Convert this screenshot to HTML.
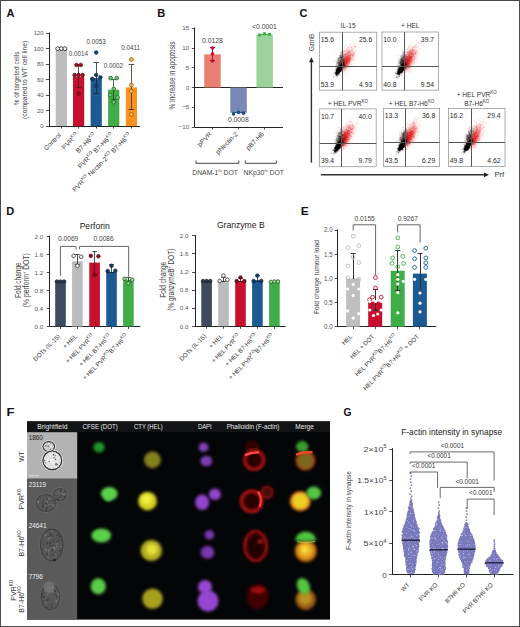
<!DOCTYPE html>
<html><head><meta charset="utf-8"><style>
html,body{margin:0;padding:0;background:#fff;}
body{width:520px;height:627px;overflow:hidden;}
svg{display:block;}
text{font-family:"Liberation Sans", sans-serif;}
</style></head><body>
<svg width="520" height="627" viewBox="0 0 520 627">
<text x="6.50" y="16.50" font-size="10" text-anchor="start" fill="#111" font-weight="bold" textLength="8.0" lengthAdjust="spacingAndGlyphs">A</text>
<line x1="49.50" y1="32.50" x2="49.50" y2="126.10" stroke="#222" stroke-width="1.0"/>
<line x1="49.00" y1="126.50" x2="140.00" y2="126.50" stroke="#222" stroke-width="1.0"/>
<line x1="46.00" y1="126.50" x2="49.00" y2="126.50" stroke="#222" stroke-width="0.8"/>
<text x="43.70" y="128.20" font-size="6.0" text-anchor="end" fill="#555">0</text>
<line x1="46.00" y1="110.50" x2="49.00" y2="110.50" stroke="#222" stroke-width="0.8"/>
<text x="43.70" y="112.72" font-size="6.0" text-anchor="end" fill="#555">20</text>
<line x1="46.00" y1="95.50" x2="49.00" y2="95.50" stroke="#222" stroke-width="0.8"/>
<text x="43.70" y="97.23" font-size="6.0" text-anchor="end" fill="#555">40</text>
<line x1="46.00" y1="79.50" x2="49.00" y2="79.50" stroke="#222" stroke-width="0.8"/>
<text x="43.70" y="81.75" font-size="6.0" text-anchor="end" fill="#555">60</text>
<line x1="46.00" y1="64.50" x2="49.00" y2="64.50" stroke="#222" stroke-width="0.8"/>
<text x="43.70" y="66.27" font-size="6.0" text-anchor="end" fill="#555">80</text>
<line x1="46.00" y1="48.50" x2="49.00" y2="48.50" stroke="#222" stroke-width="0.8"/>
<text x="43.70" y="50.78" font-size="6.0" text-anchor="end" fill="#555">100</text>
<line x1="46.00" y1="33.50" x2="49.00" y2="33.50" stroke="#222" stroke-width="0.8"/>
<text x="43.70" y="35.30" font-size="6.0" text-anchor="end" fill="#555">120</text>
<text transform="translate(18.60,78.40) rotate(-90)" font-size="7.6" text-anchor="middle" fill="#444" textLength="53.8" lengthAdjust="spacingAndGlyphs">% of targeted cells</text>
<text transform="translate(27.10,79.80) rotate(-90)" font-size="7.6" text-anchor="middle" fill="#444" textLength="78.2" lengthAdjust="spacingAndGlyphs">(compared to WT cell line)</text>
<rect x="55.70" y="48.68" width="11.20" height="77.42" fill="#bcbcbe"/>
<line x1="61.50" y1="126.10" x2="61.50" y2="128.60" stroke="#222" stroke-width="0.8"/>
<rect x="73.00" y="76.55" width="11.20" height="49.55" fill="#c8102e"/>
<line x1="78.50" y1="126.10" x2="78.50" y2="128.60" stroke="#222" stroke-width="0.8"/>
<rect x="90.60" y="78.10" width="11.20" height="48.00" fill="#1b5a93"/>
<line x1="96.50" y1="126.10" x2="96.50" y2="128.60" stroke="#222" stroke-width="0.8"/>
<rect x="108.10" y="89.71" width="11.20" height="36.39" fill="#3fae49"/>
<line x1="113.50" y1="126.10" x2="113.50" y2="128.60" stroke="#222" stroke-width="0.8"/>
<rect x="125.80" y="87.39" width="11.20" height="38.71" fill="#f7931e"/>
<line x1="131.50" y1="126.10" x2="131.50" y2="128.60" stroke="#222" stroke-width="0.8"/>
<circle cx="57.70" cy="48.68" r="1.90" fill="#fff" stroke="#333" stroke-width="0.9"/>
<circle cx="61.30" cy="48.68" r="1.90" fill="#fff" stroke="#333" stroke-width="0.9"/>
<circle cx="64.90" cy="48.68" r="1.90" fill="#fff" stroke="#333" stroke-width="0.9"/>
<line x1="78.50" y1="64.94" x2="78.50" y2="87.39" stroke="#3a1a1a" stroke-width="0.8"/>
<line x1="76.10" y1="64.50" x2="81.10" y2="64.50" stroke="#3a1a1a" stroke-width="0.8"/>
<line x1="76.10" y1="87.50" x2="81.10" y2="87.50" stroke="#3a1a1a" stroke-width="0.8"/>
<circle cx="76.40" cy="64.94" r="1.80" fill="#a0101e" stroke="#4a0a10" stroke-width="0.7"/>
<circle cx="80.80" cy="64.94" r="1.80" fill="#a0101e" stroke="#4a0a10" stroke-width="0.7"/>
<circle cx="74.60" cy="75.00" r="1.80" fill="#a0101e" stroke="#4a0a10" stroke-width="0.7"/>
<circle cx="78.60" cy="75.00" r="1.80" fill="#a0101e" stroke="#4a0a10" stroke-width="0.7"/>
<circle cx="82.60" cy="75.00" r="1.80" fill="#a0101e" stroke="#4a0a10" stroke-width="0.7"/>
<circle cx="78.60" cy="93.58" r="1.80" fill="#a0101e" stroke="#4a0a10" stroke-width="0.7"/>
<line x1="96.50" y1="62.62" x2="96.50" y2="93.58" stroke="#222" stroke-width="0.8"/>
<line x1="93.45" y1="62.50" x2="98.95" y2="62.50" stroke="#222" stroke-width="0.8"/>
<line x1="93.45" y1="93.50" x2="98.95" y2="93.50" stroke="#222" stroke-width="0.8"/>
<circle cx="96.20" cy="52.55" r="1.80" fill="#12406a" stroke="#0d2a45" stroke-width="0.7"/>
<circle cx="96.20" cy="75.00" r="1.80" fill="#12406a" stroke="#0d2a45" stroke-width="0.7"/>
<circle cx="92.30" cy="78.88" r="1.80" fill="#12406a" stroke="#0d2a45" stroke-width="0.7"/>
<circle cx="100.40" cy="77.33" r="1.80" fill="#12406a" stroke="#0d2a45" stroke-width="0.7"/>
<circle cx="96.20" cy="85.84" r="1.80" fill="#12406a" stroke="#0d2a45" stroke-width="0.7"/>
<line x1="113.50" y1="79.65" x2="113.50" y2="99.78" stroke="#1c4a20" stroke-width="0.8"/>
<line x1="111.20" y1="79.50" x2="116.20" y2="79.50" stroke="#1c4a20" stroke-width="0.8"/>
<line x1="111.20" y1="99.50" x2="116.20" y2="99.50" stroke="#1c4a20" stroke-width="0.8"/>
<circle cx="110.60" cy="78.10" r="1.90" fill="#6cc070" stroke="#2a6a2e" stroke-width="0.8"/>
<circle cx="116.80" cy="78.10" r="1.90" fill="#6cc070" stroke="#2a6a2e" stroke-width="0.8"/>
<circle cx="113.70" cy="88.94" r="1.90" fill="#6cc070" stroke="#2a6a2e" stroke-width="0.8"/>
<circle cx="110.20" cy="95.13" r="1.90" fill="#6cc070" stroke="#2a6a2e" stroke-width="0.8"/>
<circle cx="117.40" cy="97.46" r="1.90" fill="#6cc070" stroke="#2a6a2e" stroke-width="0.8"/>
<circle cx="113.70" cy="102.10" r="1.90" fill="#6cc070" stroke="#2a6a2e" stroke-width="0.8"/>
<line x1="131.50" y1="64.94" x2="131.50" y2="109.84" stroke="#3a2a10" stroke-width="0.8"/>
<line x1="128.65" y1="64.50" x2="134.15" y2="64.50" stroke="#3a2a10" stroke-width="0.8"/>
<line x1="128.65" y1="109.50" x2="134.15" y2="109.50" stroke="#3a2a10" stroke-width="0.8"/>
<circle cx="131.40" cy="59.52" r="1.90" fill="#fbb35a" stroke="#9a5a10" stroke-width="0.8"/>
<circle cx="131.40" cy="85.07" r="1.90" fill="#fbb35a" stroke="#9a5a10" stroke-width="0.8"/>
<circle cx="131.40" cy="91.26" r="1.90" fill="#fbb35a" stroke="#9a5a10" stroke-width="0.8"/>
<circle cx="131.40" cy="114.49" r="1.90" fill="#fbb35a" stroke="#9a5a10" stroke-width="0.8"/>
<text x="78.30" y="55.60" font-size="6.3" text-anchor="middle" fill="#444">0.0014</text>
<text x="96.20" y="43.60" font-size="6.3" text-anchor="middle" fill="#444">0.0053</text>
<text x="113.40" y="68.30" font-size="6.3" text-anchor="middle" fill="#444">0.0002</text>
<text x="121.20" y="49.90" font-size="6.3" text-anchor="start" fill="#444">0.0411</text>
<text transform="translate(61.50,135.70) rotate(-45)" font-size="6.6" text-anchor="end" fill="#383838">Control</text>
<text transform="translate(78.80,135.70) rotate(-45)" font-size="6.6" text-anchor="end" fill="#383838">PVR<tspan font-size="4.5" dy="-3">KO</tspan><tspan dy="3"></tspan></text>
<text transform="translate(96.40,135.70) rotate(-45)" font-size="6.6" text-anchor="end" fill="#383838">B7-H6<tspan font-size="4.5" dy="-3">KO</tspan><tspan dy="3"></tspan></text>
<text transform="translate(113.90,135.70) rotate(-45)" font-size="6.6" text-anchor="end" fill="#383838">PVR<tspan font-size="4.5" dy="-3">KO</tspan><tspan dy="3"> B7-H6</tspan><tspan font-size="4.5" dy="-3">KO</tspan><tspan dy="3"></tspan></text>
<text transform="translate(131.60,135.70) rotate(-45)" font-size="6.6" text-anchor="end" fill="#383838">PVR<tspan font-size="4.5" dy="-3">KO</tspan><tspan dy="3"> Nectin-2</tspan><tspan font-size="4.5" dy="-3">KO</tspan><tspan dy="3"> B7-H6</tspan><tspan font-size="4.5" dy="-3">KO</tspan><tspan dy="3"></tspan></text>
<text x="157.20" y="16.50" font-size="10" text-anchor="start" fill="#111" font-weight="bold" textLength="8.0" lengthAdjust="spacingAndGlyphs">B</text>
<line x1="194.50" y1="27.50" x2="194.50" y2="127.00" stroke="#222" stroke-width="1.0"/>
<line x1="194.80" y1="127.50" x2="283.00" y2="127.50" stroke="#222" stroke-width="1.0"/>
<line x1="194.80" y1="87.50" x2="283.00" y2="87.50" stroke="#222" stroke-width="1.0"/>
<line x1="191.80" y1="28.50" x2="194.80" y2="28.50" stroke="#222" stroke-width="0.8"/>
<text x="189.20" y="30.45" font-size="6.2" text-anchor="end" fill="#555">15</text>
<line x1="191.80" y1="48.50" x2="194.80" y2="48.50" stroke="#222" stroke-width="0.8"/>
<text x="189.20" y="50.20" font-size="6.2" text-anchor="end" fill="#555">10</text>
<line x1="191.80" y1="67.50" x2="194.80" y2="67.50" stroke="#222" stroke-width="0.8"/>
<text x="189.20" y="69.95" font-size="6.2" text-anchor="end" fill="#555">5</text>
<line x1="191.80" y1="87.50" x2="194.80" y2="87.50" stroke="#222" stroke-width="0.8"/>
<text x="189.20" y="89.70" font-size="6.2" text-anchor="end" fill="#555">0</text>
<line x1="191.80" y1="107.50" x2="194.80" y2="107.50" stroke="#222" stroke-width="0.8"/>
<text x="189.20" y="109.45" font-size="6.2" text-anchor="end" fill="#555">−5</text>
<line x1="191.80" y1="127.50" x2="194.80" y2="127.50" stroke="#222" stroke-width="0.8"/>
<text x="189.20" y="129.20" font-size="6.2" text-anchor="end" fill="#555">−10</text>
<text transform="translate(174.80,75.50) rotate(-90)" font-size="8.6" text-anchor="middle" fill="#444" textLength="68" lengthAdjust="spacingAndGlyphs">% Increase in apoptosis</text>
<rect x="204.20" y="54.32" width="16.50" height="33.18" fill="#e97e72"/>
<rect x="230.30" y="87.50" width="16.50" height="25.28" fill="#7886b8"/>
<rect x="256.40" y="34.96" width="16.50" height="52.54" fill="#9cd39a"/>
<line x1="212.50" y1="47.21" x2="212.50" y2="60.64" stroke="#c01030" stroke-width="1.0"/>
<line x1="210.00" y1="47.50" x2="215.00" y2="47.50" stroke="#c01030" stroke-width="1.0"/>
<line x1="210.00" y1="60.50" x2="215.00" y2="60.50" stroke="#c01030" stroke-width="1.0"/>
<circle cx="212.50" cy="48.00" r="1.80" fill="#c8102e" stroke="none" stroke-width="0.6"/>
<circle cx="212.50" cy="53.92" r="1.80" fill="#c8102e" stroke="none" stroke-width="0.6"/>
<circle cx="212.50" cy="61.03" r="1.80" fill="#c8102e" stroke="none" stroke-width="0.6"/>
<line x1="232.50" y1="112.50" x2="244.50" y2="112.50" stroke="#1b5a93" stroke-width="1.0"/>
<circle cx="233.50" cy="113.97" r="1.80" fill="#1b4f88" stroke="none" stroke-width="0.6"/>
<circle cx="238.50" cy="112.38" r="1.80" fill="#1b4f88" stroke="none" stroke-width="0.6"/>
<circle cx="243.50" cy="113.17" r="1.80" fill="#1b4f88" stroke="none" stroke-width="0.6"/>
<line x1="259.00" y1="34.50" x2="270.00" y2="34.50" stroke="#3fae49" stroke-width="1.0"/>
<circle cx="259.50" cy="34.96" r="1.80" fill="#3fae49" stroke="none" stroke-width="0.6"/>
<circle cx="264.50" cy="33.78" r="1.80" fill="#3fae49" stroke="none" stroke-width="0.6"/>
<circle cx="269.50" cy="34.57" r="1.80" fill="#3fae49" stroke="none" stroke-width="0.6"/>
<text x="212.50" y="43.00" font-size="6.8" text-anchor="middle" fill="#444">0.0128</text>
<text x="264.50" y="28.60" font-size="6.8" text-anchor="middle" fill="#444">&lt;0.0001</text>
<text x="238.30" y="122.30" font-size="6.8" text-anchor="middle" fill="#444">0.0008</text>
<line x1="212.50" y1="127.00" x2="212.50" y2="129.50" stroke="#222" stroke-width="0.8"/>
<line x1="238.50" y1="127.00" x2="238.50" y2="129.50" stroke="#222" stroke-width="0.8"/>
<line x1="264.50" y1="127.00" x2="264.50" y2="129.50" stroke="#222" stroke-width="0.8"/>
<text transform="translate(212.20,134.70) rotate(-45)" font-size="6.6" text-anchor="end" fill="#383838">pPVR</text>
<text transform="translate(238.30,134.70) rotate(-45)" font-size="6.6" text-anchor="end" fill="#383838">pNectin-2</text>
<text transform="translate(264.40,134.70) rotate(-45)" font-size="6.6" text-anchor="end" fill="#383838">pB7-H6</text>
<path d="M196,160.5 V163.3 H238.8 V160.5" fill="none" stroke="#333" stroke-width="0.9"/>
<path d="M245.3,160.5 V163.3 H276.4 V160.5" fill="none" stroke="#333" stroke-width="0.9"/>
<text x="192.30" y="175.20" font-size="6.8" text-anchor="start" fill="#444">DNAM-1<tspan font-size="4.2" dy="-3">hi</tspan><tspan dy="3"> DOT</tspan></text>
<text x="243.60" y="175.20" font-size="6.8" text-anchor="start" fill="#444">NKp30<tspan font-size="4.2" dy="-3">hi</tspan><tspan dy="3"> DOT</tspan></text>
<text x="299.50" y="16.50" font-size="10" text-anchor="start" fill="#111" font-weight="bold" textLength="8.0" lengthAdjust="spacingAndGlyphs">C</text>
<rect x="319.50" y="32.20" width="57.20" height="58.00" fill="#fff" stroke="#999" stroke-width="0.8"/>
<path d="M347.5 57.9h.1M350.5 57.2h.1M348.0 60.3h.1M346.6 64.3h.1M345.8 60.5h.1M346.4 65.0h.1M344.8 56.1h.1M353.8 50.9h.1M352.0 64.0h.1M347.6 62.7h.1M354.3 57.7h.1M348.8 55.9h.1M345.2 56.0h.1M343.1 62.8h.1M351.0 59.9h.1M351.7 54.8h.1M338.9 63.8h.1M345.4 60.4h.1M341.7 69.5h.1M340.9 64.4h.1M335.6 65.9h.1M343.5 57.7h.1M343.3 65.5h.1M347.5 55.9h.1M346.5 56.2h.1M348.6 59.9h.1M342.6 74.6h.1M345.8 61.2h.1M349.9 59.5h.1M348.1 57.4h.1M342.6 67.1h.1M340.1 57.8h.1M346.8 65.0h.1M345.4 63.1h.1M351.3 51.8h.1M344.0 62.3h.1M344.8 56.8h.1M351.6 53.3h.1M347.9 62.6h.1M351.5 60.8h.1M350.3 58.6h.1M346.4 56.9h.1M343.7 65.4h.1M350.5 58.9h.1M352.8 50.3h.1M342.7 67.3h.1M349.0 52.1h.1M349.5 58.1h.1M346.3 62.2h.1M358.5 48.3h.1M352.9 54.9h.1M339.7 63.1h.1M353.5 60.4h.1M350.3 55.0h.1M346.5 58.9h.1M350.7 54.4h.1M349.5 59.5h.1M349.8 54.0h.1M352.1 49.3h.1M345.7 62.2h.1M353.1 59.2h.1M346.6 61.0h.1M350.2 58.4h.1M345.4 65.9h.1M345.2 61.2h.1M345.3 58.3h.1M348.1 51.4h.1M352.4 51.7h.1M341.1 64.8h.1M342.1 61.3h.1M346.7 52.6h.1M337.9 68.2h.1M346.5 61.0h.1M347.7 58.8h.1M349.3 49.3h.1M353.3 55.6h.1M346.0 59.7h.1M347.8 60.9h.1M347.8 60.0h.1M356.8 51.1h.1M348.6 61.8h.1M346.7 59.9h.1M346.4 54.7h.1M344.7 57.4h.1M347.2 59.3h.1M344.6 65.0h.1M349.7 59.2h.1M345.2 60.2h.1M351.8 51.3h.1M348.1 53.2h.1M343.0 55.8h.1M349.7 54.0h.1M350.4 62.0h.1M353.1 52.8h.1M351.4 60.0h.1M352.5 56.0h.1M340.2 64.1h.1M348.1 55.6h.1M346.3 70.2h.1M339.6 69.5h.1M343.4 58.2h.1M345.8 63.9h.1M349.9 57.9h.1M355.4 44.8h.1M344.3 62.7h.1M344.0 60.9h.1M345.2 55.2h.1M346.0 53.4h.1M344.0 57.5h.1M343.4 57.5h.1M348.1 52.9h.1M353.2 56.9h.1M344.7 64.4h.1M346.5 58.1h.1M348.7 58.3h.1M342.0 63.2h.1M349.3 56.9h.1M347.3 64.4h.1M346.9 50.2h.1M346.5 56.0h.1M347.3 57.2h.1M343.4 60.4h.1M344.5 57.3h.1M340.6 69.7h.1M350.5 68.1h.1M350.5 56.7h.1M342.2 71.5h.1M352.8 54.2h.1M341.7 68.3h.1M346.9 51.8h.1M346.2 63.8h.1M352.9 54.8h.1M342.8 54.5h.1M344.0 67.9h.1M354.6 52.1h.1M351.4 49.0h.1M346.3 57.8h.1M348.6 60.6h.1M345.1 57.9h.1M345.8 64.5h.1M353.4 52.6h.1M345.5 61.1h.1M345.5 57.3h.1M346.8 63.6h.1M344.8 61.4h.1M343.9 65.9h.1M344.2 46.7h.1M349.0 59.9h.1M347.0 50.3h.1M347.8 58.0h.1M345.8 62.4h.1M344.7 59.0h.1M343.6 60.2h.1M344.4 56.3h.1M345.6 59.8h.1M348.2 60.6h.1M344.7 67.1h.1M343.8 62.2h.1M351.2 47.2h.1M341.9 60.2h.1M343.3 63.8h.1M345.9 54.6h.1M348.0 47.5h.1M342.7 66.6h.1M350.8 61.2h.1M348.7 63.4h.1M345.9 70.6h.1M345.8 51.5h.1M349.7 59.3h.1M344.6 55.9h.1M343.8 61.8h.1M344.6 53.0h.1M343.3 59.9h.1M347.4 59.0h.1M344.7 65.0h.1M343.6 65.3h.1M351.3 49.7h.1M347.4 61.8h.1M348.6 56.3h.1M343.3 56.1h.1M350.6 62.9h.1M345.4 60.7h.1M351.9 55.4h.1M346.2 59.6h.1M345.0 57.8h.1M347.8 57.9h.1M349.2 49.9h.1M353.8 56.0h.1M345.9 54.2h.1M347.4 62.2h.1M341.7 65.6h.1M350.1 52.0h.1M357.3 55.5h.1M349.1 59.8h.1M348.7 54.4h.1M346.0 51.2h.1M349.4 52.6h.1M349.8 52.1h.1M349.8 62.6h.1M348.6 46.9h.1M339.1 63.2h.1M350.2 52.7h.1M349.7 55.3h.1M354.5 54.8h.1M351.1 45.5h.1M345.2 45.4h.1M342.2 64.0h.1M339.1 66.6h.1M348.7 52.3h.1M347.0 65.4h.1M344.1 56.3h.1M353.4 54.5h.1M343.1 68.2h.1M340.4 70.4h.1M346.1 55.3h.1M346.7 57.2h.1M345.8 59.0h.1M349.7 58.8h.1M348.3 64.9h.1M342.8 67.1h.1M348.9 59.9h.1M348.0 65.6h.1M345.8 69.6h.1M350.4 55.6h.1M352.2 60.8h.1M352.3 57.3h.1M348.8 66.1h.1M345.1 61.7h.1M343.5 63.5h.1M339.7 60.7h.1M352.1 58.8h.1M346.9 63.6h.1M346.3 54.6h.1M349.2 56.2h.1M354.7 46.2h.1M338.9 64.2h.1M351.2 53.1h.1M350.3 60.1h.1M351.0 59.8h.1M342.3 66.3h.1M345.4 60.4h.1M353.4 55.3h.1M349.9 59.8h.1M346.5 56.8h.1M345.2 59.0h.1M352.8 51.9h.1M345.9 57.3h.1M339.3 70.6h.1M350.1 64.5h.1M342.3 70.3h.1M336.5 77.2h.1M347.4 62.0h.1M357.2 52.7h.1M348.5 58.1h.1M342.0 64.1h.1M340.6 61.6h.1M356.8 54.0h.1M341.3 53.6h.1M350.7 59.2h.1M345.0 57.1h.1M344.5 56.1h.1M347.5 51.8h.1M348.9 54.5h.1M351.3 58.2h.1M342.8 63.5h.1M351.0 55.8h.1M352.0 65.5h.1M343.7 47.6h.1M341.8 64.8h.1M342.5 56.4h.1M349.9 59.2h.1M339.7 64.1h.1M348.8 45.5h.1M348.1 47.1h.1M346.2 60.8h.1M353.1 54.9h.1M349.2 55.9h.1M345.2 76.7h.1M352.8 58.7h.1M347.2 58.3h.1M350.4 58.8h.1M344.7 64.7h.1M347.1 59.8h.1M342.1 56.5h.1M347.9 49.1h.1M348.7 56.0h.1M344.5 56.4h.1M354.3 49.8h.1M346.8 61.8h.1M344.0 59.2h.1M345.2 70.6h.1M353.2 48.9h.1M354.0 53.9h.1M350.1 52.3h.1M345.4 51.8h.1M349.9 58.3h.1M347.7 56.4h.1M349.1 60.7h.1M349.9 60.7h.1M351.0 59.3h.1M348.5 46.9h.1M343.2 51.5h.1M346.2 57.7h.1M347.7 62.5h.1M343.8 60.9h.1M353.4 48.7h.1M347.1 53.9h.1M347.1 57.2h.1M345.8 59.7h.1M342.6 63.9h.1M348.9 59.2h.1M351.3 53.2h.1M350.8 62.6h.1M348.0 60.0h.1M350.6 61.2h.1M348.3 57.5h.1M345.2 68.9h.1M346.6 59.3h.1M343.8 62.6h.1M354.0 54.5h.1M347.3 63.7h.1M351.8 55.7h.1M350.4 47.8h.1M342.2 57.7h.1M343.5 60.5h.1M349.1 57.3h.1M343.8 56.1h.1M348.4 66.0h.1M345.1 53.2h.1M355.5 46.7h.1M354.0 63.2h.1M340.1 55.7h.1M340.3 62.3h.1M351.3 57.4h.1M343.3 65.3h.1M344.7 65.0h.1M351.3 50.1h.1M348.6 65.4h.1M352.7 52.3h.1M351.1 48.1h.1M347.8 56.1h.1M346.2 53.1h.1M353.4 46.1h.1M340.9 56.1h.1M347.6 62.5h.1M342.8 65.9h.1M352.7 60.3h.1M355.4 50.7h.1M347.1 50.4h.1M347.1 64.9h.1M343.6 62.5h.1M346.2 61.1h.1M351.2 57.6h.1M347.9 59.7h.1M349.6 57.4h.1M349.8 56.8h.1M344.7 58.8h.1M345.8 57.4h.1M349.7 57.5h.1M349.7 59.7h.1M348.4 54.6h.1M353.6 46.8h.1M346.8 53.1h.1M340.9 54.2h.1M340.2 67.1h.1M348.9 55.7h.1M342.0 70.0h.1M345.5 67.7h.1M352.6 54.0h.1M352.4 55.0h.1M348.2 59.4h.1M343.4 68.9h.1M344.5 59.3h.1M346.5 62.6h.1M350.1 54.4h.1M357.7 45.9h.1M344.0 54.5h.1M343.9 62.1h.1M339.4 62.7h.1M345.4 57.3h.1M343.2 57.1h.1M344.7 65.3h.1M346.1 56.4h.1M337.1 61.4h.1M354.2 52.9h.1M347.8 50.0h.1M346.6 49.2h.1M345.0 60.3h.1M347.2 53.9h.1M343.9 57.1h.1M348.1 61.2h.1M345.5 59.5h.1M345.9 67.0h.1M344.9 67.7h.1M351.7 54.0h.1M347.4 59.4h.1M347.9 56.5h.1M349.5 51.3h.1M346.0 70.4h.1M339.9 60.1h.1M345.1 55.4h.1M346.9 54.6h.1M347.4 60.8h.1M351.0 51.9h.1M346.8 56.0h.1M342.8 64.8h.1M349.2 65.9h.1M348.1 52.1h.1M341.3 51.3h.1M346.6 72.0h.1M349.1 48.5h.1M348.5 53.9h.1M352.0 50.0h.1M342.8 58.5h.1M349.8 61.4h.1M343.7 64.6h.1M351.6 40.7h.1M347.6 59.3h.1M353.6 48.9h.1M345.3 61.8h.1M349.3 57.6h.1M338.3 66.0h.1M348.8 61.5h.1M348.3 50.9h.1M347.1 67.3h.1M349.1 50.6h.1M348.9 56.1h.1M351.2 67.8h.1M346.1 61.0h.1M349.0 62.2h.1M348.6 58.9h.1M341.9 59.2h.1M348.0 64.5h.1M349.5 61.3h.1M340.6 62.3h.1M343.3 65.7h.1M343.4 56.2h.1M349.5 52.2h.1M345.2 68.5h.1M347.8 58.1h.1M342.3 60.3h.1M342.1 62.6h.1M350.2 52.8h.1M345.9 61.1h.1M352.5 49.1h.1M346.7 63.5h.1M343.7 53.0h.1M346.9 59.4h.1M348.3 64.1h.1M350.7 55.1h.1M345.2 58.0h.1M347.8 53.5h.1M347.8 58.5h.1M346.0 65.5h.1M347.2 58.6h.1M352.2 60.0h.1M354.0 54.0h.1M342.7 62.4h.1M348.8 58.9h.1M341.3 67.9h.1M346.4 52.4h.1M342.5 63.7h.1M342.0 68.9h.1M341.8 55.5h.1M349.2 50.4h.1M343.8 67.7h.1M342.3 63.6h.1M344.2 62.0h.1M346.4 66.0h.1M348.6 55.6h.1M345.5 63.1h.1M350.6 65.0h.1M349.9 54.7h.1M346.0 63.0h.1M350.1 56.0h.1M349.0 66.1h.1M344.8 65.8h.1M342.0 69.2h.1M353.1 46.6h.1M349.6 61.5h.1M346.7 55.7h.1M350.7 59.8h.1M348.7 57.3h.1M344.3 55.9h.1M355.3 47.4h.1M345.7 65.0h.1M339.9 66.0h.1M345.5 64.7h.1M344.3 66.5h.1M349.3 53.2h.1M347.3 51.6h.1M350.5 66.8h.1M345.5 67.5h.1M349.2 61.5h.1M354.8 51.0h.1M341.2 76.2h.1M351.5 55.9h.1M343.5 64.1h.1M353.2 52.9h.1M343.9 64.4h.1M345.7 59.2h.1M344.9 68.1h.1M344.2 63.7h.1M347.5 47.4h.1M349.3 52.6h.1M348.0 61.3h.1M345.1 63.4h.1M344.2 70.7h.1M345.7 60.0h.1M345.2 57.0h.1M349.5 59.6h.1M347.9 58.8h.1M341.2 63.3h.1M348.7 59.1h.1M347.0 58.0h.1M354.3 51.6h.1M355.5 47.8h.1M348.5 59.5h.1M339.6 59.8h.1M348.5 58.9h.1M347.1 62.4h.1M346.8 63.2h.1M347.8 58.6h.1M342.7 63.5h.1M349.0 54.1h.1M342.0 55.9h.1M347.8 56.2h.1M343.3 57.2h.1M344.6 62.0h.1M343.1 62.9h.1M350.6 61.3h.1M346.2 61.5h.1M348.5 56.7h.1M348.2 58.3h.1M349.0 69.1h.1M345.5 56.4h.1M344.5 66.6h.1M346.8 62.3h.1M347.4 60.1h.1M341.8 70.9h.1M346.8 56.9h.1M351.4 58.8h.1M349.5 60.2h.1M345.5 60.2h.1M346.1 60.1h.1M345.6 64.4h.1M348.3 60.4h.1M348.1 62.4h.1M348.0 57.5h.1M340.8 63.7h.1M351.1 58.0h.1M344.1 55.1h.1M345.0 57.7h.1M347.4 61.3h.1M347.3 53.6h.1M346.2 70.0h.1M353.5 57.5h.1M351.7 58.2h.1M349.5 56.8h.1M349.6 56.1h.1M346.9 62.6h.1M346.5 59.4h.1M355.1 57.0h.1M347.6 54.7h.1M351.9 58.6h.1M344.6 68.0h.1M350.3 55.3h.1M354.2 52.4h.1M354.3 53.7h.1M350.9 57.9h.1M342.8 67.5h.1M349.0 51.5h.1M345.7 58.1h.1M342.4 74.7h.1M350.8 56.8h.1M345.4 68.3h.1M342.4 65.3h.1M350.9 64.5h.1M348.3 48.7h.1M347.7 60.9h.1M350.5 57.4h.1M352.1 47.0h.1M349.9 47.0h.1M346.4 58.2h.1M344.1 58.1h.1M343.4 65.5h.1M342.3 60.6h.1M345.7 53.8h.1M349.1 55.7h.1M344.2 55.4h.1M350.2 51.8h.1M345.0 62.6h.1M349.8 59.6h.1M350.6 53.9h.1M347.4 53.4h.1M354.3 53.2h.1M347.1 54.7h.1M345.7 59.4h.1M348.0 55.4h.1M350.2 67.0h.1M342.8 68.1h.1M347.7 53.6h.1M349.4 59.3h.1M348.3 56.0h.1M348.5 71.4h.1M344.7 59.3h.1M347.5 62.5h.1M342.7 62.1h.1M345.4 74.1h.1M344.8 59.1h.1M351.0 52.9h.1M346.7 54.6h.1M348.1 62.9h.1M349.2 58.9h.1M344.1 50.5h.1M341.2 75.8h.1M349.0 59.7h.1M350.0 55.1h.1M352.3 55.2h.1M349.8 46.1h.1M346.6 48.9h.1M350.4 57.0h.1M353.0 58.4h.1M347.0 51.7h.1M343.1 59.8h.1M345.4 57.2h.1M347.4 51.0h.1M355.9 47.3h.1M347.5 59.2h.1M351.0 60.1h.1M351.9 58.7h.1M349.2 48.6h.1M349.2 59.1h.1M346.2 46.1h.1M344.4 63.8h.1M348.7 60.0h.1M344.9 58.2h.1M345.4 50.9h.1M349.6 51.0h.1M346.1 68.7h.1M343.8 63.1h.1M345.1 54.1h.1M346.8 62.6h.1M344.9 68.2h.1M348.2 50.4h.1M348.8 54.8h.1M352.0 56.5h.1M347.1 61.4h.1M352.7 52.8h.1M346.1 59.1h.1M350.7 51.2h.1M341.8 62.0h.1M343.1 62.2h.1M352.3 58.8h.1M344.4 61.7h.1M347.4 52.7h.1M347.2 55.8h.1M342.1 62.2h.1M349.2 58.3h.1M349.0 61.4h.1M348.0 51.2h.1M348.4 63.2h.1M351.8 63.5h.1M348.7 49.3h.1M356.4 45.4h.1M354.6 46.3h.1M351.4 59.5h.1M351.7 58.4h.1M355.3 50.2h.1M348.1 59.2h.1M343.6 63.4h.1M353.9 60.3h.1M347.1 54.3h.1M348.1 64.6h.1M345.3 69.4h.1M341.4 65.8h.1M349.8 54.1h.1M349.2 64.6h.1M342.4 56.4h.1M350.5 57.8h.1M348.9 53.9h.1M346.0 59.8h.1M345.5 53.1h.1M346.0 64.0h.1M343.9 58.9h.1M346.4 65.2h.1M348.2 49.7h.1M349.5 59.2h.1M346.3 63.0h.1M341.6 57.6h.1M346.1 58.9h.1M349.5 53.6h.1M336.9 64.7h.1M343.5 63.8h.1M348.5 61.4h.1M353.5 41.7h.1M353.6 53.8h.1M344.3 57.2h.1M346.7 52.1h.1M355.4 46.3h.1M348.5 60.2h.1M346.0 60.0h.1M351.3 50.6h.1M351.7 56.3h.1M348.2 53.2h.1M351.3 63.8h.1M354.7 46.9h.1M353.9 48.2h.1M350.1 54.9h.1M348.9 53.4h.1M344.5 71.9h.1M348.0 53.4h.1M347.5 59.4h.1M350.6 56.2h.1M353.2 55.7h.1M349.6 61.6h.1M341.5 67.8h.1M351.2 57.0h.1M345.1 62.4h.1M343.8 58.6h.1M343.1 60.3h.1M342.5 58.0h.1M341.2 72.4h.1M354.2 52.1h.1M345.7 55.1h.1M350.2 50.9h.1M350.8 44.5h.1M347.6 57.8h.1M338.9 67.3h.1M342.7 62.3h.1M342.0 64.4h.1M344.7 60.4h.1M346.8 57.0h.1M340.8 69.8h.1M348.1 55.6h.1M340.4 65.8h.1M349.8 56.9h.1M342.8 56.4h.1M346.9 60.0h.1M344.8 57.1h.1M346.2 61.4h.1M346.3 62.0h.1M337.2 65.5h.1M348.3 58.6h.1M356.6 48.5h.1M355.6 46.9h.1M352.5 50.4h.1M344.2 50.9h.1M345.0 61.8h.1M349.6 48.0h.1M350.0 59.7h.1M346.5 58.0h.1M345.0 58.9h.1M343.2 55.1h.1M348.1 61.6h.1M345.8 57.7h.1M343.5 64.2h.1M349.1 61.6h.1M354.7 44.2h.1M348.1 58.8h.1M352.9 62.5h.1M347.7 54.0h.1M348.4 53.0h.1M345.3 65.3h.1M350.4 61.0h.1M346.6 50.5h.1M347.7 56.0h.1M345.3 55.9h.1M348.8 46.7h.1M346.9 62.8h.1M345.8 56.4h.1M346.6 61.5h.1M352.4 49.1h.1M341.8 69.9h.1M345.5 62.1h.1M343.1 59.7h.1M349.3 53.8h.1M349.9 54.5h.1M352.6 49.9h.1M341.9 67.1h.1M352.2 54.6h.1M348.0 60.4h.1M345.7 62.1h.1M350.7 55.5h.1M345.1 63.7h.1M342.8 71.4h.1M341.3 57.6h.1M339.5 65.3h.1M344.4 61.3h.1M348.9 55.8h.1M342.9 53.2h.1M351.7 48.0h.1M347.2 59.3h.1M342.1 66.9h.1M344.5 62.2h.1M341.1 61.7h.1M343.9 65.4h.1M343.5 52.6h.1M347.9 63.1h.1M339.7 69.1h.1M352.3 55.1h.1M342.6 56.3h.1M349.6 56.3h.1M348.1 57.4h.1M347.2 53.0h.1M344.5 56.1h.1M354.3 52.0h.1M349.8 55.9h.1M352.4 57.5h.1M348.5 55.3h.1M343.4 67.0h.1M348.0 59.5h.1M348.6 60.5h.1M349.2 57.3h.1M345.3 67.2h.1M351.3 47.4h.1M344.0 55.4h.1M348.8 67.9h.1M342.6 68.5h.1M347.8 60.3h.1M346.1 57.9h.1M347.8 63.6h.1M348.3 57.6h.1M348.3 63.3h.1M347.5 53.7h.1M345.1 62.3h.1M347.9 58.4h.1M349.7 51.6h.1M356.2 42.7h.1M348.5 66.2h.1M344.6 60.0h.1M344.3 62.7h.1M350.4 53.5h.1M341.5 63.7h.1M343.0 59.3h.1M350.3 59.6h.1M346.6 65.0h.1M340.6 61.8h.1M342.5 59.0h.1M343.0 71.7h.1M346.2 68.3h.1M348.0 61.3h.1M349.3 57.8h.1M351.1 61.2h.1M342.0 68.7h.1M349.5 62.5h.1M353.2 54.8h.1M346.9 53.4h.1M349.1 59.4h.1M345.0 63.5h.1M347.9 53.3h.1M343.7 60.4h.1M344.9 65.5h.1M345.0 62.8h.1M354.2 50.3h.1M343.8 54.4h.1M349.5 50.1h.1M349.0 62.4h.1M350.5 52.3h.1M343.9 60.7h.1M345.9 58.3h.1M350.5 40.5h.1M346.4 51.5h.1M347.4 61.7h.1M347.6 58.6h.1M351.9 57.7h.1M350.7 50.3h.1M345.7 60.8h.1M335.2 65.0h.1M346.5 59.6h.1M353.1 60.7h.1M349.7 58.2h.1M351.4 49.9h.1M351.8 57.7h.1M352.4 54.2h.1M345.1 65.2h.1M349.4 52.3h.1M354.5 45.5h.1M352.3 54.5h.1M346.3 55.4h.1M349.5 57.8h.1M354.4 47.8h.1M348.3 65.4h.1M349.3 59.7h.1M347.3 54.4h.1M354.1 55.6h.1M346.4 60.7h.1M346.7 55.2h.1M347.7 60.2h.1M347.4 57.0h.1M350.1 60.3h.1M340.7 63.2h.1M344.7 56.7h.1M349.7 52.4h.1M349.1 66.2h.1M349.6 60.8h.1M347.1 52.7h.1M339.9 62.2h.1M347.4 56.5h.1M341.1 62.8h.1M352.7 51.9h.1M355.2 44.2h.1M353.8 45.7h.1M345.8 58.8h.1M353.8 55.5h.1M345.5 56.0h.1M344.5 55.6h.1M355.3 50.1h.1M347.0 67.8h.1M350.0 51.1h.1M349.1 59.2h.1M358.1 52.6h.1M346.1 55.8h.1M345.1 61.9h.1M349.7 56.9h.1M344.4 50.8h.1M347.4 57.6h.1M351.1 56.0h.1M345.7 61.0h.1M343.7 72.3h.1M352.3 53.5h.1M348.8 53.3h.1M349.5 57.8h.1M349.0 58.2h.1M346.5 49.5h.1M344.0 59.6h.1M343.3 61.2h.1M345.7 58.4h.1M350.0 50.2h.1M339.6 64.5h.1M351.3 50.8h.1M340.8 59.4h.1M346.7 65.9h.1M352.1 50.7h.1M350.9 60.4h.1M344.5 66.3h.1M345.2 59.5h.1M346.7 50.4h.1M353.0 51.7h.1M346.3 60.6h.1M349.8 56.0h.1M351.7 54.6h.1M348.7 63.5h.1M348.5 55.8h.1M352.0 60.5h.1M345.7 61.1h.1M346.0 61.0h.1M349.5 58.5h.1M350.3 59.2h.1M349.4 63.2h.1M341.4 58.1h.1M354.5 53.0h.1M344.2 54.7h.1M348.8 51.8h.1M352.3 51.2h.1M352.4 56.0h.1M351.9 42.9h.1M340.6 60.7h.1M352.5 54.3h.1M347.4 60.3h.1M350.6 45.4h.1M352.0 47.3h.1M336.4 67.2h.1M346.1 64.6h.1M348.2 53.3h.1M353.3 54.9h.1M344.5 50.8h.1M349.3 59.4h.1M354.7 58.1h.1M349.9 54.2h.1M347.7 58.7h.1M345.8 49.3h.1M341.5 72.1h.1M349.6 54.2h.1M342.9 63.5h.1M346.5 50.1h.1M347.1 59.5h.1M342.2 62.0h.1M347.4 55.1h.1M345.6 63.9h.1M344.6 63.4h.1M342.7 67.5h.1M349.9 59.4h.1M346.0 53.4h.1M354.3 53.6h.1M344.1 57.3h.1M348.4 50.4h.1M347.9 58.0h.1M349.3 59.6h.1M350.0 54.8h.1M349.6 51.0h.1M344.6 59.1h.1M346.1 59.1h.1M344.5 57.7h.1M349.3 58.2h.1M344.2 63.1h.1M354.8 53.8h.1M344.4 59.4h.1M348.6 55.0h.1M346.1 63.5h.1M345.7 54.3h.1M347.0 54.7h.1M353.6 64.3h.1M353.7 45.7h.1M352.5 57.7h.1M350.3 45.8h.1M344.1 48.9h.1M346.9 62.7h.1M346.2 60.2h.1M349.6 55.7h.1M346.9 57.2h.1M346.1 56.9h.1M343.4 58.0h.1M344.6 70.3h.1M342.8 57.3h.1M343.2 72.7h.1M348.0 55.4h.1M342.4 60.9h.1M343.5 61.4h.1M349.3 60.6h.1M350.3 57.3h.1M344.4 67.3h.1M342.3 68.7h.1M341.3 62.9h.1M344.6 72.1h.1M343.4 63.2h.1M350.9 47.6h.1M342.9 63.7h.1M348.4 53.4h.1M339.4 64.3h.1M347.3 55.5h.1M344.4 58.8h.1M346.0 57.6h.1M344.7 52.2h.1M357.9 49.9h.1M344.9 55.1h.1M348.7 57.6h.1M345.3 64.3h.1M351.9 55.7h.1M351.7 62.0h.1M351.2 53.5h.1M349.2 59.2h.1M351.7 46.8h.1M345.3 72.0h.1M343.0 57.9h.1M349.6 52.3h.1M347.2 60.5h.1M347.0 63.7h.1M348.8 60.6h.1M346.3 67.8h.1M349.4 58.0h.1M355.1 43.2h.1M351.6 51.3h.1M347.8 66.6h.1M345.6 63.6h.1M348.7 61.6h.1M350.3 51.7h.1M340.2 60.5h.1M343.9 61.4h.1M351.1 53.1h.1M354.5 54.9h.1M350.1 62.1h.1M348.5 67.0h.1M340.9 66.4h.1M347.4 63.2h.1M340.6 71.4h.1M351.5 54.3h.1M345.4 61.7h.1M345.5 53.2h.1M355.1 47.6h.1M352.1 51.3h.1M346.1 66.0h.1M348.0 51.6h.1M353.8 52.3h.1M348.2 64.0h.1M348.2 65.6h.1M350.9 60.5h.1M341.4 67.1h.1M345.5 45.7h.1M342.7 73.9h.1M341.7 63.5h.1M346.1 59.3h.1M349.7 60.8h.1M348.8 57.4h.1M349.0 56.7h.1M348.7 60.2h.1M346.1 48.6h.1M345.9 73.5h.1M346.6 57.5h.1M344.5 61.9h.1M349.5 58.0h.1M347.9 56.5h.1M342.5 62.4h.1M345.2 61.7h.1M349.0 52.6h.1M346.9 55.0h.1M350.8 64.8h.1M350.1 43.7h.1M348.8 41.0h.1M340.6 65.6h.1M345.9 54.8h.1M359.0 44.7h.1M350.3 53.4h.1M350.4 57.7h.1M348.5 60.0h.1M343.4 60.0h.1M349.0 60.3h.1M346.2 61.5h.1M354.8 56.0h.1M346.8 60.6h.1M346.0 60.6h.1M345.7 66.2h.1M349.3 59.2h.1M340.0 60.9h.1M350.2 60.7h.1M353.5 53.1h.1M350.8 56.8h.1M346.1 53.4h.1M343.3 53.1h.1M346.9 57.2h.1M349.1 59.7h.1M347.8 60.4h.1M347.2 52.0h.1M346.6 65.8h.1M348.0 48.0h.1M346.2 61.3h.1M344.3 64.5h.1M344.1 62.4h.1M347.6 64.5h.1M349.3 63.0h.1M342.6 67.2h.1M345.8 61.8h.1M340.9 63.7h.1M342.5 66.1h.1M346.1 65.7h.1M343.1 64.7h.1M344.3 68.1h.1M344.2 70.2h.1M339.2 64.5h.1M346.5 61.3h.1M346.7 59.8h.1M344.8 62.9h.1M343.8 60.4h.1M343.4 65.9h.1M342.7 63.9h.1M346.6 65.4h.1M344.9 68.9h.1M340.9 65.8h.1M342.6 63.3h.1M343.3 65.2h.1M342.6 67.2h.1M345.0 63.9h.1M345.2 66.3h.1M344.0 61.1h.1M343.6 64.3h.1M343.4 65.2h.1M344.3 64.3h.1M342.8 64.3h.1M342.8 66.0h.1M342.9 65.2h.1M347.5 64.5h.1M344.9 63.0h.1M343.4 59.8h.1M342.6 69.4h.1M344.2 66.0h.1M342.6 65.0h.1M343.5 63.6h.1M343.0 65.4h.1M346.2 67.8h.1M345.1 62.7h.1M346.6 65.8h.1M343.9 68.5h.1M345.9 61.4h.1M346.6 63.0h.1M342.5 65.5h.1M341.3 59.8h.1M342.3 65.9h.1M345.3 61.7h.1M345.6 66.4h.1M344.3 67.5h.1M345.6 67.0h.1M344.2 67.3h.1M346.5 65.7h.1M345.9 65.3h.1M345.0 65.1h.1M345.2 67.3h.1M340.8 74.9h.1M346.8 66.2h.1M340.9 68.9h.1M344.9 64.4h.1M344.9 61.3h.1M343.5 63.3h.1M344.5 66.2h.1M343.3 64.7h.1M346.5 66.8h.1M340.4 63.9h.1M341.9 65.1h.1M343.4 67.3h.1M348.2 63.5h.1M344.0 64.6h.1M348.9 64.7h.1M345.3 66.4h.1M343.6 64.1h.1M344.2 65.3h.1M346.1 64.4h.1M344.5 62.1h.1M346.5 65.5h.1M343.1 66.3h.1M344.1 67.3h.1M348.5 62.1h.1M343.5 65.2h.1M345.6 66.7h.1M344.1 59.7h.1M347.2 63.1h.1M342.5 61.7h.1M345.6 67.0h.1M347.5 59.0h.1M347.0 65.3h.1M347.5 65.1h.1M344.1 65.2h.1M341.3 67.5h.1M344.3 69.4h.1M343.5 62.8h.1M346.4 64.9h.1M344.0 65.4h.1M342.2 67.3h.1M341.4 67.7h.1M346.7 67.6h.1M339.9 66.7h.1M345.2 62.4h.1M347.1 62.8h.1M350.7 59.6h.1M348.5 64.7h.1M345.7 67.8h.1M342.4 66.4h.1M339.6 73.3h.1M345.3 67.5h.1M345.1 65.9h.1M343.8 61.2h.1M346.1 63.9h.1M346.4 64.3h.1M343.0 63.1h.1M345.0 63.0h.1M346.9 61.6h.1M343.8 68.1h.1M346.2 67.7h.1M344.1 69.4h.1M347.9 61.8h.1M347.0 62.3h.1M345.3 62.9h.1M341.9 67.2h.1M344.5 64.4h.1M343.9 65.3h.1M346.2 65.9h.1M347.5 67.7h.1M346.2 64.3h.1M345.4 66.9h.1M346.9 63.7h.1M345.4 64.7h.1M346.0 67.0h.1M346.1 66.4h.1M344.0 66.1h.1M345.7 63.0h.1M345.1 66.3h.1M344.3 63.8h.1M344.3 66.1h.1M343.7 69.5h.1M346.0 62.9h.1M340.1 65.5h.1M346.7 64.1h.1M343.6 62.8h.1M339.9 67.4h.1M340.9 65.6h.1M345.0 67.0h.1M340.3 64.8h.1M342.5 67.6h.1M346.2 63.6h.1M344.6 65.8h.1M344.3 63.5h.1M343.8 65.9h.1M345.4 64.5h.1M341.5 65.4h.1M345.6 65.8h.1M347.1 64.7h.1M343.5 64.1h.1M342.8 65.3h.1M341.2 66.4h.1M346.5 65.7h.1M343.6 63.1h.1M343.5 65.1h.1M340.8 64.9h.1M347.3 65.0h.1M348.3 59.1h.1M344.5 66.0h.1M347.5 65.9h.1M346.3 64.9h.1M338.8 69.7h.1M345.5 65.2h.1M344.5 67.4h.1M345.5 60.9h.1M342.7 64.6h.1M341.9 65.8h.1M345.4 66.3h.1M345.0 64.7h.1M342.2 65.2h.1M345.5 65.8h.1M343.5 68.9h.1M343.0 64.7h.1M343.5 61.6h.1M349.5 61.7h.1M349.6 66.1h.1M347.2 65.9h.1M348.0 63.3h.1M346.4 62.8h.1M346.4 60.5h.1M346.6 62.7h.1M345.4 66.0h.1M344.8 64.2h.1M346.3 65.6h.1M345.2 64.4h.1M345.9 65.2h.1M339.4 64.0h.1M340.0 69.0h.1M344.8 67.4h.1M342.8 70.7h.1M345.4 65.3h.1M347.0 66.7h.1M343.0 69.6h.1M346.8 64.2h.1M344.7 62.1h.1M345.4 65.2h.1M348.4 62.0h.1M349.6 62.1h.1M344.4 69.0h.1M346.4 62.7h.1M345.6 64.2h.1M343.6 62.9h.1M347.0 63.5h.1M341.9 65.6h.1M343.3 66.1h.1M343.3 66.9h.1M346.3 68.8h.1M346.3 66.6h.1M341.2 67.6h.1M340.9 66.0h.1M345.2 63.5h.1M343.4 64.4h.1M345.8 64.5h.1M342.1 69.7h.1M344.3 67.5h.1M342.3 65.3h.1M344.1 64.6h.1M344.0 66.6h.1M346.6 63.2h.1M343.7 64.6h.1M344.2 64.6h.1M345.8 65.8h.1M343.2 61.6h.1M343.5 65.8h.1M346.4 62.4h.1M343.2 62.4h.1M343.3 63.6h.1M344.8 65.0h.1M344.6 63.3h.1M347.8 63.8h.1M347.1 63.5h.1M348.5 66.5h.1M344.2 61.7h.1M347.6 66.7h.1M345.6 61.4h.1M345.8 65.9h.1M342.7 70.8h.1M347.0 62.1h.1M344.4 64.5h.1M341.8 67.1h.1M341.7 63.6h.1M342.7 66.7h.1M346.7 59.3h.1M346.3 64.5h.1M341.0 67.9h.1M345.3 63.6h.1M344.6 66.4h.1M347.8 60.7h.1M343.0 67.5h.1M340.7 70.0h.1M344.1 64.4h.1M344.8 66.3h.1M345.0 66.7h.1M340.1 69.1h.1M347.8 65.8h.1M348.2 61.8h.1M339.2 67.8h.1M350.5 65.1h.1M344.7 67.0h.1M347.4 58.9h.1M347.7 65.7h.1M340.5 62.7h.1M350.2 65.1h.1M343.3 62.3h.1M341.4 64.8h.1M344.4 62.4h.1M344.1 66.4h.1M341.2 68.7h.1M349.2 61.3h.1M342.8 65.0h.1M345.3 67.6h.1M345.5 64.5h.1M340.6 67.5h.1M344.1 69.3h.1M344.3 66.5h.1M343.5 66.0h.1M346.7 66.2h.1M344.7 61.2h.1M343.3 65.7h.1M347.6 65.4h.1M345.6 63.7h.1M344.0 68.3h.1M345.9 65.2h.1M343.0 67.1h.1M347.4 63.3h.1M343.9 63.0h.1M345.7 65.7h.1M341.0 67.1h.1M344.9 64.8h.1M342.1 65.9h.1M346.5 63.9h.1M345.2 65.8h.1M345.0 68.1h.1M345.2 62.3h.1M344.4 62.4h.1M340.5 64.2h.1M344.6 61.0h.1M343.8 65.4h.1M344.4 65.9h.1M344.2 64.3h.1M343.4 66.8h.1M341.7 64.5h.1M343.0 64.4h.1M348.3 62.4h.1M348.0 62.3h.1M342.2 64.2h.1M346.7 61.0h.1M344.9 65.3h.1M343.5 62.9h.1M346.6 63.4h.1M345.5 64.6h.1M349.2 59.9h.1M347.9 66.5h.1M341.4 66.9h.1M348.5 63.3h.1M344.8 66.5h.1M345.2 66.5h.1M338.7 71.1h.1M346.3 62.8h.1M345.9 63.1h.1M348.4 64.9h.1M346.3 62.8h.1M349.5 62.6h.1M344.1 64.8h.1M345.6 62.5h.1M343.4 66.7h.1M341.0 63.7h.1M345.5 62.0h.1M344.3 63.5h.1M342.2 67.9h.1M345.5 64.4h.1M342.9 64.4h.1M341.7 65.7h.1M347.2 65.3h.1M342.4 64.8h.1M341.3 68.1h.1M341.4 66.6h.1M346.8 60.5h.1M344.0 69.8h.1M346.7 65.7h.1M342.9 61.7h.1M345.3 63.3h.1M344.7 69.3h.1M343.6 65.4h.1M345.4 65.1h.1M348.6 65.1h.1M346.9 68.8h.1M345.1 69.3h.1M345.8 62.4h.1M346.4 62.5h.1M345.6 64.4h.1M343.2 66.1h.1M344.4 63.4h.1M347.9 66.9h.1M346.4 63.4h.1M343.8 68.7h.1M346.6 66.0h.1M345.2 65.9h.1M343.0 67.7h.1M345.3 64.8h.1M346.8 66.4h.1M344.7 66.4h.1M342.3 62.0h.1M343.9 69.3h.1M347.0 66.9h.1" stroke="#f04848" stroke-width="0.7" stroke-linecap="round" opacity="0.17" fill="none"/>
<path d="M345.6 59.5h.1M348.8 59.5h.1M346.1 58.8h.1M341.4 64.4h.1M345.8 56.0h.1M347.1 65.6h.1M345.3 66.4h.1M347.5 64.9h.1M343.7 60.5h.1M346.1 57.6h.1M345.8 57.9h.1M347.3 61.9h.1M349.7 58.2h.1M345.8 60.6h.1M347.4 57.3h.1M344.6 67.4h.1M342.4 67.2h.1M346.2 57.3h.1M342.6 66.4h.1M347.1 63.1h.1M349.4 63.2h.1M345.3 63.2h.1M344.6 62.7h.1M349.0 55.6h.1M341.6 71.6h.1M348.8 58.0h.1M349.0 51.1h.1M345.9 61.0h.1M345.5 61.0h.1M349.0 58.9h.1M350.5 54.1h.1M343.2 65.7h.1M347.8 61.5h.1M347.7 62.9h.1M347.5 59.0h.1M344.0 59.3h.1M346.8 58.2h.1M342.3 61.4h.1M346.1 60.9h.1M345.0 64.0h.1M347.0 64.9h.1M346.6 62.1h.1M342.9 60.3h.1M342.9 65.5h.1M347.6 54.0h.1M344.3 60.9h.1M343.1 66.6h.1M348.3 56.7h.1M344.1 63.9h.1M345.6 58.4h.1M344.9 60.7h.1M345.4 59.6h.1M345.9 60.2h.1M346.0 64.0h.1M346.4 61.1h.1M351.5 53.6h.1M339.6 69.2h.1M349.7 62.6h.1M347.0 59.4h.1M339.4 63.2h.1M343.7 66.8h.1M352.1 53.3h.1M345.1 62.5h.1M347.6 51.5h.1M347.1 59.0h.1M344.8 60.2h.1M346.6 59.0h.1M347.7 58.8h.1M342.5 53.5h.1M346.5 59.2h.1M347.1 60.9h.1M347.0 60.7h.1M347.8 55.2h.1M346.7 57.3h.1M342.4 64.4h.1M344.3 63.4h.1M349.0 60.9h.1M343.6 63.1h.1M345.6 62.8h.1M344.4 65.1h.1M347.9 63.4h.1M347.7 59.8h.1M349.1 57.6h.1M345.9 61.0h.1M352.5 53.9h.1M345.6 61.3h.1M351.9 48.0h.1M349.8 57.9h.1M347.9 59.5h.1M346.4 63.8h.1M338.6 71.6h.1M350.0 63.8h.1M346.8 60.6h.1M352.6 54.7h.1M343.9 67.0h.1M348.0 52.5h.1M346.4 62.6h.1M347.0 58.0h.1M342.3 72.0h.1M342.6 58.7h.1M343.5 61.6h.1M345.1 57.3h.1M348.4 61.8h.1M345.5 66.6h.1M345.7 56.2h.1M347.5 58.4h.1M347.4 58.8h.1M347.2 56.6h.1M350.2 57.6h.1M344.4 60.4h.1M343.1 66.5h.1M342.2 66.2h.1M349.7 56.1h.1M346.3 57.7h.1M347.3 61.2h.1M343.2 61.9h.1M343.8 59.9h.1M344.2 60.1h.1M344.2 61.9h.1M343.3 63.3h.1M354.9 54.6h.1M344.8 59.3h.1M345.1 63.7h.1M343.1 66.2h.1M344.9 64.2h.1M349.7 59.3h.1M348.3 58.4h.1M344.2 61.3h.1M343.4 59.5h.1M346.3 62.8h.1M345.2 66.3h.1M345.8 54.5h.1M348.1 60.3h.1M347.0 49.2h.1M344.2 64.0h.1M347.1 62.3h.1M345.8 56.6h.1M342.3 60.5h.1M345.6 67.9h.1M341.1 63.5h.1M346.5 60.8h.1M343.8 58.3h.1M346.3 61.7h.1M350.6 58.3h.1M346.9 56.5h.1M344.8 58.9h.1M342.1 59.1h.1M342.2 60.5h.1M345.6 58.2h.1M348.0 57.5h.1M346.9 61.2h.1M347.2 59.4h.1M346.7 63.0h.1M343.5 66.9h.1M348.4 67.3h.1M347.0 57.7h.1M346.7 59.2h.1M344.3 52.3h.1M344.5 60.1h.1M348.4 57.9h.1M347.4 55.2h.1M350.0 58.1h.1M345.7 64.0h.1M348.8 63.4h.1M343.5 59.2h.1M342.8 64.5h.1M348.8 60.1h.1M347.9 56.9h.1M343.1 62.1h.1M348.8 52.6h.1M344.5 61.8h.1M346.9 62.6h.1M346.5 62.5h.1M344.2 63.8h.1M345.0 58.5h.1M347.3 61.6h.1M351.1 55.3h.1M344.9 57.5h.1M348.5 59.6h.1M343.4 61.0h.1M342.6 66.5h.1M344.0 60.6h.1M341.0 62.9h.1M346.4 56.5h.1M344.3 60.4h.1M350.7 55.1h.1M348.5 58.6h.1M346.3 57.1h.1M343.5 58.7h.1M343.7 58.9h.1M342.9 56.3h.1M347.1 57.0h.1M344.0 63.7h.1M345.0 58.1h.1M350.9 50.4h.1M345.7 61.4h.1M347.2 63.0h.1M342.7 62.9h.1M344.9 67.8h.1M347.2 55.7h.1M348.5 62.0h.1M344.4 58.8h.1M351.3 54.4h.1M349.2 50.1h.1M346.9 66.0h.1M348.7 57.1h.1M344.9 57.4h.1M348.0 60.1h.1M346.6 59.0h.1M346.6 61.5h.1M353.1 56.6h.1M346.5 58.2h.1M345.7 59.2h.1M350.3 56.9h.1M346.5 56.9h.1M348.1 59.8h.1M348.3 60.5h.1M349.3 53.9h.1M348.0 59.5h.1M341.5 59.3h.1M346.9 65.8h.1M343.8 61.7h.1M342.0 64.4h.1M349.6 62.3h.1M349.4 61.5h.1M340.7 68.8h.1M346.7 61.3h.1M346.4 58.0h.1M344.1 59.3h.1M344.6 65.2h.1M350.2 56.8h.1M349.3 66.2h.1M343.0 65.8h.1M345.3 66.2h.1M345.2 60.8h.1M347.3 56.8h.1M350.6 57.5h.1M343.1 58.6h.1M341.5 64.9h.1M343.0 62.9h.1M346.2 65.7h.1M346.2 62.1h.1M343.3 68.6h.1M346.8 60.9h.1M349.1 59.4h.1M344.7 61.2h.1M346.3 58.9h.1M343.3 64.5h.1M343.8 67.3h.1M342.2 62.4h.1M347.7 56.2h.1M352.8 59.2h.1M346.1 63.4h.1M348.3 56.2h.1M343.4 61.5h.1M349.3 55.1h.1M347.2 59.3h.1M346.1 63.4h.1M346.2 57.2h.1M345.1 64.5h.1M345.0 65.3h.1M344.3 67.5h.1M345.3 59.5h.1M346.7 61.7h.1M348.7 62.8h.1M343.9 62.1h.1M349.9 55.8h.1M344.3 62.4h.1M343.7 63.6h.1M346.1 54.9h.1M346.7 54.3h.1M347.5 60.1h.1M342.7 68.2h.1M346.9 64.6h.1M344.0 57.1h.1M345.0 60.5h.1M346.4 53.5h.1M343.7 66.8h.1M350.8 60.1h.1M341.8 62.2h.1M348.2 55.6h.1M345.4 61.2h.1M347.7 56.8h.1M343.4 63.1h.1M342.1 66.2h.1M346.5 66.9h.1M342.6 62.5h.1M344.7 65.6h.1M349.0 56.6h.1M345.3 54.1h.1M344.7 59.1h.1M344.4 65.5h.1M348.9 63.1h.1M344.2 63.6h.1M347.7 54.6h.1M346.6 59.8h.1M349.0 60.1h.1M346.4 63.3h.1M344.1 70.2h.1M343.9 63.9h.1M342.1 64.8h.1M344.7 58.6h.1M347.3 61.3h.1M343.8 64.0h.1M344.0 62.1h.1M349.8 55.1h.1M344.2 65.0h.1M340.2 62.9h.1M345.0 61.7h.1M342.8 63.1h.1M345.7 63.1h.1M346.8 58.8h.1M352.3 55.5h.1M342.3 68.2h.1M343.6 60.0h.1M342.1 59.0h.1M343.5 60.3h.1M344.2 61.2h.1M345.0 62.3h.1M348.9 57.5h.1M345.2 63.0h.1M344.4 61.0h.1M347.2 61.7h.1M344.3 59.7h.1M347.2 62.6h.1M351.0 58.5h.1M347.6 61.9h.1M349.1 61.8h.1M348.2 62.4h.1M341.8 64.1h.1M344.5 64.5h.1M343.3 65.1h.1M344.1 59.2h.1M342.1 62.8h.1M344.6 65.7h.1M343.9 58.9h.1M346.1 58.5h.1M342.3 68.1h.1M348.3 53.8h.1M348.4 62.1h.1M347.0 62.1h.1M348.1 56.8h.1M344.8 60.2h.1M345.3 63.8h.1M350.4 52.2h.1M341.9 64.5h.1M343.1 60.2h.1M346.1 56.9h.1M341.4 64.2h.1M346.3 61.8h.1M347.1 59.7h.1M350.0 51.0h.1M344.6 64.9h.1M346.6 61.6h.1M344.1 56.9h.1M346.3 60.8h.1M345.2 66.7h.1M345.7 58.9h.1M342.7 59.0h.1M346.5 59.1h.1M345.8 55.3h.1M348.6 57.3h.1M347.5 59.8h.1M347.7 60.3h.1M343.9 65.6h.1M342.2 59.9h.1M348.3 61.1h.1M342.1 61.2h.1M347.8 61.5h.1M344.6 64.5h.1M347.3 54.1h.1M348.9 51.7h.1M344.5 62.3h.1M349.6 60.8h.1M344.7 61.6h.1M350.1 56.8h.1M342.0 57.0h.1M346.3 60.9h.1M345.0 61.7h.1M348.1 61.5h.1M344.7 65.5h.1M349.5 59.4h.1M342.6 63.0h.1M347.3 59.1h.1M345.0 60.0h.1M349.2 57.2h.1M346.7 61.5h.1M345.5 55.7h.1M345.7 65.6h.1M350.2 60.1h.1M344.6 61.6h.1M348.2 61.2h.1M346.7 61.1h.1M346.0 56.4h.1M343.3 69.9h.1M344.9 58.9h.1M344.1 67.6h.1M345.5 54.8h.1M339.5 67.8h.1M344.7 65.5h.1M342.9 68.0h.1M350.5 55.1h.1M342.9 66.0h.1M344.0 59.5h.1M347.3 64.4h.1M340.6 67.5h.1M347.5 63.5h.1M348.7 59.1h.1M348.7 63.3h.1M343.9 55.3h.1M345.0 62.4h.1M345.4 60.8h.1M346.3 63.1h.1M344.6 58.7h.1M353.3 55.2h.1M346.5 59.5h.1M342.2 58.3h.1M345.3 63.8h.1M344.3 64.0h.1M347.5 54.5h.1M345.1 66.2h.1M344.0 64.7h.1M343.9 60.6h.1M344.6 62.6h.1M349.0 52.8h.1M341.8 70.9h.1M345.9 59.3h.1M347.1 58.1h.1M341.0 64.3h.1M343.2 63.0h.1M347.1 59.5h.1M353.4 56.6h.1M342.7 64.1h.1M341.3 66.7h.1M349.4 57.9h.1M352.4 56.6h.1M347.2 63.4h.1M339.8 69.1h.1M350.6 56.1h.1M346.2 62.2h.1M347.6 56.3h.1M343.5 60.1h.1M345.1 62.5h.1M345.1 62.9h.1M349.7 55.5h.1M345.7 53.8h.1M339.7 68.7h.1M344.1 64.9h.1M351.8 55.0h.1M346.5 63.2h.1M342.1 66.0h.1M347.1 61.6h.1M344.0 60.7h.1M345.0 61.1h.1M344.3 62.7h.1M344.0 61.7h.1M344.0 62.4h.1M348.0 60.4h.1M344.8 64.6h.1M341.0 60.1h.1M347.7 62.6h.1M349.2 56.1h.1M344.6 58.6h.1M345.9 61.6h.1M348.3 59.5h.1M349.0 60.5h.1M347.0 56.1h.1M345.0 58.1h.1M346.8 52.5h.1M348.4 55.5h.1M343.8 60.2h.1M346.8 63.6h.1M347.2 57.3h.1M348.0 59.5h.1M345.3 61.2h.1M341.5 66.3h.1M340.3 67.5h.1M348.3 60.5h.1M345.0 56.8h.1M348.2 58.2h.1M345.1 67.1h.1M348.2 57.0h.1M347.4 64.4h.1M346.6 59.4h.1M346.1 59.1h.1M344.6 64.4h.1M343.7 62.9h.1M342.3 69.7h.1M344.0 64.7h.1M344.8 69.6h.1M346.6 59.2h.1M347.5 61.5h.1M348.4 57.7h.1M346.7 59.6h.1M344.2 63.4h.1M349.4 61.0h.1M347.8 63.9h.1M347.5 58.8h.1M345.6 59.3h.1M343.2 64.7h.1M344.2 60.2h.1M343.6 59.6h.1M344.3 61.8h.1M347.6 57.4h.1M351.0 55.0h.1M346.8 63.3h.1M345.9 62.8h.1M340.9 69.9h.1M345.1 61.3h.1M344.9 62.8h.1M341.8 69.9h.1M345.2 59.3h.1M346.6 58.4h.1M343.8 63.7h.1M344.5 62.2h.1M344.9 65.4h.1M349.2 58.8h.1M341.9 66.7h.1M344.4 61.9h.1M350.0 53.3h.1M346.6 61.2h.1M342.6 57.1h.1M346.9 62.3h.1M343.9 65.9h.1M345.3 60.9h.1" stroke="#e82828" stroke-width="0.7" stroke-linecap="round" opacity="0.22" fill="none"/>
<path d="M337.7 66.0h.1M339.6 60.2h.1M343.3 52.9h.1M341.2 56.6h.1M343.1 58.6h.1M341.4 58.3h.1M338.8 60.0h.1M335.0 54.7h.1M339.1 61.4h.1M339.8 62.9h.1M342.3 61.0h.1M339.9 56.3h.1M343.6 60.3h.1M342.7 58.3h.1M337.2 70.2h.1M344.0 56.1h.1M341.0 49.5h.1M340.5 54.3h.1M341.0 62.8h.1M340.3 65.2h.1M343.0 60.4h.1M341.5 66.2h.1M340.7 57.5h.1M338.8 63.2h.1M341.2 56.4h.1M341.8 54.6h.1M338.7 70.7h.1M340.3 59.5h.1M342.0 64.9h.1M338.6 67.5h.1M337.2 63.2h.1M338.0 61.4h.1M342.6 56.5h.1M339.0 68.2h.1M339.6 55.5h.1M340.2 50.9h.1M343.7 59.0h.1M341.9 58.7h.1M340.1 61.0h.1M336.9 65.9h.1M342.6 58.9h.1M339.9 58.9h.1M341.9 57.8h.1M340.0 48.1h.1M340.7 57.5h.1M341.3 59.1h.1M343.1 54.0h.1M337.0 66.7h.1M337.8 66.0h.1M341.8 63.3h.1M339.3 63.9h.1M343.6 58.4h.1M341.3 62.8h.1M344.9 53.6h.1M344.7 54.6h.1M342.6 57.8h.1M341.6 63.3h.1M340.4 57.9h.1M340.2 56.9h.1M339.5 66.1h.1M342.8 59.9h.1M340.1 57.4h.1M344.1 61.0h.1M345.7 54.7h.1M340.9 55.1h.1M338.3 64.5h.1M339.0 60.0h.1M339.7 65.0h.1M343.3 58.9h.1M340.2 65.3h.1M340.8 56.5h.1M342.2 59.6h.1M342.9 56.9h.1M342.6 62.3h.1M340.5 68.3h.1M341.4 52.5h.1M339.5 61.6h.1M344.2 55.2h.1M342.8 59.5h.1M342.3 58.2h.1M342.0 52.3h.1M342.8 60.0h.1M342.6 54.6h.1M342.0 68.9h.1M343.7 57.6h.1M339.5 61.9h.1M338.8 61.2h.1M342.4 61.5h.1M342.2 59.8h.1M341.4 53.0h.1M338.7 69.8h.1M341.4 61.1h.1M338.7 64.1h.1M341.7 55.5h.1M338.1 62.4h.1M339.8 58.5h.1M340.9 63.1h.1M341.6 58.0h.1M341.9 56.4h.1M342.2 63.5h.1M342.1 61.3h.1M337.0 67.1h.1M343.5 60.4h.1M340.0 56.6h.1M339.3 63.4h.1M342.2 55.9h.1M336.8 70.3h.1M337.2 69.3h.1M336.7 66.9h.1M340.5 63.4h.1M340.9 61.0h.1M340.8 61.5h.1M337.3 60.4h.1M339.9 57.2h.1M341.4 63.6h.1M339.3 67.0h.1M340.0 67.1h.1M343.2 51.3h.1M337.0 71.8h.1M336.5 60.8h.1M345.4 55.2h.1M339.4 58.3h.1M338.7 64.6h.1M341.6 61.3h.1M341.9 57.1h.1M342.9 55.7h.1M339.2 65.1h.1M339.8 57.0h.1M343.3 60.6h.1M339.8 55.3h.1M342.9 54.8h.1M337.5 61.9h.1M337.9 67.5h.1M339.0 58.6h.1M341.9 52.6h.1M339.6 57.3h.1M340.7 59.9h.1M345.0 50.3h.1M338.0 65.5h.1M340.5 56.5h.1M336.3 62.7h.1M343.8 61.7h.1M340.9 60.7h.1M340.7 53.5h.1M341.3 65.9h.1M340.1 63.6h.1M334.9 67.4h.1M338.8 58.1h.1M341.3 63.5h.1M338.7 58.4h.1M337.1 65.4h.1M338.7 62.3h.1M341.2 56.0h.1M339.8 61.7h.1M342.7 58.5h.1M342.0 58.8h.1M338.8 62.3h.1M338.2 68.1h.1M338.7 55.6h.1M341.2 60.4h.1M345.7 57.6h.1M338.3 70.5h.1M337.8 68.5h.1M337.0 70.7h.1M339.2 65.0h.1M343.2 56.6h.1M338.7 57.7h.1M341.5 61.5h.1M339.5 60.1h.1M341.9 57.6h.1M342.0 63.0h.1M338.7 58.5h.1M344.7 61.5h.1M338.9 71.5h.1M339.2 62.6h.1M342.8 54.9h.1M338.7 62.5h.1M340.4 61.7h.1M340.4 64.0h.1M336.3 62.2h.1M342.3 55.9h.1M340.3 62.3h.1M340.9 66.2h.1M337.5 75.7h.1M338.6 63.3h.1M336.9 69.8h.1M338.0 69.4h.1M342.6 57.7h.1M340.3 57.4h.1M340.7 70.7h.1M342.1 57.2h.1M341.5 59.0h.1M340.8 65.0h.1M341.2 57.5h.1M339.4 68.8h.1M340.1 66.9h.1M335.6 66.8h.1M337.7 65.8h.1M339.6 56.4h.1M338.6 67.1h.1M337.3 65.9h.1M337.9 65.0h.1M338.7 59.5h.1M336.1 61.5h.1M341.9 57.1h.1M339.1 64.2h.1M338.8 67.0h.1M345.5 65.0h.1M342.7 61.5h.1M339.1 65.3h.1M339.7 59.4h.1M343.8 52.9h.1M337.8 63.2h.1M338.4 60.2h.1M342.9 55.0h.1M337.2 63.4h.1M336.4 64.1h.1M338.2 65.9h.1M342.5 59.7h.1M338.7 58.0h.1M340.5 61.8h.1M341.1 61.1h.1M341.9 55.1h.1M342.4 57.3h.1M336.8 67.1h.1M339.1 60.8h.1M338.5 60.0h.1M340.4 57.5h.1M341.4 62.5h.1M339.8 64.2h.1M338.3 62.8h.1M338.7 69.5h.1M335.6 59.9h.1M340.0 64.0h.1M341.9 59.3h.1M337.1 65.3h.1M338.6 62.8h.1M339.1 65.7h.1M339.3 66.2h.1M340.6 57.7h.1M338.4 62.9h.1M339.7 58.8h.1M339.4 66.5h.1M339.8 60.5h.1M336.7 68.6h.1M338.5 63.0h.1M344.7 64.9h.1M342.6 58.9h.1M341.9 60.7h.1M340.5 62.1h.1M341.2 57.2h.1M339.1 59.9h.1M340.0 58.4h.1M341.6 57.7h.1M340.2 61.5h.1M337.1 61.7h.1M341.8 60.0h.1M339.3 63.0h.1M338.3 58.7h.1M341.2 55.9h.1M344.8 58.2h.1M339.2 62.8h.1M339.3 67.3h.1M340.5 61.5h.1M338.5 61.3h.1M341.0 55.9h.1M340.3 63.1h.1M338.6 61.8h.1M340.6 57.6h.1M339.5 63.4h.1M339.6 61.8h.1M342.2 53.2h.1M342.9 54.5h.1M341.9 58.5h.1M340.7 60.0h.1M340.6 66.1h.1M343.1 59.2h.1M338.3 60.3h.1M341.0 60.3h.1M339.7 63.6h.1M340.5 61.3h.1M340.1 62.1h.1M340.7 59.8h.1M342.1 54.6h.1M342.1 59.9h.1M336.6 68.4h.1M340.2 66.0h.1M336.6 68.0h.1M342.4 65.8h.1M342.8 59.1h.1M339.2 58.9h.1M339.8 64.0h.1M341.8 60.3h.1M338.7 64.5h.1M340.2 68.3h.1M338.4 67.7h.1M342.8 66.2h.1M343.0 54.9h.1M339.6 67.7h.1M341.1 55.2h.1M340.7 54.7h.1M341.5 62.5h.1M337.6 60.7h.1M340.5 64.3h.1M343.7 62.3h.1M345.1 59.3h.1M337.8 60.5h.1M341.8 56.7h.1M343.0 56.1h.1M342.0 60.0h.1M342.5 60.2h.1M338.0 60.9h.1M340.9 59.7h.1M335.9 65.5h.1M341.2 59.5h.1M344.4 61.4h.1M337.8 64.8h.1M343.8 51.5h.1M339.4 65.8h.1M336.6 64.5h.1M341.1 60.1h.1M335.9 69.6h.1M339.3 64.9h.1M339.5 68.6h.1M338.2 65.5h.1M341.1 62.1h.1M338.7 59.2h.1M340.2 55.7h.1M341.3 57.5h.1M340.9 55.5h.1M340.2 58.3h.1M340.2 63.5h.1M340.3 55.7h.1M340.1 63.6h.1M338.5 63.8h.1M343.9 54.7h.1M341.2 57.6h.1M339.9 60.0h.1M342.6 58.2h.1M342.2 57.4h.1M339.4 67.8h.1M339.0 61.3h.1M339.9 67.0h.1M339.8 60.5h.1M336.9 63.6h.1M341.5 54.8h.1M343.6 59.6h.1M339.0 64.9h.1M338.6 60.8h.1M339.2 67.0h.1M338.6 60.5h.1M340.0 58.4h.1M340.0 59.8h.1M338.2 70.3h.1M340.7 63.0h.1M341.4 59.0h.1M340.6 59.8h.1M341.0 55.7h.1M337.9 67.0h.1M341.5 59.0h.1M339.3 64.2h.1M339.9 60.2h.1M343.5 60.1h.1M342.5 58.4h.1M340.8 64.3h.1M340.9 60.5h.1M339.2 66.8h.1M338.9 67.9h.1M342.5 59.1h.1M339.1 61.2h.1M337.7 68.6h.1M341.9 65.9h.1M340.3 61.2h.1M344.2 54.6h.1M338.9 55.6h.1M342.1 57.8h.1M338.6 69.7h.1M340.0 61.7h.1M341.3 59.2h.1M340.9 59.5h.1M338.3 58.6h.1M339.6 62.2h.1M341.3 52.8h.1M340.4 53.9h.1M341.8 62.2h.1M336.2 65.0h.1M341.9 51.5h.1M338.0 63.4h.1M343.3 56.1h.1M341.5 52.1h.1M338.4 65.4h.1M341.6 60.2h.1M336.1 61.8h.1M340.0 58.6h.1M341.1 59.9h.1M342.5 52.2h.1M339.6 58.1h.1M338.4 60.8h.1M340.8 55.8h.1M337.9 61.9h.1M337.4 62.3h.1M345.3 51.5h.1M340.0 65.3h.1M341.2 64.0h.1M340.2 61.0h.1M336.5 65.5h.1M336.4 70.7h.1M343.4 56.9h.1M339.7 65.0h.1M337.9 63.3h.1M340.7 63.2h.1M339.1 65.8h.1M338.4 66.1h.1M343.5 61.4h.1M342.2 49.8h.1M340.7 57.7h.1M340.3 57.5h.1M339.9 68.7h.1M341.5 61.7h.1M339.7 67.0h.1M340.9 57.6h.1M339.9 62.3h.1M340.1 61.0h.1M337.2 60.8h.1M337.4 63.3h.1M339.5 68.6h.1M342.1 58.9h.1M335.7 66.8h.1M339.2 66.9h.1M337.6 62.0h.1M336.7 63.8h.1M341.5 60.3h.1M342.1 56.7h.1M340.5 60.1h.1M342.0 60.8h.1M341.9 61.6h.1M342.1 57.5h.1M336.5 69.4h.1M341.5 59.8h.1M339.4 65.7h.1M339.4 67.2h.1M342.5 61.9h.1M337.4 62.4h.1M344.9 59.7h.1M342.8 56.5h.1M336.3 71.7h.1M342.5 62.3h.1M341.9 51.9h.1M339.4 56.7h.1M343.6 55.0h.1M340.1 60.7h.1M340.2 68.4h.1M338.0 66.2h.1M341.1 57.9h.1M341.2 56.7h.1M337.1 64.0h.1M339.2 62.3h.1M338.4 59.4h.1M336.9 69.0h.1M341.8 63.4h.1M342.0 53.7h.1M342.4 50.9h.1M342.5 62.4h.1M340.5 52.2h.1M339.5 63.7h.1M338.6 64.8h.1M338.8 72.0h.1M341.4 56.8h.1M339.3 62.8h.1M343.9 50.6h.1M340.6 59.7h.1M344.0 61.4h.1M335.7 69.0h.1M344.1 54.9h.1M343.4 64.0h.1M341.6 62.5h.1M338.7 71.8h.1M340.6 56.7h.1M343.1 57.1h.1M339.0 63.9h.1M342.0 61.3h.1M337.2 58.4h.1M340.7 56.6h.1M337.2 59.9h.1M344.2 53.8h.1M338.9 62.1h.1M341.1 64.5h.1M338.7 63.1h.1M335.8 72.6h.1M341.8 65.7h.1M343.5 57.1h.1M342.6 60.6h.1M341.7 65.7h.1M342.0 60.0h.1M339.2 71.0h.1M342.3 63.2h.1M340.8 58.8h.1M340.3 57.8h.1M341.4 65.4h.1M342.4 57.3h.1M342.8 52.6h.1M340.1 63.3h.1M342.4 58.2h.1M336.9 68.1h.1M336.3 69.9h.1M340.0 58.1h.1M340.7 61.1h.1M337.3 59.4h.1M336.7 63.1h.1M340.6 62.8h.1M341.6 57.6h.1M340.6 52.8h.1M341.3 62.6h.1M337.5 68.7h.1M341.9 55.3h.1M342.3 58.8h.1M341.6 58.2h.1M343.1 61.1h.1M344.3 50.8h.1M343.7 61.8h.1M337.3 57.8h.1M335.4 69.1h.1M337.5 63.3h.1M338.9 64.3h.1M338.6 60.9h.1M338.7 59.0h.1M337.7 64.2h.1M341.1 52.8h.1M340.4 66.6h.1M339.0 63.1h.1M341.5 60.4h.1M340.6 67.6h.1M342.9 59.1h.1M340.5 58.1h.1M338.2 62.1h.1M345.1 53.1h.1M337.6 60.0h.1M338.3 59.2h.1M339.7 65.8h.1M338.9 69.2h.1M339.6 64.2h.1M338.3 62.3h.1M340.3 63.5h.1M343.2 58.2h.1M336.6 72.1h.1M342.2 67.4h.1M337.7 69.6h.1M340.2 54.5h.1M339.1 63.7h.1M338.4 63.2h.1M338.1 66.1h.1M340.3 56.7h.1M339.5 63.1h.1M342.0 60.6h.1M338.0 70.7h.1M342.0 55.9h.1M338.8 58.8h.1M338.4 57.9h.1M341.3 55.3h.1M341.3 62.5h.1M341.3 62.3h.1M341.6 58.0h.1M338.6 58.6h.1M339.5 62.2h.1M340.5 61.1h.1M340.9 63.9h.1M339.8 57.5h.1M341.1 56.8h.1M340.4 61.2h.1M342.7 52.5h.1M335.5 67.5h.1M340.3 62.4h.1M339.8 52.5h.1M337.7 62.6h.1M338.1 68.6h.1M340.7 54.4h.1M341.3 58.8h.1M340.1 67.1h.1M341.8 57.8h.1M340.5 66.4h.1M337.7 67.2h.1M340.1 61.9h.1M338.8 63.2h.1M337.5 65.9h.1M345.0 64.4h.1M338.5 65.7h.1M343.4 61.8h.1M340.0 61.2h.1M342.8 58.2h.1M339.6 63.3h.1M336.3 66.7h.1M341.4 68.1h.1M339.7 62.3h.1M342.5 54.2h.1M344.6 58.2h.1M338.4 63.9h.1M341.5 56.8h.1M339.6 66.8h.1M342.9 56.9h.1M334.6 61.5h.1" stroke="#000" stroke-width="0.6" stroke-linecap="round" opacity="0.18" fill="none"/>
<path d="M339.1 70.0h.1M335.3 72.9h.1M336.8 70.5h.1M340.0 70.4h.1M336.4 68.2h.1M340.3 69.5h.1M338.0 71.8h.1M341.5 67.9h.1M338.7 70.0h.1M338.5 73.2h.1M338.2 71.0h.1M337.9 69.2h.1M340.8 66.3h.1M340.6 67.6h.1M337.5 68.8h.1M340.4 69.2h.1M339.0 67.6h.1M343.3 63.4h.1M338.3 70.3h.1M340.3 67.5h.1M340.7 66.7h.1M338.0 71.4h.1M340.6 68.7h.1M340.4 68.7h.1M338.3 69.8h.1M340.6 67.3h.1M342.4 66.7h.1M342.1 66.1h.1M339.9 69.7h.1M339.9 68.3h.1M343.4 62.3h.1M337.6 71.7h.1M340.5 68.6h.1M341.1 66.3h.1M341.1 69.2h.1M343.4 68.7h.1M339.9 68.3h.1M342.4 67.7h.1M342.6 65.8h.1M340.3 70.1h.1M339.3 67.9h.1M340.6 69.6h.1M338.6 69.7h.1M340.0 69.1h.1M338.8 72.6h.1M342.3 67.7h.1M342.0 63.9h.1M342.1 63.9h.1M341.0 64.9h.1M336.2 70.3h.1M341.9 64.5h.1M338.1 70.6h.1M339.6 69.0h.1M342.6 63.7h.1M338.1 71.9h.1M341.8 67.0h.1M338.2 66.9h.1M341.1 70.3h.1M337.9 71.0h.1M339.9 67.4h.1M338.7 70.0h.1M342.3 66.5h.1M341.8 65.6h.1M337.7 72.8h.1M339.7 70.8h.1M339.1 69.7h.1M338.0 72.2h.1M338.2 72.2h.1M339.1 68.2h.1M340.2 70.0h.1M336.4 73.0h.1M339.3 70.6h.1M340.1 67.1h.1M337.5 72.0h.1M337.8 71.2h.1M343.2 65.1h.1M342.6 65.7h.1M337.6 73.7h.1M337.1 72.4h.1M339.5 67.3h.1M336.6 71.4h.1M339.6 69.8h.1M338.8 70.0h.1M342.1 68.2h.1M337.4 77.0h.1M336.7 75.3h.1M338.1 72.5h.1M342.8 67.0h.1M341.0 70.3h.1M336.2 73.1h.1M341.2 67.9h.1M342.4 67.9h.1M337.0 68.1h.1M338.9 69.6h.1M340.7 67.8h.1M341.0 65.1h.1M340.6 68.8h.1M339.0 66.4h.1M341.0 69.8h.1M340.2 70.6h.1M338.2 71.4h.1M340.8 68.6h.1M337.8 68.8h.1M340.7 70.4h.1M341.9 66.7h.1M340.2 67.4h.1M340.6 66.1h.1M336.0 72.5h.1M340.3 67.1h.1M336.6 69.1h.1M338.7 71.3h.1M338.0 71.0h.1M340.9 65.0h.1M341.3 66.8h.1M338.7 70.9h.1M338.1 72.2h.1M340.3 69.2h.1M339.9 70.7h.1M343.0 64.6h.1M338.6 73.7h.1M336.2 73.6h.1M340.7 70.4h.1M337.7 67.6h.1M338.3 67.5h.1M339.9 66.1h.1M343.4 63.3h.1M339.6 70.1h.1M337.6 69.6h.1M336.5 73.5h.1M339.5 67.8h.1M341.8 66.9h.1M338.2 68.9h.1M342.4 66.1h.1M339.6 68.7h.1M343.8 65.7h.1M340.8 68.3h.1M337.4 71.4h.1M339.0 70.8h.1M337.5 73.2h.1M336.0 73.1h.1M340.2 68.1h.1M340.0 65.7h.1M345.2 64.9h.1M339.0 68.6h.1M338.8 69.2h.1M339.2 72.7h.1M342.5 66.9h.1M339.5 67.3h.1M339.6 71.1h.1M341.4 67.3h.1M340.0 67.0h.1M336.8 74.1h.1M340.5 66.5h.1M340.7 69.0h.1M338.7 69.7h.1M337.9 69.3h.1M342.3 63.9h.1M344.3 65.9h.1M342.1 63.5h.1M337.6 71.9h.1M339.4 71.1h.1M339.9 65.6h.1M339.2 73.1h.1M336.7 69.7h.1M337.2 74.1h.1M341.3 62.9h.1M341.5 66.0h.1M341.7 68.4h.1M339.9 68.2h.1M338.6 69.8h.1M338.5 69.6h.1M339.7 66.5h.1M339.3 71.3h.1M341.3 65.2h.1M338.1 69.7h.1M338.4 71.4h.1M342.7 65.9h.1M340.3 69.8h.1M339.9 66.9h.1M338.2 69.5h.1M336.6 75.4h.1M341.8 68.1h.1M336.2 71.8h.1M342.9 66.8h.1M336.9 72.9h.1M337.2 74.4h.1M341.8 69.0h.1M340.3 67.6h.1M340.0 68.7h.1M336.3 71.3h.1M339.0 65.1h.1M337.3 72.9h.1M337.9 69.5h.1M337.3 70.4h.1M339.5 70.2h.1M341.9 67.0h.1M337.1 69.6h.1M340.9 67.5h.1M340.9 67.0h.1M337.0 73.6h.1M337.8 72.1h.1M339.6 70.2h.1M338.0 70.0h.1M339.0 67.3h.1M336.7 74.3h.1M342.2 67.7h.1M340.9 66.8h.1M340.7 70.2h.1M337.9 73.0h.1M338.5 68.1h.1M336.6 68.9h.1M340.3 67.1h.1M340.5 69.7h.1M340.2 66.4h.1M341.0 71.3h.1M342.7 65.3h.1M334.3 74.2h.1M337.2 71.2h.1M341.8 68.3h.1M338.6 73.9h.1M340.1 66.3h.1M337.6 72.2h.1M340.4 68.9h.1M337.7 71.1h.1M339.4 70.4h.1M341.7 69.5h.1M338.7 68.6h.1M339.6 70.2h.1M344.2 63.6h.1M340.9 69.6h.1M337.8 71.3h.1M342.0 66.8h.1M340.5 66.2h.1M342.0 65.7h.1M341.7 63.4h.1M338.4 71.6h.1M342.1 66.3h.1M343.4 66.9h.1M340.7 69.5h.1M339.4 67.7h.1M331.7 75.2h.1M339.8 71.1h.1M343.6 64.6h.1M336.3 73.5h.1M338.3 70.0h.1M340.8 68.4h.1M340.6 67.2h.1M343.9 65.3h.1M336.9 73.8h.1M338.9 68.2h.1M339.6 65.6h.1M337.6 72.5h.1M339.8 69.1h.1M342.4 63.5h.1M340.9 64.6h.1M340.1 67.1h.1M335.9 76.4h.1M339.1 69.0h.1M339.4 67.2h.1M339.8 70.1h.1M340.8 69.8h.1M344.4 60.2h.1M338.9 69.2h.1M337.1 70.9h.1M340.0 68.1h.1M339.7 70.1h.1M339.5 69.9h.1M340.5 69.7h.1M341.8 67.3h.1M340.6 68.5h.1M338.1 72.4h.1M338.4 68.5h.1M341.6 68.3h.1M338.9 70.1h.1M342.1 66.1h.1M339.6 65.9h.1M337.7 71.4h.1M340.5 68.2h.1M342.3 63.0h.1M342.2 64.6h.1M340.0 69.3h.1M339.7 65.5h.1M337.8 70.2h.1M335.6 71.8h.1M339.5 66.7h.1M339.3 67.7h.1M340.4 67.4h.1M340.6 69.5h.1M339.5 67.5h.1M338.7 70.2h.1M339.8 67.2h.1M341.1 66.6h.1M340.2 69.4h.1M342.0 67.2h.1M336.0 73.2h.1M337.1 70.2h.1M342.4 65.1h.1M342.2 63.8h.1M338.8 67.3h.1M340.2 69.6h.1M337.8 72.5h.1M341.3 68.5h.1M339.9 66.0h.1M336.9 72.7h.1M341.0 67.6h.1M342.0 68.5h.1M340.6 67.7h.1M336.8 71.3h.1M340.8 67.5h.1M337.5 73.1h.1M341.6 64.4h.1M341.0 69.2h.1M337.6 72.0h.1M341.4 64.8h.1M342.3 66.1h.1M339.3 71.1h.1M343.1 62.7h.1M338.0 71.6h.1M340.4 68.1h.1M341.4 65.5h.1M335.6 74.9h.1M342.2 66.6h.1M340.1 69.4h.1M339.2 68.6h.1M336.8 71.1h.1M338.9 67.1h.1M338.5 72.3h.1M337.0 70.8h.1M338.2 69.6h.1M337.6 72.2h.1M341.8 64.3h.1M336.6 71.9h.1M336.7 69.8h.1M340.1 70.3h.1M339.1 68.5h.1M341.1 66.8h.1M341.2 66.7h.1M338.1 69.0h.1M338.2 69.4h.1M340.6 69.3h.1M341.3 66.8h.1M340.6 66.8h.1M340.1 71.0h.1M335.3 73.9h.1M343.3 63.0h.1M341.1 66.1h.1M339.8 67.9h.1M338.5 66.9h.1M338.7 70.2h.1M338.3 71.7h.1M337.5 68.7h.1M339.7 69.7h.1M339.1 70.8h.1M338.4 73.6h.1M338.1 69.0h.1M340.4 67.1h.1M338.4 69.9h.1M339.5 68.7h.1M336.2 74.5h.1M340.0 69.8h.1M340.1 69.6h.1M337.1 71.9h.1M336.6 73.4h.1M338.8 66.8h.1M339.0 71.5h.1M340.9 67.8h.1M339.9 70.5h.1M339.4 66.3h.1M340.2 70.4h.1M336.4 72.5h.1M338.2 68.2h.1M339.2 69.8h.1M340.1 66.6h.1M340.8 71.3h.1M339.3 70.1h.1M342.6 67.4h.1M341.4 65.6h.1M340.9 66.7h.1M342.1 66.4h.1M339.5 67.0h.1M340.6 66.5h.1M341.6 66.7h.1M340.8 68.0h.1M341.1 69.5h.1M340.0 68.5h.1M341.7 61.1h.1M340.3 69.2h.1M338.8 69.2h.1M339.5 70.1h.1M338.8 68.4h.1M339.6 67.9h.1M337.9 72.0h.1M337.9 75.2h.1M340.6 68.3h.1M335.8 72.5h.1M340.3 68.3h.1M339.3 68.1h.1M342.0 66.0h.1M344.2 65.4h.1M339.9 67.6h.1M338.4 70.1h.1M338.2 72.3h.1M338.6 71.2h.1M339.4 68.5h.1M336.7 74.8h.1M339.4 68.4h.1M339.8 69.0h.1M342.9 68.4h.1M339.2 69.8h.1M340.3 68.9h.1M339.1 71.3h.1M338.5 69.8h.1M337.1 73.9h.1M339.3 68.2h.1M341.2 64.0h.1M339.8 68.3h.1M341.7 68.7h.1M338.6 71.9h.1M341.2 64.4h.1M338.6 71.0h.1M341.7 67.1h.1M339.9 68.6h.1M337.5 71.1h.1M341.1 65.9h.1M339.1 68.4h.1M340.7 68.8h.1M340.6 67.7h.1M339.8 69.0h.1M339.0 69.9h.1M342.3 68.8h.1M339.2 70.0h.1M341.0 69.4h.1M337.2 69.8h.1M335.7 72.0h.1M336.9 69.7h.1M338.0 69.7h.1M340.1 69.1h.1M340.7 65.0h.1M336.9 73.5h.1M339.3 68.1h.1M336.7 75.3h.1M338.4 72.0h.1M338.3 69.9h.1M334.2 73.9h.1M336.5 73.9h.1M337.8 67.1h.1M337.2 67.0h.1M340.6 69.9h.1M338.3 71.0h.1M344.1 63.5h.1M339.5 69.3h.1M338.6 71.5h.1M342.5 64.3h.1M339.8 66.6h.1M338.1 69.3h.1M341.4 65.4h.1M339.9 68.4h.1M340.6 67.0h.1M339.9 68.1h.1M337.3 71.3h.1M341.3 66.2h.1M339.4 68.1h.1M339.1 72.3h.1M337.6 70.4h.1M339.6 65.2h.1M338.8 69.7h.1M341.0 69.5h.1M339.5 66.3h.1M340.1 68.7h.1M339.8 74.7h.1M340.9 67.2h.1M340.6 65.9h.1M340.7 66.2h.1M341.2 63.7h.1M339.7 67.5h.1M340.8 66.6h.1M344.1 65.6h.1M340.1 70.2h.1M342.4 64.0h.1M341.9 63.7h.1M341.9 67.3h.1M343.3 64.2h.1M340.6 66.2h.1M339.9 72.3h.1M343.3 66.8h.1M340.4 68.1h.1M340.1 67.5h.1M340.3 68.7h.1M344.0 66.4h.1M340.5 67.3h.1M339.7 71.5h.1M339.8 67.1h.1M340.9 66.9h.1M338.1 70.6h.1M338.3 69.6h.1M339.4 70.2h.1M337.8 70.0h.1M339.1 67.1h.1M341.0 65.8h.1M341.6 62.9h.1M342.2 65.9h.1M340.5 65.5h.1M341.3 65.5h.1M342.8 65.8h.1M339.0 69.9h.1M341.3 67.2h.1M340.7 68.3h.1M339.3 69.1h.1M337.9 69.4h.1M339.0 70.4h.1M339.0 69.5h.1M338.9 73.0h.1M340.4 67.3h.1M338.5 68.2h.1M339.0 68.1h.1M339.7 67.6h.1M341.3 67.1h.1M339.5 71.0h.1M339.5 69.1h.1M338.1 73.9h.1M337.0 75.5h.1M335.4 73.5h.1M343.1 65.2h.1M334.9 72.7h.1M341.7 68.3h.1M341.7 64.5h.1M339.9 70.7h.1M342.2 64.3h.1M343.7 64.4h.1M341.2 66.2h.1M343.8 62.5h.1M341.1 67.4h.1M337.9 70.5h.1M339.1 66.5h.1M339.4 70.3h.1M336.6 71.8h.1M337.4 72.2h.1M343.6 62.5h.1M336.7 69.0h.1M341.6 70.1h.1M339.1 71.0h.1M341.5 69.5h.1M339.5 69.6h.1M339.1 70.0h.1M334.1 69.9h.1M336.9 72.4h.1M336.7 69.8h.1M338.9 67.2h.1M343.6 63.4h.1M341.0 65.6h.1M341.2 62.9h.1M340.3 67.4h.1M339.3 68.9h.1M336.9 72.1h.1M341.0 69.6h.1M336.8 75.1h.1M338.8 69.4h.1M341.9 64.0h.1M341.0 68.4h.1M341.9 65.9h.1M339.1 69.9h.1M337.5 72.6h.1M338.2 69.7h.1M338.9 69.8h.1M341.5 65.4h.1M344.3 64.2h.1M339.4 71.4h.1M338.7 69.5h.1M340.9 70.1h.1M338.8 69.5h.1M338.2 72.5h.1M340.6 69.0h.1M339.7 67.4h.1M340.9 68.1h.1M338.4 72.5h.1M340.1 69.4h.1M336.7 73.4h.1M338.7 64.7h.1M339.9 72.7h.1M339.2 69.5h.1M339.1 70.1h.1M337.8 69.8h.1M338.2 71.8h.1M339.0 75.0h.1M341.4 63.3h.1M341.1 68.7h.1M340.2 68.0h.1M344.5 63.8h.1M340.5 69.6h.1M341.1 67.5h.1M338.9 68.2h.1M340.9 65.0h.1M341.1 67.7h.1M339.7 67.6h.1M339.6 69.6h.1M340.0 67.9h.1M341.5 65.5h.1M335.6 74.0h.1M340.0 69.4h.1M339.1 69.9h.1M339.0 69.4h.1M336.2 74.0h.1M341.7 67.2h.1M336.6 70.0h.1M339.7 69.6h.1M338.1 69.7h.1M336.7 73.1h.1M337.8 69.2h.1M338.6 75.0h.1M336.2 70.1h.1M339.3 69.7h.1M340.8 69.5h.1M339.7 68.5h.1M337.4 67.8h.1M342.8 62.6h.1M341.6 68.3h.1M338.0 72.3h.1M337.4 69.6h.1M339.9 71.3h.1M339.5 69.3h.1M338.9 70.5h.1M336.2 69.8h.1M342.8 64.4h.1M338.5 67.8h.1M339.7 70.0h.1M340.0 69.9h.1M338.4 68.7h.1M341.5 64.6h.1M342.1 68.4h.1M341.0 65.3h.1M333.8 76.8h.1M340.8 68.2h.1M341.3 65.7h.1M342.8 63.2h.1M340.2 68.9h.1M337.3 73.7h.1M341.3 67.5h.1M338.9 70.5h.1M337.9 74.4h.1M338.7 70.4h.1M342.9 66.7h.1M341.7 65.4h.1M341.0 66.8h.1M338.9 72.2h.1M343.2 61.4h.1M335.9 70.8h.1M338.3 68.2h.1M338.5 73.4h.1M340.7 64.4h.1M340.2 67.4h.1M341.2 66.3h.1M340.4 68.8h.1M339.6 68.9h.1M338.7 67.4h.1M336.0 73.5h.1M341.8 66.3h.1M341.9 66.6h.1M339.4 70.0h.1M339.1 68.4h.1M338.5 66.8h.1M343.3 65.1h.1M340.4 67.5h.1M340.1 68.8h.1M339.5 70.5h.1M336.8 72.6h.1M338.2 70.0h.1M341.1 69.3h.1M340.2 70.0h.1M338.7 67.8h.1M340.7 66.5h.1M340.0 67.2h.1M340.6 68.2h.1M341.2 67.1h.1M339.6 67.9h.1M340.1 69.1h.1M341.5 68.1h.1M336.8 73.4h.1M341.0 64.8h.1M338.5 72.8h.1M340.2 65.8h.1M339.1 68.3h.1M342.4 66.2h.1M339.8 68.6h.1M338.2 71.3h.1M340.9 65.4h.1M339.4 67.8h.1M341.1 69.1h.1M341.1 69.2h.1M340.5 65.4h.1M341.0 66.4h.1M339.7 67.8h.1M336.8 72.7h.1M337.6 68.9h.1M341.0 69.1h.1M341.8 63.2h.1M341.1 68.1h.1M338.9 68.5h.1M340.5 64.7h.1M340.8 69.8h.1M339.3 68.5h.1M340.2 68.4h.1M337.5 72.9h.1M341.3 66.1h.1M341.4 68.1h.1M340.1 70.0h.1M337.2 71.4h.1M339.3 67.6h.1M342.6 65.2h.1M340.0 71.3h.1M335.8 70.2h.1M339.4 66.9h.1M336.7 72.8h.1M336.9 75.3h.1M339.5 70.2h.1M338.3 70.4h.1M340.1 70.0h.1M337.3 69.2h.1M340.2 67.7h.1M339.0 69.0h.1M339.7 70.9h.1M339.8 70.4h.1M341.5 67.4h.1M341.1 65.9h.1M341.5 66.4h.1M341.2 66.9h.1M333.8 77.4h.1M337.8 71.3h.1M337.8 68.7h.1M340.3 68.2h.1M337.9 73.6h.1M342.2 64.8h.1M338.9 67.0h.1M339.2 70.7h.1M340.0 68.2h.1M339.5 69.8h.1M338.1 70.5h.1M340.4 67.1h.1M339.7 70.4h.1M337.5 72.6h.1M337.8 69.8h.1M338.5 68.3h.1M337.1 71.1h.1M341.1 64.7h.1M338.2 71.8h.1M343.0 64.1h.1M340.4 65.7h.1M339.2 71.9h.1M340.0 68.3h.1M343.4 66.5h.1M339.8 69.4h.1M338.4 72.3h.1M341.0 69.0h.1M342.6 62.9h.1M337.9 73.1h.1M341.0 67.4h.1M340.0 68.8h.1M340.2 69.4h.1M337.8 68.9h.1M339.7 69.8h.1M341.3 65.7h.1M342.0 67.8h.1M338.5 71.6h.1M342.7 64.6h.1M337.8 72.3h.1M341.4 67.2h.1M339.9 68.1h.1M340.4 64.5h.1M340.5 67.7h.1M341.7 65.8h.1M340.1 68.9h.1M339.1 64.5h.1M338.9 66.8h.1M342.9 62.5h.1M337.9 70.1h.1M342.4 65.8h.1M340.7 67.5h.1M339.9 68.0h.1M338.7 70.1h.1M341.3 67.9h.1M338.0 73.1h.1M337.0 72.0h.1M340.7 66.5h.1M339.0 74.0h.1M342.1 64.7h.1M338.1 68.6h.1M340.8 68.3h.1M339.7 68.3h.1M341.8 68.3h.1M338.5 68.9h.1M340.2 70.3h.1M340.7 69.7h.1M341.8 65.9h.1M339.5 64.2h.1M342.5 65.5h.1M341.5 68.3h.1M339.0 68.9h.1M336.7 73.0h.1M339.3 65.9h.1M342.3 67.1h.1M340.5 70.6h.1M341.4 66.6h.1M341.6 64.9h.1M339.6 68.2h.1M340.6 65.1h.1M341.6 68.6h.1M337.6 73.8h.1M339.1 70.0h.1M338.3 69.2h.1M340.2 66.9h.1M338.7 71.2h.1M339.9 70.4h.1M337.3 70.7h.1M338.8 68.2h.1M337.4 66.9h.1M341.6 66.1h.1M339.6 65.5h.1M341.1 68.9h.1M340.7 68.3h.1M340.6 68.7h.1M340.4 68.6h.1M343.2 64.9h.1M336.0 75.7h.1M339.5 69.1h.1M340.7 68.0h.1M341.1 65.2h.1M338.0 71.6h.1M340.3 67.7h.1M339.9 65.4h.1M338.7 69.6h.1M336.4 73.7h.1M339.2 69.6h.1M337.7 71.8h.1M340.3 66.5h.1M339.0 71.4h.1M341.7 63.1h.1M338.6 67.3h.1M337.3 70.1h.1M339.4 70.3h.1M339.4 72.5h.1M340.8 67.8h.1M342.1 64.5h.1M338.6 68.7h.1M341.5 66.2h.1M338.4 71.3h.1M338.9 66.9h.1M344.3 62.7h.1M336.4 71.8h.1M341.0 64.7h.1M343.0 66.2h.1M336.3 73.6h.1M337.8 72.8h.1M339.0 71.8h.1M343.1 67.0h.1M340.5 70.7h.1M339.1 68.8h.1M341.3 66.9h.1M339.7 68.1h.1M341.1 68.6h.1M339.5 69.7h.1M341.9 65.7h.1M339.8 71.6h.1M344.1 65.0h.1M338.8 69.3h.1M338.3 70.7h.1M341.7 67.4h.1M340.6 67.4h.1M335.8 73.6h.1M338.5 67.0h.1M338.3 72.8h.1M337.8 70.5h.1M339.2 65.3h.1M338.2 70.9h.1M339.0 66.8h.1M341.5 71.1h.1M341.7 62.5h.1M339.6 68.9h.1M339.5 72.9h.1M337.2 71.2h.1M337.3 70.5h.1M338.9 67.6h.1M338.6 67.9h.1M341.4 66.0h.1M340.7 68.6h.1M340.4 68.5h.1M340.3 67.8h.1M339.2 68.8h.1M340.7 68.1h.1M341.0 66.5h.1M340.3 66.0h.1M338.5 69.9h.1M334.6 72.1h.1M336.4 69.6h.1M341.3 68.5h.1M336.0 75.7h.1M340.1 70.7h.1M341.6 68.1h.1M338.3 69.9h.1M338.7 72.2h.1M343.7 64.5h.1M342.3 65.0h.1" stroke="#000" stroke-width="0.8" stroke-linecap="round" opacity="0.3" fill="none"/>
<path d="M340.3 69.0h.1M339.0 70.9h.1M338.7 70.7h.1M341.0 69.2h.1M340.9 70.2h.1M338.6 68.8h.1M340.1 68.6h.1M337.2 71.2h.1M339.2 69.7h.1M338.2 71.1h.1M339.7 68.1h.1M339.5 68.5h.1M338.7 72.3h.1M339.7 67.4h.1M338.4 72.4h.1M340.2 68.1h.1M337.6 68.6h.1M338.0 71.5h.1M336.7 71.2h.1M338.9 70.7h.1M338.6 69.9h.1M338.2 71.2h.1M339.4 69.0h.1M338.0 72.7h.1M339.6 70.5h.1M338.8 69.9h.1M338.0 73.8h.1M339.9 70.0h.1M337.2 71.9h.1M336.7 74.4h.1M338.9 71.5h.1M339.5 71.0h.1M339.9 68.6h.1M338.7 71.0h.1M340.6 67.6h.1M340.7 67.8h.1M339.0 67.5h.1M340.8 68.1h.1M340.7 70.4h.1M338.3 71.0h.1M339.7 69.0h.1M340.0 68.4h.1M340.3 70.4h.1M338.0 70.0h.1M337.3 72.7h.1M339.8 69.0h.1M340.4 70.2h.1M337.3 72.0h.1M339.2 70.0h.1M339.0 68.3h.1M339.2 70.5h.1M340.7 69.4h.1M339.8 68.8h.1M338.0 72.9h.1M338.4 70.4h.1M340.3 69.8h.1M340.1 68.7h.1M340.7 67.9h.1M336.9 73.2h.1M339.3 70.4h.1M340.3 69.3h.1M340.4 68.1h.1M341.3 67.6h.1M337.9 71.6h.1M338.8 70.8h.1M339.3 72.8h.1M340.0 68.8h.1M336.7 71.7h.1M340.1 68.0h.1M339.7 68.3h.1M339.3 69.1h.1M336.9 73.9h.1M339.1 71.8h.1M339.3 68.5h.1M336.8 72.0h.1M338.4 70.2h.1M338.6 70.1h.1M339.8 68.5h.1M339.4 69.6h.1M339.2 69.5h.1M338.5 70.8h.1M338.8 69.9h.1M339.5 70.7h.1M340.2 69.2h.1M338.5 70.1h.1M340.4 68.5h.1M338.7 73.9h.1M340.3 68.1h.1M340.3 71.4h.1M339.1 67.4h.1M338.7 69.6h.1M339.5 68.4h.1M341.1 67.9h.1M339.1 71.5h.1M339.3 70.1h.1M338.8 70.4h.1M339.8 70.1h.1M337.1 72.7h.1M338.4 70.1h.1M338.4 70.2h.1M338.8 71.8h.1M340.2 71.3h.1M337.3 72.6h.1M341.0 68.1h.1M339.2 69.2h.1M340.1 66.3h.1M337.0 70.8h.1M337.6 71.9h.1M338.6 69.2h.1M336.1 72.1h.1M339.2 69.7h.1M338.1 71.1h.1M338.1 70.3h.1M339.3 69.7h.1M339.4 70.2h.1M341.6 67.4h.1M339.7 69.1h.1M338.0 72.5h.1M339.6 68.1h.1M337.8 72.4h.1M338.2 69.3h.1M336.9 71.6h.1M338.9 72.0h.1M339.8 67.5h.1M338.7 71.2h.1M337.4 70.6h.1M338.1 70.8h.1M338.7 70.6h.1M340.2 67.4h.1M338.1 72.3h.1M337.4 72.0h.1M339.4 69.0h.1M337.3 72.8h.1M338.4 70.5h.1M340.9 68.7h.1M338.7 69.9h.1M339.2 71.4h.1M337.8 71.0h.1M337.7 71.4h.1M337.9 70.8h.1M339.5 70.1h.1M338.5 66.8h.1M340.2 68.6h.1M338.3 71.0h.1M338.7 71.6h.1M338.9 68.4h.1M337.3 73.3h.1M337.9 70.4h.1M339.2 71.0h.1M337.6 71.8h.1M338.1 71.9h.1M338.8 69.1h.1M337.3 72.9h.1M338.5 72.0h.1M338.0 71.0h.1M339.8 70.5h.1M338.1 72.8h.1M339.7 68.0h.1M339.8 71.4h.1M338.2 70.2h.1M338.8 70.9h.1M338.8 71.6h.1M337.7 71.6h.1M339.8 68.0h.1M339.6 70.0h.1M339.0 70.4h.1M339.6 68.2h.1M337.7 71.0h.1M339.7 69.1h.1M339.5 70.4h.1M338.6 72.0h.1M340.2 69.1h.1M336.9 72.3h.1M339.3 68.8h.1M337.8 71.4h.1M338.5 68.9h.1M340.7 68.0h.1M339.8 69.4h.1M338.5 71.3h.1M337.7 69.4h.1M339.8 71.6h.1M337.5 71.9h.1M337.4 71.8h.1M339.0 70.0h.1M338.1 68.3h.1M336.3 72.5h.1M338.4 69.9h.1M340.1 69.7h.1M338.7 69.8h.1M338.1 71.9h.1M340.0 68.4h.1M337.5 72.0h.1M339.9 69.3h.1M340.3 67.3h.1M335.7 72.8h.1M338.6 69.3h.1M339.1 69.5h.1M340.4 70.6h.1M337.4 70.9h.1M337.9 70.2h.1M337.5 72.5h.1M339.4 70.1h.1M339.1 69.0h.1M338.7 71.6h.1M337.4 71.3h.1M339.1 71.4h.1M339.5 70.6h.1M339.0 70.1h.1M339.7 70.9h.1M339.0 70.0h.1M337.1 72.1h.1M336.7 75.2h.1M339.0 68.8h.1M340.8 68.1h.1M337.0 72.2h.1M338.0 71.2h.1M339.5 69.9h.1M340.3 68.8h.1M340.7 69.8h.1M340.7 68.4h.1M339.3 70.6h.1M338.3 68.8h.1M338.7 69.1h.1M339.3 71.4h.1M339.7 67.9h.1M339.4 69.1h.1M340.2 68.7h.1M338.2 70.6h.1M339.5 68.2h.1M338.1 72.1h.1M339.5 69.6h.1M335.9 74.3h.1M338.4 72.2h.1M339.6 68.9h.1M338.5 70.9h.1M339.5 70.2h.1M337.6 73.2h.1M340.4 67.5h.1M339.0 68.8h.1M338.7 70.1h.1M339.9 69.8h.1M338.8 69.3h.1M340.3 67.8h.1M338.8 69.6h.1M336.6 72.1h.1M339.2 71.0h.1M340.4 68.1h.1M339.9 69.5h.1M339.0 71.2h.1M338.3 68.3h.1M338.4 69.6h.1M340.7 69.9h.1M336.9 72.6h.1M338.3 71.9h.1M338.9 68.6h.1M338.6 70.5h.1M339.4 69.7h.1M340.9 66.9h.1M338.3 70.5h.1M339.1 69.8h.1" stroke="#000" stroke-width="1.0" stroke-linecap="round" opacity="0.55" fill="none"/>
<line x1="342.50" y1="32.20" x2="342.50" y2="90.20" stroke="#555" stroke-width="1.0"/>
<line x1="319.50" y1="66.50" x2="376.70" y2="66.50" stroke="#555" stroke-width="1.0"/>
<text x="320.80" y="41.80" font-size="6.8" text-anchor="start" fill="#2a2a2a">15.6</text>
<text x="372.30" y="41.80" font-size="6.8" text-anchor="end" fill="#2a2a2a">25.6</text>
<text x="320.80" y="86.80" font-size="6.8" text-anchor="start" fill="#2a2a2a">53.9</text>
<text x="372.30" y="86.80" font-size="6.8" text-anchor="end" fill="#2a2a2a">4.93</text>
<text x="348.10" y="27.80" font-size="6.6" text-anchor="middle" fill="#333">IL-15</text>
<rect x="382.00" y="32.00" width="56.50" height="58.20" fill="#fff" stroke="#999" stroke-width="0.8"/>
<path d="M408.2 59.2h.1M406.8 57.9h.1M414.1 57.0h.1M404.5 63.7h.1M410.8 58.9h.1M411.7 60.2h.1M409.0 61.5h.1M412.8 54.7h.1M409.3 67.4h.1M402.7 57.4h.1M408.2 63.7h.1M413.0 56.1h.1M405.9 59.8h.1M409.8 58.1h.1M407.2 54.3h.1M405.6 67.6h.1M409.9 55.2h.1M407.1 62.4h.1M408.3 59.5h.1M409.7 59.2h.1M412.1 53.8h.1M407.3 51.9h.1M416.3 49.1h.1M411.4 58.0h.1M409.0 61.4h.1M406.6 60.3h.1M410.3 54.0h.1M411.7 47.9h.1M413.9 58.1h.1M407.1 61.2h.1M410.7 56.9h.1M410.9 57.2h.1M409.1 57.8h.1M412.4 65.0h.1M401.5 72.2h.1M407.6 61.1h.1M416.2 54.1h.1M410.3 57.2h.1M399.1 68.7h.1M410.5 58.7h.1M402.6 67.9h.1M415.8 47.3h.1M412.1 58.2h.1M408.4 66.2h.1M412.8 54.2h.1M403.9 61.0h.1M409.0 54.0h.1M411.3 59.0h.1M403.5 63.6h.1M411.7 54.6h.1M407.4 66.7h.1M412.2 50.1h.1M412.0 59.1h.1M410.5 66.1h.1M400.9 66.8h.1M418.8 51.5h.1M412.3 49.3h.1M409.8 67.3h.1M414.3 49.0h.1M410.5 57.5h.1M410.0 60.1h.1M414.8 61.6h.1M409.0 59.9h.1M413.7 50.2h.1M412.2 58.6h.1M404.3 68.7h.1M413.0 45.1h.1M413.8 54.2h.1M405.7 64.1h.1M411.4 61.7h.1M405.9 62.9h.1M408.0 57.1h.1M404.3 52.8h.1M407.8 55.7h.1M406.6 61.1h.1M403.6 60.9h.1M414.4 54.7h.1M406.4 57.4h.1M417.3 46.2h.1M408.7 63.6h.1M408.9 52.3h.1M409.0 57.7h.1M403.9 60.8h.1M417.1 52.4h.1M409.1 57.2h.1M408.2 64.0h.1M409.2 60.4h.1M417.3 54.9h.1M403.5 63.9h.1M412.9 50.2h.1M413.9 55.6h.1M412.1 61.6h.1M415.6 51.7h.1M410.9 46.5h.1M411.4 55.0h.1M410.8 57.7h.1M413.5 47.1h.1M413.7 49.7h.1M406.2 63.2h.1M407.0 58.4h.1M408.0 59.0h.1M406.0 59.4h.1M408.1 68.3h.1M411.9 53.0h.1M410.6 58.2h.1M409.5 57.5h.1M413.6 50.3h.1M409.4 62.2h.1M410.2 59.0h.1M407.8 55.4h.1M409.6 61.4h.1M412.3 60.5h.1M410.1 53.1h.1M406.9 57.0h.1M414.0 51.0h.1M406.9 62.3h.1M412.1 58.1h.1M405.8 66.6h.1M406.3 57.5h.1M405.4 61.2h.1M413.0 50.3h.1M412.3 54.3h.1M415.0 57.4h.1M414.0 47.3h.1M412.4 49.4h.1M408.8 52.8h.1M402.3 59.5h.1M404.3 66.0h.1M406.9 57.1h.1M411.2 61.7h.1M404.5 60.3h.1M406.4 58.7h.1M401.1 65.9h.1M412.0 48.8h.1M404.9 64.1h.1M403.7 60.1h.1M412.7 55.8h.1M403.0 66.7h.1M409.3 51.5h.1M414.1 53.9h.1M411.4 61.5h.1M405.2 63.8h.1M407.7 60.7h.1M402.5 68.0h.1M411.8 49.4h.1M411.5 58.9h.1M406.4 62.0h.1M403.9 61.9h.1M411.9 55.4h.1M414.5 50.0h.1M408.5 66.9h.1M405.6 60.4h.1M399.3 65.7h.1M414.8 56.1h.1M407.9 56.3h.1M413.7 44.1h.1M410.4 59.6h.1M409.0 61.2h.1M409.9 63.6h.1M413.8 54.3h.1M404.2 67.3h.1M409.9 53.0h.1M409.8 56.6h.1M405.7 60.0h.1M406.2 63.1h.1M415.4 53.6h.1M411.1 45.6h.1M405.1 59.2h.1M412.7 56.1h.1M410.0 45.9h.1M406.4 61.1h.1M408.3 59.5h.1M401.0 62.7h.1M415.2 62.2h.1M413.2 60.7h.1M406.3 59.7h.1M407.8 62.7h.1M407.1 68.5h.1M401.6 64.0h.1M405.3 63.2h.1M414.4 56.1h.1M409.5 61.9h.1M404.7 62.0h.1M406.8 52.1h.1M416.0 57.5h.1M406.5 62.2h.1M408.5 62.3h.1M415.7 56.6h.1M410.8 56.3h.1M410.9 65.0h.1M411.4 57.5h.1M405.2 56.3h.1M411.3 51.1h.1M404.8 62.2h.1M410.4 52.3h.1M409.7 55.2h.1M403.9 62.7h.1M415.4 53.6h.1M412.9 53.4h.1M403.3 64.7h.1M417.0 47.7h.1M407.0 65.3h.1M403.6 61.9h.1M404.5 58.1h.1M413.1 54.5h.1M413.1 55.8h.1M407.6 58.0h.1M412.7 49.9h.1M412.2 56.7h.1M411.9 49.3h.1M416.2 41.1h.1M409.7 56.9h.1M394.3 69.3h.1M404.5 59.0h.1M404.1 63.3h.1M407.0 56.3h.1M402.1 53.8h.1M402.9 63.9h.1M407.7 65.8h.1M407.7 59.3h.1M408.5 59.2h.1M403.0 74.0h.1M411.5 52.1h.1M408.8 57.6h.1M409.4 58.3h.1M411.4 57.0h.1M404.2 63.1h.1M413.2 60.5h.1M410.3 51.0h.1M412.5 51.8h.1M410.0 55.1h.1M414.5 62.8h.1M402.6 60.8h.1M417.6 52.6h.1M413.0 56.2h.1M406.4 59.8h.1M404.3 71.7h.1M407.7 63.8h.1M409.2 72.4h.1M414.1 51.4h.1M409.3 56.8h.1M405.3 61.7h.1M409.2 60.1h.1M416.5 42.6h.1M411.8 50.4h.1M407.0 66.9h.1M410.8 59.9h.1M400.6 62.9h.1M406.2 69.4h.1M406.7 55.5h.1M416.4 43.8h.1M410.3 47.0h.1M411.0 58.7h.1M406.8 59.7h.1M409.1 56.5h.1M413.0 52.3h.1M404.1 66.4h.1M405.6 70.2h.1M415.2 47.1h.1M411.1 57.0h.1M412.2 47.6h.1M410.2 56.8h.1M417.3 51.1h.1M408.4 62.3h.1M411.0 55.3h.1M416.3 50.1h.1M409.0 50.3h.1M406.9 60.4h.1M409.9 51.7h.1M409.2 63.1h.1M406.0 67.2h.1M408.3 53.7h.1M417.2 51.6h.1M410.9 52.6h.1M405.2 65.6h.1M413.2 53.6h.1M411.1 54.0h.1M410.6 62.3h.1M401.1 72.7h.1M415.5 53.6h.1M415.2 54.5h.1M407.3 53.4h.1M405.8 69.4h.1M410.1 69.8h.1M409.9 50.8h.1M413.7 54.3h.1M419.7 59.7h.1M408.7 59.7h.1M408.1 54.6h.1M406.7 60.9h.1M404.0 57.8h.1M406.9 63.5h.1M408.6 55.8h.1M410.6 62.0h.1M411.8 52.2h.1M407.6 51.8h.1M405.5 62.4h.1M414.5 46.9h.1M410.9 67.5h.1M411.6 55.9h.1M415.9 53.3h.1M411.2 49.4h.1M404.4 72.4h.1M411.4 51.6h.1M415.6 52.1h.1M408.9 47.0h.1M405.4 73.1h.1M406.8 62.0h.1M402.3 55.3h.1M407.4 60.6h.1M415.6 51.2h.1M405.6 61.4h.1M410.5 49.4h.1M408.8 53.6h.1M409.8 69.5h.1M405.7 63.9h.1M413.2 63.7h.1M404.7 55.1h.1M412.2 52.0h.1M409.9 59.8h.1M410.4 51.8h.1M403.2 67.0h.1M402.9 78.1h.1M404.1 58.1h.1M411.3 55.7h.1M412.6 62.6h.1M402.6 62.4h.1M406.7 53.6h.1M412.0 44.8h.1M407.6 58.1h.1M409.3 63.7h.1M404.3 62.0h.1M410.6 43.8h.1M407.1 57.3h.1M407.1 52.3h.1M415.0 51.8h.1M410.0 50.3h.1M404.0 62.5h.1M416.0 54.3h.1M416.0 55.1h.1M412.6 56.1h.1M412.2 51.9h.1M406.4 60.9h.1M409.6 58.9h.1M407.8 61.4h.1M411.9 53.7h.1M407.0 62.0h.1M409.0 55.0h.1M404.6 64.1h.1M409.0 58.9h.1M407.5 60.0h.1M410.1 59.4h.1M407.6 56.3h.1M410.0 59.9h.1M404.4 57.3h.1M402.9 70.7h.1M412.0 51.1h.1M409.3 62.9h.1M409.4 60.1h.1M406.3 62.9h.1M412.3 52.1h.1M408.1 64.4h.1M413.8 56.6h.1M412.8 50.9h.1M413.9 48.0h.1M411.5 50.2h.1M408.0 52.7h.1M406.4 65.8h.1M418.4 52.9h.1M413.3 51.1h.1M416.6 55.5h.1M415.0 54.9h.1M406.9 56.3h.1M406.2 60.5h.1M414.3 52.4h.1M414.8 51.2h.1M406.3 64.5h.1M416.6 54.9h.1M408.8 56.0h.1M412.9 53.2h.1M405.4 54.0h.1M415.4 52.7h.1M409.9 50.6h.1M413.8 53.6h.1M402.4 65.1h.1M414.3 54.4h.1M407.6 56.8h.1M407.0 65.4h.1M413.6 54.9h.1M405.5 66.5h.1M410.8 52.0h.1M413.5 47.3h.1M403.7 59.0h.1M410.0 51.4h.1M417.5 58.8h.1M412.3 54.6h.1M410.3 68.8h.1M412.2 54.8h.1M408.1 56.4h.1M415.0 55.3h.1M412.4 59.5h.1M412.3 51.2h.1M410.9 56.7h.1M407.3 51.8h.1M412.7 49.3h.1M408.5 56.2h.1M407.9 49.7h.1M411.3 57.3h.1M410.9 54.8h.1M410.3 62.4h.1M411.0 53.0h.1M410.4 49.2h.1M405.6 56.7h.1M411.9 53.2h.1M412.5 56.3h.1M407.9 65.6h.1M414.0 57.7h.1M413.1 49.9h.1M404.4 59.1h.1M410.0 71.7h.1M415.6 59.6h.1M403.8 59.9h.1M419.3 48.7h.1M408.4 57.7h.1M412.6 59.6h.1M405.4 60.6h.1M408.1 55.4h.1M407.2 61.1h.1M404.5 62.2h.1M409.0 58.2h.1M405.4 62.0h.1M408.6 47.7h.1M403.0 63.4h.1M410.8 59.2h.1M409.3 63.1h.1M405.8 66.4h.1M415.0 48.3h.1M402.8 70.3h.1M415.3 50.0h.1M403.4 65.4h.1M409.5 57.3h.1M415.3 44.0h.1M402.9 70.5h.1M403.6 65.3h.1M416.4 51.7h.1M405.8 54.8h.1M406.8 60.7h.1M408.1 57.5h.1M404.8 62.8h.1M406.9 55.7h.1M412.0 48.0h.1M407.6 59.9h.1M410.2 57.3h.1M417.2 52.9h.1M414.8 45.8h.1M408.4 61.8h.1M411.0 56.5h.1M401.4 58.1h.1M412.2 64.2h.1M408.0 60.2h.1M404.3 60.0h.1M401.6 66.9h.1M400.1 68.1h.1M410.4 63.9h.1M412.2 58.4h.1M411.4 49.9h.1M408.5 61.4h.1M404.4 56.6h.1M410.7 53.7h.1M411.0 53.2h.1M407.8 58.0h.1M409.8 58.6h.1M414.7 46.6h.1M410.0 60.8h.1M407.9 60.8h.1M405.6 68.2h.1M409.9 55.0h.1M412.2 61.3h.1M418.9 48.5h.1M407.1 59.3h.1M411.2 52.8h.1M414.6 53.6h.1M414.9 48.4h.1M408.0 67.0h.1M408.8 45.9h.1M413.4 59.9h.1M404.5 56.2h.1M410.5 60.8h.1M407.0 59.7h.1M408.9 60.3h.1M403.2 72.2h.1M408.4 53.6h.1M407.4 56.4h.1M407.2 63.9h.1M411.4 59.4h.1M410.9 41.5h.1M406.8 53.8h.1M407.7 60.0h.1M415.2 48.1h.1M406.1 62.2h.1M408.6 58.7h.1M404.5 59.6h.1M411.1 60.5h.1M411.4 53.5h.1M413.1 55.5h.1M403.7 60.5h.1M404.2 56.3h.1M409.8 57.5h.1M406.6 59.6h.1M405.5 56.2h.1M407.9 62.5h.1M409.5 63.5h.1M406.7 56.2h.1M404.9 63.3h.1M411.1 55.7h.1M404.9 57.1h.1M405.9 63.0h.1M412.0 63.8h.1M406.9 60.3h.1M408.9 58.9h.1M404.7 54.7h.1M408.7 59.1h.1M407.2 63.3h.1M412.4 48.9h.1M411.3 52.2h.1M413.2 59.1h.1M411.8 52.1h.1M411.1 56.4h.1M404.9 57.6h.1M403.3 54.2h.1M420.1 43.7h.1M414.7 53.3h.1M414.6 52.9h.1M409.8 61.1h.1M412.8 55.3h.1M415.9 44.5h.1M407.7 54.0h.1M415.8 53.3h.1M417.0 52.5h.1M415.9 56.5h.1M411.1 47.2h.1M406.5 54.8h.1M414.7 57.0h.1M411.6 63.7h.1M416.8 42.2h.1M407.3 54.7h.1M407.0 55.9h.1M412.9 49.5h.1M406.0 59.9h.1M408.4 57.5h.1M408.3 63.2h.1M404.4 55.3h.1M408.1 60.2h.1M413.7 56.2h.1M410.1 59.3h.1M411.4 63.4h.1M408.3 59.6h.1M406.1 57.2h.1M411.0 62.6h.1M409.1 50.9h.1M405.8 51.2h.1M408.7 56.6h.1M408.7 66.4h.1M413.0 56.0h.1M406.3 65.8h.1M413.1 58.5h.1M412.6 59.3h.1M408.2 61.7h.1M407.2 63.0h.1M405.6 61.2h.1M418.5 47.5h.1M403.6 57.0h.1M405.9 57.7h.1M409.8 51.1h.1M412.2 56.3h.1M407.9 49.4h.1M406.5 65.5h.1M401.3 61.9h.1M416.4 37.0h.1M411.4 59.3h.1M409.5 60.2h.1M404.9 54.5h.1M409.6 50.8h.1M406.1 65.1h.1M409.6 56.0h.1M408.6 57.8h.1M413.2 55.0h.1M410.3 57.2h.1M409.4 61.9h.1M407.8 63.5h.1M400.8 71.5h.1M414.6 53.5h.1M403.0 65.5h.1M407.8 60.1h.1M412.2 47.2h.1M405.7 59.2h.1M407.8 52.7h.1M407.0 58.3h.1M409.5 52.9h.1M409.8 58.0h.1M406.2 60.1h.1M415.6 51.2h.1M409.1 59.8h.1M403.3 64.7h.1M408.4 59.9h.1M409.7 54.2h.1M408.7 65.8h.1M408.0 51.5h.1M413.0 54.2h.1M414.5 45.0h.1M407.4 61.7h.1M408.8 52.8h.1M405.3 68.2h.1M410.6 61.7h.1M414.5 59.8h.1M411.2 55.9h.1M412.2 59.8h.1M407.6 57.7h.1M403.7 59.6h.1M413.7 63.4h.1M413.5 57.8h.1M410.1 54.3h.1M407.9 52.6h.1M411.4 51.7h.1M411.9 50.6h.1M402.6 67.7h.1M406.2 60.2h.1M404.5 56.7h.1M405.7 60.9h.1M415.6 53.5h.1M412.7 54.2h.1M408.4 58.3h.1M411.7 58.3h.1M413.7 50.9h.1M409.6 60.6h.1M410.1 60.7h.1M410.1 51.7h.1M411.6 55.7h.1M416.3 51.1h.1M412.2 56.7h.1M411.4 53.5h.1M402.1 58.3h.1M405.8 63.0h.1M405.4 56.0h.1M400.1 72.7h.1M416.0 58.4h.1M411.1 51.8h.1M411.7 58.6h.1M412.1 61.0h.1M415.3 53.0h.1M404.5 55.8h.1M416.2 54.3h.1M417.3 46.0h.1M408.4 52.2h.1M410.3 51.6h.1M415.1 57.3h.1M410.3 56.6h.1M411.4 57.0h.1M409.9 57.8h.1M410.5 50.6h.1M406.0 68.0h.1M409.3 59.9h.1M407.4 52.2h.1M411.5 65.3h.1M409.9 59.0h.1M406.0 61.3h.1M413.8 57.0h.1M413.4 53.7h.1M417.0 51.2h.1M410.3 54.8h.1M408.7 62.9h.1M407.9 55.4h.1M408.3 53.3h.1M413.3 49.7h.1M403.9 70.8h.1M409.7 55.4h.1M403.7 68.4h.1M414.5 55.4h.1M407.8 53.9h.1M410.1 54.7h.1M409.8 51.7h.1M413.9 57.5h.1M405.1 60.5h.1M404.8 53.1h.1M411.2 50.2h.1M412.7 60.5h.1M409.2 57.7h.1M405.8 65.0h.1M412.1 50.9h.1M408.4 61.2h.1M405.8 61.6h.1M409.1 61.1h.1M406.1 62.6h.1M410.3 60.3h.1M412.8 50.4h.1M409.0 52.0h.1M414.7 50.3h.1M411.9 48.4h.1M408.9 64.3h.1M411.6 55.6h.1M414.3 49.6h.1M412.8 43.0h.1M407.1 67.1h.1M401.9 64.5h.1M414.5 57.2h.1M408.7 60.1h.1M403.9 62.5h.1M408.6 54.8h.1M409.6 63.8h.1M405.8 72.7h.1M406.9 56.9h.1M412.9 58.9h.1M409.6 53.5h.1M413.4 53.2h.1M409.8 56.9h.1M402.5 56.2h.1M403.2 59.7h.1M402.2 66.4h.1M411.6 62.3h.1M411.4 51.8h.1M411.0 54.1h.1M415.6 46.2h.1M405.3 57.1h.1M408.5 70.6h.1M410.9 52.7h.1M412.0 51.8h.1M407.8 65.7h.1M400.0 65.0h.1M413.0 58.8h.1M411.3 53.8h.1M405.7 64.3h.1M414.0 62.8h.1M410.7 64.4h.1M408.3 66.1h.1M403.3 64.5h.1M407.2 55.9h.1M406.6 59.3h.1M406.6 61.5h.1M407.3 76.0h.1M413.8 47.6h.1M407.8 64.1h.1M405.8 57.2h.1M402.4 62.8h.1M404.5 52.8h.1M402.9 65.8h.1M407.4 56.4h.1M411.4 60.5h.1M411.7 52.6h.1M409.2 66.0h.1M405.0 60.6h.1M411.7 61.0h.1M416.0 46.2h.1M407.0 67.6h.1M411.3 57.0h.1M406.1 61.2h.1M411.6 57.0h.1M410.6 53.9h.1M412.3 58.5h.1M406.4 54.6h.1M411.7 57.3h.1M404.9 60.1h.1M403.0 56.4h.1M410.7 70.9h.1M410.8 61.4h.1M407.5 62.8h.1M405.4 57.9h.1M412.7 54.4h.1M409.4 55.3h.1M412.5 56.3h.1M411.0 50.9h.1M405.4 73.5h.1M408.3 54.4h.1M417.0 62.2h.1M413.9 61.1h.1M400.6 63.2h.1M410.4 54.6h.1M415.0 52.6h.1M406.5 49.2h.1M406.2 57.2h.1M408.1 52.9h.1M413.1 53.3h.1M413.0 46.7h.1M411.5 50.3h.1M414.0 59.5h.1M407.9 56.7h.1M410.2 57.4h.1M406.5 55.0h.1M404.3 59.2h.1M413.2 54.5h.1M408.8 62.9h.1M406.4 62.5h.1M408.6 55.1h.1M408.6 61.9h.1M408.8 59.6h.1M401.5 69.3h.1M410.5 52.9h.1M406.1 56.6h.1M408.2 58.5h.1M412.9 56.6h.1M414.5 59.2h.1M405.0 61.0h.1M416.0 46.9h.1M408.8 61.2h.1M412.9 52.8h.1M418.8 49.6h.1M408.4 62.2h.1M416.4 61.0h.1M407.9 63.4h.1M414.7 53.2h.1M403.4 57.6h.1M404.8 63.9h.1M413.7 50.8h.1M411.5 52.6h.1M404.7 62.2h.1M414.7 52.3h.1M410.4 57.3h.1M418.2 42.9h.1M407.7 44.8h.1M407.4 61.2h.1M413.6 62.3h.1M404.5 62.1h.1M402.8 53.8h.1M411.9 59.1h.1M402.2 49.2h.1M409.7 57.7h.1M402.2 65.3h.1M408.3 63.6h.1M414.1 50.3h.1M415.9 53.1h.1M411.6 60.5h.1M414.5 61.8h.1M405.7 57.5h.1M412.4 59.5h.1M403.3 67.3h.1M411.0 52.5h.1M409.0 62.8h.1M409.5 57.2h.1M402.0 72.9h.1M411.2 57.4h.1M413.0 50.3h.1M402.5 71.0h.1M416.4 50.7h.1M414.1 57.1h.1M409.3 63.5h.1M404.2 67.1h.1M409.0 49.5h.1M406.1 54.6h.1M410.2 54.3h.1M405.9 58.4h.1M406.6 62.6h.1M408.9 51.6h.1M406.1 63.5h.1M410.9 52.4h.1M405.1 68.2h.1M406.5 63.5h.1M399.9 63.9h.1M416.3 52.2h.1M404.1 68.3h.1M407.5 65.5h.1M408.6 53.0h.1M405.1 54.3h.1M416.5 45.9h.1M422.1 51.2h.1M409.4 53.7h.1M409.6 53.3h.1M408.4 71.0h.1M407.3 63.6h.1M408.5 60.1h.1M414.9 62.3h.1M403.4 65.2h.1M405.3 62.9h.1M406.1 62.7h.1M415.2 53.4h.1M412.4 56.6h.1M410.0 60.9h.1M407.2 59.1h.1M412.7 57.8h.1M403.3 60.2h.1M407.5 59.1h.1M410.0 71.1h.1M406.7 52.0h.1M411.7 52.3h.1M411.8 56.8h.1M410.4 55.2h.1M415.2 58.5h.1M414.8 46.0h.1M416.5 60.3h.1M408.1 67.2h.1M402.5 62.4h.1M408.0 52.3h.1M413.3 52.4h.1M414.1 55.0h.1M409.2 52.0h.1M410.0 57.1h.1M404.3 66.5h.1M405.5 61.4h.1M406.8 70.1h.1M406.0 59.3h.1M410.9 69.0h.1M405.6 55.6h.1M413.0 61.3h.1M405.2 70.3h.1M413.2 54.8h.1M409.6 52.7h.1M403.2 65.2h.1M408.7 56.8h.1M409.9 53.3h.1M407.2 59.2h.1M412.0 53.3h.1M415.0 59.7h.1M418.7 55.1h.1M416.0 60.3h.1M408.9 59.2h.1M411.4 55.5h.1M412.0 53.8h.1M409.4 56.4h.1M408.6 61.1h.1M409.6 64.2h.1M412.2 62.4h.1M412.7 64.1h.1M406.6 55.3h.1M407.3 56.0h.1M412.7 60.6h.1M410.0 58.6h.1M408.6 56.6h.1M409.6 46.9h.1M414.5 52.0h.1M407.1 61.3h.1M407.4 54.2h.1M413.0 62.5h.1M411.0 59.8h.1M408.6 59.7h.1M409.4 62.9h.1M399.5 63.3h.1M399.6 71.4h.1M409.3 56.8h.1M415.4 52.7h.1M404.2 62.3h.1M409.1 54.4h.1M409.5 61.2h.1M411.3 57.2h.1M410.8 65.0h.1M408.8 59.7h.1M406.6 57.7h.1M399.5 70.8h.1M408.3 56.2h.1M406.6 57.9h.1M403.5 73.6h.1M412.5 55.1h.1M405.9 56.8h.1M408.7 56.5h.1M412.5 57.3h.1M406.7 60.0h.1M403.8 63.4h.1M406.0 59.9h.1M407.7 60.6h.1M417.3 46.0h.1M413.7 47.0h.1M403.2 58.8h.1M407.6 60.5h.1M412.0 57.3h.1M410.0 54.5h.1M410.5 64.1h.1M405.7 63.9h.1M415.8 47.4h.1M409.8 50.8h.1M404.3 67.3h.1M401.2 67.2h.1M400.6 60.0h.1M410.5 57.3h.1M413.1 56.3h.1M407.0 59.7h.1M404.7 67.9h.1M409.5 56.8h.1M412.7 55.6h.1M407.8 57.6h.1M407.6 61.2h.1M416.8 57.9h.1M409.7 59.0h.1M405.0 64.5h.1M406.4 56.2h.1M406.9 66.7h.1M414.3 53.8h.1M407.6 54.0h.1M407.9 65.0h.1M409.6 57.0h.1M411.7 50.3h.1M400.8 70.0h.1M408.8 59.2h.1M417.2 50.2h.1M401.9 66.1h.1M409.9 59.9h.1M406.4 67.5h.1M403.7 56.0h.1M399.7 71.3h.1M407.2 69.4h.1M408.9 62.2h.1M410.3 57.9h.1M412.4 57.1h.1M415.7 58.5h.1M410.6 50.5h.1M409.3 53.2h.1M410.8 53.7h.1M407.4 64.7h.1M408.2 59.0h.1M417.1 38.6h.1M418.9 46.4h.1M412.6 53.9h.1M413.0 54.7h.1M410.4 51.5h.1M407.3 60.4h.1M418.7 48.5h.1M409.8 61.4h.1M404.3 56.4h.1M418.4 46.8h.1M402.6 70.5h.1M412.0 57.1h.1M400.7 66.9h.1M407.5 62.3h.1M410.2 59.5h.1M411.3 62.1h.1M410.4 57.7h.1M404.7 61.8h.1M407.1 58.1h.1M409.2 67.2h.1M403.9 58.5h.1M405.7 67.0h.1M414.1 55.9h.1M405.0 65.9h.1M413.0 55.1h.1M409.6 61.6h.1M410.0 61.0h.1M413.1 51.4h.1M410.9 58.4h.1M408.1 72.0h.1M409.4 54.7h.1M401.8 76.4h.1M406.9 55.1h.1M406.6 60.0h.1M403.4 65.9h.1M409.0 57.6h.1M404.9 58.4h.1M416.3 46.8h.1M410.6 62.3h.1M414.3 46.3h.1M420.8 53.8h.1M408.4 62.5h.1M406.2 63.0h.1M414.4 51.0h.1M405.5 57.5h.1M407.9 56.5h.1M408.2 59.7h.1M406.7 66.2h.1M405.2 59.1h.1M408.2 65.1h.1M405.7 68.1h.1M406.4 59.1h.1M413.2 46.8h.1M408.8 45.9h.1M409.7 59.0h.1M414.7 60.1h.1M409.1 54.4h.1M410.1 48.5h.1M410.7 56.7h.1M403.7 59.1h.1M403.3 58.3h.1M414.5 52.5h.1M418.6 43.4h.1M410.7 63.8h.1M401.5 70.0h.1M409.9 52.5h.1M407.4 58.0h.1M413.0 59.2h.1M415.1 52.0h.1M413.3 59.9h.1M409.5 68.6h.1M406.9 72.0h.1M413.4 60.8h.1M406.2 65.6h.1M409.1 56.0h.1M403.7 65.2h.1M408.3 60.5h.1M406.6 68.2h.1M408.2 60.6h.1M406.4 60.3h.1M411.9 55.2h.1M413.3 50.2h.1M409.6 59.9h.1M408.0 64.3h.1M415.2 46.5h.1M413.4 57.7h.1M408.4 53.2h.1M415.3 56.8h.1M412.6 49.0h.1M416.0 54.1h.1M407.4 52.2h.1M409.4 52.6h.1M408.8 64.7h.1M408.6 62.6h.1M412.0 60.5h.1M409.8 57.9h.1M408.3 57.7h.1M403.5 53.0h.1M413.0 60.1h.1M404.7 59.3h.1M405.9 69.0h.1M411.2 52.9h.1M408.8 53.6h.1M405.2 62.9h.1M409.7 54.8h.1M411.1 56.2h.1M409.6 57.9h.1M403.3 69.3h.1M402.4 64.0h.1M411.4 64.0h.1M415.6 49.3h.1M410.0 65.2h.1M410.8 61.8h.1M408.0 66.2h.1M404.9 59.8h.1M404.7 53.4h.1M399.3 69.1h.1M403.7 77.1h.1M411.2 54.3h.1M412.4 59.7h.1M406.3 61.4h.1M408.9 50.8h.1M410.8 51.7h.1M400.5 69.9h.1M409.2 59.6h.1M418.0 54.3h.1M412.5 65.1h.1M408.6 60.4h.1M410.7 51.8h.1M405.1 58.3h.1M406.6 66.1h.1M407.0 62.4h.1M404.6 66.0h.1M408.2 53.6h.1M404.2 68.9h.1M415.3 53.8h.1M401.4 66.9h.1M408.4 57.5h.1M403.8 66.7h.1M411.7 62.0h.1M412.5 52.2h.1M417.3 53.9h.1M418.7 53.2h.1M409.7 59.2h.1M410.8 58.3h.1M408.5 56.2h.1M407.4 52.7h.1M408.2 60.8h.1M408.0 49.3h.1M411.9 57.2h.1M410.8 50.4h.1M414.2 57.2h.1M411.1 54.1h.1M407.9 63.2h.1M408.6 61.2h.1M403.8 65.4h.1M413.4 62.7h.1M408.5 59.3h.1M414.1 54.4h.1M405.1 65.8h.1M418.3 38.2h.1M409.9 59.6h.1M414.2 51.2h.1M415.6 53.6h.1M400.1 72.9h.1M410.3 60.9h.1M412.7 48.8h.1M405.6 75.0h.1M408.1 51.9h.1M409.2 65.3h.1M404.8 59.6h.1M411.2 57.6h.1M402.1 68.9h.1M410.3 57.4h.1M405.5 61.4h.1M407.0 62.9h.1M408.1 52.4h.1M418.4 36.2h.1M408.6 55.4h.1M406.6 52.8h.1M411.0 59.6h.1M403.6 61.0h.1M409.9 56.7h.1M417.9 51.2h.1M408.6 56.6h.1M412.6 53.3h.1M404.1 57.5h.1M418.4 43.8h.1M404.1 68.3h.1M410.5 54.5h.1M416.0 57.7h.1M408.8 56.1h.1M408.5 66.5h.1M402.1 63.4h.1M404.2 57.6h.1M409.6 57.8h.1M409.8 67.9h.1M405.5 64.6h.1M410.6 54.8h.1M410.6 51.2h.1M408.4 62.2h.1M410.3 64.2h.1M407.4 63.0h.1M419.4 44.6h.1M406.1 53.0h.1M411.0 59.8h.1M414.1 53.2h.1M416.5 44.6h.1M416.2 53.0h.1M406.1 67.7h.1M409.4 59.1h.1M409.3 61.5h.1M408.9 60.8h.1M402.2 64.1h.1M406.9 60.2h.1M409.5 66.8h.1M411.5 56.9h.1M407.4 57.1h.1M406.6 67.9h.1M403.8 68.7h.1M407.9 61.4h.1M409.9 53.8h.1M411.3 55.7h.1M409.4 59.0h.1M401.3 79.7h.1M406.8 61.0h.1M409.4 64.2h.1M403.7 58.1h.1M405.6 65.9h.1M408.5 61.4h.1M405.1 61.4h.1M417.9 42.1h.1M411.2 54.0h.1M408.8 59.7h.1M411.0 59.7h.1M411.3 60.4h.1M411.7 58.2h.1M405.0 59.4h.1M410.9 59.4h.1M413.5 52.8h.1M413.0 54.0h.1M408.4 55.6h.1M408.2 47.7h.1M412.4 58.3h.1M404.8 63.7h.1M403.5 68.9h.1M407.9 63.1h.1M407.7 58.1h.1M413.9 57.7h.1M410.4 50.8h.1M406.9 61.6h.1M409.4 64.7h.1M407.4 51.6h.1M410.7 50.1h.1M404.7 59.8h.1M414.2 58.4h.1M414.3 50.5h.1M411.7 57.2h.1M407.4 57.9h.1M399.3 69.2h.1M418.4 53.0h.1M411.2 54.5h.1M410.0 57.8h.1M405.2 59.9h.1M405.5 66.1h.1M412.3 60.8h.1M409.5 59.4h.1M415.4 53.2h.1M407.6 66.9h.1M413.6 49.6h.1M410.7 58.9h.1M412.2 50.9h.1M410.3 66.4h.1M404.2 53.2h.1M409.7 49.3h.1M407.7 56.8h.1M408.1 69.1h.1M414.0 63.4h.1M413.2 56.4h.1M405.6 67.3h.1M398.9 64.2h.1M406.6 55.3h.1M407.7 64.9h.1M408.2 52.7h.1M402.4 63.9h.1M403.6 69.6h.1M403.7 61.5h.1M413.0 48.9h.1M408.3 64.6h.1M412.4 60.1h.1M410.4 57.1h.1M403.7 62.9h.1M416.2 53.6h.1M414.1 59.5h.1M409.2 55.0h.1M411.3 72.3h.1M399.1 66.6h.1M401.9 75.8h.1M406.8 58.6h.1M403.7 57.3h.1M415.4 56.0h.1M416.7 50.8h.1M402.6 57.0h.1M409.2 60.4h.1M411.0 55.9h.1M413.4 48.8h.1M403.9 62.0h.1M407.7 52.8h.1M408.2 59.8h.1M409.1 60.9h.1M411.9 53.5h.1M406.0 62.8h.1M402.5 63.1h.1M411.0 54.2h.1M404.4 56.1h.1M410.7 61.2h.1M407.5 58.5h.1M406.2 53.0h.1M404.7 58.9h.1M410.8 53.3h.1M412.9 57.1h.1M415.7 50.4h.1M413.6 51.0h.1M411.1 52.8h.1M409.3 60.0h.1M413.5 59.7h.1M409.4 63.0h.1M416.7 40.4h.1M406.4 58.6h.1M414.7 56.9h.1M414.5 50.7h.1M409.5 68.9h.1M408.2 64.2h.1M398.7 56.0h.1M406.1 64.4h.1M406.3 66.6h.1M409.3 62.3h.1M416.5 52.2h.1M416.4 56.5h.1M409.5 58.2h.1M410.1 58.6h.1M400.3 66.5h.1M415.8 56.4h.1M409.5 55.2h.1M402.4 63.2h.1M415.1 59.8h.1M407.0 58.7h.1M412.0 63.7h.1M404.9 63.7h.1M403.3 60.5h.1M406.4 64.1h.1M410.0 55.2h.1M412.3 57.1h.1M409.5 56.0h.1M405.7 58.0h.1M408.5 61.1h.1M416.0 46.2h.1M402.5 69.1h.1M410.8 50.0h.1M414.7 58.4h.1M409.4 57.9h.1M409.5 62.4h.1M407.3 59.0h.1M402.9 64.2h.1M404.2 66.4h.1M405.5 57.3h.1M406.8 69.8h.1M413.0 53.8h.1M415.4 53.0h.1M398.5 79.1h.1M404.3 67.7h.1M410.7 57.0h.1M413.2 58.7h.1M409.9 57.8h.1M411.8 56.4h.1M410.0 53.0h.1M412.7 53.5h.1M411.8 46.0h.1M408.8 57.9h.1M416.9 55.6h.1M404.8 68.4h.1M412.7 61.1h.1M403.0 64.4h.1M409.8 48.0h.1M416.6 44.2h.1M409.8 54.5h.1M409.1 68.2h.1M414.9 62.1h.1M410.9 58.9h.1M410.6 57.5h.1M416.7 53.8h.1M412.0 52.4h.1M400.3 74.0h.1M411.8 49.2h.1M403.7 59.3h.1M405.5 60.6h.1M414.7 50.3h.1M408.2 59.8h.1M403.5 65.8h.1M408.0 67.8h.1M406.0 56.2h.1M409.7 51.6h.1M414.6 49.6h.1M410.5 60.2h.1M397.8 56.1h.1M412.1 47.4h.1M405.4 59.8h.1M409.1 47.1h.1M407.4 55.6h.1M409.5 56.6h.1M406.7 58.8h.1M412.7 57.8h.1M406.0 60.2h.1M411.3 64.5h.1M407.8 58.6h.1M405.8 61.5h.1M414.4 58.6h.1M404.5 55.2h.1M411.5 61.5h.1M405.9 58.1h.1M410.0 60.4h.1M413.9 47.4h.1M411.0 59.3h.1M400.9 58.6h.1M405.7 58.7h.1M406.6 51.9h.1M406.6 58.5h.1M407.0 58.3h.1M408.1 59.7h.1M410.4 57.6h.1M408.9 55.1h.1M410.2 55.4h.1M404.6 68.4h.1M409.6 66.6h.1M402.0 74.7h.1M410.2 52.6h.1M413.9 52.2h.1M412.4 50.0h.1M410.1 57.6h.1M415.5 52.8h.1M411.6 59.8h.1M410.9 60.0h.1M405.3 68.0h.1M407.5 63.4h.1M404.5 60.4h.1M415.0 54.2h.1M419.8 51.0h.1M406.0 60.2h.1M411.6 56.7h.1M410.4 56.8h.1M400.1 59.6h.1M400.1 66.8h.1M405.4 62.1h.1M402.3 65.7h.1M408.0 60.1h.1M406.3 57.9h.1M410.3 60.2h.1M410.6 60.3h.1M412.0 56.0h.1M402.2 61.8h.1M407.9 50.8h.1M405.7 69.3h.1M406.4 56.4h.1M410.9 56.2h.1M404.0 61.7h.1M405.2 68.4h.1M408.7 53.2h.1M407.5 62.5h.1M412.4 54.0h.1M411.7 53.7h.1M408.8 58.1h.1M410.8 59.1h.1M415.9 54.2h.1M405.9 53.8h.1M407.4 64.5h.1M414.6 59.8h.1M417.0 58.0h.1M417.3 60.9h.1M411.4 58.0h.1M405.2 57.4h.1M413.2 61.2h.1M407.2 64.4h.1M409.7 69.4h.1M409.8 50.0h.1M406.3 61.7h.1M409.0 56.5h.1M401.0 65.6h.1M405.3 55.1h.1M403.9 61.9h.1M419.9 41.2h.1M409.6 66.3h.1M409.0 65.6h.1M416.8 55.0h.1M407.9 49.0h.1M403.2 71.3h.1M409.5 66.8h.1M406.6 64.5h.1M410.4 60.8h.1M405.8 66.6h.1M405.9 60.6h.1M406.1 63.8h.1M407.2 66.2h.1M402.4 69.0h.1M410.2 64.5h.1M403.7 65.8h.1M405.3 65.9h.1M407.1 64.8h.1M405.8 64.3h.1M406.2 61.0h.1M406.0 67.2h.1M408.2 65.7h.1M403.8 62.3h.1M406.5 65.0h.1M405.4 62.0h.1M407.0 66.4h.1M407.9 61.9h.1M406.2 67.4h.1M403.2 67.8h.1M406.8 65.5h.1M409.4 63.0h.1M403.3 64.7h.1M404.9 66.2h.1M408.9 68.0h.1M407.1 64.9h.1M407.5 66.4h.1M408.8 65.6h.1M404.5 69.8h.1M409.6 62.0h.1M407.4 63.7h.1M406.2 67.9h.1M411.5 63.8h.1M408.0 64.6h.1M407.6 60.7h.1M406.5 69.3h.1M408.3 60.5h.1M405.9 64.5h.1M403.7 70.4h.1M407.3 63.0h.1M407.1 66.6h.1M405.4 67.9h.1M407.6 66.7h.1M402.6 69.2h.1M405.4 62.3h.1M407.1 66.3h.1M404.3 64.5h.1M411.9 63.9h.1M407.8 65.9h.1M406.9 67.7h.1M402.4 65.6h.1M407.2 65.9h.1M407.1 61.8h.1M408.5 68.6h.1M404.6 67.4h.1M407.2 62.3h.1M406.6 65.0h.1M410.4 68.0h.1M409.7 60.0h.1M403.3 67.1h.1M404.9 63.3h.1M402.9 68.9h.1M408.4 67.5h.1M407.7 63.9h.1M407.0 61.5h.1M405.6 68.9h.1M407.0 62.5h.1M408.5 63.7h.1M406.1 65.3h.1M409.4 58.5h.1M407.5 65.8h.1M400.8 64.2h.1M406.9 63.9h.1M402.9 69.1h.1M410.1 62.2h.1M408.0 62.7h.1M406.2 66.3h.1M409.6 65.2h.1M409.6 65.4h.1M409.2 60.2h.1M405.6 66.6h.1M408.2 70.9h.1M406.3 72.1h.1M406.4 66.1h.1M404.0 68.9h.1M405.3 64.9h.1M409.0 65.4h.1M404.9 65.5h.1M405.4 67.7h.1M409.2 62.8h.1M406.3 65.7h.1M405.4 63.5h.1M407.2 62.3h.1M403.0 67.3h.1M406.0 68.0h.1M411.0 59.5h.1M407.9 66.7h.1M405.6 68.1h.1M406.6 66.1h.1M406.2 66.9h.1M403.4 67.3h.1M405.2 65.6h.1M405.3 64.4h.1M406.3 65.0h.1M405.8 62.7h.1M403.4 69.1h.1M402.6 67.6h.1M407.0 62.7h.1M404.6 65.4h.1M408.6 62.3h.1M408.8 65.7h.1M406.3 69.9h.1M404.5 61.8h.1M404.2 67.1h.1M406.2 64.0h.1M408.7 62.4h.1M410.6 60.6h.1M402.1 62.3h.1M409.3 64.6h.1M407.1 64.5h.1M407.8 63.3h.1M403.9 72.3h.1M407.7 67.3h.1M408.0 65.1h.1M407.7 64.4h.1M405.9 67.4h.1M406.6 62.3h.1M410.0 63.7h.1M406.0 64.5h.1M403.9 64.1h.1M404.6 65.0h.1M408.4 66.0h.1M412.8 65.4h.1M407.7 60.7h.1M405.0 65.7h.1M405.8 67.9h.1M403.3 65.7h.1M408.7 63.2h.1M406.7 64.5h.1M408.5 65.5h.1M406.8 63.6h.1M407.7 64.7h.1M407.0 65.9h.1M403.2 66.4h.1M405.1 66.3h.1M408.9 66.4h.1M406.1 63.5h.1M404.6 65.1h.1M407.0 66.9h.1M409.3 62.3h.1M405.6 66.1h.1M407.2 64.8h.1M405.8 65.7h.1M404.1 66.5h.1M404.7 69.2h.1M402.5 64.2h.1M406.2 67.8h.1M408.7 63.7h.1M401.7 65.8h.1M402.3 63.6h.1M407.5 63.5h.1M406.6 65.6h.1M408.9 65.0h.1M406.2 62.0h.1M403.5 68.8h.1M407.0 66.9h.1M404.3 66.9h.1M406.7 60.5h.1M405.3 64.7h.1M404.0 61.7h.1M407.5 59.9h.1M405.2 65.5h.1M406.6 65.0h.1M406.3 63.6h.1M404.2 64.5h.1M407.3 61.3h.1M406.3 62.1h.1M407.8 62.5h.1M405.4 64.2h.1M404.1 64.7h.1M406.1 66.1h.1M407.8 67.3h.1M401.2 67.2h.1M406.2 63.7h.1M408.4 63.7h.1M406.1 64.9h.1M406.0 66.5h.1M409.0 66.8h.1M407.1 64.8h.1M409.1 65.8h.1M409.1 60.7h.1M405.2 67.2h.1M405.4 63.1h.1M407.8 63.6h.1M406.0 64.5h.1M406.5 66.0h.1M405.4 67.9h.1M407.6 67.9h.1M406.2 62.4h.1M408.6 61.5h.1M406.3 67.2h.1M406.9 63.8h.1M407.9 64.3h.1M409.2 63.5h.1M406.5 64.3h.1M405.4 62.8h.1M408.3 63.3h.1M406.7 69.3h.1M407.4 65.6h.1M400.9 67.4h.1M404.4 70.5h.1M403.4 65.8h.1M404.3 68.9h.1M406.2 63.2h.1M408.2 62.9h.1M408.3 67.5h.1M406.8 65.9h.1M403.0 63.5h.1M406.2 65.9h.1M405.8 64.2h.1M407.5 64.6h.1M405.9 66.3h.1M404.7 66.6h.1M404.9 65.8h.1M404.5 61.0h.1M405.8 66.1h.1M409.1 61.9h.1M407.0 66.4h.1M410.6 63.3h.1M406.9 69.5h.1M404.4 66.0h.1M410.0 65.9h.1M405.2 62.5h.1M404.9 64.6h.1M410.2 60.7h.1M408.3 66.1h.1M406.9 64.4h.1M405.5 66.4h.1M407.5 60.1h.1M408.9 63.9h.1M407.7 64.6h.1M403.9 69.0h.1M407.4 64.6h.1M406.6 66.8h.1M409.6 66.0h.1M410.3 64.7h.1M406.2 67.5h.1M407.1 64.8h.1M406.4 62.1h.1M403.3 62.4h.1M403.4 64.1h.1M404.2 67.2h.1M402.6 64.7h.1M404.6 68.2h.1M408.8 63.4h.1M403.2 62.5h.1M406.1 69.0h.1M407.1 65.6h.1M404.8 68.4h.1M399.0 71.2h.1M409.3 63.0h.1M407.2 61.6h.1M404.7 68.9h.1M407.1 68.0h.1M406.4 64.4h.1M405.6 65.8h.1M406.8 68.3h.1M406.9 67.2h.1M407.2 66.5h.1M404.1 65.4h.1M406.1 64.2h.1M405.7 65.4h.1M404.5 66.4h.1M407.2 65.6h.1M403.1 68.5h.1M409.7 62.4h.1M405.6 70.5h.1M407.3 66.0h.1M406.7 64.1h.1M407.0 64.1h.1M405.3 63.4h.1M411.0 64.0h.1M405.0 67.9h.1M405.7 64.9h.1M408.1 65.8h.1M405.3 66.0h.1M406.1 66.9h.1M410.2 63.3h.1M403.6 65.6h.1M407.7 67.7h.1M404.5 64.7h.1M406.7 66.0h.1M408.1 65.7h.1M407.4 66.5h.1M408.1 65.0h.1M407.9 65.7h.1M406.8 63.8h.1M411.4 63.9h.1M403.2 65.8h.1M407.9 60.5h.1M403.7 64.7h.1M408.9 64.6h.1M410.1 67.2h.1M406.9 66.5h.1M403.5 69.8h.1M408.6 61.1h.1M406.0 67.4h.1M405.3 67.0h.1M407.9 62.5h.1M408.8 66.6h.1M406.8 58.9h.1M410.8 62.4h.1M407.2 63.2h.1M405.2 63.4h.1M408.8 64.2h.1M404.3 68.1h.1M404.3 63.1h.1M407.1 65.1h.1M404.1 65.1h.1M406.4 64.3h.1M403.7 68.2h.1M406.8 62.3h.1M408.8 62.4h.1M404.7 68.3h.1M405.2 63.8h.1M408.5 61.3h.1M406.4 63.7h.1M406.5 68.7h.1M404.8 67.4h.1M406.0 61.9h.1M408.0 60.0h.1M404.2 67.3h.1M407.2 65.6h.1M406.1 67.5h.1M405.3 65.3h.1M404.8 63.0h.1M406.3 65.2h.1M403.4 65.4h.1M410.2 60.6h.1M404.4 64.3h.1M407.6 66.6h.1M407.9 62.4h.1M408.0 66.2h.1M405.1 64.9h.1M407.1 62.4h.1M406.2 68.5h.1M408.7 64.2h.1M408.7 63.2h.1M409.7 65.2h.1M407.5 66.5h.1M407.7 66.0h.1M402.5 68.2h.1M404.2 64.0h.1M407.5 64.9h.1M408.2 63.5h.1M406.3 64.6h.1M406.6 66.6h.1M405.5 67.3h.1M405.1 64.4h.1M406.3 64.6h.1M408.5 62.5h.1M407.3 65.7h.1M403.4 64.8h.1M407.1 66.0h.1M405.5 66.1h.1M407.6 66.7h.1M403.8 70.8h.1M403.7 68.7h.1M405.1 68.3h.1M406.4 63.5h.1M406.2 65.2h.1M408.7 66.2h.1M411.7 64.9h.1M403.3 66.5h.1M409.1 63.2h.1M404.8 62.7h.1M405.3 66.7h.1M409.9 62.6h.1M403.3 67.8h.1M405.0 68.0h.1M406.1 65.6h.1M408.4 65.2h.1M405.2 64.9h.1M401.4 68.9h.1M406.7 66.4h.1M403.6 63.5h.1M411.3 60.0h.1M408.2 61.8h.1M409.0 66.6h.1M407.5 69.6h.1M403.9 62.2h.1M402.5 66.3h.1M405.0 63.5h.1M409.5 66.1h.1M405.4 65.8h.1M406.2 64.1h.1M405.8 65.8h.1M405.1 66.1h.1M410.2 62.6h.1M407.6 64.0h.1M407.6 67.0h.1M405.7 67.2h.1M406.1 64.4h.1M408.5 64.7h.1M408.2 63.5h.1M409.4 62.3h.1M407.1 64.1h.1M403.3 66.7h.1M409.3 60.3h.1M407.7 62.1h.1M409.8 64.8h.1M409.1 62.5h.1M402.8 67.7h.1M407.1 66.9h.1M406.2 66.8h.1M409.7 63.5h.1M402.6 66.5h.1M406.6 66.4h.1M409.9 62.5h.1M406.5 63.1h.1M404.2 64.9h.1M408.7 60.4h.1M402.9 67.2h.1M406.8 63.9h.1M406.2 65.8h.1M407.9 64.5h.1M406.7 66.3h.1M406.0 67.7h.1M406.2 64.3h.1M404.5 68.3h.1M407.1 63.9h.1M405.0 65.3h.1M407.9 63.1h.1M407.7 67.6h.1M406.5 67.5h.1M408.7 65.4h.1M411.2 64.3h.1M403.0 69.7h.1M408.4 66.1h.1M409.3 65.1h.1M405.7 69.5h.1M403.7 66.3h.1M407.9 64.0h.1M403.6 66.0h.1M405.5 66.7h.1M409.8 61.7h.1M404.1 66.7h.1M404.2 66.5h.1M402.6 70.3h.1M406.2 68.7h.1M405.1 68.4h.1M410.9 62.5h.1M408.7 62.7h.1M404.3 67.9h.1M407.3 59.2h.1M405.5 62.0h.1M405.1 64.9h.1M406.3 62.4h.1M406.7 64.1h.1M401.1 64.0h.1M401.4 67.6h.1M401.1 64.5h.1M405.8 64.8h.1M405.2 65.6h.1M403.7 65.8h.1M407.7 62.8h.1M404.3 67.3h.1M409.3 64.2h.1M404.3 65.3h.1M406.4 64.8h.1M403.4 66.9h.1M406.7 65.4h.1M407.8 68.8h.1M402.9 68.6h.1M404.7 64.0h.1M408.2 66.6h.1M409.2 64.3h.1M407.3 64.8h.1M405.2 67.7h.1M407.9 68.3h.1M399.9 69.0h.1M403.1 66.7h.1M409.4 62.9h.1M411.5 63.6h.1M407.1 63.1h.1M404.0 62.5h.1M406.1 63.0h.1M405.5 62.9h.1M405.1 70.1h.1M404.7 66.9h.1M410.5 64.1h.1M405.4 60.5h.1M406.0 64.1h.1M409.0 68.1h.1M408.5 68.0h.1M404.8 65.9h.1M404.7 67.1h.1" stroke="#f04848" stroke-width="0.7" stroke-linecap="round" opacity="0.17" fill="none"/>
<path d="M406.3 62.1h.1M404.8 56.8h.1M412.9 53.7h.1M405.9 58.5h.1M401.4 67.2h.1M406.7 61.5h.1M408.4 68.2h.1M403.4 63.2h.1M408.1 59.8h.1M408.3 62.4h.1M403.2 64.4h.1M408.9 62.0h.1M404.0 63.6h.1M409.6 59.6h.1M406.1 61.7h.1M410.3 60.6h.1M407.8 62.7h.1M410.7 59.0h.1M408.6 62.4h.1M407.2 61.1h.1M406.8 63.7h.1M407.5 60.5h.1M401.7 67.3h.1M413.1 50.6h.1M409.7 65.7h.1M408.3 61.1h.1M406.5 63.1h.1M404.7 62.3h.1M406.5 58.7h.1M404.8 62.5h.1M407.2 63.2h.1M403.7 66.2h.1M408.4 66.3h.1M402.9 64.8h.1M410.3 53.6h.1M404.0 66.2h.1M406.2 65.9h.1M407.9 60.4h.1M411.6 56.1h.1M403.2 67.6h.1M407.0 68.7h.1M406.0 59.9h.1M407.2 59.4h.1M401.1 65.2h.1M404.1 68.6h.1M405.8 65.2h.1M408.7 58.1h.1M407.4 61.4h.1M409.2 58.3h.1M409.4 62.7h.1M409.5 62.4h.1M409.8 59.3h.1M407.9 62.0h.1M410.2 61.4h.1M407.9 66.0h.1M406.9 64.0h.1M407.1 58.7h.1M407.4 62.4h.1M404.8 63.7h.1M407.1 57.7h.1M407.2 58.4h.1M408.3 61.7h.1M406.8 64.7h.1M412.8 59.3h.1M413.7 51.8h.1M405.1 64.2h.1M406.5 68.5h.1M403.5 63.2h.1M403.1 63.8h.1M405.7 66.7h.1M403.5 65.2h.1M411.8 59.1h.1M411.2 58.8h.1M411.2 55.6h.1M409.0 58.3h.1M407.0 63.4h.1M411.3 57.7h.1M402.7 62.0h.1M406.3 62.4h.1M404.7 65.8h.1M408.7 55.7h.1M409.2 57.1h.1M407.1 63.4h.1M408.0 63.1h.1M410.6 62.6h.1M405.2 59.2h.1M410.9 58.7h.1M410.7 62.5h.1M409.8 60.4h.1M407.5 68.8h.1M403.3 60.7h.1M403.3 68.2h.1M408.5 52.8h.1M407.6 54.4h.1M407.9 57.9h.1M408.7 56.3h.1M412.8 53.9h.1M409.6 57.6h.1M405.5 68.3h.1M407.1 62.1h.1M404.2 71.5h.1M403.6 63.5h.1M403.7 65.7h.1M407.7 61.5h.1M411.4 61.2h.1M404.5 64.5h.1M405.4 61.7h.1M408.2 60.3h.1M409.5 63.1h.1M406.4 61.7h.1M400.9 70.1h.1M410.2 64.8h.1M408.1 57.6h.1M411.4 61.9h.1M404.5 67.3h.1M403.8 60.9h.1M407.9 60.2h.1M404.7 64.8h.1M409.5 58.9h.1M406.0 64.6h.1M402.6 60.6h.1M404.9 60.6h.1M412.5 52.6h.1M407.6 63.0h.1M406.4 63.6h.1M404.9 56.5h.1M406.2 63.1h.1M405.9 59.6h.1M403.8 70.8h.1M410.4 61.3h.1M405.1 60.2h.1M405.1 66.6h.1M411.6 56.6h.1M408.3 62.9h.1M408.4 62.7h.1M406.0 67.2h.1M407.1 69.3h.1M404.2 62.6h.1M403.8 67.2h.1M406.7 58.5h.1M409.9 58.1h.1M405.6 63.6h.1M404.0 67.7h.1M404.6 61.9h.1M403.9 64.9h.1M407.2 60.4h.1M409.1 61.2h.1M408.9 64.2h.1M409.1 61.8h.1M410.7 57.7h.1M411.9 54.9h.1M408.8 64.6h.1M405.9 57.0h.1M406.6 62.1h.1M409.1 67.4h.1M412.0 57.2h.1M410.7 61.0h.1M407.4 60.6h.1M406.3 59.0h.1M409.0 62.9h.1M404.3 65.1h.1M411.5 54.4h.1M407.2 56.7h.1M405.5 59.1h.1M408.9 57.2h.1M408.7 55.5h.1M407.1 62.2h.1M409.4 59.3h.1M409.0 63.7h.1M408.2 58.5h.1M407.1 62.5h.1M413.0 51.9h.1M407.0 62.9h.1M408.9 59.4h.1M410.3 60.4h.1M407.8 63.2h.1M407.3 56.6h.1M407.8 61.9h.1M404.2 61.8h.1M409.6 62.4h.1M408.5 65.6h.1M409.6 56.4h.1M407.3 58.2h.1M410.7 58.0h.1M403.7 66.3h.1M406.4 59.4h.1M404.0 63.5h.1M407.9 61.1h.1M410.1 56.3h.1M411.0 61.8h.1M407.1 62.1h.1M409.2 56.6h.1M406.9 56.0h.1M413.5 55.0h.1M405.4 69.6h.1M410.0 60.9h.1M405.1 62.3h.1M410.4 67.2h.1M409.7 61.9h.1M401.5 64.2h.1M401.9 69.8h.1M408.2 66.2h.1M407.1 62.5h.1M409.7 53.1h.1M405.1 63.8h.1M405.6 66.3h.1M405.1 70.1h.1M405.3 62.1h.1M407.1 62.3h.1M406.3 60.0h.1M403.9 66.9h.1M406.9 64.9h.1M400.4 69.3h.1M408.8 61.1h.1M403.6 67.3h.1M403.2 73.0h.1M410.2 56.9h.1M409.0 59.5h.1M409.4 60.5h.1M407.8 59.7h.1M403.1 64.4h.1M406.3 55.4h.1M402.8 64.3h.1M411.6 53.8h.1M405.3 59.2h.1M403.1 68.5h.1M406.0 56.3h.1M413.7 54.5h.1M404.3 61.1h.1M410.7 57.6h.1M405.0 61.2h.1M407.1 64.3h.1M400.8 71.0h.1M410.5 56.6h.1M410.1 64.8h.1M410.0 60.7h.1M405.7 66.2h.1M405.7 65.0h.1M413.8 58.8h.1M408.9 64.0h.1M408.1 63.6h.1M405.4 66.6h.1M407.5 60.3h.1M410.5 58.9h.1M409.4 64.6h.1M406.6 61.8h.1M405.7 66.6h.1M408.7 54.9h.1M407.3 64.3h.1M406.0 61.4h.1M412.5 55.3h.1M406.6 62.0h.1M404.3 67.6h.1M404.9 64.7h.1M408.5 63.6h.1M411.3 54.2h.1M409.5 61.2h.1M407.4 62.4h.1M408.0 57.4h.1M404.7 53.4h.1M406.0 64.4h.1M409.1 54.9h.1M409.0 57.8h.1M406.4 58.5h.1M402.0 70.5h.1M406.0 59.6h.1M409.7 55.4h.1M402.7 60.3h.1M409.6 50.7h.1M410.8 62.5h.1M405.0 65.2h.1M408.6 58.8h.1M412.1 62.1h.1M410.7 58.7h.1M407.9 62.6h.1M411.5 56.7h.1M406.2 63.5h.1M411.0 62.4h.1M403.7 65.7h.1M404.6 63.9h.1M407.3 60.2h.1M406.8 64.3h.1M406.6 63.1h.1M408.0 62.6h.1M406.0 59.3h.1M408.2 57.7h.1M405.5 56.4h.1M410.2 57.4h.1M405.3 59.2h.1M407.5 64.0h.1M404.7 67.9h.1M408.7 63.6h.1M405.0 64.1h.1M404.0 68.8h.1M409.7 54.0h.1M401.2 67.5h.1M408.4 59.9h.1M408.0 58.7h.1M405.5 61.5h.1M412.8 50.8h.1M408.6 61.7h.1M405.4 64.1h.1M410.1 53.6h.1M404.5 63.9h.1M403.2 66.4h.1M406.7 66.0h.1M405.5 63.5h.1M405.4 60.0h.1M409.1 60.3h.1M403.9 67.2h.1M409.4 60.4h.1M411.7 52.0h.1M403.0 62.7h.1M407.0 61.7h.1M410.7 59.3h.1M409.3 56.0h.1M405.8 63.8h.1M403.6 64.2h.1M408.0 66.6h.1M411.4 57.6h.1M409.5 57.7h.1M406.0 71.5h.1M401.2 69.1h.1M408.7 68.1h.1M406.0 68.2h.1M411.0 60.9h.1M409.2 61.0h.1M410.0 52.5h.1M408.0 57.5h.1M406.1 60.0h.1M408.8 55.9h.1M409.4 66.7h.1M404.2 66.8h.1M410.9 62.8h.1M410.3 57.9h.1M405.0 68.3h.1M410.3 58.1h.1M408.4 57.3h.1M408.0 64.1h.1M404.8 59.1h.1M405.9 61.9h.1M405.6 59.9h.1M407.8 57.3h.1M404.3 63.8h.1M409.7 57.0h.1M405.7 56.0h.1M411.3 58.5h.1M402.8 69.0h.1M403.8 68.9h.1M409.3 58.6h.1M405.8 63.4h.1M407.5 64.8h.1M404.4 63.7h.1M403.4 66.1h.1M406.8 62.4h.1M404.8 63.6h.1M408.1 64.9h.1M411.8 60.9h.1M406.2 66.7h.1M410.2 56.9h.1M398.6 68.2h.1M413.0 51.2h.1M403.0 66.0h.1M407.2 58.1h.1M405.6 55.7h.1M407.3 61.2h.1M407.9 57.6h.1M407.7 61.9h.1M405.6 69.3h.1M410.0 60.7h.1M411.2 57.3h.1M403.9 62.3h.1M403.6 68.0h.1M406.6 63.9h.1M408.2 59.9h.1M409.2 60.5h.1M409.8 56.8h.1M408.7 59.0h.1M407.4 58.6h.1M401.9 68.7h.1M415.0 53.5h.1M407.2 60.9h.1M406.8 56.5h.1M408.7 63.6h.1M407.7 62.1h.1M407.4 60.9h.1M408.7 53.8h.1M409.5 54.5h.1M409.2 58.9h.1M410.6 52.7h.1M404.9 62.0h.1M407.9 58.8h.1M403.3 61.5h.1M409.4 55.6h.1M409.5 62.0h.1M410.9 57.9h.1M411.3 54.3h.1M403.7 70.0h.1M410.8 51.8h.1M407.6 59.6h.1M403.8 61.1h.1M402.2 68.5h.1M404.3 61.2h.1M404.3 71.4h.1M408.5 61.3h.1M406.0 61.4h.1M411.1 53.6h.1M405.8 62.0h.1M409.3 56.6h.1M411.0 57.0h.1M408.6 51.2h.1M405.0 61.3h.1M411.9 59.5h.1M405.6 68.1h.1M405.3 65.8h.1M405.8 61.8h.1M407.6 61.4h.1M407.5 67.5h.1M405.2 62.2h.1M409.3 58.5h.1M404.5 62.1h.1M406.7 61.6h.1M404.0 64.0h.1M408.8 54.8h.1M409.6 53.1h.1M408.9 60.8h.1M405.5 60.8h.1M410.5 54.1h.1M410.8 60.3h.1M406.9 64.3h.1M405.4 67.1h.1M405.5 63.2h.1M410.8 51.5h.1M408.4 64.6h.1M412.1 48.6h.1M407.7 61.3h.1M409.0 63.0h.1M408.7 55.0h.1M408.4 62.9h.1M410.5 60.7h.1M404.1 64.9h.1M403.4 65.6h.1M407.2 64.8h.1M406.1 59.4h.1M404.4 63.1h.1M404.5 69.8h.1M404.9 57.5h.1M407.3 61.9h.1M406.6 62.2h.1M410.6 65.8h.1M401.8 70.0h.1M411.9 55.1h.1M405.8 62.8h.1M411.7 60.5h.1M408.3 54.4h.1M407.2 55.2h.1M404.6 58.7h.1M412.9 63.7h.1M407.1 59.4h.1M408.8 57.1h.1M414.1 61.4h.1M408.0 63.7h.1M408.6 59.4h.1M405.8 58.4h.1M410.4 59.0h.1M407.6 60.1h.1M410.4 55.5h.1M407.3 60.0h.1M410.0 57.8h.1M406.0 60.2h.1M404.6 62.7h.1M408.1 66.3h.1M405.2 60.9h.1M410.0 59.6h.1M410.6 56.2h.1M405.3 60.6h.1M406.3 63.2h.1M405.5 62.8h.1M408.7 55.1h.1M406.7 60.2h.1M407.5 63.7h.1M410.7 58.9h.1M403.6 66.1h.1M406.4 60.0h.1M406.8 61.0h.1M407.6 61.9h.1M403.6 65.2h.1M409.6 57.1h.1M413.4 55.4h.1M404.3 66.4h.1M406.9 60.2h.1M407.4 57.8h.1M413.7 52.6h.1M408.0 63.5h.1M405.0 64.8h.1M408.3 61.6h.1M411.7 52.9h.1M406.0 60.0h.1M407.3 59.7h.1M407.8 52.2h.1M402.7 69.8h.1M400.0 68.6h.1M407.4 56.5h.1M404.5 55.7h.1M404.7 66.9h.1M408.7 59.1h.1M405.2 59.8h.1M408.8 60.7h.1M406.7 64.9h.1M406.1 62.8h.1M405.0 64.4h.1M410.1 62.2h.1M406.5 61.9h.1M411.4 54.4h.1M408.8 58.6h.1M404.0 67.5h.1M408.6 59.6h.1M408.4 54.3h.1M407.2 59.5h.1M410.0 56.8h.1M407.2 61.2h.1M407.0 57.3h.1M404.1 64.3h.1M406.8 56.8h.1M404.9 67.0h.1M409.8 55.6h.1M400.8 65.6h.1M403.2 69.9h.1M405.5 57.5h.1M405.6 61.1h.1M408.4 61.0h.1M410.8 60.6h.1M406.2 60.7h.1M406.9 65.4h.1M409.1 60.9h.1M411.2 61.2h.1M406.3 58.0h.1M411.3 52.8h.1M405.9 64.1h.1M406.8 60.5h.1M408.1 58.6h.1M406.3 62.9h.1M404.1 65.6h.1M406.8 63.7h.1M414.2 58.9h.1M405.6 61.6h.1M407.9 58.2h.1M405.9 64.1h.1M405.5 57.9h.1M408.5 65.1h.1M410.9 67.1h.1M405.0 59.3h.1M406.8 60.5h.1M413.3 56.4h.1M404.9 68.2h.1M407.3 58.5h.1M412.8 55.5h.1M409.2 55.0h.1M402.9 60.9h.1M403.6 62.7h.1M406.5 63.2h.1M407.4 59.6h.1M409.5 61.1h.1M407.9 59.5h.1M409.2 58.9h.1M407.0 66.4h.1M407.5 67.0h.1M401.5 64.5h.1M404.5 66.6h.1M409.0 62.4h.1M408.8 60.2h.1M409.9 49.3h.1M405.6 57.5h.1M408.5 61.6h.1M409.9 55.1h.1M404.3 63.4h.1M408.7 60.0h.1M411.5 58.1h.1M410.7 58.7h.1M408.2 59.4h.1M408.1 63.2h.1M407.2 67.4h.1M407.5 62.0h.1M404.5 62.8h.1M407.6 57.7h.1M407.5 61.9h.1M405.1 57.1h.1M405.6 68.5h.1M409.5 57.1h.1M408.1 65.8h.1M402.9 66.9h.1M404.9 66.9h.1M409.1 65.2h.1M411.2 57.2h.1M405.7 56.6h.1M403.8 65.3h.1M407.4 60.7h.1M405.7 60.8h.1M407.1 69.0h.1M406.9 65.9h.1M405.7 70.7h.1M407.1 65.4h.1M402.7 72.4h.1M404.9 64.0h.1M403.7 64.1h.1M404.1 63.6h.1M401.0 62.2h.1M410.6 56.8h.1M406.8 62.6h.1M407.0 59.7h.1M410.4 58.7h.1M409.8 57.6h.1M408.1 57.9h.1M407.9 64.2h.1M404.4 65.3h.1M403.7 63.3h.1M408.5 64.0h.1M411.5 63.1h.1M407.1 61.4h.1M411.5 57.5h.1M406.9 61.4h.1M411.9 54.1h.1M409.0 56.6h.1M404.4 62.1h.1M407.7 56.8h.1M402.3 73.3h.1M412.3 56.4h.1M412.7 61.6h.1M412.1 61.4h.1M405.5 68.8h.1M412.4 50.6h.1M408.1 62.8h.1M408.2 62.2h.1M412.6 57.9h.1M410.0 63.4h.1M408.8 66.2h.1M407.7 57.9h.1M409.0 67.1h.1M407.8 57.5h.1M409.4 61.4h.1M408.8 56.0h.1M404.6 66.0h.1M408.7 55.3h.1M406.0 58.9h.1M412.9 53.7h.1M407.9 64.7h.1M412.1 53.9h.1M410.3 58.9h.1M408.0 57.3h.1M406.3 64.3h.1M408.7 58.9h.1M408.2 58.0h.1M406.7 65.0h.1M403.3 65.0h.1M409.3 66.0h.1M410.1 54.9h.1M407.0 60.1h.1M410.8 58.0h.1M409.4 60.6h.1M406.2 59.9h.1M408.6 60.6h.1M410.2 64.6h.1M412.5 57.3h.1M406.1 59.6h.1M409.6 61.0h.1M402.5 65.8h.1M405.8 58.7h.1M406.6 64.2h.1M405.6 62.8h.1M411.2 57.6h.1M406.1 66.1h.1M408.4 62.6h.1M407.8 58.1h.1M412.2 57.6h.1M406.8 63.5h.1M408.2 59.8h.1M407.3 59.6h.1M409.1 67.7h.1M406.5 71.6h.1M405.3 69.9h.1M409.2 58.9h.1M407.6 60.7h.1M404.6 66.6h.1M402.7 62.1h.1M405.6 62.3h.1M405.8 62.2h.1M408.4 61.8h.1M410.7 51.4h.1M404.8 63.8h.1M406.7 60.0h.1M406.3 64.5h.1M405.2 63.3h.1M403.1 63.5h.1M408.6 62.9h.1M410.4 65.4h.1M406.9 59.1h.1M406.7 59.7h.1M406.2 65.1h.1M412.3 53.7h.1M400.3 63.6h.1" stroke="#e82828" stroke-width="0.7" stroke-linecap="round" opacity="0.22" fill="none"/>
<path d="M402.3 63.6h.1M402.1 67.3h.1M402.3 63.7h.1M405.6 59.7h.1M400.9 63.9h.1M400.4 62.7h.1M401.4 59.5h.1M401.7 63.2h.1M400.4 60.1h.1M401.4 61.3h.1M399.3 65.7h.1M401.7 60.8h.1M400.6 66.6h.1M404.6 57.3h.1M405.0 66.7h.1M400.9 62.1h.1M400.0 69.7h.1M398.5 62.4h.1M403.6 67.9h.1M402.8 54.1h.1M403.5 62.3h.1M402.9 58.9h.1M401.2 69.7h.1M400.0 66.8h.1M402.0 62.1h.1M399.0 67.1h.1M403.4 56.0h.1M400.9 62.9h.1M400.4 60.0h.1M401.8 59.7h.1M402.2 62.0h.1M401.2 57.2h.1M401.5 64.4h.1M402.0 59.4h.1M404.2 56.0h.1M403.5 60.6h.1M407.0 62.1h.1M400.6 62.5h.1M404.0 61.6h.1M401.9 57.9h.1M399.0 61.6h.1M402.0 69.6h.1M401.0 60.2h.1M402.1 62.0h.1M402.1 59.0h.1M404.1 61.7h.1M404.2 54.1h.1M400.3 66.7h.1M398.7 65.1h.1M399.7 57.4h.1M400.3 65.9h.1M403.1 60.0h.1M398.7 60.4h.1M399.8 70.3h.1M403.1 58.3h.1M403.8 55.0h.1M401.7 60.2h.1M399.2 67.4h.1M404.1 58.0h.1M401.0 66.1h.1M399.1 61.0h.1M400.2 58.7h.1M400.4 64.7h.1M399.5 68.9h.1M402.3 62.1h.1M400.5 61.1h.1M401.8 65.4h.1M400.9 64.8h.1M403.8 58.2h.1M403.0 62.0h.1M401.5 63.4h.1M401.4 64.0h.1M403.3 60.8h.1M402.4 60.9h.1M401.8 62.1h.1M401.1 67.8h.1M402.7 63.3h.1M401.5 64.2h.1M401.1 60.7h.1M401.9 55.6h.1M403.1 57.0h.1M403.4 58.6h.1M402.3 60.9h.1M398.7 62.0h.1M401.1 59.4h.1M403.0 63.9h.1M401.8 62.9h.1M401.9 65.4h.1M402.6 61.8h.1M404.6 62.4h.1M404.5 53.0h.1M405.0 59.5h.1M402.6 63.3h.1M400.8 57.2h.1M400.0 63.0h.1M404.8 57.2h.1M404.7 58.3h.1M407.3 48.8h.1M403.7 67.1h.1M403.6 62.1h.1M402.4 62.0h.1M404.1 60.5h.1M401.9 57.8h.1M401.0 65.7h.1M402.0 64.8h.1M399.8 59.2h.1M402.3 56.7h.1M400.6 66.3h.1M397.3 67.5h.1M401.5 55.6h.1M404.3 57.9h.1M403.0 56.3h.1M401.6 65.9h.1M404.1 62.9h.1M399.5 59.5h.1M400.4 58.7h.1M403.9 62.5h.1M401.3 61.4h.1M406.0 57.6h.1M399.9 62.8h.1M401.5 63.8h.1M402.0 63.4h.1M399.5 63.1h.1M402.3 60.8h.1M402.3 62.4h.1M400.1 62.9h.1M404.4 55.2h.1M401.1 59.6h.1M401.7 62.8h.1M402.4 55.4h.1M400.4 63.5h.1M400.9 61.0h.1M403.6 62.2h.1M398.5 63.1h.1M401.9 63.1h.1M399.5 60.2h.1M401.2 68.0h.1M402.1 63.2h.1M402.9 60.4h.1M400.7 59.6h.1M403.2 60.2h.1M404.4 50.8h.1M405.4 59.1h.1M402.7 62.2h.1M401.6 61.8h.1M402.3 61.4h.1M405.6 60.3h.1M401.0 62.4h.1M405.5 55.1h.1M397.7 65.4h.1M403.2 58.7h.1M399.2 58.1h.1M399.6 66.1h.1M402.2 58.4h.1M403.6 59.1h.1M401.5 64.2h.1M404.3 51.0h.1M406.1 59.1h.1M400.1 62.4h.1M403.4 64.0h.1M401.6 64.7h.1M406.7 61.5h.1M401.5 60.9h.1M399.2 67.2h.1M400.4 65.8h.1M400.7 64.4h.1M402.2 63.3h.1M401.4 62.9h.1M399.4 63.7h.1M403.6 58.7h.1M402.5 57.0h.1M401.1 60.7h.1M399.7 71.1h.1M401.5 61.9h.1M402.5 58.8h.1M402.8 61.9h.1M398.6 59.1h.1M402.9 61.1h.1M397.5 67.1h.1M397.2 72.0h.1M406.1 59.6h.1M401.1 63.5h.1M401.0 59.1h.1M400.4 62.3h.1M403.3 62.5h.1M403.4 55.2h.1M402.5 67.2h.1M403.7 61.9h.1M401.1 66.3h.1M401.9 61.0h.1M400.2 58.6h.1M402.4 58.4h.1M400.6 60.2h.1M402.3 68.0h.1M404.3 60.8h.1M404.0 57.7h.1M400.6 56.2h.1M406.9 52.6h.1M405.3 59.6h.1M401.0 65.9h.1M399.6 63.1h.1M404.8 61.7h.1M403.8 56.9h.1M402.8 67.0h.1M401.0 56.7h.1M401.8 58.2h.1M400.6 65.1h.1M403.0 58.7h.1M401.5 64.8h.1M401.9 61.3h.1M402.8 63.0h.1M403.8 60.7h.1M402.4 67.0h.1M402.8 59.1h.1M400.7 71.2h.1M400.2 62.8h.1M404.8 64.8h.1M403.2 54.2h.1M402.0 58.8h.1M399.6 63.0h.1M401.4 65.4h.1M404.6 61.9h.1M402.8 64.5h.1M403.1 51.1h.1M399.1 73.7h.1M402.9 61.3h.1M400.0 72.4h.1M403.5 56.9h.1M401.5 65.0h.1M406.6 55.1h.1M402.4 64.0h.1M401.9 56.2h.1M400.1 59.8h.1M403.8 56.2h.1M403.0 61.5h.1M396.2 73.8h.1M401.5 64.6h.1M402.0 68.7h.1M403.5 57.3h.1M401.7 58.7h.1M399.7 60.6h.1M403.5 59.6h.1M401.5 60.3h.1M401.9 64.0h.1M402.8 52.3h.1M402.0 60.2h.1M401.5 62.1h.1M401.9 68.2h.1M401.9 64.2h.1M402.7 61.5h.1M407.6 63.8h.1M400.2 63.1h.1M402.1 61.6h.1M401.1 66.4h.1M402.7 61.5h.1M400.2 68.1h.1M400.7 65.0h.1M403.3 65.2h.1M403.0 57.5h.1M402.6 59.2h.1M402.2 61.0h.1M403.1 67.1h.1M401.9 63.2h.1M405.2 58.4h.1M403.2 55.7h.1M398.2 67.2h.1M400.2 62.9h.1M402.8 61.0h.1M403.4 60.1h.1M403.0 61.6h.1M402.4 58.3h.1M401.4 68.0h.1M404.9 54.8h.1M404.7 67.5h.1M403.6 61.5h.1M404.0 59.4h.1M404.5 56.5h.1M401.4 56.8h.1M405.4 58.1h.1M405.9 56.3h.1M401.0 61.7h.1M404.7 58.5h.1M404.3 54.7h.1M400.9 64.6h.1M400.4 67.5h.1M402.1 66.1h.1M402.5 54.7h.1M401.3 55.2h.1M403.3 63.4h.1M402.9 60.4h.1M401.3 58.8h.1M403.8 56.8h.1M401.4 70.0h.1M402.1 64.0h.1M400.5 62.1h.1M404.1 60.4h.1M401.8 60.9h.1M401.2 62.5h.1M403.6 60.3h.1M398.0 72.4h.1M405.0 47.5h.1M401.6 57.2h.1M401.8 57.0h.1M403.7 64.9h.1M401.3 59.1h.1M403.8 52.0h.1M402.9 52.8h.1M403.6 61.3h.1M399.2 66.3h.1M401.8 60.4h.1M403.6 63.1h.1M401.2 57.0h.1M401.8 67.3h.1M403.5 62.6h.1M401.9 59.9h.1M402.5 63.6h.1M402.9 56.5h.1M401.1 66.4h.1M400.2 66.6h.1M400.4 62.5h.1M403.3 57.6h.1M400.4 62.2h.1M400.1 63.5h.1M404.5 58.1h.1M401.1 59.9h.1M400.5 63.3h.1M402.1 60.7h.1M400.1 61.8h.1M400.3 57.8h.1M401.1 60.3h.1M403.5 65.5h.1M400.9 63.2h.1M401.8 63.2h.1M403.1 59.8h.1M402.1 59.5h.1M401.6 65.1h.1M399.3 61.4h.1M402.1 59.8h.1M403.5 56.4h.1M401.2 59.8h.1M403.4 52.3h.1M400.3 60.6h.1M402.1 57.7h.1M401.8 62.7h.1M400.7 65.6h.1M405.7 61.8h.1M405.1 59.8h.1M400.9 59.4h.1M402.9 60.8h.1M398.9 61.9h.1M398.3 64.1h.1M403.8 63.2h.1M402.3 59.1h.1M398.8 55.7h.1M399.2 76.2h.1M402.3 58.4h.1M403.9 56.6h.1M404.1 55.8h.1M403.1 59.7h.1M403.0 58.3h.1M400.4 62.9h.1M403.3 62.0h.1M402.0 58.7h.1M401.9 66.4h.1M400.3 64.5h.1M401.9 60.3h.1M401.7 67.5h.1M402.0 61.0h.1M401.4 68.2h.1M403.7 60.8h.1M400.3 60.6h.1M404.3 64.6h.1M400.1 65.2h.1M400.4 63.2h.1M400.2 71.5h.1M399.9 62.5h.1M400.9 60.3h.1M405.7 56.5h.1M400.7 63.3h.1M401.2 61.8h.1M405.1 55.5h.1M403.4 53.3h.1M400.3 63.1h.1M404.6 57.0h.1M406.8 57.0h.1M402.2 58.8h.1M402.1 66.0h.1M403.7 66.2h.1M403.5 58.9h.1M408.9 52.0h.1M402.5 62.2h.1M401.8 53.7h.1M409.1 54.2h.1M399.8 66.6h.1M402.9 64.3h.1M404.7 54.8h.1M404.8 57.4h.1M401.8 58.6h.1M402.1 61.3h.1M404.2 58.8h.1M403.4 64.7h.1M406.0 50.4h.1M398.9 65.9h.1M401.8 69.8h.1M401.7 60.4h.1M403.4 54.7h.1M404.7 64.4h.1M400.3 61.0h.1M400.9 65.8h.1M398.5 60.6h.1M398.1 65.0h.1M401.3 65.8h.1M400.5 67.9h.1M403.1 64.2h.1M406.7 53.7h.1M400.8 61.2h.1M402.8 60.5h.1M405.6 51.6h.1M401.6 64.2h.1M399.8 65.4h.1M401.3 58.5h.1M400.6 66.7h.1M402.9 59.9h.1M403.5 56.1h.1M397.5 65.1h.1M404.8 64.5h.1M406.2 54.3h.1M400.0 65.8h.1M401.0 64.2h.1M400.5 59.7h.1M399.6 62.1h.1M397.9 64.2h.1M405.5 54.6h.1M400.4 63.6h.1M402.9 59.9h.1M400.1 62.7h.1M401.6 62.2h.1M399.0 67.0h.1M404.5 57.5h.1M401.3 63.1h.1M404.6 55.9h.1M401.1 66.6h.1M402.2 63.6h.1M404.4 59.6h.1M400.5 60.3h.1M400.8 64.1h.1M400.2 61.4h.1M402.1 67.5h.1M405.3 61.9h.1M399.8 73.3h.1M402.6 60.6h.1M402.6 54.9h.1M401.6 56.8h.1M401.3 56.9h.1M399.1 62.4h.1M401.6 58.8h.1M401.4 63.0h.1M403.2 62.0h.1M400.9 61.4h.1M398.6 76.5h.1M404.6 57.5h.1M401.8 59.0h.1M402.9 57.4h.1M399.6 65.1h.1M404.2 58.5h.1M400.9 58.6h.1M398.7 71.0h.1M400.2 69.2h.1M403.4 61.4h.1M403.0 64.7h.1M404.3 62.0h.1M399.1 63.5h.1M406.3 55.3h.1M398.7 69.4h.1M400.8 67.4h.1M401.8 65.9h.1M401.2 67.6h.1M401.6 63.9h.1M400.6 61.0h.1M399.5 67.0h.1M402.6 59.7h.1M406.0 56.1h.1M406.4 57.2h.1M401.7 51.5h.1M405.2 56.7h.1M404.6 62.1h.1M402.6 52.8h.1M405.4 58.8h.1M403.3 52.6h.1M400.4 61.7h.1M399.1 70.5h.1M399.1 66.0h.1M404.6 61.1h.1M404.8 59.4h.1M402.2 62.3h.1M403.4 56.8h.1M400.8 66.4h.1M400.5 64.2h.1M404.6 57.2h.1M405.6 62.0h.1M401.6 60.6h.1M404.3 55.1h.1M402.2 56.0h.1M397.8 63.8h.1M402.3 60.3h.1M399.1 68.5h.1M403.6 61.7h.1M401.2 59.1h.1M399.4 68.8h.1M403.7 54.2h.1M403.2 51.9h.1M404.6 59.5h.1M402.4 56.8h.1M403.3 54.3h.1M399.4 61.2h.1M406.4 57.4h.1M402.8 59.5h.1M396.7 67.0h.1M401.7 65.4h.1M402.1 63.9h.1M400.7 55.6h.1M398.3 59.6h.1M403.2 56.8h.1M402.7 63.6h.1M401.5 67.1h.1M405.4 52.2h.1M407.0 49.5h.1M404.0 59.9h.1M401.6 62.0h.1M403.6 55.9h.1M400.0 65.9h.1M401.9 62.1h.1M402.3 68.1h.1M401.6 58.7h.1M402.1 60.0h.1M402.6 63.2h.1M401.8 64.2h.1M399.7 67.8h.1M401.0 64.8h.1M403.9 55.8h.1M400.5 62.4h.1M402.1 55.1h.1M401.6 65.2h.1M402.1 61.6h.1M403.4 63.7h.1M402.1 62.4h.1M402.4 57.5h.1M398.2 69.9h.1M402.8 57.8h.1M403.2 58.1h.1M403.3 61.5h.1M401.9 60.7h.1M403.6 62.7h.1M402.8 58.0h.1M402.2 60.9h.1M402.5 65.4h.1M401.8 60.4h.1M403.7 57.0h.1M401.7 59.3h.1M403.0 61.3h.1M401.7 60.0h.1M399.0 62.7h.1M401.3 63.1h.1M398.5 69.2h.1M403.0 62.3h.1M404.0 57.0h.1M404.7 63.8h.1M401.3 65.3h.1M405.1 57.7h.1M402.2 60.4h.1M405.7 61.5h.1M404.2 59.5h.1M402.9 58.0h.1M401.5 61.2h.1M403.8 65.6h.1M405.0 53.7h.1M398.1 59.8h.1M399.9 64.2h.1M402.2 60.3h.1M408.1 57.2h.1M401.9 67.9h.1M403.0 55.1h.1M401.6 61.7h.1M404.0 52.2h.1M401.5 57.8h.1M401.9 61.6h.1M402.4 55.2h.1M406.7 56.4h.1M397.7 61.6h.1M403.0 60.3h.1M402.6 63.8h.1M400.9 56.4h.1M399.4 67.1h.1M400.4 61.5h.1M400.5 70.9h.1M402.5 58.4h.1M398.2 70.7h.1M402.7 66.4h.1M402.9 60.1h.1M402.1 62.8h.1" stroke="#000" stroke-width="0.6" stroke-linecap="round" opacity="0.18" fill="none"/>
<path d="M401.4 70.0h.1M399.8 70.5h.1M399.5 72.4h.1M402.1 67.8h.1M402.0 68.4h.1M403.9 66.3h.1M401.2 69.1h.1M399.4 70.2h.1M399.6 73.2h.1M401.9 69.0h.1M400.6 69.6h.1M405.4 64.1h.1M404.4 62.4h.1M403.4 64.4h.1M402.0 72.7h.1M399.7 73.1h.1M402.0 70.2h.1M399.2 70.9h.1M402.9 64.7h.1M402.7 69.3h.1M401.4 70.4h.1M401.5 69.1h.1M403.8 65.8h.1M399.2 71.1h.1M401.3 67.1h.1M398.7 72.1h.1M400.1 68.9h.1M399.4 70.2h.1M402.0 68.2h.1M402.1 68.8h.1M404.1 66.2h.1M401.8 66.7h.1M399.6 70.1h.1M398.3 71.9h.1M400.4 71.3h.1M401.1 70.3h.1M400.8 69.4h.1M399.0 70.3h.1M402.9 65.9h.1M402.7 66.4h.1M401.7 70.2h.1M400.2 70.0h.1M400.5 69.3h.1M402.2 69.6h.1M399.7 68.0h.1M399.6 73.8h.1M399.8 69.6h.1M398.5 74.1h.1M401.3 68.8h.1M403.2 67.6h.1M400.2 72.1h.1M401.0 68.1h.1M400.6 70.7h.1M400.6 71.0h.1M403.8 63.3h.1M402.2 66.2h.1M402.0 67.6h.1M400.5 70.0h.1M400.5 66.9h.1M401.2 69.6h.1M401.8 67.5h.1M399.5 71.1h.1M402.6 70.0h.1M402.5 71.1h.1M398.9 72.7h.1M403.4 64.0h.1M402.6 66.7h.1M400.6 71.4h.1M399.6 73.3h.1M399.4 70.4h.1M400.3 71.4h.1M401.9 71.5h.1M398.3 72.6h.1M399.8 71.0h.1M401.1 68.6h.1M401.1 67.3h.1M396.9 73.5h.1M400.9 68.7h.1M399.9 71.7h.1M401.6 73.0h.1M400.6 69.7h.1M400.4 70.9h.1M401.3 66.4h.1M401.4 66.4h.1M400.4 69.5h.1M399.1 69.9h.1M404.4 64.3h.1M404.5 64.0h.1M402.8 68.4h.1M401.4 69.6h.1M402.9 66.2h.1M402.8 64.5h.1M401.2 70.8h.1M403.7 63.7h.1M399.0 68.1h.1M404.4 66.8h.1M400.8 70.5h.1M401.5 68.8h.1M399.7 69.6h.1M399.6 67.8h.1M402.0 65.6h.1M399.9 71.4h.1M401.7 70.3h.1M402.4 67.6h.1M400.6 70.3h.1M404.6 63.4h.1M399.8 73.4h.1M404.2 61.3h.1M401.0 71.2h.1M402.4 66.0h.1M403.9 64.5h.1M403.3 68.2h.1M399.0 72.7h.1M400.8 69.9h.1M401.7 68.9h.1M401.6 67.0h.1M403.5 66.6h.1M400.9 64.5h.1M402.8 64.4h.1M400.6 72.1h.1M405.3 67.8h.1M397.3 72.9h.1M401.4 68.4h.1M399.5 71.8h.1M399.3 74.3h.1M404.3 67.3h.1M403.1 70.1h.1M400.7 64.9h.1M397.3 72.3h.1M399.9 72.6h.1M399.5 68.2h.1M402.0 71.8h.1M400.9 68.4h.1M399.7 70.3h.1M401.6 70.4h.1M399.9 72.3h.1M404.5 66.1h.1M400.8 69.8h.1M398.2 71.4h.1M401.6 66.6h.1M401.8 67.4h.1M400.7 67.8h.1M403.4 69.4h.1M398.9 68.9h.1M401.2 69.4h.1M398.9 75.7h.1M399.1 73.4h.1M399.9 72.7h.1M401.8 68.2h.1M403.2 65.5h.1M403.3 70.8h.1M399.8 69.0h.1M401.7 65.0h.1M401.7 70.6h.1M401.1 66.4h.1M401.0 67.1h.1M398.2 72.0h.1M400.4 67.2h.1M403.0 69.2h.1M398.8 71.7h.1M400.6 72.4h.1M397.1 71.1h.1M404.6 65.9h.1M406.1 64.0h.1M401.5 66.4h.1M403.5 64.4h.1M399.1 72.6h.1M403.6 65.1h.1M404.2 63.3h.1M402.5 63.6h.1M400.5 71.9h.1M403.8 66.4h.1M401.7 69.6h.1M403.3 66.1h.1M400.3 70.7h.1M402.6 69.7h.1M400.2 70.4h.1M403.4 68.4h.1M401.5 69.4h.1M403.5 66.1h.1M403.0 66.9h.1M400.7 67.0h.1M399.8 68.1h.1M399.9 69.2h.1M399.9 68.1h.1M402.9 67.1h.1M400.3 67.8h.1M401.9 68.2h.1M401.1 69.0h.1M401.0 69.0h.1M401.5 71.6h.1M398.8 74.4h.1M402.5 67.5h.1M402.0 67.3h.1M399.9 71.7h.1M405.4 64.3h.1M400.5 72.8h.1M403.1 66.3h.1M402.9 69.0h.1M403.0 68.8h.1M403.4 66.0h.1M402.8 66.4h.1M402.2 69.4h.1M401.3 72.9h.1M399.1 72.1h.1M401.0 68.0h.1M404.5 65.0h.1M403.2 66.8h.1M403.5 70.4h.1M401.1 67.6h.1M403.6 67.8h.1M403.6 63.9h.1M400.7 71.4h.1M402.8 67.1h.1M402.1 68.3h.1M401.8 72.1h.1M397.1 70.1h.1M405.0 66.5h.1M401.9 68.0h.1M401.8 70.0h.1M401.8 68.9h.1M401.8 65.5h.1M403.3 69.8h.1M404.3 64.7h.1M400.5 69.4h.1M400.0 71.0h.1M400.8 69.1h.1M400.5 72.0h.1M402.3 70.9h.1M404.7 66.4h.1M404.7 64.6h.1M401.8 66.8h.1M401.7 68.4h.1M398.4 70.5h.1M399.6 71.6h.1M401.9 67.9h.1M401.5 68.4h.1M402.0 71.6h.1M400.1 69.9h.1M405.1 65.4h.1M403.4 66.5h.1M399.3 67.5h.1M402.9 69.1h.1M403.5 65.5h.1M401.7 67.8h.1M401.7 68.3h.1M398.7 73.2h.1M399.1 73.9h.1M396.3 73.0h.1M399.5 76.3h.1M402.3 69.6h.1M400.6 67.2h.1M399.4 71.0h.1M402.9 68.2h.1M403.0 68.3h.1M401.5 69.3h.1M396.5 71.4h.1M403.4 64.8h.1M404.7 65.9h.1M400.2 70.4h.1M405.3 64.1h.1M400.1 68.0h.1M399.8 70.9h.1M399.5 69.4h.1M398.1 73.9h.1M398.9 68.7h.1M398.3 73.1h.1M403.1 65.8h.1M402.9 68.7h.1M399.4 73.0h.1M402.0 67.2h.1M399.0 73.9h.1M399.4 67.1h.1M402.2 67.7h.1M402.2 69.2h.1M398.6 71.5h.1M401.7 69.6h.1M400.7 69.2h.1M401.6 68.9h.1M404.6 65.4h.1M403.0 63.6h.1M404.0 64.6h.1M399.3 70.1h.1M400.5 71.2h.1M402.8 69.8h.1M403.3 68.5h.1M398.4 74.9h.1M400.5 70.8h.1M404.4 64.1h.1M398.8 72.1h.1M401.3 71.7h.1M400.0 70.8h.1M403.4 68.4h.1M401.9 69.6h.1M398.5 68.4h.1M397.6 72.4h.1M402.8 67.5h.1M399.7 67.9h.1M399.0 70.0h.1M400.6 68.4h.1M401.4 66.0h.1M399.1 73.1h.1M398.9 73.3h.1M400.5 72.3h.1M399.4 71.0h.1M397.4 78.0h.1M400.8 70.9h.1M402.9 65.7h.1M401.3 70.2h.1M402.8 66.0h.1M394.8 75.7h.1M402.1 69.9h.1M402.4 64.4h.1M404.7 65.1h.1M401.4 70.9h.1M399.8 71.1h.1M401.1 67.4h.1M400.0 72.7h.1M401.5 70.4h.1M399.0 73.8h.1M402.2 69.2h.1M401.2 68.9h.1M404.8 65.0h.1M402.2 68.2h.1M399.9 70.6h.1M401.6 69.5h.1M398.1 71.8h.1M402.1 69.3h.1M401.8 70.0h.1M400.2 66.7h.1M401.6 65.6h.1M397.9 74.4h.1M401.2 67.6h.1M402.3 66.8h.1M399.8 72.6h.1M404.0 63.4h.1M399.9 70.8h.1M404.4 61.6h.1M404.5 67.9h.1M402.3 65.9h.1M401.7 68.2h.1M403.8 66.7h.1M400.0 72.1h.1M400.4 71.4h.1M399.3 75.1h.1M402.9 67.9h.1M399.5 70.5h.1M404.1 67.8h.1M402.8 67.6h.1M401.3 74.0h.1M403.1 67.4h.1M401.5 68.1h.1M401.8 68.5h.1M402.1 67.7h.1M402.4 69.7h.1M400.9 68.6h.1M404.0 66.7h.1M398.9 71.2h.1M399.2 72.1h.1M400.5 71.3h.1M401.8 65.3h.1M401.2 70.1h.1M403.7 63.2h.1M396.1 77.3h.1M400.2 70.9h.1M399.7 69.6h.1M401.5 68.0h.1M403.7 65.4h.1M401.2 69.6h.1M399.5 71.6h.1M402.7 66.7h.1M404.3 65.0h.1M398.0 76.6h.1M404.8 68.9h.1M402.0 68.3h.1M400.2 71.4h.1M399.5 69.6h.1M401.5 68.0h.1M400.4 68.3h.1M399.4 68.7h.1M399.5 72.2h.1M402.7 68.7h.1M399.5 70.3h.1M402.1 69.1h.1M400.6 70.7h.1M400.4 67.6h.1M402.2 66.6h.1M400.8 67.7h.1M403.8 68.0h.1M399.0 72.8h.1M401.1 67.1h.1M403.1 69.0h.1M400.1 70.6h.1M400.7 69.2h.1M398.8 78.0h.1M400.0 67.9h.1M401.4 70.5h.1M397.7 75.3h.1M400.7 66.6h.1M402.0 71.8h.1M401.4 68.0h.1M401.4 69.9h.1M402.2 67.7h.1M402.3 69.3h.1M399.6 69.0h.1M403.3 68.3h.1M402.5 66.5h.1M397.0 74.9h.1M401.5 69.0h.1M400.6 70.8h.1M399.8 72.2h.1M402.7 64.9h.1M402.6 66.1h.1M399.7 71.9h.1M400.5 72.7h.1M402.6 66.7h.1M399.8 70.4h.1M400.9 69.9h.1M396.7 73.5h.1M402.9 70.5h.1M401.0 64.5h.1M400.8 70.4h.1M402.3 70.0h.1M406.0 65.3h.1M402.1 66.1h.1M403.3 64.8h.1M402.7 67.4h.1M403.5 65.8h.1M398.4 73.4h.1M400.4 71.5h.1M397.5 72.8h.1M404.6 62.6h.1M401.8 68.6h.1M402.7 70.3h.1M398.8 70.3h.1M400.1 72.1h.1M397.6 77.2h.1M404.0 62.2h.1M400.8 69.0h.1M403.4 70.0h.1M400.5 73.8h.1M401.7 69.4h.1M403.2 68.7h.1M401.4 69.3h.1M400.0 65.8h.1M397.2 69.6h.1M402.0 68.2h.1M402.1 66.1h.1M401.5 67.0h.1M402.1 68.0h.1M402.6 70.2h.1M398.7 71.1h.1M402.5 67.6h.1M400.3 69.8h.1M399.1 71.2h.1M403.4 67.4h.1M397.1 72.4h.1M400.4 70.5h.1M402.5 66.8h.1M403.4 66.7h.1M400.1 69.6h.1M400.5 68.3h.1M402.8 67.9h.1M400.7 68.9h.1M400.5 71.4h.1M403.3 68.6h.1M402.0 68.8h.1M401.0 68.4h.1M402.8 65.7h.1M400.9 67.6h.1M401.2 70.7h.1M401.9 68.8h.1M404.6 63.7h.1M399.6 70.6h.1M401.0 69.8h.1M400.9 71.7h.1M403.4 69.0h.1M398.1 71.8h.1M401.1 67.2h.1M403.3 67.3h.1M398.7 70.3h.1M400.0 71.4h.1M398.4 72.8h.1M400.3 68.2h.1M399.9 72.3h.1M401.0 71.2h.1M402.3 71.2h.1M399.9 70.7h.1M402.4 66.5h.1M403.3 64.2h.1M397.2 74.4h.1M399.9 71.2h.1M400.7 67.7h.1M400.5 72.5h.1M400.1 70.2h.1M401.2 68.1h.1M403.8 65.3h.1M401.7 64.8h.1M400.5 69.5h.1M400.3 67.9h.1M399.9 69.5h.1M401.2 69.6h.1M397.6 71.1h.1M397.3 73.2h.1M400.7 70.0h.1M403.1 66.4h.1M403.6 67.5h.1M398.4 74.2h.1M401.3 69.7h.1M400.1 70.6h.1M402.3 68.5h.1M399.0 71.7h.1M403.0 66.6h.1M402.5 70.5h.1M402.8 67.7h.1M403.7 67.2h.1M399.3 75.0h.1M401.2 69.7h.1M403.1 64.4h.1M402.5 69.6h.1M405.0 67.3h.1M402.2 68.0h.1M397.7 68.6h.1M402.4 68.6h.1M402.9 66.0h.1M403.9 65.7h.1M403.0 64.6h.1M398.1 71.2h.1M402.9 66.8h.1M397.9 72.0h.1M402.2 70.0h.1M400.8 69.4h.1M403.6 68.0h.1M401.7 68.0h.1M404.1 66.0h.1M400.1 70.5h.1M403.9 67.4h.1M401.8 67.8h.1M401.3 68.9h.1M399.9 72.6h.1M403.1 67.9h.1M403.0 68.8h.1M403.1 67.1h.1M400.9 68.9h.1M401.1 69.8h.1M401.9 67.9h.1M401.0 67.0h.1M402.8 67.3h.1M404.3 63.7h.1M399.6 70.2h.1M404.3 63.3h.1M396.0 76.8h.1M402.9 66.3h.1M398.2 70.1h.1M404.8 63.6h.1M400.2 71.6h.1M402.6 65.8h.1M398.2 70.7h.1M398.1 71.2h.1M402.7 66.8h.1M402.1 66.2h.1M399.7 70.6h.1M405.4 62.4h.1M400.2 69.5h.1M403.4 64.4h.1M399.5 71.7h.1M398.1 70.6h.1M401.9 69.0h.1M398.4 70.9h.1M400.2 66.5h.1M395.8 73.6h.1M401.4 68.4h.1M400.6 70.6h.1M401.2 72.5h.1M401.8 68.5h.1M398.7 68.2h.1M402.1 71.1h.1M404.2 67.7h.1M401.1 67.7h.1M401.4 67.6h.1M405.3 66.5h.1M401.3 69.2h.1M402.5 66.5h.1M402.1 71.0h.1M401.5 66.8h.1M403.5 68.3h.1M399.4 69.8h.1M398.6 73.0h.1M399.9 72.9h.1M401.3 72.5h.1M402.6 67.7h.1M401.2 69.4h.1M401.0 69.9h.1M402.7 68.1h.1M402.8 67.1h.1M402.9 64.7h.1M401.2 71.1h.1M402.5 67.6h.1M402.1 66.8h.1M399.8 71.6h.1M400.8 68.2h.1M398.4 70.6h.1M401.3 69.8h.1M401.9 67.7h.1M401.3 75.3h.1M400.2 71.6h.1M399.4 70.8h.1M402.6 69.4h.1M398.9 70.2h.1M403.8 69.1h.1M398.7 70.5h.1M401.0 70.7h.1M403.4 68.0h.1M402.4 68.4h.1M401.9 68.7h.1M402.3 69.7h.1M404.4 67.1h.1M404.2 65.6h.1M399.9 69.4h.1M399.8 70.7h.1M398.4 71.0h.1M404.9 64.7h.1M400.2 71.6h.1M399.5 72.8h.1M401.7 68.2h.1M402.7 65.9h.1M397.7 71.3h.1M400.5 68.9h.1M398.8 72.8h.1M398.9 70.1h.1M404.9 65.1h.1M402.9 69.3h.1M400.3 69.3h.1M401.3 68.7h.1M401.7 68.2h.1M400.3 68.7h.1M399.7 72.4h.1M399.5 72.2h.1M404.4 63.4h.1M399.5 70.7h.1M402.5 65.2h.1M400.1 70.9h.1M403.3 65.3h.1M404.8 68.5h.1M399.9 68.8h.1M406.2 64.5h.1M399.9 71.5h.1M398.6 68.1h.1M400.2 71.5h.1M401.6 72.0h.1M399.3 69.0h.1M400.3 71.9h.1M401.0 70.0h.1M404.2 64.8h.1M397.8 73.3h.1M398.5 71.9h.1M399.9 71.6h.1M399.6 69.6h.1M403.9 66.8h.1M402.0 66.7h.1M402.8 68.1h.1M401.1 68.0h.1M406.0 62.9h.1M399.9 72.3h.1M398.1 71.2h.1M402.4 69.7h.1M402.8 69.1h.1M400.5 69.3h.1M400.2 71.4h.1M399.6 72.8h.1M401.1 69.8h.1M398.2 69.7h.1M401.5 70.9h.1M399.8 72.1h.1M403.5 65.3h.1M403.0 68.3h.1M404.5 64.0h.1M400.1 70.1h.1M402.3 69.4h.1M399.9 69.0h.1M402.5 69.6h.1M401.1 69.8h.1M400.8 69.2h.1M395.1 72.5h.1M402.6 70.8h.1M402.3 67.0h.1M395.8 72.8h.1M401.4 70.3h.1M401.3 66.8h.1M403.3 65.5h.1M402.6 70.1h.1M401.8 67.5h.1M405.2 64.8h.1M403.5 65.5h.1M402.0 71.1h.1M399.7 70.2h.1M405.4 67.7h.1M401.9 68.5h.1M399.3 69.7h.1M400.5 69.3h.1M402.3 68.4h.1M401.3 69.7h.1M401.4 69.9h.1M398.5 68.1h.1M398.9 73.1h.1M404.3 64.3h.1M404.1 66.1h.1M404.4 65.2h.1M400.6 69.0h.1M402.2 69.0h.1M403.1 67.9h.1M403.3 67.1h.1M398.6 74.1h.1M401.8 67.9h.1M400.2 72.0h.1M401.5 69.3h.1M401.0 71.2h.1M403.1 63.7h.1M402.2 67.5h.1M401.6 69.3h.1M403.5 65.1h.1M401.3 69.2h.1M401.6 71.9h.1M401.3 69.6h.1M399.2 69.0h.1M401.0 68.6h.1M401.7 66.1h.1M401.8 69.7h.1M402.7 70.0h.1M403.8 66.7h.1M400.6 67.4h.1M403.9 67.0h.1M402.4 69.1h.1M398.2 71.9h.1M399.7 72.2h.1M398.8 73.6h.1M403.0 65.7h.1M402.0 67.8h.1M400.9 70.5h.1M399.5 71.5h.1M402.7 68.4h.1M401.2 69.4h.1M401.3 67.8h.1M401.0 71.9h.1M399.7 72.1h.1M405.1 65.4h.1M399.1 71.1h.1M400.8 68.7h.1M402.8 64.9h.1M397.4 73.3h.1M401.6 66.5h.1M400.8 68.4h.1M401.9 69.8h.1M401.0 67.7h.1M400.3 72.7h.1M395.5 73.6h.1M404.3 63.8h.1M400.4 69.4h.1M404.0 67.3h.1M402.3 65.4h.1M400.8 67.5h.1M403.6 68.7h.1M403.1 67.4h.1M404.5 65.0h.1M402.8 68.1h.1M402.2 64.8h.1M398.9 68.5h.1M401.7 70.8h.1M400.6 68.2h.1M402.3 68.1h.1M401.0 66.8h.1M407.0 65.2h.1M403.2 67.0h.1M400.4 68.1h.1M405.4 64.1h.1M400.8 67.4h.1M402.5 68.3h.1M401.2 67.0h.1M400.3 69.5h.1M400.0 72.2h.1M402.3 69.1h.1M401.0 69.9h.1M398.9 70.6h.1M401.6 68.7h.1M401.7 69.9h.1M397.3 68.6h.1M399.9 74.7h.1M401.3 69.6h.1M403.9 64.0h.1M403.9 67.2h.1M403.2 66.1h.1M401.8 69.3h.1M404.6 67.0h.1M399.9 70.5h.1M401.7 70.9h.1M403.0 68.0h.1M397.9 72.1h.1M402.5 69.5h.1M401.3 67.8h.1M403.1 63.8h.1M399.3 70.3h.1M401.7 67.6h.1M400.5 70.9h.1M401.8 71.3h.1M396.7 76.2h.1M399.4 71.3h.1M403.8 66.2h.1M403.2 68.2h.1M400.9 68.1h.1M406.5 63.0h.1M401.9 67.3h.1M399.8 72.6h.1M402.6 70.5h.1M399.8 68.2h.1M403.5 64.3h.1M399.4 71.1h.1M403.4 68.7h.1M403.2 66.4h.1M399.8 71.0h.1M402.3 69.2h.1M396.5 73.4h.1M403.5 69.9h.1M397.1 74.5h.1M402.5 71.1h.1M405.8 65.3h.1M403.3 68.6h.1M401.0 68.5h.1M402.4 69.0h.1M405.7 63.6h.1M403.2 68.0h.1M404.6 67.1h.1M401.5 70.7h.1M401.6 70.7h.1M400.0 72.0h.1M401.5 69.7h.1M402.5 72.3h.1M403.7 66.7h.1M401.4 66.6h.1M401.7 69.6h.1M400.6 70.5h.1M397.3 77.2h.1M401.1 71.0h.1M402.0 68.2h.1M403.8 68.0h.1M396.5 77.4h.1M399.0 76.4h.1M401.4 68.4h.1M401.2 72.7h.1M400.5 69.2h.1M399.7 69.7h.1M404.0 68.4h.1M397.7 73.6h.1M400.9 70.8h.1M402.0 65.8h.1M402.3 68.8h.1M400.4 71.4h.1M402.5 68.0h.1M400.8 67.5h.1M401.8 72.6h.1M401.9 66.7h.1M402.5 67.2h.1M401.7 69.7h.1M403.3 66.7h.1M398.7 71.6h.1M402.0 66.5h.1M399.6 68.6h.1M400.5 71.9h.1M402.3 71.7h.1M404.0 66.2h.1M400.8 70.6h.1M401.3 70.2h.1M399.3 70.1h.1M398.0 69.8h.1M402.8 66.2h.1M406.9 64.1h.1M402.8 64.8h.1M403.0 68.1h.1M402.7 67.0h.1M400.1 69.5h.1M400.3 70.2h.1M399.6 72.2h.1M403.7 65.0h.1M400.2 69.5h.1M399.7 70.6h.1M398.5 69.5h.1M404.6 70.3h.1M401.3 71.0h.1M402.1 69.3h.1M401.0 68.1h.1M403.5 65.3h.1M398.6 71.9h.1M403.3 69.1h.1M400.6 71.0h.1M400.2 69.8h.1M404.3 64.7h.1M402.9 67.6h.1M400.6 69.9h.1M400.8 66.8h.1M403.4 70.3h.1M401.9 65.1h.1" stroke="#000" stroke-width="0.8" stroke-linecap="round" opacity="0.3" fill="none"/>
<path d="M401.3 70.1h.1M400.2 72.1h.1M402.4 69.9h.1M400.1 69.9h.1M402.1 68.4h.1M400.1 71.9h.1M402.0 69.0h.1M399.5 71.8h.1M401.0 69.8h.1M400.7 68.7h.1M402.0 71.5h.1M400.8 68.9h.1M400.4 71.6h.1M401.9 68.7h.1M400.3 71.4h.1M400.0 71.6h.1M400.1 70.2h.1M400.5 70.4h.1M400.7 72.4h.1M401.6 69.1h.1M400.6 70.6h.1M401.1 69.2h.1M399.0 72.8h.1M399.3 72.6h.1M399.7 70.4h.1M400.3 72.5h.1M399.1 69.6h.1M401.7 69.7h.1M402.6 69.0h.1M401.8 67.6h.1M400.9 68.6h.1M399.1 71.0h.1M400.3 68.8h.1M399.8 71.0h.1M401.2 69.5h.1M399.3 72.0h.1M402.2 68.1h.1M401.5 69.9h.1M399.3 70.1h.1M398.0 71.8h.1M401.0 69.9h.1M400.2 71.4h.1M401.3 70.2h.1M401.0 72.3h.1M400.5 71.6h.1M401.7 69.6h.1M402.4 67.9h.1M399.9 72.9h.1M401.7 71.5h.1M400.7 69.4h.1M399.4 69.9h.1M401.6 72.1h.1M403.2 66.8h.1M399.2 71.4h.1M401.9 70.3h.1M401.1 71.8h.1M400.6 70.5h.1M398.3 74.3h.1M402.1 69.2h.1M399.4 70.0h.1M398.6 71.3h.1M402.1 67.3h.1M400.4 70.9h.1M400.2 71.5h.1M399.1 71.4h.1M402.0 68.7h.1M399.7 69.6h.1M399.5 70.3h.1M399.6 72.8h.1M399.2 71.5h.1M400.0 69.1h.1M400.2 70.1h.1M399.0 74.1h.1M399.9 71.9h.1M401.2 70.1h.1M403.6 65.9h.1M399.8 71.6h.1M398.4 74.2h.1M401.0 68.7h.1M399.2 70.5h.1M399.6 72.8h.1M402.3 70.1h.1M400.2 70.6h.1M399.6 71.9h.1M398.9 72.3h.1M401.0 70.9h.1M400.6 70.1h.1M399.3 73.7h.1M401.0 68.2h.1M398.1 71.7h.1M402.8 68.4h.1M402.7 71.0h.1M400.8 70.9h.1M401.4 70.0h.1M399.9 71.2h.1M400.6 70.4h.1M402.2 67.4h.1M398.2 70.1h.1M401.9 69.2h.1M399.9 72.0h.1M400.3 70.2h.1M402.9 69.6h.1M398.8 72.0h.1M401.4 70.1h.1M399.2 74.5h.1M399.9 72.6h.1M399.8 70.8h.1M401.1 68.5h.1M400.6 68.6h.1M399.3 71.7h.1M401.0 70.9h.1M400.5 69.8h.1M398.9 73.0h.1M399.6 68.6h.1M403.5 69.0h.1M401.0 67.5h.1M399.5 71.0h.1M399.9 70.8h.1M399.6 71.9h.1M400.4 71.4h.1M401.0 71.2h.1M402.4 69.9h.1M399.4 69.3h.1M399.0 71.4h.1M401.1 68.7h.1M401.4 68.7h.1M401.2 72.2h.1M400.5 70.9h.1M400.4 70.4h.1M398.0 72.5h.1M401.4 70.5h.1M401.2 69.1h.1M403.0 67.2h.1M400.8 70.0h.1M400.8 71.1h.1M400.2 70.4h.1M401.3 69.3h.1M402.8 69.8h.1M398.9 71.2h.1M399.4 69.0h.1M401.9 69.6h.1M397.6 73.1h.1M402.8 68.5h.1M400.7 70.9h.1M400.4 68.1h.1M400.4 70.3h.1M399.3 70.0h.1M400.3 70.3h.1M400.3 69.4h.1M401.7 68.9h.1M399.4 70.1h.1M398.2 71.4h.1M399.4 71.2h.1M399.9 72.2h.1M401.7 69.2h.1M400.2 72.3h.1M401.9 67.5h.1M400.4 69.9h.1M401.0 70.8h.1M401.5 67.7h.1M400.6 71.2h.1M399.1 70.0h.1M400.9 68.6h.1M400.4 68.4h.1M400.0 72.3h.1M404.0 66.7h.1M402.5 70.2h.1M398.8 72.1h.1M401.2 71.1h.1M400.8 68.2h.1M400.8 69.9h.1M401.1 68.5h.1M404.1 66.9h.1M402.0 69.0h.1M402.7 66.9h.1M400.9 68.8h.1M400.7 72.0h.1M402.1 67.6h.1M400.4 71.8h.1M401.2 68.3h.1M401.5 69.3h.1M399.9 71.8h.1M399.5 71.2h.1M399.7 70.0h.1M401.2 69.7h.1M401.3 67.5h.1M401.4 70.6h.1M402.6 67.0h.1M402.4 69.3h.1M399.8 71.2h.1M400.6 71.7h.1M400.7 70.1h.1M399.7 70.8h.1M401.2 70.8h.1M402.7 69.7h.1M401.1 69.9h.1M401.4 68.4h.1M399.7 71.3h.1M400.3 72.1h.1M398.5 72.2h.1M398.9 73.3h.1M399.7 70.6h.1M401.3 70.5h.1M400.1 70.3h.1M399.9 69.7h.1M403.4 67.1h.1M399.6 72.1h.1M400.0 70.4h.1M399.8 70.8h.1M399.4 71.5h.1M402.3 68.0h.1M401.7 70.9h.1M402.1 68.1h.1M400.3 72.6h.1M402.7 67.0h.1M404.8 67.5h.1M398.8 71.0h.1M399.4 69.4h.1M400.2 70.2h.1M401.9 69.6h.1M399.4 72.5h.1M400.6 69.0h.1M401.1 68.7h.1M400.5 71.5h.1M397.4 73.4h.1M399.5 71.0h.1M399.9 70.6h.1M401.8 69.1h.1M400.0 71.2h.1M399.9 72.4h.1M401.3 69.1h.1M401.5 69.9h.1M400.7 68.4h.1M400.7 70.1h.1M401.7 68.3h.1M401.1 69.2h.1M398.5 73.0h.1M401.9 70.5h.1M400.7 68.3h.1M400.7 70.1h.1M402.7 68.0h.1M400.8 71.4h.1M401.9 69.3h.1M399.7 72.5h.1M400.7 70.2h.1M400.7 71.5h.1M399.5 71.8h.1M399.1 72.3h.1M401.4 70.1h.1M399.7 68.5h.1M400.1 71.3h.1M399.1 72.1h.1M399.7 71.6h.1M401.7 69.0h.1M398.9 71.9h.1M401.1 67.7h.1M398.9 73.0h.1M401.6 70.1h.1M401.1 68.8h.1M403.5 69.1h.1" stroke="#000" stroke-width="1.0" stroke-linecap="round" opacity="0.55" fill="none"/>
<line x1="404.50" y1="32.00" x2="404.50" y2="90.20" stroke="#555" stroke-width="1.0"/>
<line x1="382.00" y1="66.50" x2="438.50" y2="66.50" stroke="#555" stroke-width="1.0"/>
<text x="383.30" y="41.60" font-size="6.8" text-anchor="start" fill="#2a2a2a">10.0</text>
<text x="434.10" y="41.60" font-size="6.8" text-anchor="end" fill="#2a2a2a">39.7</text>
<text x="383.30" y="86.80" font-size="6.8" text-anchor="start" fill="#2a2a2a">40.8</text>
<text x="434.10" y="86.80" font-size="6.8" text-anchor="end" fill="#2a2a2a">9.54</text>
<text x="410.25" y="27.80" font-size="6.6" text-anchor="middle" fill="#333">+ HEL</text>
<rect x="319.60" y="108.90" width="56.60" height="57.80" fill="#fff" stroke="#999" stroke-width="0.8"/>
<path d="M345.6 132.7h.1M343.8 134.4h.1M349.9 133.6h.1M345.3 145.1h.1M341.3 135.0h.1M345.4 141.6h.1M349.1 139.8h.1M353.4 133.5h.1M346.2 135.8h.1M346.6 139.0h.1M355.1 129.9h.1M349.2 135.7h.1M343.3 148.1h.1M340.9 139.5h.1M347.3 131.8h.1M348.1 132.0h.1M350.6 135.0h.1M347.9 133.3h.1M342.2 139.2h.1M346.0 135.0h.1M340.3 140.4h.1M343.9 139.6h.1M342.1 139.3h.1M342.9 139.2h.1M347.1 137.5h.1M342.5 134.4h.1M343.2 139.1h.1M347.8 127.3h.1M348.0 138.9h.1M354.1 127.1h.1M350.1 129.1h.1M345.0 143.2h.1M347.7 128.7h.1M341.3 142.7h.1M347.8 124.6h.1M346.0 132.2h.1M346.4 142.3h.1M337.4 146.8h.1M347.0 138.2h.1M344.3 144.0h.1M349.7 128.4h.1M342.7 142.4h.1M343.1 135.0h.1M340.7 128.4h.1M345.4 134.4h.1M343.5 131.6h.1M346.3 136.8h.1M347.8 130.3h.1M345.0 141.3h.1M349.3 132.2h.1M339.3 140.5h.1M345.8 133.4h.1M341.8 141.3h.1M347.9 137.4h.1M343.8 129.4h.1M350.7 128.0h.1M342.6 146.7h.1M344.2 139.7h.1M341.7 140.1h.1M348.2 126.9h.1M340.0 138.4h.1M351.3 132.3h.1M346.0 138.8h.1M338.0 141.7h.1M340.9 131.5h.1M344.6 142.8h.1M348.9 130.9h.1M352.9 132.2h.1M352.6 128.3h.1M345.6 142.4h.1M351.5 125.9h.1M352.4 131.0h.1M338.6 144.7h.1M353.3 122.0h.1M352.2 125.4h.1M340.9 140.2h.1M348.1 133.6h.1M345.5 144.8h.1M345.9 135.9h.1M341.4 131.2h.1M348.0 131.4h.1M342.5 139.4h.1M346.8 135.6h.1M344.1 141.0h.1M346.3 132.2h.1M355.2 134.7h.1M349.8 136.4h.1M351.4 129.1h.1M349.4 131.0h.1M343.8 131.1h.1M343.6 125.0h.1M341.0 141.8h.1M345.3 134.9h.1M339.2 144.9h.1M342.5 133.3h.1M347.5 139.3h.1M350.2 130.9h.1M344.6 137.6h.1M343.7 138.6h.1M351.0 138.3h.1M344.9 135.4h.1M352.1 134.2h.1M341.8 139.4h.1M339.6 143.1h.1M347.4 147.7h.1M348.6 127.6h.1M342.0 142.5h.1M346.6 138.8h.1M340.6 140.6h.1M343.9 127.3h.1M343.4 137.9h.1M353.0 129.3h.1M348.0 141.3h.1M350.3 134.9h.1M351.3 132.0h.1M346.5 127.9h.1M342.0 142.0h.1M345.4 137.4h.1M343.9 134.5h.1M340.8 146.1h.1M348.5 130.9h.1M349.8 133.9h.1M349.6 132.9h.1M342.1 143.5h.1M350.0 135.6h.1M343.5 130.4h.1M349.2 128.8h.1M346.2 139.0h.1M346.0 129.8h.1M355.1 124.8h.1M342.4 136.4h.1M344.9 137.5h.1M340.6 134.6h.1M343.3 144.8h.1M346.3 137.9h.1M353.6 126.5h.1M346.8 142.4h.1M345.2 136.0h.1M352.8 129.4h.1M347.3 131.3h.1M348.8 134.6h.1M342.7 135.8h.1M352.7 139.2h.1M345.4 134.5h.1M348.4 131.0h.1M346.7 134.7h.1M350.9 130.3h.1M336.2 144.0h.1M350.0 130.8h.1M343.7 137.7h.1M347.2 135.4h.1M346.1 138.1h.1M348.2 131.2h.1M344.3 135.0h.1M351.2 132.9h.1M345.2 140.6h.1M350.7 135.8h.1M349.2 127.3h.1M352.0 129.6h.1M347.3 138.2h.1M345.2 133.4h.1M345.4 137.4h.1M345.0 135.3h.1M346.9 135.2h.1M349.1 127.3h.1M348.0 131.5h.1M353.8 127.9h.1M350.6 125.6h.1M343.5 143.1h.1M348.0 133.6h.1M344.4 137.4h.1M343.0 145.5h.1M345.9 143.0h.1M341.9 136.6h.1M346.8 122.7h.1M347.6 135.0h.1M342.9 134.7h.1M345.4 134.8h.1M345.8 140.4h.1M349.1 135.2h.1M346.9 136.0h.1M342.6 145.4h.1M345.7 138.7h.1M357.0 115.2h.1M351.3 132.8h.1M343.9 134.5h.1M351.4 132.6h.1M346.3 142.3h.1M344.4 133.3h.1M347.2 128.9h.1M337.8 142.8h.1M343.9 139.3h.1M346.9 138.3h.1M342.7 135.3h.1M345.2 138.3h.1M347.6 133.6h.1M351.7 130.1h.1M346.5 132.5h.1M355.7 132.1h.1M348.3 128.2h.1M349.8 141.3h.1M345.0 132.3h.1M349.4 139.4h.1M346.7 130.3h.1M339.0 133.9h.1M346.6 136.6h.1M354.6 126.5h.1M340.9 133.6h.1M342.9 144.9h.1M349.7 135.8h.1M344.1 131.7h.1M352.3 141.8h.1M350.5 136.6h.1M353.0 130.7h.1M346.7 139.1h.1M351.1 138.8h.1M342.2 138.2h.1M344.8 131.8h.1M346.2 135.9h.1M344.8 141.1h.1M350.1 138.0h.1M350.8 123.6h.1M343.1 146.1h.1M340.7 142.5h.1M344.9 131.7h.1M342.2 143.2h.1M357.8 126.3h.1M344.4 145.1h.1M339.0 141.0h.1M344.2 137.7h.1M346.1 126.8h.1M354.7 133.2h.1M348.5 131.8h.1M347.8 133.5h.1M354.6 129.5h.1M342.7 146.7h.1M344.8 132.1h.1M349.4 125.9h.1M344.7 142.1h.1M346.6 132.7h.1M347.1 126.2h.1M353.1 129.1h.1M345.3 135.5h.1M349.4 122.7h.1M349.8 133.0h.1M346.4 127.0h.1M343.5 141.5h.1M341.3 138.0h.1M341.8 138.3h.1M351.1 124.2h.1M340.2 149.2h.1M342.7 146.8h.1M348.5 130.1h.1M346.4 133.9h.1M333.9 150.7h.1M345.5 137.5h.1M344.7 136.4h.1M345.8 125.7h.1M339.9 145.9h.1M343.7 137.6h.1M345.5 126.6h.1M348.5 130.4h.1M342.7 139.9h.1M343.7 135.7h.1M342.3 143.9h.1M353.5 128.4h.1M349.0 139.5h.1M350.8 127.8h.1M346.0 128.8h.1M341.3 138.9h.1M341.8 133.7h.1M346.1 130.0h.1M349.5 133.3h.1M354.8 127.9h.1M351.2 129.1h.1M348.2 133.4h.1M350.5 131.9h.1M342.0 138.0h.1M346.8 139.5h.1M346.8 130.7h.1M345.5 132.0h.1M347.7 143.8h.1M347.4 136.0h.1M340.9 138.0h.1M342.7 137.1h.1M350.1 127.2h.1M346.5 142.0h.1M346.4 139.7h.1M348.0 131.5h.1M343.5 132.9h.1M345.8 133.3h.1M342.4 143.6h.1M345.8 134.8h.1M343.4 136.1h.1M348.6 142.0h.1M347.4 139.6h.1M345.6 136.6h.1M345.9 128.4h.1M349.4 122.5h.1M348.9 135.3h.1M350.9 126.2h.1M348.8 135.2h.1M343.1 144.2h.1M346.3 134.4h.1M351.3 127.9h.1M352.2 127.4h.1M346.9 141.6h.1M357.3 123.9h.1M344.8 139.5h.1M343.9 139.0h.1M343.4 137.2h.1M353.0 127.5h.1M349.6 133.5h.1M346.0 127.9h.1M338.8 147.4h.1M344.1 134.0h.1M347.7 136.3h.1M350.5 131.7h.1M348.1 139.2h.1M347.6 126.6h.1M347.4 140.4h.1M346.9 145.3h.1M343.6 145.5h.1M347.1 125.8h.1M348.8 130.4h.1M343.6 139.2h.1M349.6 128.3h.1M346.2 135.9h.1M346.7 135.8h.1M345.8 145.3h.1M340.7 135.9h.1M347.3 134.4h.1M344.1 132.1h.1M348.9 140.2h.1M348.2 128.3h.1M353.9 128.0h.1M347.5 141.3h.1M347.1 132.2h.1M339.4 142.4h.1M344.3 130.6h.1M340.3 138.8h.1M346.8 136.1h.1M345.1 132.8h.1M347.4 137.1h.1M351.1 129.4h.1M343.7 139.1h.1M345.5 137.7h.1M345.4 131.8h.1M351.2 137.4h.1M344.4 131.9h.1M347.5 136.8h.1M340.4 137.6h.1M345.6 129.4h.1M349.8 135.9h.1M349.4 129.6h.1M348.8 126.1h.1M347.6 137.9h.1M346.3 140.1h.1M346.0 137.9h.1M342.7 137.6h.1M338.3 145.2h.1M352.6 125.8h.1M345.7 131.3h.1M349.8 119.2h.1M342.6 136.9h.1M350.3 132.3h.1M349.6 134.3h.1M345.7 134.8h.1M347.4 128.0h.1M345.5 134.2h.1M347.4 135.7h.1M349.5 135.1h.1M336.7 146.2h.1M344.9 139.2h.1M339.6 136.6h.1M354.5 126.7h.1M349.2 131.8h.1M350.6 131.0h.1M343.7 128.7h.1M342.9 134.3h.1M352.8 125.8h.1M350.9 138.5h.1M339.4 141.5h.1M348.1 130.9h.1M353.0 129.4h.1M350.8 136.1h.1M346.7 132.1h.1M350.0 129.4h.1M350.8 125.6h.1M347.3 130.8h.1M352.6 125.4h.1M348.2 133.4h.1M351.1 121.7h.1M342.8 142.9h.1M350.1 129.6h.1M345.8 132.2h.1M352.0 136.6h.1M339.6 140.6h.1M348.7 127.9h.1M348.0 136.9h.1M344.1 140.8h.1M341.6 136.8h.1M344.5 135.4h.1M351.5 136.5h.1M346.5 141.4h.1M343.4 139.9h.1M343.3 130.0h.1M344.4 134.2h.1M352.9 123.5h.1M343.9 136.4h.1M348.8 130.4h.1M352.5 125.0h.1M345.0 135.4h.1M355.0 131.8h.1M344.9 131.6h.1M345.4 133.7h.1M352.5 125.9h.1M345.8 141.6h.1M347.9 139.8h.1M340.6 144.7h.1M345.9 135.2h.1M349.1 128.8h.1M341.4 134.0h.1M354.7 132.8h.1M346.2 140.1h.1M352.0 129.1h.1M343.8 134.1h.1M345.8 137.8h.1M353.9 126.4h.1M346.0 134.5h.1M347.2 130.9h.1M342.8 131.9h.1M348.0 130.3h.1M348.1 134.6h.1M344.3 142.4h.1M349.5 134.1h.1M346.8 131.3h.1M345.6 131.4h.1M346.5 136.4h.1M352.3 124.4h.1M340.9 137.2h.1M346.7 133.9h.1M345.9 132.9h.1M346.2 142.5h.1M344.6 142.5h.1M354.0 133.7h.1M352.1 132.6h.1M346.1 133.4h.1M338.6 142.4h.1M346.4 136.8h.1M350.4 134.9h.1M348.2 131.0h.1M347.2 126.3h.1M348.3 132.3h.1M347.1 127.9h.1M351.7 125.2h.1M342.8 149.9h.1M351.8 130.2h.1M345.9 137.6h.1M342.2 129.0h.1M345.7 132.8h.1M344.2 141.0h.1M343.2 139.6h.1M347.3 131.9h.1M347.2 136.4h.1M349.0 130.6h.1M346.1 137.3h.1M351.0 121.3h.1M341.8 134.2h.1M349.3 121.0h.1M345.1 139.6h.1M346.8 130.8h.1M351.8 129.2h.1M345.5 143.8h.1M343.5 140.3h.1M346.2 131.6h.1M350.1 128.2h.1M348.5 125.7h.1M346.1 130.5h.1M347.7 127.7h.1M343.5 141.7h.1M348.8 139.0h.1M346.2 124.0h.1M346.1 138.6h.1M344.0 135.2h.1M340.2 144.2h.1M346.9 136.3h.1M337.2 141.6h.1M345.9 131.8h.1M350.9 126.3h.1M348.6 133.5h.1M349.5 135.1h.1M348.6 138.8h.1M346.7 130.8h.1M344.4 141.8h.1M346.3 138.1h.1M351.6 121.6h.1M343.6 142.8h.1M343.2 137.2h.1M344.1 143.7h.1M351.5 128.3h.1M343.5 135.0h.1M344.5 143.1h.1M341.3 141.3h.1M348.5 127.7h.1M348.5 130.9h.1M353.1 132.3h.1M349.7 136.9h.1M352.0 131.0h.1M353.7 128.9h.1M346.3 129.8h.1M344.0 145.3h.1M343.9 147.9h.1M343.5 144.0h.1M347.6 133.4h.1M346.3 145.7h.1M341.8 140.4h.1M344.8 133.7h.1M345.4 140.8h.1M340.6 141.3h.1M353.3 131.4h.1M349.4 132.8h.1M349.2 130.6h.1M349.0 129.5h.1M347.8 125.1h.1M347.2 135.6h.1M348.5 137.4h.1M340.7 144.9h.1M345.3 136.2h.1M343.5 137.9h.1M350.4 129.3h.1M348.0 130.9h.1M352.3 127.2h.1M348.2 127.9h.1M351.6 129.0h.1M349.6 132.7h.1M343.9 132.7h.1M347.2 138.2h.1M346.4 135.1h.1M342.2 139.8h.1M348.4 133.2h.1M343.9 134.4h.1M341.9 147.6h.1M335.8 149.5h.1M348.2 141.3h.1M348.5 139.5h.1M345.4 136.7h.1M346.6 125.7h.1M340.4 136.7h.1M344.8 143.6h.1M347.6 132.9h.1M350.6 129.9h.1M356.7 128.3h.1M341.6 140.1h.1M346.6 137.1h.1M341.7 135.8h.1M350.2 126.0h.1M349.8 131.7h.1M348.2 135.9h.1M349.0 131.2h.1M344.2 136.6h.1M347.0 136.9h.1M339.2 131.7h.1M344.4 137.8h.1M348.5 138.1h.1M347.2 133.0h.1M344.2 132.3h.1M349.7 126.0h.1M349.8 130.6h.1M347.8 136.4h.1M341.9 148.9h.1M345.0 145.3h.1M346.2 138.7h.1M344.6 137.1h.1M343.9 143.5h.1M341.1 135.3h.1M345.7 134.0h.1M345.6 139.4h.1M346.0 136.1h.1M342.3 133.8h.1M348.6 141.5h.1M343.2 139.9h.1M339.2 132.5h.1M344.6 132.4h.1M345.6 142.4h.1M340.0 146.9h.1M344.1 141.1h.1M340.8 128.7h.1M343.3 145.5h.1M349.8 130.2h.1M345.4 139.1h.1M350.3 136.4h.1M352.4 144.0h.1M348.6 132.2h.1M345.2 134.3h.1M348.5 133.7h.1M339.3 145.9h.1M346.5 130.1h.1M339.6 144.1h.1M349.6 139.4h.1M344.0 130.3h.1M343.6 135.3h.1M345.7 131.4h.1M346.8 134.3h.1M346.6 134.8h.1M345.3 140.7h.1M348.2 129.0h.1M347.3 127.6h.1M346.2 139.1h.1M341.6 139.4h.1M348.1 134.7h.1M342.6 138.9h.1M347.1 134.7h.1M346.5 129.5h.1M343.3 129.0h.1M350.1 126.5h.1M348.9 133.3h.1M344.3 141.9h.1M342.2 139.4h.1M349.1 132.9h.1M349.4 123.1h.1M344.5 137.0h.1M341.3 139.4h.1M351.8 128.0h.1M348.4 137.3h.1M350.2 132.3h.1M348.4 128.6h.1M345.4 142.0h.1M343.5 136.5h.1M349.9 141.2h.1M349.5 133.1h.1M348.6 131.8h.1M349.5 140.5h.1M349.5 132.9h.1M344.9 147.5h.1M347.5 133.4h.1M347.9 133.7h.1M344.4 134.3h.1M344.2 144.7h.1M350.1 138.0h.1M344.5 142.2h.1M350.2 126.9h.1M345.2 136.9h.1M345.2 136.3h.1M342.8 134.4h.1M348.8 132.7h.1M347.0 135.2h.1M350.0 133.4h.1M345.1 141.4h.1M346.8 127.7h.1M343.9 137.7h.1M355.1 134.4h.1M343.9 132.4h.1M354.5 131.8h.1M347.1 136.3h.1M339.5 142.5h.1M342.6 141.7h.1M344.2 135.9h.1M348.1 126.3h.1M344.3 137.3h.1M349.6 136.6h.1M349.0 127.7h.1M346.4 139.4h.1M353.3 136.7h.1M347.8 134.1h.1M343.1 138.0h.1M346.6 133.9h.1M349.3 129.3h.1M344.9 127.1h.1M344.6 136.9h.1M352.4 117.6h.1M346.4 132.9h.1M341.3 134.8h.1M345.1 139.9h.1M340.4 139.4h.1M344.0 128.3h.1M338.8 152.2h.1M343.1 134.8h.1M345.7 144.9h.1M345.0 135.9h.1M344.3 134.6h.1M344.6 143.8h.1M348.0 143.3h.1M349.8 128.0h.1M345.5 138.9h.1M345.8 135.1h.1M344.6 136.7h.1M346.5 129.5h.1M345.8 126.3h.1M347.8 129.5h.1M351.7 134.2h.1M346.2 131.2h.1M341.8 141.6h.1M349.7 127.7h.1M340.6 136.4h.1M343.0 140.0h.1M346.1 137.9h.1M342.7 139.2h.1M351.5 135.0h.1M345.9 130.0h.1M349.8 127.9h.1M341.6 133.6h.1M342.8 137.8h.1M344.5 136.4h.1M342.3 141.7h.1M347.1 141.0h.1M352.2 124.0h.1M343.2 139.3h.1M342.4 136.6h.1M346.9 131.2h.1M345.2 132.9h.1M346.7 130.0h.1M345.0 140.9h.1M342.3 141.0h.1M350.6 128.1h.1M347.4 140.8h.1M349.8 137.8h.1M344.7 133.0h.1M337.2 143.9h.1M342.0 134.5h.1M346.5 140.1h.1M343.9 130.4h.1M341.3 135.0h.1M341.6 149.1h.1M347.2 130.2h.1M334.4 147.6h.1M344.8 137.5h.1M341.2 137.7h.1M346.0 139.6h.1M347.0 135.8h.1M346.7 128.7h.1M344.1 140.5h.1M344.1 138.6h.1M348.1 130.9h.1M350.3 133.7h.1M344.5 129.3h.1M347.5 133.6h.1M346.3 137.1h.1M345.9 138.6h.1M344.6 137.9h.1M351.2 131.3h.1M348.3 125.7h.1M352.8 124.4h.1M341.2 140.2h.1M347.7 137.8h.1M348.8 136.6h.1M348.0 137.4h.1M342.3 141.4h.1M355.9 124.6h.1M348.4 125.6h.1M346.6 136.6h.1M342.6 136.7h.1M347.1 135.8h.1M340.6 141.1h.1M347.8 138.5h.1M351.2 132.3h.1M349.5 125.1h.1M350.2 130.9h.1M347.3 126.5h.1M344.9 142.2h.1M335.5 153.1h.1M352.3 128.5h.1M351.2 136.5h.1M342.3 133.9h.1M351.6 126.0h.1M340.9 139.5h.1M343.0 140.5h.1M348.4 141.8h.1M349.9 125.5h.1M346.2 128.5h.1M337.7 143.8h.1M346.9 123.7h.1M345.3 134.7h.1M347.7 133.0h.1M343.8 139.6h.1M354.7 126.0h.1M345.6 131.8h.1M348.2 126.8h.1M342.4 140.6h.1M350.2 132.3h.1M344.8 133.9h.1M347.0 137.3h.1M340.7 138.3h.1M345.7 140.1h.1M344.1 142.7h.1M345.1 139.5h.1M348.8 136.8h.1M350.2 133.1h.1M342.4 144.6h.1M349.5 144.4h.1M339.3 136.2h.1M340.5 144.2h.1M344.6 136.6h.1M347.7 138.0h.1M345.2 136.1h.1M347.5 132.9h.1M348.7 129.8h.1M352.4 132.6h.1M347.4 133.8h.1M352.8 134.4h.1M344.4 140.1h.1M345.7 141.9h.1M349.7 132.4h.1M348.7 132.5h.1M350.5 121.6h.1M342.5 135.0h.1M343.3 141.0h.1M349.9 135.0h.1M341.1 136.0h.1M347.2 142.3h.1M351.7 128.2h.1M352.5 124.5h.1M349.2 134.1h.1M340.9 137.3h.1M346.0 133.3h.1M343.3 134.2h.1M342.9 143.7h.1M346.5 129.4h.1M347.7 133.5h.1M350.3 128.3h.1M343.9 138.1h.1M345.2 134.9h.1M344.5 135.2h.1M341.8 145.5h.1M357.5 122.8h.1M340.9 147.8h.1M349.8 145.4h.1M346.0 137.7h.1M343.8 145.4h.1M345.4 131.8h.1M351.9 141.5h.1M341.4 132.2h.1M347.9 134.4h.1M350.6 136.9h.1M345.5 134.2h.1M344.6 135.5h.1M346.5 132.2h.1M343.1 127.7h.1M347.7 137.8h.1M344.2 137.5h.1M344.8 137.4h.1M349.0 134.4h.1M344.5 137.0h.1M342.0 135.8h.1M344.1 145.1h.1M350.9 123.5h.1M340.1 141.1h.1M349.6 124.6h.1M352.8 132.7h.1M348.6 128.9h.1M348.1 134.2h.1M344.7 130.7h.1M347.5 133.7h.1M343.1 129.2h.1M352.0 131.9h.1M349.6 125.7h.1M345.7 142.1h.1M343.3 130.0h.1M347.1 123.7h.1M352.9 128.3h.1M341.4 140.1h.1M347.4 133.4h.1M351.4 135.6h.1M349.8 135.1h.1M339.4 148.1h.1M347.6 129.4h.1M342.6 145.0h.1M352.1 122.0h.1M347.5 130.9h.1M345.4 135.3h.1M351.3 132.9h.1M346.5 134.1h.1M343.5 137.5h.1M350.0 137.6h.1M343.5 131.0h.1M340.3 137.9h.1M348.1 130.7h.1M344.4 125.8h.1M351.7 129.8h.1M352.4 129.4h.1M351.9 128.3h.1M350.4 131.8h.1M345.6 125.0h.1M346.5 134.6h.1M347.8 132.7h.1M349.7 126.2h.1M348.1 121.6h.1M345.0 136.8h.1M343.1 144.0h.1M352.1 122.1h.1M346.7 126.6h.1M352.4 124.6h.1M345.5 127.9h.1M346.4 133.2h.1M345.0 138.9h.1M342.3 140.0h.1M345.7 123.9h.1M350.0 129.5h.1M343.9 131.3h.1M341.7 140.8h.1M344.5 137.8h.1M344.5 138.6h.1M343.4 135.7h.1M336.2 151.1h.1M346.2 133.2h.1M349.4 124.9h.1M347.0 139.3h.1M348.2 135.7h.1M349.8 134.7h.1M344.3 141.3h.1M348.3 132.7h.1M345.0 140.2h.1M343.8 136.9h.1M349.6 134.7h.1M346.9 135.6h.1M344.5 133.3h.1M339.4 138.2h.1M348.5 130.6h.1M340.1 139.8h.1M345.5 128.2h.1M347.6 139.1h.1M342.3 141.6h.1M348.9 136.8h.1M344.3 141.7h.1M343.8 137.6h.1M349.2 137.5h.1M347.4 129.7h.1M349.2 130.4h.1M348.5 132.5h.1M344.2 135.9h.1M344.0 145.0h.1M350.1 138.5h.1M345.4 136.8h.1M347.9 136.7h.1M345.4 138.3h.1M347.7 139.5h.1M351.3 131.4h.1M345.1 144.2h.1M349.7 136.6h.1M352.3 128.6h.1M346.1 140.5h.1M343.4 140.8h.1M337.7 132.2h.1M347.0 137.8h.1M351.3 135.5h.1M349.1 126.2h.1M349.2 137.3h.1M350.4 132.8h.1M345.6 138.9h.1M344.9 137.8h.1M347.2 133.2h.1M343.8 138.6h.1M350.4 128.0h.1M342.5 136.0h.1M343.9 134.9h.1M344.7 141.9h.1M345.7 137.8h.1M346.9 142.7h.1M343.3 137.0h.1M341.7 145.8h.1M341.6 132.6h.1M353.5 125.5h.1M337.0 144.2h.1M354.1 125.9h.1M350.4 137.9h.1M351.3 130.9h.1M342.6 140.5h.1M350.0 121.7h.1M345.4 142.5h.1M343.8 134.2h.1M352.5 126.4h.1M343.9 143.3h.1M340.2 149.3h.1M342.1 133.3h.1M343.7 139.4h.1M342.8 140.4h.1M347.5 142.4h.1M341.6 143.5h.1M350.0 126.3h.1M346.1 125.7h.1M344.5 144.3h.1M348.0 136.6h.1M347.4 139.0h.1M351.5 129.3h.1M342.2 139.2h.1M353.4 126.4h.1M343.3 133.4h.1M344.0 139.7h.1M348.5 136.8h.1M346.4 139.4h.1M356.8 123.3h.1M350.6 136.0h.1M342.1 136.4h.1M344.6 133.3h.1M353.5 127.5h.1M344.7 141.4h.1M337.3 143.1h.1M352.3 128.1h.1M347.8 131.1h.1M343.8 137.1h.1M346.8 135.8h.1M350.4 128.7h.1M339.0 151.8h.1M350.1 127.3h.1M349.9 138.1h.1M348.5 131.0h.1M345.9 135.2h.1M359.3 118.2h.1M343.5 138.2h.1M352.2 129.7h.1M345.2 154.1h.1M351.5 137.4h.1M348.7 130.2h.1M340.3 143.7h.1M341.4 147.9h.1M350.5 136.4h.1M350.0 129.2h.1M347.8 126.8h.1M344.5 139.3h.1M351.3 134.9h.1M341.0 143.0h.1M352.4 124.8h.1M345.2 138.8h.1M350.3 127.3h.1M344.3 136.0h.1M345.8 137.2h.1M353.9 126.6h.1M344.1 140.5h.1M350.2 127.1h.1M342.4 135.8h.1M346.9 142.0h.1M344.3 140.4h.1M352.2 129.4h.1M345.6 135.3h.1M346.8 138.0h.1M349.7 148.2h.1M347.7 126.8h.1M351.4 129.6h.1M350.3 134.6h.1M352.7 132.4h.1M339.2 156.2h.1M348.2 140.0h.1M347.4 134.4h.1M346.5 134.3h.1M345.0 138.7h.1M346.3 133.3h.1M346.4 140.6h.1M343.0 138.3h.1M342.9 142.8h.1M345.8 133.7h.1M342.7 138.7h.1M345.9 138.7h.1M347.6 125.2h.1M344.4 134.4h.1M347.4 135.9h.1M337.3 142.2h.1M340.7 136.2h.1M353.4 131.2h.1M353.9 134.7h.1M348.2 135.6h.1M344.8 135.6h.1M344.3 133.5h.1M346.1 131.9h.1M345.5 137.1h.1M336.4 149.0h.1M350.8 122.3h.1M351.1 128.8h.1M345.5 135.8h.1M348.2 125.2h.1M344.1 143.9h.1M352.1 128.1h.1M349.2 135.1h.1M345.5 127.9h.1M343.7 136.4h.1M344.8 133.1h.1M349.2 132.1h.1M349.8 128.8h.1M345.0 130.5h.1M348.5 132.8h.1M341.7 137.2h.1M351.8 124.8h.1M347.2 133.9h.1M344.4 135.8h.1M343.3 136.0h.1M338.3 140.2h.1M345.1 140.1h.1M337.5 142.2h.1M349.0 134.9h.1M348.4 136.7h.1M352.8 136.7h.1M340.5 141.6h.1M341.4 135.8h.1M347.5 140.6h.1M350.3 129.5h.1M342.5 144.5h.1M345.7 146.3h.1M350.2 127.3h.1M346.8 132.6h.1M342.9 145.3h.1M353.2 128.3h.1M350.7 125.9h.1M348.5 127.5h.1M343.6 149.4h.1M347.1 134.5h.1M342.4 139.7h.1M352.7 140.3h.1M340.8 144.3h.1M347.5 122.4h.1M347.5 141.0h.1M344.0 131.8h.1M349.7 130.6h.1M346.8 130.6h.1M348.1 132.8h.1M348.1 139.0h.1M351.4 136.0h.1M339.7 133.4h.1M342.8 150.6h.1M350.2 129.4h.1M340.9 137.1h.1M344.1 137.9h.1M344.7 137.4h.1M347.2 146.1h.1M344.3 143.3h.1M344.2 147.8h.1M352.4 134.6h.1M349.2 127.5h.1M344.6 133.6h.1M344.8 143.1h.1M352.1 128.1h.1M344.4 136.5h.1M339.3 143.7h.1M343.3 147.9h.1M344.0 132.5h.1M348.5 125.2h.1M345.2 137.5h.1M347.3 140.4h.1M344.1 136.1h.1M342.1 139.4h.1M340.3 136.2h.1M348.7 134.4h.1M340.2 137.5h.1M350.2 130.0h.1M342.1 140.4h.1M348.9 131.0h.1M347.3 132.9h.1M341.5 135.6h.1M347.2 137.8h.1M343.3 136.1h.1M352.3 125.3h.1M344.0 140.1h.1M351.9 128.9h.1M349.0 128.8h.1M350.4 139.8h.1M352.1 125.7h.1M336.5 148.3h.1M345.0 132.6h.1M350.9 136.5h.1M349.3 136.5h.1M350.0 130.6h.1M340.4 135.2h.1M346.9 136.8h.1M350.0 128.2h.1M346.7 136.2h.1M342.4 141.0h.1M350.5 132.9h.1M345.5 135.3h.1M343.5 138.0h.1M345.5 130.5h.1M346.3 141.0h.1M341.1 139.9h.1M340.7 134.3h.1M343.8 135.3h.1M344.8 133.9h.1M348.9 145.6h.1M348.3 123.0h.1M343.6 128.6h.1M343.7 132.7h.1M345.8 133.1h.1M336.6 149.2h.1M341.6 125.7h.1M345.0 142.3h.1M349.0 132.6h.1M339.9 141.0h.1M348.8 128.8h.1M350.2 141.2h.1M345.2 136.1h.1M350.2 125.4h.1M351.8 130.4h.1M341.2 143.0h.1M343.6 139.1h.1M351.6 136.3h.1M344.4 135.9h.1M343.4 127.5h.1M339.8 137.0h.1M343.5 148.0h.1M347.0 142.4h.1M345.7 136.2h.1M347.4 131.5h.1M352.1 132.4h.1M352.1 128.6h.1M343.6 132.0h.1M345.1 136.1h.1M346.0 129.4h.1M346.2 135.8h.1M342.3 136.7h.1M346.3 138.7h.1M350.6 130.2h.1M353.4 127.4h.1M355.4 129.7h.1M342.5 145.4h.1M353.2 130.3h.1M344.1 142.6h.1M345.0 137.0h.1M347.8 131.4h.1M341.3 142.7h.1M343.6 143.1h.1M344.2 139.8h.1M348.7 123.4h.1M350.1 128.8h.1M343.6 140.6h.1M353.1 137.5h.1M349.7 135.8h.1M344.6 131.8h.1M346.4 140.6h.1M353.6 127.8h.1M342.8 136.2h.1M352.1 131.8h.1M338.7 144.1h.1M347.9 132.9h.1M348.5 135.1h.1M355.9 129.6h.1M335.0 149.2h.1M352.8 134.2h.1M352.1 131.8h.1M343.6 135.7h.1M353.7 128.8h.1M351.6 121.8h.1M349.2 129.9h.1M349.6 130.6h.1M353.3 128.4h.1M349.5 133.4h.1M349.5 127.4h.1M350.8 132.8h.1M342.7 138.5h.1M342.6 141.2h.1M348.7 127.3h.1M347.7 131.2h.1M342.9 138.5h.1M345.5 134.5h.1M348.8 125.2h.1M340.2 145.0h.1M342.8 140.2h.1M351.0 132.1h.1M353.4 132.4h.1M342.7 142.2h.1M340.9 139.9h.1M349.3 135.4h.1M354.9 128.7h.1M347.9 135.8h.1M338.3 148.8h.1M347.4 127.8h.1M347.2 135.7h.1M348.1 139.5h.1M343.0 142.3h.1M348.4 127.0h.1M347.4 133.6h.1M345.1 131.4h.1M348.8 133.7h.1M345.6 131.4h.1M344.8 127.9h.1M354.3 126.1h.1M345.4 142.7h.1M344.5 134.8h.1M337.0 133.8h.1M350.3 124.3h.1M345.6 136.9h.1M338.1 143.2h.1M346.6 135.5h.1M348.3 141.7h.1M346.6 140.9h.1M341.6 136.1h.1M346.7 145.3h.1M344.1 148.7h.1M350.4 122.3h.1M345.7 135.7h.1M340.4 139.2h.1M351.1 132.8h.1M352.5 128.0h.1M341.9 146.2h.1M348.2 139.5h.1M347.9 133.8h.1M344.3 140.5h.1M345.6 131.3h.1M342.8 142.8h.1M345.4 139.7h.1M344.8 135.2h.1M344.9 131.1h.1M343.9 133.6h.1M343.6 138.9h.1M346.3 137.9h.1M341.1 148.6h.1M356.4 123.9h.1M345.0 137.6h.1M345.6 137.0h.1M343.0 131.4h.1M347.6 131.4h.1M345.6 132.1h.1M341.0 137.6h.1M346.1 147.7h.1M347.6 137.1h.1M344.6 140.3h.1M344.4 138.4h.1M349.3 136.7h.1M345.0 132.6h.1M348.1 126.1h.1M344.7 135.4h.1M339.3 144.8h.1M351.1 133.1h.1M346.4 128.1h.1M342.9 146.0h.1M353.2 134.0h.1M346.7 133.9h.1M343.7 137.9h.1M348.7 135.0h.1M351.9 135.0h.1M351.2 133.1h.1M350.4 128.4h.1M352.9 138.6h.1M343.8 133.9h.1M351.3 119.2h.1M343.6 141.9h.1M342.9 135.5h.1M345.8 137.6h.1M351.7 132.0h.1M348.2 127.6h.1M340.9 142.5h.1M352.6 128.9h.1M346.4 144.2h.1M357.0 120.6h.1M341.3 137.7h.1M350.6 128.9h.1M338.4 133.1h.1M350.3 131.7h.1M342.6 138.9h.1M346.0 134.0h.1M347.1 135.3h.1M344.6 133.5h.1M351.1 131.5h.1M345.2 137.9h.1M348.5 138.7h.1M348.0 146.0h.1M345.8 135.9h.1M347.9 139.7h.1M352.5 131.5h.1M347.0 130.3h.1M344.6 139.8h.1M346.8 132.0h.1M346.0 124.9h.1M345.3 136.2h.1M341.6 141.7h.1M357.1 121.8h.1M346.0 130.7h.1M346.4 129.8h.1M356.9 121.4h.1M342.3 139.2h.1M346.6 132.9h.1M341.1 146.9h.1M347.7 132.1h.1M341.4 129.6h.1M345.7 140.8h.1M344.7 140.8h.1M345.6 136.1h.1M346.2 136.8h.1M356.0 128.0h.1M344.0 135.8h.1M343.6 134.9h.1M341.4 134.0h.1M342.9 145.6h.1M348.2 139.8h.1M340.6 142.5h.1M349.5 135.7h.1M339.7 148.5h.1M344.0 142.5h.1M346.7 133.4h.1M341.1 148.5h.1M339.8 143.7h.1M351.9 130.3h.1M336.2 140.1h.1M344.4 134.2h.1M349.0 134.1h.1M345.6 142.9h.1M341.7 145.7h.1M352.4 126.5h.1M346.8 139.6h.1M344.4 130.2h.1M341.6 138.5h.1M350.3 134.4h.1M340.9 142.4h.1M342.1 143.5h.1M341.2 140.5h.1M346.2 139.9h.1M339.0 136.2h.1M345.2 137.1h.1M342.6 129.9h.1M346.0 139.0h.1M345.8 127.7h.1M344.6 139.3h.1M344.2 129.0h.1M350.9 127.5h.1M354.5 126.0h.1M343.0 148.6h.1M353.4 125.5h.1M339.4 145.1h.1M349.8 126.1h.1M346.1 135.1h.1M344.7 131.6h.1M339.2 138.7h.1M351.9 130.8h.1M345.9 129.7h.1M338.7 135.5h.1M346.1 139.7h.1M350.5 130.7h.1M348.5 128.4h.1M348.2 130.2h.1M346.6 138.2h.1M346.6 135.2h.1M345.1 127.3h.1M346.6 128.9h.1M352.0 129.4h.1M351.3 136.5h.1M347.1 140.9h.1M346.8 133.2h.1M349.8 133.4h.1M346.9 139.5h.1M345.9 131.5h.1M344.5 140.6h.1M348.2 134.1h.1M344.0 138.5h.1M349.2 120.4h.1M349.3 127.5h.1M345.4 132.6h.1M342.1 143.0h.1M338.6 140.6h.1M351.7 132.5h.1M348.8 137.5h.1M348.7 133.9h.1M336.3 142.0h.1M337.8 142.2h.1M349.6 135.9h.1M346.9 137.0h.1M340.9 142.5h.1M343.7 139.9h.1M346.5 129.2h.1M346.3 138.4h.1M352.4 133.8h.1M349.9 124.3h.1M344.2 131.5h.1M350.8 136.4h.1M349.4 141.2h.1M351.3 128.4h.1M346.7 146.4h.1M341.9 141.2h.1M349.3 136.8h.1M339.9 143.1h.1M350.3 129.6h.1M344.1 138.8h.1M346.3 131.1h.1M346.0 137.3h.1M348.2 138.0h.1M344.1 133.9h.1M344.1 149.0h.1M339.4 139.9h.1M346.5 138.8h.1M354.6 122.4h.1M347.9 129.7h.1M347.5 130.2h.1M341.9 140.8h.1M352.9 131.7h.1M352.5 128.8h.1M347.8 130.1h.1M353.5 118.7h.1M342.5 143.4h.1M339.7 140.0h.1M346.0 137.0h.1M340.9 139.8h.1M343.7 133.4h.1M347.1 131.5h.1M346.8 135.5h.1M344.8 133.6h.1M346.5 132.1h.1M347.2 129.6h.1M346.6 140.3h.1M343.1 138.6h.1M345.9 125.8h.1M346.0 137.6h.1M343.4 140.0h.1M347.9 133.7h.1M343.0 136.1h.1M352.0 137.1h.1M342.0 133.4h.1M343.7 140.6h.1M341.7 141.7h.1M342.0 140.2h.1M346.7 140.6h.1M344.5 141.6h.1M346.1 141.7h.1M343.5 138.1h.1M344.9 142.6h.1M342.7 139.0h.1M346.5 139.2h.1M342.8 139.8h.1M343.2 144.0h.1M345.0 140.5h.1M346.5 137.3h.1M342.8 142.7h.1M344.4 141.2h.1M343.1 140.4h.1M343.1 138.8h.1M341.5 142.1h.1M344.1 142.6h.1M349.2 139.5h.1M344.4 140.4h.1M346.5 146.4h.1M343.7 139.6h.1M342.6 141.3h.1M347.6 139.8h.1M340.0 145.2h.1M344.5 142.5h.1M343.2 138.5h.1M342.5 145.7h.1M343.4 144.6h.1M345.1 141.6h.1M343.1 141.7h.1M344.4 143.8h.1M340.7 139.1h.1M341.8 145.6h.1M339.6 142.2h.1M346.6 138.4h.1M342.9 143.9h.1M345.2 141.8h.1M344.4 143.0h.1M344.2 139.7h.1M342.2 140.1h.1M343.9 141.0h.1M346.6 140.3h.1M343.6 141.1h.1M341.9 146.7h.1M346.3 146.3h.1M345.5 138.7h.1M347.6 141.4h.1M344.0 143.2h.1M340.8 145.6h.1M342.9 144.1h.1M347.1 137.6h.1M343.1 137.8h.1M344.0 138.3h.1M338.7 144.2h.1M341.0 144.9h.1M342.2 143.2h.1M338.7 143.4h.1M344.5 142.4h.1M341.2 144.2h.1M344.0 140.9h.1M342.7 142.3h.1M341.7 142.7h.1M344.3 140.5h.1M343.0 140.2h.1M344.9 142.6h.1M342.1 142.4h.1M344.9 143.2h.1M338.8 145.3h.1M338.9 145.5h.1M342.7 143.8h.1M344.4 142.3h.1M346.3 138.1h.1M343.3 140.6h.1M344.0 145.8h.1M344.1 144.2h.1M340.1 144.0h.1M343.7 142.4h.1M345.1 143.6h.1M346.6 144.4h.1M344.5 141.9h.1M347.6 141.5h.1M344.3 140.4h.1M341.7 144.8h.1M342.1 138.3h.1M343.6 145.6h.1M343.1 140.6h.1M345.3 143.1h.1M347.6 139.3h.1M343.6 142.5h.1M344.5 143.2h.1M340.4 140.9h.1M344.9 140.2h.1M345.0 142.1h.1M339.7 140.4h.1M345.9 141.0h.1M347.3 137.7h.1M346.3 138.6h.1M347.0 139.5h.1M341.8 142.7h.1M341.6 141.1h.1M345.6 143.0h.1M341.5 146.4h.1M346.8 138.6h.1M343.2 146.7h.1M346.0 142.5h.1M342.1 145.3h.1M345.0 142.7h.1M344.4 139.9h.1M343.2 140.1h.1M341.9 143.9h.1M342.1 143.3h.1M346.3 140.9h.1M344.3 142.8h.1M343.1 141.4h.1M344.2 139.4h.1M339.7 147.9h.1M343.1 141.0h.1M345.9 139.5h.1M348.0 139.2h.1M344.2 140.2h.1M343.0 144.2h.1M347.5 141.6h.1M345.3 137.0h.1M342.0 143.2h.1M341.3 143.0h.1M344.0 142.9h.1M340.8 141.5h.1M339.6 146.2h.1M338.4 146.5h.1M342.4 145.7h.1M343.0 143.8h.1M342.4 139.8h.1M342.7 143.3h.1M343.8 141.7h.1M343.6 137.5h.1M346.6 134.2h.1M344.6 139.9h.1M339.3 142.4h.1M347.2 141.3h.1M343.6 142.2h.1M344.8 141.9h.1M342.9 138.5h.1M342.5 138.8h.1M342.1 145.5h.1M341.5 144.5h.1M342.6 140.6h.1M343.9 140.0h.1M346.4 137.1h.1M343.0 139.7h.1M340.2 141.0h.1M342.6 143.1h.1M343.9 144.8h.1M341.6 145.1h.1M341.5 145.1h.1M343.2 143.7h.1M342.7 141.2h.1M341.2 143.1h.1M342.2 141.2h.1M342.4 142.3h.1M342.8 142.4h.1M344.2 144.1h.1M344.4 141.8h.1M344.7 142.9h.1M338.9 147.7h.1M344.1 141.6h.1M343.7 141.9h.1M341.8 143.0h.1M344.2 142.0h.1M340.9 142.6h.1M342.2 140.8h.1M343.4 145.0h.1M342.7 139.3h.1M344.5 141.7h.1M342.2 146.1h.1M342.8 144.0h.1M346.4 141.8h.1M343.6 140.9h.1M342.0 140.6h.1M343.8 146.1h.1M341.8 143.2h.1M342.9 141.2h.1M343.0 140.8h.1M342.5 141.5h.1M341.6 143.5h.1M343.8 143.1h.1M341.4 142.3h.1M341.2 144.4h.1M340.6 143.8h.1M341.8 143.6h.1M341.5 145.7h.1M344.3 141.1h.1M343.8 139.8h.1M343.4 139.1h.1M344.9 145.7h.1M344.1 145.1h.1M346.2 143.2h.1M343.5 143.7h.1M343.9 143.5h.1M342.7 142.6h.1M341.4 146.0h.1M343.6 138.0h.1M342.1 145.9h.1M342.0 146.4h.1M345.9 141.1h.1M342.2 144.9h.1M344.9 139.6h.1M344.7 141.8h.1M345.3 142.2h.1M344.8 144.3h.1M341.0 145.1h.1M342.4 145.3h.1M345.0 142.9h.1M343.7 142.6h.1M341.1 144.5h.1M338.8 142.7h.1M339.8 142.5h.1M344.6 143.2h.1M344.8 141.6h.1M347.6 142.0h.1M345.6 144.9h.1M348.3 140.8h.1M343.3 139.6h.1M346.0 139.0h.1M344.2 145.5h.1M345.3 141.5h.1M345.9 140.2h.1M341.6 146.8h.1M342.9 138.6h.1M346.8 143.1h.1M345.5 140.5h.1M343.4 141.5h.1M344.6 139.1h.1M345.9 145.2h.1M342.4 143.1h.1M346.4 141.8h.1M345.4 141.1h.1M343.6 146.7h.1M344.3 138.7h.1M340.9 136.5h.1M343.7 138.9h.1M342.8 144.1h.1M347.9 141.1h.1M343.1 140.1h.1M343.2 138.9h.1M344.9 143.3h.1M341.5 142.2h.1M344.9 145.5h.1M344.3 144.8h.1M344.7 140.0h.1M344.2 145.2h.1M341.5 142.8h.1M342.0 140.0h.1M343.0 142.7h.1M339.6 146.2h.1M340.2 142.0h.1M342.2 142.4h.1M344.1 137.3h.1M342.5 139.2h.1M343.4 145.4h.1M338.7 142.4h.1M341.1 142.0h.1M343.6 141.5h.1M341.1 143.0h.1M343.7 140.8h.1M340.9 145.0h.1M345.3 142.4h.1M345.8 139.9h.1M339.8 148.3h.1M341.9 141.1h.1M343.1 141.1h.1M343.5 140.7h.1M343.7 142.0h.1M341.5 141.0h.1M347.3 143.9h.1M344.9 142.8h.1M342.2 141.0h.1M346.4 139.0h.1M344.1 139.2h.1M342.6 138.5h.1M341.3 142.7h.1M344.7 144.6h.1M345.4 140.0h.1M343.4 145.6h.1M344.3 139.4h.1M339.9 144.1h.1M347.1 137.6h.1M344.6 138.9h.1M342.8 143.5h.1M340.0 141.2h.1M340.1 146.5h.1M343.0 142.0h.1M344.5 138.9h.1M342.9 139.7h.1M342.0 142.0h.1M346.6 137.6h.1M344.2 140.8h.1M343.3 140.7h.1M342.1 142.2h.1M344.8 141.2h.1M348.3 136.9h.1M344.4 141.3h.1M340.2 145.3h.1M344.4 142.1h.1M347.9 138.9h.1M345.7 139.8h.1M343.3 143.7h.1M343.1 140.7h.1M341.8 145.9h.1M345.0 141.1h.1M339.4 142.2h.1M341.9 142.8h.1M343.8 144.3h.1M340.6 142.5h.1M346.5 138.7h.1M346.8 139.6h.1M342.0 142.1h.1M345.5 143.3h.1M346.1 138.4h.1M342.2 142.2h.1M341.7 142.4h.1M342.8 144.5h.1M346.5 139.1h.1M343.8 141.8h.1M341.7 140.9h.1M345.3 144.8h.1M340.8 143.3h.1M344.5 139.7h.1M340.3 142.5h.1M344.2 144.4h.1M339.2 144.7h.1M342.9 145.4h.1M342.2 143.0h.1M343.2 143.6h.1M344.5 147.9h.1M342.5 143.5h.1M342.6 142.0h.1M338.1 147.1h.1M345.2 141.4h.1M344.6 143.9h.1M340.3 144.4h.1M343.5 143.1h.1M342.6 140.1h.1M341.4 140.7h.1M343.8 142.3h.1M343.6 142.3h.1M345.4 141.4h.1M344.1 147.1h.1M342.5 143.4h.1M342.9 140.6h.1M341.9 141.0h.1M341.7 144.5h.1M340.3 140.9h.1M343.0 144.2h.1M343.4 142.1h.1M341.5 146.3h.1M341.5 146.2h.1M341.5 145.6h.1M344.1 143.1h.1M347.8 137.1h.1M344.5 139.7h.1M345.1 139.3h.1M344.8 143.1h.1M345.1 138.1h.1M345.1 142.1h.1M342.8 141.5h.1M344.9 139.6h.1M344.2 146.7h.1M341.4 148.0h.1M340.2 143.8h.1M346.4 139.6h.1M345.7 140.8h.1M344.3 142.1h.1M342.8 142.5h.1M342.3 141.9h.1M344.4 141.6h.1M339.6 142.4h.1M345.3 141.0h.1M342.5 144.7h.1M345.7 139.3h.1M342.6 142.7h.1M339.9 142.7h.1M339.6 140.5h.1M342.4 144.5h.1M343.4 142.6h.1M339.6 145.5h.1M342.7 143.3h.1M342.2 141.1h.1M345.4 142.3h.1M341.5 142.2h.1M348.3 141.6h.1M340.0 145.4h.1M342.1 142.0h.1M339.1 140.8h.1M344.6 143.1h.1M342.0 142.0h.1M344.6 138.4h.1M344.7 143.1h.1M341.5 144.0h.1M348.4 137.4h.1M345.0 143.2h.1M345.2 144.0h.1M345.0 140.4h.1M343.9 144.5h.1M345.9 144.7h.1M344.3 139.9h.1M343.9 146.5h.1M341.7 142.5h.1M344.5 139.8h.1M347.3 139.0h.1M345.5 143.9h.1M344.5 143.3h.1M347.0 141.1h.1M341.6 145.8h.1M342.8 144.1h.1M338.6 141.5h.1M343.1 148.8h.1M339.7 149.2h.1M341.9 142.5h.1M343.3 139.1h.1M342.5 139.3h.1M346.7 140.3h.1M337.9 147.5h.1M347.2 145.4h.1M345.8 139.4h.1M340.8 143.2h.1M340.3 144.4h.1M345.9 142.8h.1M344.6 143.0h.1M347.4 142.9h.1M344.4 142.9h.1M347.3 140.8h.1M344.1 140.3h.1M344.8 142.3h.1M341.9 142.4h.1M344.6 140.7h.1M342.8 144.0h.1M342.3 138.3h.1M343.5 138.4h.1M346.7 141.4h.1M339.4 143.6h.1M343.0 140.4h.1M342.0 140.0h.1M344.1 139.8h.1M343.5 147.4h.1M343.0 143.9h.1M346.7 144.8h.1M347.6 140.4h.1M343.4 144.2h.1M343.0 138.9h.1M343.5 141.8h.1M346.1 137.6h.1M342.8 140.7h.1M342.1 146.7h.1M341.4 141.7h.1M343.5 141.4h.1M346.7 140.3h.1M345.2 141.2h.1M343.3 143.0h.1M340.5 144.4h.1M341.4 140.6h.1M343.6 142.7h.1M345.8 139.4h.1M342.3 138.3h.1M336.6 142.1h.1M337.1 145.5h.1M342.5 142.9h.1M344.3 141.9h.1M340.9 143.6h.1M342.1 143.0h.1M346.4 140.3h.1M342.6 139.1h.1M337.0 143.5h.1M345.1 142.2h.1M344.8 142.6h.1M343.8 143.1h.1M346.1 142.1h.1M343.1 140.0h.1M349.4 138.0h.1M342.8 141.0h.1M341.7 143.4h.1M341.5 142.5h.1M346.7 142.0h.1M346.2 137.6h.1M343.9 140.5h.1M343.0 140.0h.1M343.3 141.2h.1M343.5 143.7h.1M341.9 140.8h.1M339.5 143.5h.1M342.6 139.1h.1M345.2 141.8h.1M342.9 141.2h.1M343.4 145.0h.1M343.2 142.9h.1M341.4 142.7h.1M345.9 142.9h.1M338.9 140.0h.1" stroke="#f04848" stroke-width="0.7" stroke-linecap="round" opacity="0.17" fill="none"/>
<path d="M343.8 131.7h.1M341.2 140.2h.1M342.5 139.9h.1M342.9 137.7h.1M344.1 138.6h.1M342.7 143.1h.1M344.5 138.7h.1M340.9 143.9h.1M344.1 140.9h.1M350.8 132.3h.1M344.6 138.5h.1M343.2 139.4h.1M347.8 131.9h.1M343.9 136.2h.1M345.2 135.3h.1M341.6 139.5h.1M346.4 133.6h.1M344.1 139.5h.1M345.1 134.1h.1M344.1 134.7h.1M348.6 131.5h.1M347.9 134.8h.1M342.1 137.0h.1M343.3 142.7h.1M343.2 138.9h.1M343.9 141.2h.1M347.1 131.8h.1M341.1 138.6h.1M337.0 145.8h.1M347.5 137.7h.1M348.6 136.0h.1M348.6 144.6h.1M344.8 134.7h.1M339.1 142.0h.1M344.5 136.9h.1M344.7 139.0h.1M343.6 136.1h.1M346.9 137.2h.1M342.0 140.2h.1M343.7 133.7h.1M341.3 139.0h.1M343.4 137.0h.1M348.1 132.8h.1M343.2 142.0h.1M346.2 138.5h.1M344.3 130.1h.1M344.7 131.9h.1M343.2 140.8h.1M343.4 140.6h.1M345.1 135.7h.1M344.4 141.3h.1M343.7 137.3h.1M340.9 143.1h.1M344.9 135.1h.1M341.2 144.5h.1M349.2 139.7h.1M346.2 135.4h.1M345.6 142.0h.1M344.4 145.8h.1M338.0 141.2h.1M341.6 146.2h.1M348.3 131.0h.1M341.2 146.1h.1M343.5 144.0h.1M342.3 135.4h.1M347.8 139.5h.1M345.7 133.5h.1M348.1 133.3h.1M343.1 135.2h.1M342.9 137.6h.1M343.3 140.3h.1M346.8 140.1h.1M345.0 133.6h.1M344.0 134.8h.1M344.6 135.0h.1M341.7 145.1h.1M341.9 140.6h.1M344.5 141.5h.1M343.0 140.1h.1M341.8 142.0h.1M346.3 135.5h.1M348.3 134.7h.1M348.5 130.9h.1M345.0 141.0h.1M346.4 139.5h.1M342.8 136.8h.1M344.8 138.3h.1M343.8 141.9h.1M347.0 135.3h.1M339.8 145.9h.1M344.1 140.3h.1M342.0 146.4h.1M345.3 135.3h.1M341.5 143.6h.1M343.8 143.5h.1M346.4 139.1h.1M340.2 141.2h.1M345.5 137.3h.1M341.6 138.6h.1M347.3 129.7h.1M342.3 143.1h.1M343.3 141.6h.1M342.8 134.4h.1M345.9 138.2h.1M346.1 136.6h.1M345.4 140.0h.1M346.7 134.4h.1M346.9 137.5h.1M346.9 132.6h.1M344.1 144.7h.1M344.1 136.6h.1M343.5 138.7h.1M344.9 136.3h.1M343.7 142.4h.1M343.9 133.7h.1M338.4 141.7h.1M346.5 134.6h.1M347.0 136.5h.1M339.8 144.8h.1M345.7 136.7h.1M340.5 145.8h.1M344.5 135.2h.1M343.8 145.7h.1M343.1 137.7h.1M345.9 140.1h.1M343.5 145.7h.1M341.6 145.9h.1M342.9 134.8h.1M344.7 140.6h.1M345.9 133.3h.1M346.1 139.1h.1M348.9 126.4h.1M344.3 137.1h.1M346.0 129.9h.1M344.9 136.5h.1M344.7 137.7h.1M348.9 137.5h.1M342.5 140.9h.1M341.9 140.0h.1M347.5 131.2h.1M343.9 138.7h.1M341.3 142.2h.1M344.0 135.2h.1M344.5 142.2h.1M344.9 137.8h.1M346.1 133.1h.1M346.7 132.6h.1M349.9 131.5h.1M350.4 135.0h.1M345.3 135.1h.1M344.4 135.2h.1M342.2 135.3h.1M343.8 137.8h.1M350.6 129.5h.1M343.7 137.9h.1M348.1 131.3h.1M345.6 139.0h.1M349.6 134.3h.1M342.2 151.1h.1M346.2 137.9h.1M344.1 140.8h.1M347.6 131.5h.1M347.6 131.8h.1M343.0 140.3h.1M341.1 136.6h.1M346.6 134.2h.1M342.8 135.5h.1M346.2 138.2h.1M347.9 134.5h.1M343.0 143.6h.1M351.1 132.9h.1M342.6 134.6h.1M338.5 149.3h.1M341.6 140.9h.1M341.5 136.6h.1M348.4 128.2h.1M341.8 136.4h.1M345.9 145.9h.1M345.2 131.1h.1M345.0 135.9h.1M345.7 138.2h.1M344.9 132.5h.1M343.9 139.3h.1M345.8 138.8h.1M350.2 135.3h.1M342.5 134.4h.1M351.3 136.0h.1M343.9 139.1h.1M345.3 129.5h.1M340.8 142.9h.1M343.2 143.8h.1M346.3 135.8h.1M345.3 139.4h.1M344.7 136.6h.1M345.0 137.5h.1M346.8 139.4h.1M345.3 143.2h.1M343.4 135.4h.1M349.7 133.4h.1M345.2 142.0h.1M344.4 127.9h.1M349.4 132.0h.1M345.5 142.2h.1M348.2 135.2h.1M341.3 141.4h.1M345.9 138.7h.1M342.9 142.1h.1M347.9 141.8h.1M342.3 145.7h.1M344.5 138.2h.1M342.7 141.8h.1M340.5 139.9h.1M340.1 145.1h.1M350.1 140.0h.1M351.5 131.3h.1M345.7 139.9h.1M345.1 138.5h.1M342.5 142.2h.1M342.8 139.0h.1M346.2 142.5h.1M345.8 145.9h.1M341.7 140.5h.1M345.6 140.6h.1M349.7 138.4h.1M345.9 139.8h.1M346.2 136.9h.1M349.6 133.5h.1M348.8 134.9h.1M342.2 138.5h.1M343.4 145.8h.1M344.0 138.2h.1M344.6 137.2h.1M347.5 134.0h.1M340.9 135.1h.1M352.8 127.6h.1M339.6 136.7h.1M347.9 135.9h.1M343.5 141.6h.1M342.3 141.5h.1M342.3 137.9h.1M344.0 136.3h.1M346.8 135.2h.1M339.3 150.8h.1M344.9 132.1h.1M345.0 130.3h.1M348.5 132.7h.1M344.3 133.2h.1M343.6 137.7h.1M345.5 135.3h.1M349.3 133.5h.1M345.2 142.8h.1M345.4 134.7h.1M350.8 138.1h.1M345.4 138.7h.1M347.6 130.1h.1M346.4 142.0h.1M339.9 140.3h.1M341.7 136.5h.1M345.5 141.2h.1M347.6 132.4h.1M341.7 144.6h.1M343.2 143.6h.1M346.3 136.9h.1M345.4 134.3h.1M339.4 141.1h.1M347.2 132.5h.1M340.8 145.5h.1M346.6 133.5h.1M344.3 142.0h.1M342.7 139.2h.1M349.2 131.0h.1M346.4 138.9h.1M342.3 139.9h.1M348.6 138.5h.1M349.4 130.6h.1M345.6 137.9h.1M343.5 141.1h.1M347.9 138.3h.1M344.0 143.7h.1M343.6 140.8h.1M342.5 139.6h.1M346.2 135.3h.1M344.1 140.0h.1M347.2 136.6h.1M347.0 133.2h.1M352.8 133.9h.1M340.2 144.1h.1M342.9 137.2h.1M342.5 142.5h.1M347.7 136.1h.1M342.8 135.7h.1M345.9 138.5h.1M341.3 138.8h.1M343.3 142.0h.1M342.7 145.4h.1M347.0 134.2h.1M345.5 139.3h.1M345.1 137.9h.1M344.5 136.2h.1M346.7 134.9h.1M349.2 130.7h.1M344.4 138.6h.1M345.3 134.9h.1M341.5 144.5h.1M343.0 139.0h.1M342.3 140.2h.1M343.0 140.2h.1M345.7 132.6h.1M344.9 137.4h.1M342.8 136.6h.1M344.1 137.2h.1M342.8 138.1h.1M344.6 138.9h.1M346.0 141.7h.1M344.4 140.4h.1M343.8 139.6h.1M343.7 138.3h.1M341.1 145.5h.1M342.2 136.3h.1M346.9 139.2h.1M348.7 137.8h.1M342.8 142.5h.1M344.1 142.2h.1M346.2 134.7h.1M342.1 140.2h.1M340.8 133.6h.1M345.7 141.8h.1M344.2 143.7h.1M341.9 143.8h.1M346.1 141.6h.1M345.1 140.5h.1M340.0 141.7h.1M347.6 132.3h.1M344.8 137.8h.1M341.0 140.5h.1M350.6 133.4h.1M346.1 134.5h.1M343.3 141.0h.1M342.2 141.8h.1M346.1 139.5h.1M346.9 135.4h.1M342.1 143.6h.1M345.6 132.7h.1M345.2 140.1h.1M345.2 134.0h.1M348.2 140.3h.1M344.9 135.6h.1M344.6 134.7h.1M348.8 133.5h.1M343.8 141.0h.1M348.4 130.3h.1M341.7 142.7h.1M343.2 135.6h.1M345.7 135.0h.1M345.2 138.0h.1M346.8 134.5h.1M341.1 144.1h.1M343.3 137.4h.1M346.2 133.7h.1M345.7 138.3h.1M343.2 142.6h.1M346.4 137.9h.1M346.6 137.8h.1M343.6 142.2h.1M348.3 133.1h.1M342.3 139.3h.1M344.8 143.0h.1M344.8 137.4h.1M345.5 141.5h.1M343.0 137.9h.1M344.6 136.7h.1M341.7 138.4h.1M344.9 135.0h.1M347.1 137.5h.1M347.0 133.0h.1M343.9 142.4h.1M345.8 138.0h.1M347.0 137.7h.1M345.8 137.0h.1M340.5 146.1h.1M342.3 141.9h.1M341.0 134.4h.1M346.1 135.7h.1M344.6 137.6h.1M345.2 137.2h.1M347.6 133.2h.1M344.6 139.5h.1M343.1 140.8h.1M348.0 132.0h.1M344.6 134.8h.1M343.7 138.1h.1M344.9 141.4h.1M347.9 131.4h.1M343.7 138.7h.1M343.6 141.3h.1M347.6 132.9h.1M342.0 143.8h.1M343.4 137.9h.1M345.6 135.2h.1M345.1 139.4h.1M343.8 139.9h.1M343.4 135.0h.1M344.0 143.5h.1M343.2 138.1h.1M346.6 135.2h.1M336.2 139.0h.1M346.3 131.8h.1M344.2 138.6h.1M344.8 138.2h.1M346.4 141.0h.1M346.7 135.9h.1M340.3 138.0h.1M344.6 136.6h.1M347.7 133.0h.1M347.2 132.8h.1M341.7 143.8h.1M349.0 133.2h.1M343.6 139.7h.1M344.4 136.2h.1M347.5 138.6h.1M345.7 136.9h.1M348.3 142.5h.1M348.8 136.9h.1M345.3 133.1h.1M341.5 139.1h.1M341.5 136.3h.1M348.5 135.7h.1M347.0 133.6h.1M346.0 136.8h.1M343.4 135.9h.1M345.1 135.6h.1M343.9 139.1h.1M344.3 136.0h.1M345.0 139.3h.1M342.4 138.4h.1M340.7 147.5h.1M339.3 144.1h.1M345.1 136.2h.1M345.8 134.7h.1M347.5 137.0h.1M347.6 138.7h.1M346.8 140.4h.1M345.0 135.2h.1M347.6 141.2h.1M342.4 136.7h.1M348.2 132.2h.1M344.3 144.5h.1M343.0 139.9h.1M346.4 139.9h.1M340.9 145.5h.1M342.9 142.8h.1M344.7 132.6h.1M344.2 135.1h.1M342.8 137.6h.1M348.0 133.1h.1M340.6 140.8h.1M348.5 130.3h.1M344.4 138.0h.1M342.8 139.9h.1M346.3 133.3h.1M348.0 136.9h.1M344.0 136.5h.1M347.2 139.7h.1M340.4 144.7h.1M340.8 146.2h.1M344.6 137.8h.1M348.4 135.0h.1M341.4 140.2h.1M345.1 137.7h.1M340.2 143.4h.1M343.0 144.5h.1M345.8 138.7h.1M345.9 135.1h.1M344.4 134.1h.1M349.3 134.2h.1M344.1 141.6h.1M345.2 139.0h.1M346.7 135.0h.1M343.5 142.4h.1M342.2 138.3h.1M343.5 137.4h.1M344.6 138.0h.1M344.9 133.8h.1M343.7 135.4h.1M344.9 140.2h.1M341.4 147.8h.1M345.0 134.2h.1M343.0 132.2h.1M349.7 137.9h.1M346.4 137.1h.1M344.2 135.5h.1M348.4 133.8h.1M342.2 139.3h.1M344.1 138.0h.1M344.9 143.0h.1M345.0 139.2h.1M342.4 140.9h.1M344.6 142.0h.1M339.8 145.4h.1M343.9 138.1h.1M347.1 134.2h.1M338.1 149.6h.1M347.7 133.2h.1M344.2 138.0h.1M345.0 141.6h.1M342.8 135.6h.1M344.6 139.2h.1M342.5 137.4h.1M343.7 130.6h.1M342.3 136.0h.1M345.4 136.6h.1M343.8 139.0h.1M344.4 138.8h.1M342.3 141.4h.1M345.8 139.2h.1M346.2 142.7h.1M346.3 133.2h.1M344.1 138.9h.1M343.4 133.8h.1M344.0 131.4h.1M348.9 135.1h.1M344.9 141.5h.1M346.5 130.8h.1M338.9 144.6h.1M347.2 132.3h.1M339.6 148.1h.1M346.0 143.2h.1M340.5 136.4h.1M344.4 141.5h.1M339.5 146.0h.1M341.1 143.7h.1M346.6 137.8h.1M339.8 144.2h.1M343.3 134.3h.1M346.9 133.5h.1M347.0 132.6h.1M344.0 136.5h.1M342.8 137.4h.1M342.3 138.9h.1M351.5 127.9h.1M348.5 134.1h.1M346.8 136.0h.1M349.9 139.0h.1M349.0 134.8h.1M341.2 145.9h.1M347.4 135.2h.1M344.9 141.1h.1M338.6 146.6h.1M346.2 133.4h.1M341.7 140.4h.1M345.7 136.5h.1M343.9 141.4h.1M345.3 140.4h.1M347.3 131.5h.1M348.3 138.3h.1M346.9 137.2h.1M340.5 143.8h.1M344.9 133.8h.1M343.5 140.7h.1M347.5 137.2h.1M341.6 141.7h.1M346.6 137.2h.1M345.9 136.0h.1M343.4 144.7h.1M342.1 135.3h.1M340.3 140.4h.1M348.5 133.8h.1M347.3 137.6h.1M344.8 137.9h.1M349.4 125.4h.1M344.1 133.7h.1M344.0 139.6h.1M348.4 135.6h.1M344.7 136.7h.1M346.8 132.5h.1M345.4 143.4h.1M348.9 130.5h.1M344.1 140.3h.1M345.6 140.4h.1M342.8 140.8h.1M342.2 138.4h.1M346.6 129.6h.1M346.5 138.1h.1M343.5 142.8h.1M343.1 138.1h.1M345.7 137.3h.1M347.1 134.5h.1M340.2 137.5h.1M349.4 139.4h.1M351.5 126.9h.1M345.8 139.3h.1M344.9 137.6h.1M339.4 141.4h.1M346.7 134.4h.1M344.2 140.1h.1M347.9 130.5h.1M347.5 133.5h.1M345.5 134.5h.1M339.3 137.9h.1M345.1 140.0h.1M344.2 139.7h.1M344.9 137.8h.1M347.6 141.2h.1M342.5 139.7h.1M344.9 137.7h.1M347.9 139.8h.1M344.4 139.8h.1M346.1 134.3h.1M348.2 134.6h.1M341.7 139.4h.1M349.8 130.0h.1M347.9 137.8h.1M345.6 132.5h.1M348.5 130.6h.1M341.6 143.6h.1M348.4 137.4h.1M348.8 135.5h.1M348.7 134.1h.1M346.4 135.0h.1M346.8 134.1h.1M339.3 142.9h.1M340.1 140.6h.1M345.5 135.6h.1M340.8 146.3h.1M340.3 138.6h.1M344.2 138.7h.1M343.6 135.7h.1M347.2 134.8h.1M345.3 137.2h.1M343.5 141.6h.1M344.0 142.4h.1M344.8 136.1h.1M347.2 136.4h.1M345.6 136.6h.1M344.2 137.1h.1M341.2 135.8h.1M345.2 145.2h.1M344.5 138.1h.1M345.0 134.4h.1M343.0 142.8h.1M344.0 135.6h.1M345.1 134.8h.1M348.4 128.3h.1M345.2 138.6h.1M344.5 139.2h.1M342.7 143.0h.1M344.2 143.2h.1M341.2 144.4h.1M343.0 146.1h.1M347.6 136.0h.1M347.0 139.2h.1M343.3 135.9h.1M342.5 144.9h.1M342.2 146.9h.1M339.8 144.5h.1M348.5 131.9h.1M346.3 133.2h.1M342.3 143.5h.1M344.2 137.3h.1M344.6 137.2h.1M346.4 143.8h.1M340.9 139.4h.1M344.8 133.4h.1M348.5 136.4h.1M344.9 133.7h.1M345.7 136.9h.1M344.7 137.4h.1M343.4 134.9h.1M342.6 137.8h.1M346.3 130.4h.1M341.7 135.4h.1M343.8 134.9h.1M345.5 138.8h.1M345.5 141.7h.1M343.1 137.5h.1M347.0 140.7h.1M343.7 141.5h.1M346.9 135.0h.1M349.8 130.6h.1M342.9 135.7h.1M343.9 138.1h.1M343.7 141.0h.1M340.3 143.1h.1M346.6 135.9h.1M343.7 134.7h.1M339.6 139.4h.1M345.1 137.7h.1M343.3 141.5h.1M345.5 131.3h.1M348.3 139.1h.1M347.7 137.2h.1M349.8 132.0h.1M343.1 148.2h.1M345.5 136.3h.1M344.7 136.6h.1M344.2 139.1h.1M344.8 137.9h.1M345.6 132.2h.1M341.6 139.6h.1M341.3 139.5h.1" stroke="#e82828" stroke-width="0.7" stroke-linecap="round" opacity="0.22" fill="none"/>
<path d="M337.8 138.4h.1M341.2 138.6h.1M337.7 130.7h.1M337.8 135.8h.1M339.3 131.9h.1M337.9 140.0h.1M339.1 138.3h.1M336.8 140.5h.1M334.7 136.9h.1M339.7 136.2h.1M340.3 140.6h.1M341.6 129.5h.1M337.1 144.6h.1M338.6 133.8h.1M339.7 143.4h.1M340.2 137.0h.1M338.6 141.6h.1M337.5 137.3h.1M337.3 137.2h.1M337.7 141.5h.1M335.8 142.9h.1M338.0 141.2h.1M338.9 137.9h.1M343.9 135.6h.1M342.6 131.5h.1M338.8 146.2h.1M338.9 135.9h.1M338.4 140.1h.1M340.9 138.6h.1M339.4 136.7h.1M340.3 134.7h.1M339.0 136.1h.1M340.0 138.5h.1M342.3 131.6h.1M337.4 136.3h.1M339.5 138.2h.1M338.9 132.6h.1M339.1 143.5h.1M338.3 142.3h.1M341.5 131.9h.1M340.5 139.4h.1M335.7 145.6h.1M342.3 135.2h.1M340.2 132.7h.1M341.7 142.5h.1M336.3 143.5h.1M339.0 138.3h.1M337.7 136.0h.1M335.1 139.8h.1M339.1 142.5h.1M339.8 135.8h.1M341.9 136.4h.1M337.9 145.3h.1M337.6 143.0h.1M338.7 139.5h.1M337.0 140.5h.1M338.6 137.0h.1M338.2 135.4h.1M342.6 130.4h.1M339.3 136.5h.1M342.0 134.6h.1M337.5 145.0h.1M342.8 142.5h.1M340.6 133.6h.1M337.2 144.5h.1M341.6 132.5h.1M340.5 136.0h.1M342.1 138.4h.1M340.1 139.0h.1M338.7 143.5h.1M337.4 142.8h.1M337.7 140.3h.1M339.3 140.3h.1M340.9 132.9h.1M337.3 142.5h.1M339.8 141.3h.1M335.3 145.3h.1M336.0 136.5h.1M338.5 138.0h.1M341.3 133.6h.1M341.2 129.7h.1M337.9 135.3h.1M336.0 141.3h.1M341.6 137.8h.1M339.0 136.8h.1M340.3 138.8h.1M338.5 143.1h.1M339.1 136.6h.1M336.8 143.2h.1M339.5 138.7h.1M340.2 139.9h.1M336.2 149.6h.1M341.6 136.0h.1M339.0 128.1h.1M341.2 140.5h.1M337.4 140.6h.1M340.1 134.1h.1M337.5 143.9h.1M340.9 138.6h.1M340.3 137.4h.1M339.0 140.8h.1M339.9 138.8h.1M338.5 142.0h.1M338.2 140.7h.1M340.7 135.5h.1M337.3 141.8h.1M337.3 140.4h.1M339.2 141.5h.1M338.6 135.6h.1M338.6 139.8h.1M339.0 142.2h.1M338.8 136.5h.1M334.8 146.4h.1M337.3 146.6h.1M342.5 137.8h.1M340.2 129.7h.1M336.9 139.9h.1M341.4 137.2h.1M337.6 144.3h.1M338.6 137.4h.1M343.3 138.5h.1M338.6 135.3h.1M337.1 141.1h.1M340.3 129.4h.1M335.5 141.7h.1M342.8 132.1h.1M336.3 142.4h.1M336.5 133.7h.1M344.5 133.4h.1M342.5 128.9h.1M337.9 138.4h.1M338.3 145.7h.1M343.2 135.4h.1M337.8 141.1h.1M337.6 142.8h.1M339.7 141.1h.1M337.7 142.0h.1M338.7 134.4h.1M337.8 136.9h.1M339.4 135.0h.1M342.3 135.0h.1M339.2 140.0h.1M343.8 136.2h.1M342.5 133.4h.1M341.3 130.0h.1M338.5 137.2h.1M338.9 139.3h.1M338.1 142.2h.1M341.9 140.8h.1M341.3 138.7h.1M341.4 137.6h.1M338.5 144.3h.1M339.7 140.2h.1M335.4 138.0h.1M336.9 140.3h.1M340.2 141.3h.1M340.8 137.0h.1M338.9 142.7h.1M340.8 136.4h.1M338.8 143.1h.1M342.9 138.2h.1M335.9 142.5h.1M339.6 132.7h.1M339.1 134.6h.1M340.8 132.3h.1M337.4 141.6h.1M338.2 144.1h.1M340.8 144.9h.1M338.8 139.1h.1M340.6 133.5h.1M342.3 135.7h.1M343.8 136.3h.1M335.9 143.0h.1M342.3 133.9h.1M340.5 135.1h.1M339.7 140.9h.1M333.3 148.5h.1M340.7 142.3h.1M337.4 138.3h.1M345.4 132.5h.1M338.0 136.8h.1M340.0 138.7h.1M345.0 132.3h.1M341.1 131.3h.1M339.9 136.5h.1M342.7 136.2h.1M340.3 132.5h.1M338.4 141.3h.1M339.0 136.2h.1M341.0 140.7h.1M339.3 142.8h.1M341.5 136.4h.1M340.5 133.3h.1M342.5 130.2h.1M341.9 135.2h.1M338.5 132.5h.1M339.9 139.2h.1M335.6 144.2h.1M337.1 140.5h.1M341.0 136.7h.1M341.6 141.6h.1M341.4 129.6h.1M339.7 132.5h.1M337.1 138.5h.1M340.8 130.3h.1M339.4 135.1h.1M342.4 131.2h.1M340.3 139.3h.1M335.0 133.2h.1M337.1 138.6h.1M341.5 138.7h.1M340.2 132.9h.1M340.9 129.5h.1M342.4 138.4h.1M340.1 136.9h.1M337.2 141.7h.1M336.3 138.3h.1M337.2 135.2h.1M338.3 143.8h.1M339.3 140.2h.1M338.6 143.2h.1M339.2 137.1h.1M339.0 133.8h.1M341.4 137.1h.1M339.2 139.4h.1M339.0 142.8h.1M338.5 145.6h.1M340.1 138.3h.1M338.2 130.5h.1M336.1 138.4h.1M336.8 137.7h.1M341.5 140.8h.1M337.3 142.9h.1M336.7 132.3h.1M339.5 134.8h.1M338.6 144.9h.1M336.7 143.3h.1M341.4 132.3h.1M338.8 142.2h.1M338.8 138.2h.1M337.2 142.4h.1M340.0 136.8h.1M338.3 141.6h.1M340.2 141.2h.1M337.9 143.0h.1M340.5 129.4h.1M342.4 126.6h.1M339.8 137.2h.1M342.5 135.8h.1M338.1 135.0h.1M341.2 138.6h.1M338.0 138.2h.1M339.4 139.8h.1M338.9 134.2h.1M336.0 143.0h.1M338.7 141.9h.1M345.2 136.4h.1M340.9 145.2h.1M342.9 131.4h.1M340.5 139.7h.1M339.0 137.1h.1M337.7 131.3h.1M338.1 138.0h.1M339.7 137.6h.1M336.3 140.0h.1M340.2 135.9h.1M338.7 134.6h.1M337.5 141.8h.1M343.3 136.1h.1M338.9 133.3h.1M337.0 135.2h.1M338.9 141.6h.1M339.2 133.6h.1M340.1 131.8h.1M339.1 140.4h.1M337.6 146.3h.1M336.7 140.7h.1M340.3 138.3h.1M341.8 132.6h.1M339.4 132.4h.1M338.6 134.6h.1M335.9 140.2h.1M341.2 135.0h.1M341.5 138.7h.1M336.2 142.1h.1M339.5 146.7h.1M341.2 133.8h.1M337.6 145.4h.1M338.0 131.7h.1M342.1 128.1h.1M341.3 138.5h.1M338.2 141.8h.1M336.3 140.3h.1M341.4 141.9h.1M341.9 137.0h.1M338.8 133.1h.1M338.1 141.4h.1M340.5 140.0h.1M338.8 141.0h.1M340.6 133.0h.1M342.4 134.3h.1M339.1 142.1h.1M336.5 138.7h.1M338.9 137.2h.1M335.1 145.5h.1M338.6 140.5h.1M340.4 137.7h.1M337.0 144.1h.1M341.0 137.6h.1M338.7 137.7h.1M339.0 140.7h.1M341.1 133.6h.1M338.5 142.4h.1M341.4 136.6h.1M336.7 138.6h.1M343.1 133.9h.1M337.9 141.4h.1M342.1 136.0h.1M338.5 134.9h.1M341.1 133.1h.1M341.0 130.8h.1M336.5 144.6h.1M338.6 138.2h.1M337.6 142.8h.1M339.9 133.6h.1M340.4 131.9h.1M339.6 139.6h.1M340.0 137.1h.1M341.3 132.4h.1M340.7 137.5h.1M340.0 138.9h.1M335.0 144.8h.1M340.7 141.9h.1M337.7 132.8h.1M338.3 144.8h.1M338.6 136.5h.1M339.5 137.1h.1M339.5 138.2h.1M339.3 134.3h.1M335.5 140.6h.1M341.2 132.0h.1M338.7 140.0h.1M341.4 133.8h.1M335.2 139.7h.1M337.7 136.4h.1M337.0 139.0h.1M341.3 130.6h.1M341.0 143.6h.1M337.7 140.7h.1M344.0 132.4h.1M341.3 134.8h.1M337.6 137.8h.1M339.9 139.5h.1M338.7 144.1h.1M342.4 140.3h.1M338.5 136.2h.1M340.1 132.5h.1M341.2 134.1h.1M340.5 131.4h.1M342.4 137.1h.1M339.9 141.7h.1M338.5 139.5h.1M339.8 130.8h.1M339.4 137.6h.1M343.1 132.4h.1M338.0 145.4h.1M336.8 139.7h.1M339.2 141.9h.1M339.2 136.8h.1M337.5 141.4h.1M338.5 144.2h.1M339.1 138.4h.1M339.3 149.1h.1M339.4 141.0h.1M339.7 136.2h.1M336.7 142.9h.1M337.1 137.7h.1M338.9 142.2h.1M338.0 139.4h.1M339.8 137.1h.1M341.1 136.4h.1M341.1 136.5h.1M338.4 141.5h.1M341.2 131.3h.1M340.9 137.0h.1M333.9 139.7h.1M341.0 132.1h.1M337.7 139.5h.1M342.2 129.4h.1M335.8 133.0h.1M342.8 139.6h.1M339.2 140.4h.1M337.9 141.7h.1M336.3 141.0h.1M339.0 139.3h.1M342.6 132.4h.1M336.9 136.5h.1M338.1 138.1h.1M340.2 136.2h.1M339.3 139.6h.1M338.1 143.8h.1M337.1 144.6h.1M343.9 132.4h.1M338.7 139.2h.1M342.3 131.1h.1M340.9 129.2h.1M339.1 136.6h.1M342.0 135.0h.1M336.6 139.0h.1M337.9 138.2h.1M340.9 138.0h.1M341.0 138.5h.1M342.4 131.5h.1M338.6 138.3h.1M338.4 133.3h.1M340.9 137.9h.1M341.4 135.5h.1M340.8 129.4h.1M337.4 145.0h.1M340.9 132.7h.1M338.7 140.9h.1M340.1 137.2h.1M336.0 138.7h.1M337.1 139.7h.1M338.1 144.3h.1M333.8 149.5h.1M339.0 127.4h.1M339.7 133.8h.1M338.5 138.9h.1M337.7 146.7h.1M340.0 134.9h.1M341.0 130.7h.1M337.8 135.4h.1M338.6 146.2h.1M341.3 141.1h.1M340.5 137.0h.1M338.6 138.1h.1M344.0 133.9h.1M338.4 142.5h.1M339.8 141.3h.1M337.9 149.9h.1M340.6 132.8h.1M338.3 134.5h.1M340.9 140.6h.1M336.6 146.1h.1M340.7 134.1h.1M336.4 144.2h.1M337.6 143.9h.1M337.8 147.2h.1M336.0 144.1h.1M337.4 142.2h.1M339.5 143.5h.1M344.0 133.9h.1M341.4 135.1h.1M339.1 137.6h.1M337.3 140.3h.1M340.2 138.5h.1M338.2 144.4h.1M342.8 137.1h.1M338.8 142.6h.1M338.4 140.4h.1M340.7 136.8h.1M338.3 142.2h.1M339.0 145.0h.1M342.1 133.8h.1M336.6 145.9h.1M340.1 144.7h.1M337.7 143.5h.1M336.4 140.9h.1M340.0 139.0h.1M335.8 153.2h.1M340.0 140.8h.1M343.3 132.2h.1M341.8 132.9h.1M342.5 134.6h.1M339.6 138.6h.1M340.5 137.4h.1M340.4 141.2h.1M337.0 145.9h.1M338.2 136.0h.1M339.5 132.8h.1M340.2 136.9h.1M339.3 138.3h.1M342.2 134.6h.1M340.2 136.8h.1M339.8 132.6h.1M337.5 139.8h.1M334.8 145.9h.1M342.4 136.6h.1M338.0 133.3h.1M337.7 141.6h.1M337.2 136.3h.1M340.3 134.8h.1M333.7 150.3h.1M342.7 126.7h.1M342.1 135.0h.1M338.6 138.9h.1M338.6 143.8h.1M337.3 145.5h.1M343.0 122.3h.1M337.7 139.3h.1M339.2 134.6h.1M336.9 140.8h.1M341.4 140.4h.1M338.4 134.5h.1M339.4 142.9h.1M339.1 138.5h.1M339.7 139.3h.1M341.9 136.4h.1M339.1 133.7h.1M340.8 139.5h.1M342.1 131.9h.1M336.4 139.7h.1M342.5 141.0h.1M342.2 138.5h.1M337.5 138.9h.1M341.1 134.7h.1M334.3 151.1h.1M337.0 146.4h.1M337.2 148.6h.1M340.1 131.2h.1M341.6 134.6h.1M339.3 141.7h.1M339.5 136.2h.1M338.8 146.9h.1M341.3 140.3h.1M344.0 132.0h.1M338.7 134.7h.1M339.1 127.2h.1M336.8 139.9h.1M341.9 133.0h.1M340.3 137.9h.1M341.4 137.1h.1M339.7 136.9h.1M338.7 134.0h.1M341.3 131.9h.1M339.5 137.8h.1M345.1 137.8h.1M338.7 138.4h.1M341.7 137.3h.1M338.7 142.0h.1M340.1 133.2h.1M340.1 134.7h.1M338.6 136.2h.1M336.8 137.4h.1M342.2 142.3h.1M340.6 143.2h.1M335.2 142.5h.1M337.5 141.6h.1M341.8 134.1h.1M340.4 136.2h.1M337.4 144.8h.1M336.3 142.1h.1M341.7 131.9h.1M341.6 130.2h.1M342.7 134.7h.1M339.8 127.4h.1M337.7 141.0h.1M340.7 136.2h.1M340.7 141.6h.1M342.4 127.6h.1M338.5 135.5h.1M336.2 134.9h.1M336.7 135.3h.1M339.0 141.3h.1M340.0 138.4h.1M337.9 149.1h.1M338.0 139.8h.1M339.2 143.0h.1M339.5 133.9h.1M340.6 131.4h.1M339.0 136.4h.1M339.6 143.1h.1M336.0 142.5h.1M340.7 134.5h.1M341.0 139.7h.1M339.1 139.1h.1M337.6 142.8h.1M339.6 136.6h.1M338.1 136.4h.1M338.5 133.5h.1M334.4 141.1h.1M339.5 138.0h.1M335.5 143.9h.1M343.9 137.9h.1M336.3 136.9h.1M338.9 139.5h.1M338.5 133.0h.1M338.0 143.9h.1M340.6 130.2h.1M338.9 135.6h.1M341.1 135.3h.1M340.7 136.7h.1M343.1 142.4h.1M337.7 140.1h.1M340.9 133.3h.1M339.7 137.9h.1M337.8 135.7h.1M338.3 139.2h.1M340.1 133.7h.1" stroke="#000" stroke-width="0.6" stroke-linecap="round" opacity="0.18" fill="none"/>
<path d="M333.8 150.3h.1M338.9 145.7h.1M339.1 147.5h.1M341.3 144.1h.1M336.5 146.7h.1M335.8 149.0h.1M337.4 146.3h.1M343.1 141.9h.1M337.4 148.7h.1M342.0 143.4h.1M339.1 147.1h.1M335.4 151.8h.1M340.1 144.7h.1M340.8 138.6h.1M340.3 145.5h.1M337.1 149.3h.1M338.7 147.0h.1M336.8 148.3h.1M342.5 137.7h.1M340.1 144.9h.1M335.9 153.4h.1M340.2 144.0h.1M338.7 144.5h.1M337.6 149.4h.1M336.4 147.1h.1M339.2 146.8h.1M341.9 141.7h.1M337.9 147.7h.1M335.2 146.9h.1M339.2 142.9h.1M336.9 147.5h.1M337.5 149.4h.1M339.2 147.0h.1M340.4 144.1h.1M337.1 144.6h.1M336.5 146.2h.1M340.7 142.0h.1M341.4 142.6h.1M337.3 151.4h.1M336.8 149.4h.1M336.3 148.2h.1M337.4 146.2h.1M338.3 145.3h.1M338.9 146.6h.1M338.0 145.5h.1M339.3 144.8h.1M335.3 149.0h.1M334.4 151.8h.1M338.1 144.7h.1M340.2 142.4h.1M339.1 145.7h.1M336.5 146.4h.1M340.3 145.1h.1M337.2 146.4h.1M336.6 149.8h.1M338.1 147.2h.1M339.4 143.7h.1M339.4 145.4h.1M340.5 144.7h.1M338.4 147.9h.1M340.4 145.1h.1M340.8 142.0h.1M337.5 146.7h.1M337.6 147.3h.1M341.9 143.5h.1M338.4 145.6h.1M335.5 148.6h.1M338.7 147.8h.1M341.5 142.9h.1M338.1 144.4h.1M341.7 141.0h.1M338.4 143.6h.1M339.1 145.4h.1M341.5 143.9h.1M337.4 147.6h.1M340.2 143.1h.1M338.0 146.0h.1M338.8 147.1h.1M339.5 145.1h.1M335.7 146.0h.1M337.0 149.3h.1M335.4 147.4h.1M340.3 145.2h.1M338.7 145.0h.1M338.2 145.5h.1M338.8 143.4h.1M336.9 148.3h.1M338.3 147.4h.1M341.0 141.4h.1M338.2 149.4h.1M342.9 143.9h.1M339.4 147.5h.1M337.8 143.5h.1M338.0 144.8h.1M336.2 145.5h.1M338.1 145.3h.1M341.4 144.2h.1M338.2 148.4h.1M336.5 148.3h.1M340.6 144.1h.1M338.6 147.5h.1M339.1 147.0h.1M338.8 146.8h.1M339.5 148.2h.1M334.9 150.5h.1M338.9 146.6h.1M336.4 146.4h.1M334.5 148.6h.1M337.5 147.5h.1M337.8 144.6h.1M340.3 140.6h.1M337.3 147.2h.1M340.8 142.4h.1M336.4 146.4h.1M338.6 144.2h.1M338.1 146.7h.1M340.1 144.2h.1M338.6 145.5h.1M336.9 146.4h.1M335.1 149.6h.1M340.6 143.6h.1M336.0 150.0h.1M337.2 147.4h.1M341.8 141.3h.1M338.9 145.3h.1M339.5 146.2h.1M339.4 146.0h.1M338.5 145.0h.1M337.6 146.7h.1M339.3 145.1h.1M336.1 145.0h.1M338.0 146.9h.1M338.5 144.2h.1M339.2 144.0h.1M339.4 145.2h.1M339.4 142.9h.1M340.5 140.2h.1M341.3 141.2h.1M338.1 145.3h.1M333.9 147.1h.1M341.2 143.3h.1M338.8 145.7h.1M339.2 143.4h.1M337.8 146.8h.1M340.6 144.0h.1M337.0 149.1h.1M338.9 145.5h.1M336.4 149.6h.1M341.8 140.4h.1M336.5 145.6h.1M334.7 151.3h.1M340.9 142.6h.1M339.4 142.8h.1M340.1 141.7h.1M337.5 149.5h.1M339.6 145.1h.1M341.7 142.9h.1M337.8 146.1h.1M338.3 144.2h.1M338.3 146.5h.1M336.8 145.9h.1M341.3 142.4h.1M337.4 148.1h.1M338.6 145.7h.1M339.2 144.1h.1M337.0 144.7h.1M340.9 144.2h.1M334.6 150.8h.1M340.3 142.7h.1M335.4 148.3h.1M339.3 147.1h.1M339.0 147.4h.1M337.6 143.5h.1M337.0 145.5h.1M336.7 146.3h.1M339.7 144.0h.1M340.9 139.6h.1M337.4 147.4h.1M338.4 148.2h.1M337.6 147.4h.1M336.7 149.2h.1M337.4 149.6h.1M338.2 147.4h.1M340.3 144.3h.1M337.1 146.8h.1M336.2 147.4h.1M337.2 145.4h.1M336.1 147.3h.1M344.0 139.2h.1M340.5 141.3h.1M337.7 145.2h.1M335.2 150.1h.1M338.4 147.8h.1M339.6 149.9h.1M336.8 148.1h.1M335.6 152.1h.1M336.7 146.7h.1M338.8 148.3h.1M336.8 147.3h.1M336.7 149.5h.1M340.3 145.6h.1M337.4 148.4h.1M334.8 151.9h.1M335.9 148.1h.1M339.0 143.2h.1M339.3 141.9h.1M335.8 148.4h.1M338.6 146.6h.1M339.7 144.6h.1M339.8 143.3h.1M338.0 147.3h.1M340.4 146.0h.1M339.6 148.2h.1M334.7 150.2h.1M339.8 143.4h.1M336.4 144.9h.1M339.6 145.1h.1M337.1 145.8h.1M336.8 148.1h.1M337.1 146.9h.1M338.9 144.9h.1M335.3 148.6h.1M340.5 141.5h.1M342.6 140.1h.1M334.7 152.0h.1M340.1 143.6h.1M337.6 147.0h.1M339.2 144.1h.1M339.1 145.6h.1M338.6 146.7h.1M339.9 143.5h.1M340.2 146.7h.1M340.5 141.7h.1M338.6 144.8h.1M338.9 151.5h.1M339.2 146.9h.1M338.4 145.9h.1M339.6 148.7h.1M336.0 148.9h.1M340.8 140.1h.1M337.9 145.8h.1M337.5 145.4h.1M335.8 150.2h.1M338.5 143.9h.1M337.6 145.7h.1M340.4 143.0h.1M341.2 141.3h.1M338.9 148.5h.1M338.5 148.6h.1M339.4 142.2h.1M339.3 142.4h.1M339.7 145.5h.1M341.1 144.8h.1M339.8 147.8h.1M337.3 145.2h.1M338.1 145.6h.1M333.1 150.4h.1M338.5 143.1h.1M337.8 142.6h.1M336.1 147.8h.1M338.1 147.6h.1M339.3 145.2h.1M338.6 143.3h.1M339.8 146.6h.1M337.1 146.7h.1M339.5 145.0h.1M337.4 144.8h.1M337.3 148.8h.1M338.6 147.1h.1M336.9 146.3h.1M342.6 146.0h.1M335.3 148.7h.1M336.8 147.8h.1M338.4 147.2h.1M337.9 145.4h.1M342.8 139.8h.1M337.6 145.9h.1M340.1 143.0h.1M339.0 143.3h.1M341.5 143.0h.1M341.9 141.6h.1M337.7 143.2h.1M336.6 148.2h.1M338.0 146.9h.1M341.8 142.4h.1M342.5 140.4h.1M340.3 142.3h.1M343.6 140.2h.1M339.6 144.0h.1M337.3 148.2h.1M340.4 146.7h.1M338.9 145.0h.1M338.8 142.7h.1M340.3 143.8h.1M337.2 148.3h.1M340.2 142.6h.1M338.1 147.7h.1M340.5 146.1h.1M339.5 144.1h.1M340.0 144.2h.1M339.9 144.8h.1M336.2 146.5h.1M338.1 146.1h.1M340.7 143.8h.1M338.3 147.5h.1M335.0 148.0h.1M333.5 152.1h.1M340.1 146.8h.1M336.4 147.9h.1M338.9 146.1h.1M337.2 149.0h.1M336.7 146.4h.1M337.1 146.4h.1M340.8 143.8h.1M337.0 148.2h.1M335.9 148.7h.1M338.7 145.6h.1M339.4 143.4h.1M337.6 148.7h.1M338.1 143.8h.1M337.1 145.0h.1M339.9 144.9h.1M336.7 151.6h.1M339.0 145.9h.1M337.2 146.0h.1M338.6 145.2h.1M337.3 147.7h.1M338.1 146.1h.1M336.2 152.6h.1M338.4 146.0h.1M340.8 142.3h.1M339.3 145.7h.1M337.8 145.2h.1M339.6 145.3h.1M341.4 142.5h.1M336.6 147.3h.1M335.4 149.4h.1M336.5 148.8h.1M337.1 147.5h.1M338.2 145.4h.1M339.5 143.5h.1M338.1 148.4h.1M335.9 148.1h.1M338.0 142.3h.1M339.8 142.8h.1M337.4 148.1h.1M338.6 143.2h.1M337.5 146.0h.1M338.3 147.6h.1M338.3 146.3h.1M337.5 148.5h.1M334.6 149.9h.1M337.3 150.5h.1M336.0 147.2h.1M339.5 145.5h.1M338.8 144.7h.1M340.2 143.9h.1M336.7 147.8h.1M337.3 145.3h.1M335.4 149.4h.1M337.9 149.3h.1M340.3 143.3h.1M338.0 146.2h.1M339.8 139.8h.1M340.0 144.4h.1M338.0 147.4h.1M337.9 148.2h.1M335.0 151.5h.1M340.0 142.0h.1M341.0 143.8h.1M343.1 135.4h.1M340.7 139.6h.1M338.2 144.6h.1M336.0 148.4h.1M333.1 149.2h.1M338.7 147.6h.1M338.9 146.3h.1M333.9 148.6h.1M340.7 144.8h.1M339.7 143.1h.1M336.9 148.7h.1M338.8 147.2h.1M336.9 150.3h.1M340.3 143.3h.1M336.6 148.2h.1M336.0 148.7h.1M334.5 150.9h.1M336.6 148.7h.1M335.4 150.6h.1M339.6 142.7h.1M340.0 144.6h.1M337.5 150.0h.1M336.1 147.9h.1M340.2 147.4h.1M338.0 145.3h.1M335.4 148.1h.1M341.8 143.0h.1M341.5 145.5h.1M342.6 141.0h.1M333.4 153.3h.1M336.6 150.8h.1M338.6 143.4h.1M338.1 145.0h.1M338.8 147.3h.1M335.7 148.6h.1M340.6 145.4h.1M337.9 147.6h.1M340.5 142.1h.1M339.0 142.2h.1M339.2 143.0h.1M333.8 150.1h.1M340.3 145.9h.1M338.3 139.3h.1M342.3 141.4h.1M340.2 142.4h.1M338.9 141.9h.1M336.6 147.7h.1M339.7 141.2h.1M342.7 141.5h.1M340.2 145.4h.1M339.7 144.8h.1M338.7 146.6h.1M338.6 145.3h.1M338.2 146.9h.1M340.3 145.3h.1M337.9 146.3h.1M337.1 150.9h.1M338.0 148.0h.1M338.8 144.6h.1M339.6 145.9h.1M340.9 142.0h.1M339.4 142.9h.1M339.2 141.5h.1M337.2 145.3h.1M339.4 142.5h.1M336.7 147.6h.1M338.4 148.5h.1M340.7 144.0h.1M339.6 145.8h.1M337.6 148.4h.1M340.2 143.4h.1M341.8 142.5h.1M340.1 144.1h.1M339.6 141.7h.1M340.4 143.6h.1M341.8 144.5h.1M337.3 148.3h.1M335.4 151.1h.1M338.2 147.1h.1M330.9 153.5h.1M336.6 146.9h.1M334.9 148.0h.1M339.2 146.0h.1M336.5 147.4h.1M338.2 145.8h.1M336.9 148.4h.1M338.7 147.1h.1M340.7 141.7h.1M338.5 149.9h.1M334.5 150.1h.1M338.2 140.5h.1M338.3 143.0h.1M340.3 147.3h.1M337.5 146.9h.1M339.6 145.6h.1M338.3 147.3h.1M340.3 143.5h.1M336.8 146.1h.1M336.6 147.2h.1M340.1 144.9h.1M336.5 147.8h.1M339.2 144.4h.1M334.5 148.0h.1M338.9 148.3h.1M338.8 145.5h.1M338.1 148.4h.1M340.1 143.3h.1M340.1 147.4h.1M339.6 145.9h.1M335.1 151.4h.1M339.9 144.8h.1M339.4 146.2h.1M335.1 151.4h.1M339.4 145.6h.1M339.8 145.6h.1M337.4 148.1h.1M336.5 148.9h.1M335.7 149.6h.1M340.1 146.9h.1M338.8 146.1h.1M336.9 145.9h.1M343.2 141.3h.1M338.2 146.0h.1M339.1 145.8h.1M334.7 149.7h.1M337.8 144.4h.1M339.7 143.3h.1M337.3 148.7h.1M343.4 141.2h.1M337.9 147.8h.1M339.4 146.1h.1M337.7 147.0h.1M336.3 146.1h.1M331.7 152.7h.1M339.6 143.5h.1M334.5 151.9h.1M340.6 142.7h.1M336.2 148.8h.1M337.7 147.5h.1M341.0 138.1h.1M337.4 149.1h.1M337.9 146.5h.1M336.8 149.8h.1M337.2 145.9h.1M337.4 143.8h.1M340.4 141.3h.1M333.7 153.0h.1M338.2 146.1h.1M338.9 144.0h.1M340.3 143.8h.1M335.5 147.1h.1M336.9 144.7h.1M340.6 140.3h.1M338.2 144.5h.1M342.4 140.4h.1M334.6 148.2h.1M338.4 148.7h.1M339.1 146.3h.1M334.6 147.5h.1M339.9 144.4h.1M337.2 149.5h.1M340.5 146.0h.1M334.8 149.5h.1M335.8 147.6h.1M338.6 145.1h.1M340.9 145.3h.1M336.8 148.6h.1M336.5 150.5h.1M338.5 143.9h.1M335.3 147.8h.1M338.6 144.6h.1M340.2 142.2h.1M338.0 143.3h.1M334.2 149.1h.1M341.6 143.2h.1M339.8 142.6h.1M338.4 148.2h.1M338.3 147.5h.1M339.7 141.4h.1M339.9 145.7h.1M339.2 144.9h.1M339.1 142.2h.1M338.8 144.2h.1M344.7 139.2h.1M340.8 142.2h.1M338.8 145.6h.1M339.4 146.1h.1M336.0 145.5h.1M340.4 142.5h.1M336.3 149.1h.1M338.9 142.9h.1M337.2 147.4h.1M336.4 151.7h.1M340.0 143.2h.1M338.7 144.4h.1M338.7 145.0h.1M336.9 146.1h.1M337.5 145.4h.1M336.8 147.3h.1M340.8 142.3h.1M340.7 142.1h.1M336.5 144.8h.1M339.9 146.8h.1M337.8 144.4h.1M339.5 143.1h.1M339.4 145.6h.1M337.6 147.1h.1M337.4 146.1h.1M340.1 145.9h.1M338.0 146.1h.1M337.2 146.5h.1M341.3 143.0h.1M339.0 144.6h.1M338.6 142.5h.1M336.7 148.1h.1M340.6 144.0h.1M339.9 146.6h.1M339.6 147.5h.1M336.3 147.1h.1M337.5 147.6h.1M337.7 147.1h.1M338.8 145.6h.1M338.9 146.4h.1M340.2 139.3h.1M338.6 144.1h.1M337.4 144.3h.1M339.3 146.7h.1M336.5 147.6h.1M336.4 147.6h.1M340.0 145.5h.1M336.6 150.4h.1M341.9 141.8h.1M340.1 140.9h.1M335.7 149.7h.1M341.1 142.9h.1M339.6 142.4h.1M340.9 143.1h.1M339.4 143.8h.1M341.3 141.3h.1M337.8 148.5h.1M336.7 146.5h.1M339.4 144.1h.1M340.6 146.9h.1M336.1 149.8h.1M338.4 142.7h.1M342.2 144.2h.1M337.2 145.8h.1M338.8 144.6h.1M341.2 143.8h.1M334.8 151.5h.1M338.5 147.9h.1M338.3 149.0h.1M337.8 145.9h.1M336.0 149.0h.1M337.9 150.3h.1M339.3 145.5h.1M341.5 140.8h.1M337.7 150.0h.1M340.1 140.8h.1M340.7 143.6h.1M339.7 142.8h.1M340.1 141.8h.1M338.5 147.4h.1M340.0 142.5h.1M335.7 149.8h.1M336.7 147.7h.1M339.4 145.1h.1M338.8 143.1h.1M335.4 149.1h.1M333.8 150.0h.1M338.1 144.0h.1M340.1 145.7h.1M340.1 144.2h.1M337.9 145.7h.1M335.3 148.7h.1M341.0 143.1h.1M339.7 143.6h.1M338.4 145.1h.1M342.2 139.9h.1M337.9 144.5h.1M341.9 142.2h.1M337.7 145.8h.1M334.2 154.1h.1M336.0 148.7h.1M334.6 153.8h.1M338.3 146.5h.1M339.6 142.0h.1M336.4 150.9h.1M339.6 143.7h.1M337.3 146.1h.1M340.1 143.3h.1M339.3 144.9h.1M336.7 148.4h.1M340.2 144.7h.1M337.7 145.4h.1M339.3 142.9h.1M340.1 139.4h.1M337.8 146.1h.1M340.2 140.6h.1M338.7 146.3h.1M339.0 143.8h.1M339.6 145.7h.1M337.1 147.4h.1M338.9 145.5h.1M336.8 146.4h.1M341.2 145.3h.1M336.8 148.7h.1M337.1 148.5h.1M339.3 143.0h.1M340.0 144.7h.1M339.8 144.4h.1M338.2 143.4h.1M340.8 143.2h.1M339.6 144.6h.1M339.0 142.5h.1M339.0 149.0h.1M338.9 144.1h.1M336.9 147.5h.1M336.1 148.9h.1M339.7 147.3h.1M340.8 144.7h.1M339.2 146.1h.1M342.3 141.3h.1M339.0 143.5h.1M339.6 144.8h.1M337.3 144.6h.1M336.2 149.4h.1M338.0 145.2h.1M339.1 146.0h.1M342.0 141.3h.1M336.7 147.6h.1M337.4 145.5h.1M337.8 148.0h.1M337.5 144.5h.1M335.7 150.5h.1M337.5 144.0h.1M339.6 146.3h.1M339.1 145.4h.1M342.3 138.1h.1M338.4 146.0h.1M339.8 144.7h.1M337.8 145.4h.1M339.4 142.2h.1M342.6 139.8h.1M340.6 140.6h.1M339.4 145.0h.1M337.0 149.6h.1M338.0 143.8h.1M336.1 150.5h.1M337.4 148.4h.1M336.7 146.9h.1M337.4 149.3h.1M339.3 146.2h.1M338.1 146.8h.1M337.1 147.7h.1M338.2 144.1h.1M337.4 147.8h.1M341.2 142.6h.1M340.7 144.7h.1M338.0 147.1h.1M339.6 144.8h.1M336.3 146.9h.1M338.8 148.3h.1M341.8 143.9h.1M337.4 151.1h.1M339.4 144.6h.1M341.3 140.2h.1M333.2 150.9h.1M344.0 140.1h.1M335.0 150.9h.1M335.1 152.2h.1M333.3 150.6h.1M336.1 148.7h.1M336.0 146.5h.1M335.2 151.0h.1M337.1 145.7h.1M339.5 143.3h.1M337.7 148.2h.1M337.8 144.9h.1M339.8 144.2h.1M343.4 142.3h.1M338.4 146.1h.1M340.8 144.5h.1M338.8 144.0h.1M337.1 144.7h.1M337.6 146.5h.1M338.5 144.4h.1M340.7 144.6h.1M336.9 149.8h.1M338.3 147.1h.1M337.2 143.7h.1M339.3 145.2h.1M338.7 144.7h.1M342.9 142.3h.1M340.7 143.2h.1M336.1 149.2h.1M341.3 141.5h.1M337.5 147.9h.1M336.6 147.8h.1M339.8 142.5h.1M338.9 147.4h.1M336.7 151.2h.1M339.0 143.7h.1M338.4 144.1h.1M340.6 145.1h.1M335.4 149.3h.1M341.1 144.4h.1M337.5 147.6h.1M338.8 142.6h.1M337.7 150.2h.1M336.7 148.5h.1M335.2 151.4h.1M338.1 148.6h.1M339.6 142.4h.1M339.7 145.7h.1M338.0 147.8h.1M341.8 142.6h.1M338.4 145.0h.1M339.2 143.3h.1M337.7 144.1h.1M338.5 146.2h.1M339.4 145.9h.1M337.8 143.7h.1M340.9 143.0h.1M338.8 143.7h.1M338.5 142.4h.1M335.8 148.4h.1M336.8 152.1h.1M339.9 145.5h.1M339.4 145.8h.1M338.4 144.1h.1M337.4 149.1h.1M337.9 145.0h.1M336.4 148.6h.1M338.4 145.5h.1M338.3 146.0h.1M338.8 146.7h.1M337.7 144.2h.1M337.4 147.1h.1M337.0 145.0h.1M340.5 144.4h.1M342.6 142.6h.1M337.8 143.9h.1M340.9 144.2h.1M339.3 144.2h.1M341.7 141.4h.1M342.2 140.1h.1M337.6 147.8h.1M340.6 144.6h.1M340.1 145.7h.1M341.0 141.3h.1M334.8 153.0h.1M335.7 146.6h.1M335.3 150.6h.1M339.5 141.2h.1M339.4 145.3h.1M338.8 143.5h.1M339.7 145.0h.1M339.8 145.6h.1M339.4 144.8h.1M337.9 147.1h.1M332.5 150.0h.1M340.2 145.7h.1M338.9 146.4h.1M336.8 147.0h.1M337.5 147.6h.1M340.6 142.1h.1M336.4 147.5h.1M336.7 148.9h.1M340.2 144.4h.1M342.2 142.6h.1M336.3 149.5h.1M336.2 148.3h.1M336.4 148.7h.1M338.0 144.1h.1M339.8 144.5h.1M340.6 141.8h.1M339.1 146.5h.1M339.8 147.7h.1M336.9 147.2h.1M340.8 143.0h.1M336.8 147.2h.1M337.6 148.5h.1M339.5 147.4h.1M339.2 146.5h.1M339.4 144.9h.1M338.0 148.0h.1M341.7 141.2h.1M341.3 140.2h.1M336.5 149.0h.1M338.3 145.2h.1M336.8 148.8h.1M338.6 147.1h.1M337.2 149.9h.1M340.0 147.9h.1M338.4 144.8h.1M337.7 144.8h.1M337.0 150.2h.1M335.9 152.0h.1M336.0 151.5h.1M340.2 142.3h.1M338.0 146.3h.1M338.8 145.8h.1M341.0 141.9h.1M338.2 149.6h.1M339.3 144.8h.1M337.5 147.9h.1M338.3 145.1h.1M335.8 151.5h.1M338.2 147.3h.1M338.1 146.0h.1M336.2 144.0h.1M336.5 150.2h.1M336.1 145.4h.1M340.8 144.0h.1M338.2 146.1h.1M340.8 144.1h.1M338.3 143.3h.1M338.7 145.1h.1M337.6 146.8h.1M337.6 145.1h.1M335.6 147.7h.1M340.2 144.4h.1M338.8 144.9h.1M340.9 142.9h.1M341.3 139.0h.1M341.8 144.8h.1M337.4 143.1h.1M339.0 145.5h.1M341.8 144.7h.1" stroke="#000" stroke-width="0.8" stroke-linecap="round" opacity="0.3" fill="none"/>
<path d="M338.9 147.2h.1M336.5 148.3h.1M338.2 147.3h.1M338.2 147.1h.1M339.1 145.4h.1M336.4 150.5h.1M339.1 147.0h.1M339.5 145.5h.1M336.2 149.2h.1M338.7 146.0h.1M339.3 146.2h.1M336.2 147.3h.1M335.4 150.1h.1M337.5 146.6h.1M336.3 147.2h.1M340.1 145.0h.1M336.9 147.1h.1M338.4 145.9h.1M338.0 146.4h.1M339.0 147.5h.1M337.0 149.5h.1M337.0 148.3h.1M337.9 147.0h.1M336.7 146.6h.1M337.9 147.5h.1M338.5 145.8h.1M338.1 147.2h.1M339.4 146.5h.1M338.1 147.1h.1M338.2 146.5h.1M336.1 147.2h.1M335.3 149.1h.1M339.1 146.0h.1M339.3 146.1h.1M338.5 146.1h.1M337.3 148.7h.1M337.4 144.3h.1M337.4 146.6h.1M338.0 146.9h.1M337.4 148.5h.1M337.9 148.4h.1M337.2 148.2h.1M339.9 147.6h.1M337.3 148.4h.1M338.1 147.4h.1M336.2 147.4h.1M337.5 150.0h.1M337.3 146.6h.1M338.2 147.1h.1M337.4 146.7h.1M335.0 152.3h.1M338.7 145.3h.1M337.2 146.8h.1M335.1 147.6h.1M340.4 144.3h.1M337.9 147.1h.1M338.7 146.0h.1M338.3 147.2h.1M335.3 151.0h.1M339.1 145.1h.1M336.8 149.1h.1M340.1 146.1h.1M337.5 147.2h.1M337.8 149.2h.1M335.1 151.2h.1M336.6 147.5h.1M337.5 149.3h.1M337.9 147.1h.1M336.4 148.8h.1M338.6 146.0h.1M337.5 148.2h.1M337.3 147.9h.1M339.6 143.6h.1M339.3 146.3h.1M337.2 148.3h.1M337.7 146.2h.1M336.4 150.0h.1M337.7 148.9h.1M337.1 147.1h.1M336.5 148.0h.1M336.1 148.4h.1M338.5 146.1h.1M337.5 148.4h.1M335.9 147.8h.1M336.3 147.6h.1M336.5 147.9h.1M339.0 146.1h.1M338.0 146.6h.1M336.7 150.0h.1M339.9 145.4h.1M338.9 145.3h.1M337.3 147.5h.1M336.3 148.5h.1M337.7 147.1h.1M335.8 147.2h.1M339.0 146.7h.1M336.9 146.6h.1M339.4 145.2h.1M335.4 149.4h.1M337.7 148.5h.1M336.7 145.7h.1M336.3 147.3h.1M338.3 148.5h.1M335.7 148.5h.1M339.8 143.9h.1M337.0 147.0h.1M338.5 146.0h.1M337.0 148.5h.1M338.1 148.5h.1M338.0 147.5h.1M339.6 144.5h.1M340.3 145.6h.1M340.7 144.2h.1M339.4 144.7h.1M339.1 144.5h.1M337.8 147.7h.1M336.1 147.7h.1M339.5 145.2h.1M336.6 148.0h.1M337.5 145.7h.1M337.6 148.5h.1M335.9 148.3h.1M337.9 147.1h.1M337.3 148.9h.1M336.4 146.9h.1M337.7 145.0h.1M337.7 147.6h.1M338.2 145.0h.1M336.6 147.4h.1M338.1 146.6h.1M335.2 147.8h.1M339.3 145.0h.1M335.9 150.7h.1M338.0 146.6h.1M338.4 146.3h.1M335.2 151.5h.1M336.1 149.9h.1M336.9 150.2h.1M337.3 147.0h.1M338.3 148.1h.1M336.7 147.2h.1M338.0 145.8h.1M340.5 143.6h.1M336.9 148.9h.1M338.6 146.8h.1M337.8 147.0h.1M337.8 144.6h.1M335.2 150.4h.1M336.2 149.9h.1M335.4 148.1h.1M336.8 149.1h.1M338.2 146.9h.1M335.8 147.0h.1M335.1 150.1h.1M336.1 147.8h.1M335.6 149.5h.1M336.5 148.1h.1M337.1 147.1h.1M336.4 148.1h.1M337.6 144.2h.1M340.9 144.0h.1M339.8 147.3h.1M336.2 149.8h.1M340.2 145.5h.1M339.9 143.7h.1M338.3 147.9h.1M338.1 146.5h.1M338.2 144.9h.1M338.3 147.0h.1M339.6 145.4h.1M337.8 145.9h.1M337.5 148.5h.1M337.2 148.0h.1M337.5 147.6h.1M337.8 148.8h.1M338.6 144.6h.1M338.8 147.1h.1M336.9 147.1h.1M338.4 145.7h.1M338.5 147.5h.1M339.1 145.6h.1M338.9 144.1h.1M338.1 147.0h.1M335.7 147.1h.1M337.1 149.5h.1M338.9 143.7h.1M339.2 147.2h.1M337.2 148.2h.1M337.0 146.9h.1M337.7 149.8h.1M339.0 144.8h.1M338.8 147.1h.1M338.2 148.3h.1M336.6 149.8h.1M340.4 144.0h.1M338.2 147.2h.1M335.7 151.0h.1M337.7 148.5h.1M339.4 148.3h.1M337.0 146.3h.1M335.2 148.0h.1M338.7 145.1h.1M338.6 146.3h.1M338.4 147.5h.1M336.8 148.1h.1M335.6 149.9h.1M337.8 148.3h.1M337.6 147.6h.1M336.0 148.7h.1M337.9 146.5h.1M338.6 145.9h.1M337.1 147.9h.1M337.8 148.1h.1M337.7 147.2h.1M339.5 144.4h.1M339.8 145.2h.1M336.0 149.9h.1M336.6 147.6h.1M339.9 142.6h.1M338.8 148.6h.1M340.6 144.9h.1M337.6 145.9h.1M338.8 144.9h.1M337.1 147.5h.1M338.7 147.6h.1M338.3 146.2h.1M337.3 146.9h.1M337.4 147.0h.1M339.8 145.1h.1M337.9 147.7h.1M339.0 144.9h.1M337.0 148.0h.1M336.6 147.1h.1M340.0 146.9h.1M338.7 146.6h.1M338.0 145.0h.1M338.5 147.6h.1M337.6 147.1h.1M336.3 147.3h.1M336.7 150.1h.1M337.1 147.7h.1M337.6 144.6h.1M338.5 147.8h.1M339.3 147.7h.1M338.4 144.7h.1M337.1 148.8h.1M338.2 146.6h.1M337.1 148.0h.1M338.2 144.8h.1M336.3 149.6h.1M336.7 147.3h.1M336.7 147.6h.1M337.4 147.7h.1M336.5 147.6h.1M339.6 144.0h.1M337.6 147.5h.1M335.6 146.1h.1M337.5 150.3h.1M337.1 149.8h.1M337.6 148.8h.1" stroke="#000" stroke-width="1.0" stroke-linecap="round" opacity="0.55" fill="none"/>
<line x1="341.50" y1="108.90" x2="341.50" y2="166.70" stroke="#555" stroke-width="1.0"/>
<line x1="319.60" y1="143.50" x2="376.20" y2="143.50" stroke="#555" stroke-width="1.0"/>
<text x="320.90" y="118.50" font-size="6.8" text-anchor="start" fill="#2a2a2a">10.7</text>
<text x="371.80" y="118.50" font-size="6.8" text-anchor="end" fill="#2a2a2a">40.0</text>
<text x="320.90" y="163.30" font-size="6.8" text-anchor="start" fill="#2a2a2a">39.4</text>
<text x="371.80" y="163.30" font-size="6.8" text-anchor="end" fill="#2a2a2a">9.79</text>
<text x="347.90" y="105.50" font-size="6.6" text-anchor="middle" fill="#333">+ HEL PVR<tspan font-size="4.5" dy="-3">KO</tspan><tspan dy="3"></tspan></text>
<rect x="383.40" y="108.50" width="56.20" height="58.00" fill="#fff" stroke="#999" stroke-width="0.8"/>
<path d="M411.7 138.1h.1M408.1 131.8h.1M411.1 136.3h.1M414.6 119.5h.1M405.3 135.5h.1M410.7 142.6h.1M405.1 131.5h.1M409.4 137.1h.1M406.0 135.7h.1M410.6 127.5h.1M406.4 129.9h.1M410.6 126.0h.1M402.8 138.4h.1M409.9 129.5h.1M412.3 135.2h.1M408.8 138.2h.1M403.7 142.7h.1M407.5 133.5h.1M406.3 141.0h.1M414.3 130.9h.1M414.8 133.2h.1M411.4 131.3h.1M410.9 113.7h.1M414.4 126.9h.1M405.4 146.9h.1M410.4 130.0h.1M409.0 132.1h.1M410.5 132.8h.1M413.9 139.9h.1M414.8 129.7h.1M403.3 151.9h.1M404.5 141.4h.1M413.7 131.5h.1M411.4 133.5h.1M415.8 130.3h.1M410.5 137.3h.1M402.9 134.6h.1M410.4 128.6h.1M409.6 132.8h.1M407.1 145.7h.1M416.2 130.3h.1M404.2 139.4h.1M412.9 129.0h.1M409.2 132.4h.1M411.2 130.5h.1M413.0 128.1h.1M413.5 143.6h.1M409.8 129.2h.1M405.5 132.3h.1M409.2 135.7h.1M410.6 134.5h.1M408.1 137.0h.1M411.0 134.4h.1M415.6 135.3h.1M409.2 138.6h.1M413.5 127.8h.1M407.7 132.3h.1M409.4 142.2h.1M412.4 132.0h.1M411.7 131.2h.1M404.6 142.2h.1M406.0 130.0h.1M407.4 135.7h.1M409.2 131.9h.1M412.7 136.9h.1M407.2 129.9h.1M415.2 135.5h.1M399.7 146.1h.1M408.1 132.7h.1M411.6 130.9h.1M415.1 131.4h.1M412.5 126.2h.1M412.4 132.9h.1M410.6 124.7h.1M420.3 133.0h.1M408.5 137.0h.1M414.8 141.9h.1M413.8 126.6h.1M413.1 130.5h.1M402.7 143.6h.1M409.9 142.1h.1M416.2 128.7h.1M416.2 136.2h.1M406.1 145.2h.1M411.1 131.4h.1M413.8 128.7h.1M414.7 131.7h.1M410.6 134.9h.1M408.1 134.7h.1M407.8 137.1h.1M413.7 140.0h.1M412.3 133.3h.1M420.2 120.4h.1M425.3 122.5h.1M408.1 134.5h.1M404.8 142.7h.1M412.6 136.2h.1M408.0 135.3h.1M408.8 135.5h.1M406.3 144.9h.1M409.2 134.3h.1M408.8 138.5h.1M412.1 135.0h.1M402.8 142.2h.1M414.3 136.2h.1M401.5 139.1h.1M407.0 139.0h.1M409.3 138.8h.1M407.4 137.1h.1M410.9 138.8h.1M409.5 138.2h.1M403.1 135.4h.1M406.8 137.9h.1M408.8 138.0h.1M409.5 136.6h.1M413.5 121.9h.1M410.6 127.6h.1M409.2 138.3h.1M402.9 141.0h.1M413.7 127.6h.1M410.2 134.5h.1M409.3 131.2h.1M415.6 128.4h.1M408.4 147.8h.1M408.7 138.2h.1M408.5 132.0h.1M415.2 126.4h.1M407.6 133.7h.1M407.3 132.3h.1M410.9 135.0h.1M410.0 134.6h.1M411.0 133.6h.1M406.7 136.9h.1M406.7 137.9h.1M408.5 136.3h.1M408.5 128.8h.1M412.7 126.8h.1M409.8 133.2h.1M411.2 136.9h.1M413.7 126.9h.1M408.4 129.2h.1M410.5 129.0h.1M409.5 134.9h.1M409.1 136.9h.1M414.0 132.6h.1M411.5 136.2h.1M411.0 125.9h.1M407.4 139.5h.1M410.9 132.2h.1M406.9 132.5h.1M408.1 140.9h.1M410.3 137.0h.1M403.2 138.7h.1M407.4 135.6h.1M413.4 138.0h.1M418.2 118.5h.1M409.0 141.5h.1M413.4 131.1h.1M409.3 137.3h.1M415.4 134.2h.1M410.9 137.2h.1M403.0 136.7h.1M415.0 126.0h.1M414.7 128.2h.1M402.3 143.4h.1M413.2 136.9h.1M409.6 136.7h.1M401.9 142.1h.1M410.6 133.3h.1M410.8 130.8h.1M410.8 134.3h.1M410.6 131.1h.1M413.7 122.8h.1M409.2 137.2h.1M413.6 126.7h.1M416.1 120.9h.1M406.2 154.1h.1M407.1 134.4h.1M409.5 123.8h.1M409.0 131.1h.1M407.6 137.6h.1M415.4 126.2h.1M411.9 128.4h.1M400.2 141.2h.1M408.8 127.4h.1M411.3 136.2h.1M406.8 131.0h.1M408.3 142.1h.1M413.4 131.8h.1M411.0 133.4h.1M405.6 139.0h.1M409.6 136.5h.1M411.9 124.4h.1M414.0 124.6h.1M401.5 141.0h.1M415.2 133.0h.1M408.9 135.8h.1M406.8 136.4h.1M406.9 130.7h.1M420.1 127.8h.1M412.4 131.2h.1M412.2 142.5h.1M409.1 133.3h.1M412.9 132.2h.1M412.6 127.1h.1M407.3 133.2h.1M408.3 132.2h.1M411.3 133.0h.1M410.5 129.4h.1M396.4 141.3h.1M415.5 126.4h.1M409.6 131.4h.1M411.4 134.7h.1M404.6 139.5h.1M412.9 133.6h.1M414.5 121.5h.1M412.0 139.6h.1M404.6 143.6h.1M404.9 128.2h.1M413.1 135.4h.1M411.4 135.1h.1M403.0 142.0h.1M414.2 133.0h.1M418.0 133.3h.1M401.1 162.1h.1M410.0 132.9h.1M409.6 128.1h.1M407.1 139.3h.1M403.4 146.8h.1M407.6 132.1h.1M416.7 121.3h.1M407.7 130.2h.1M413.1 118.6h.1M411.9 132.5h.1M406.1 133.7h.1M405.9 137.8h.1M414.7 125.7h.1M406.0 142.1h.1M405.4 136.3h.1M411.9 138.2h.1M415.0 134.4h.1M407.2 132.3h.1M400.5 140.4h.1M405.7 140.8h.1M412.6 122.4h.1M414.5 135.7h.1M413.5 135.8h.1M410.4 136.9h.1M411.9 132.8h.1M407.4 138.4h.1M414.7 128.0h.1M412.9 129.0h.1M410.5 134.4h.1M411.3 127.8h.1M406.8 133.6h.1M406.5 135.5h.1M409.5 126.3h.1M410.3 134.9h.1M408.8 139.6h.1M419.8 127.0h.1M413.9 137.4h.1M409.4 130.3h.1M413.5 124.4h.1M406.1 141.6h.1M410.0 136.3h.1M416.3 129.9h.1M414.9 138.8h.1M410.3 137.5h.1M410.4 135.3h.1M415.9 139.3h.1M405.8 134.2h.1M413.1 132.5h.1M409.3 133.0h.1M412.1 122.0h.1M407.3 130.1h.1M416.1 124.4h.1M408.1 132.0h.1M413.1 122.4h.1M409.6 134.8h.1M413.1 126.3h.1M413.0 134.2h.1M414.5 124.0h.1M409.5 139.6h.1M409.3 137.1h.1M411.1 131.5h.1M404.8 138.5h.1M415.3 125.6h.1M410.3 135.4h.1M412.9 131.4h.1M406.2 124.2h.1M413.1 130.9h.1M406.7 137.8h.1M410.0 144.0h.1M405.0 144.0h.1M410.6 141.0h.1M409.4 139.3h.1M405.8 137.8h.1M407.1 129.0h.1M405.6 142.0h.1M403.7 143.0h.1M410.3 132.8h.1M416.8 123.9h.1M407.1 139.5h.1M407.3 133.5h.1M409.5 134.1h.1M414.5 128.0h.1M414.0 129.5h.1M407.6 136.1h.1M413.8 129.0h.1M408.0 132.4h.1M416.3 131.1h.1M413.7 122.2h.1M405.6 148.3h.1M406.0 142.7h.1M400.5 139.4h.1M403.7 140.1h.1M411.8 134.1h.1M411.5 133.9h.1M413.1 122.5h.1M412.0 124.4h.1M411.1 132.4h.1M407.8 133.9h.1M413.3 130.7h.1M418.6 135.2h.1M405.9 135.5h.1M413.5 130.6h.1M407.0 136.4h.1M410.3 134.9h.1M410.4 135.4h.1M410.6 138.9h.1M406.2 137.0h.1M408.1 132.6h.1M406.5 133.2h.1M404.5 140.6h.1M414.1 123.6h.1M416.7 124.7h.1M415.0 124.3h.1M412.6 126.6h.1M416.3 138.1h.1M410.3 141.4h.1M407.5 140.5h.1M402.7 143.5h.1M405.5 134.3h.1M400.4 142.2h.1M412.4 134.6h.1M410.7 132.5h.1M409.8 138.1h.1M410.6 138.5h.1M410.8 135.1h.1M411.5 130.7h.1M406.9 135.2h.1M419.1 126.1h.1M407.7 139.7h.1M410.8 139.2h.1M405.0 135.3h.1M405.0 133.2h.1M412.0 133.6h.1M413.6 132.0h.1M407.5 135.4h.1M412.4 123.6h.1M407.0 146.7h.1M412.0 133.3h.1M409.5 133.7h.1M408.7 143.8h.1M401.8 140.8h.1M410.3 133.7h.1M413.4 127.5h.1M414.3 133.5h.1M406.6 133.2h.1M412.6 138.1h.1M410.5 138.3h.1M410.4 137.6h.1M412.3 130.8h.1M417.0 130.0h.1M413.7 132.2h.1M406.4 137.7h.1M411.9 131.1h.1M412.8 128.2h.1M402.0 144.0h.1M409.8 132.0h.1M405.8 136.3h.1M410.3 133.7h.1M408.5 143.2h.1M402.5 138.5h.1M414.1 137.4h.1M412.0 139.6h.1M411.5 138.9h.1M401.2 136.6h.1M411.1 131.8h.1M410.4 126.8h.1M411.2 142.2h.1M413.7 134.4h.1M407.9 136.7h.1M412.0 133.6h.1M413.1 127.8h.1M409.2 132.2h.1M409.4 135.1h.1M406.6 140.6h.1M412.8 127.6h.1M415.5 125.1h.1M403.5 145.4h.1M409.2 129.8h.1M411.9 136.8h.1M405.5 141.7h.1M412.9 123.2h.1M412.1 131.7h.1M416.5 122.4h.1M402.8 136.7h.1M405.7 135.8h.1M399.5 140.3h.1M405.3 131.6h.1M405.8 144.9h.1M410.8 137.3h.1M414.2 128.2h.1M409.3 130.2h.1M421.7 133.4h.1M410.2 133.7h.1M409.1 128.4h.1M409.5 135.2h.1M405.3 141.5h.1M412.0 132.0h.1M414.1 137.1h.1M405.1 138.0h.1M407.4 141.4h.1M412.3 126.8h.1M405.0 144.2h.1M402.4 136.9h.1M409.8 131.8h.1M410.6 130.4h.1M410.9 133.3h.1M407.5 144.5h.1M412.1 127.6h.1M406.8 133.8h.1M405.5 143.2h.1M418.8 131.0h.1M411.7 136.1h.1M399.4 142.8h.1M403.4 150.9h.1M409.0 135.3h.1M413.0 140.8h.1M412.2 133.7h.1M412.6 134.8h.1M405.5 138.1h.1M409.6 131.2h.1M409.2 132.5h.1M404.1 139.4h.1M413.5 130.6h.1M406.1 131.1h.1M410.0 136.0h.1M408.6 131.3h.1M402.0 136.5h.1M408.9 139.9h.1M408.6 134.7h.1M407.4 140.3h.1M414.1 125.4h.1M409.9 132.7h.1M412.3 130.4h.1M415.3 124.0h.1M412.4 125.1h.1M419.7 123.9h.1M409.3 140.5h.1M416.2 125.4h.1M412.3 138.7h.1M408.5 135.2h.1M411.8 133.8h.1M412.5 135.1h.1M413.5 136.3h.1M413.2 133.7h.1M413.5 124.8h.1M406.7 149.0h.1M403.3 141.8h.1M404.5 141.2h.1M410.2 132.2h.1M414.7 135.9h.1M413.2 133.1h.1M413.0 121.8h.1M411.1 134.7h.1M407.8 143.7h.1M413.2 132.8h.1M414.5 123.1h.1M420.8 125.1h.1M407.2 133.4h.1M409.9 133.1h.1M413.7 133.8h.1M410.3 130.0h.1M416.7 138.7h.1M411.9 138.8h.1M414.0 124.8h.1M410.8 123.3h.1M413.2 135.8h.1M412.0 139.6h.1M408.4 138.1h.1M406.4 141.0h.1M408.4 142.6h.1M411.3 137.0h.1M403.9 136.5h.1M413.3 133.9h.1M412.8 139.5h.1M408.4 140.3h.1M405.6 134.9h.1M400.8 148.2h.1M411.3 132.3h.1M412.7 137.5h.1M414.5 126.4h.1M401.3 133.2h.1M408.1 134.5h.1M404.7 138.4h.1M420.5 124.2h.1M412.0 133.3h.1M415.2 127.9h.1M404.6 134.1h.1M412.6 131.3h.1M407.4 140.0h.1M409.5 138.7h.1M416.6 139.9h.1M404.5 138.1h.1M417.2 132.6h.1M414.1 130.2h.1M417.8 129.5h.1M408.9 140.6h.1M409.6 138.5h.1M411.3 135.4h.1M408.3 128.7h.1M409.4 143.5h.1M410.1 136.4h.1M411.8 127.7h.1M411.5 134.4h.1M411.1 135.8h.1M401.7 138.5h.1M407.1 135.4h.1M414.3 131.5h.1M412.5 128.2h.1M407.4 145.6h.1M410.1 131.6h.1M412.7 138.6h.1M405.2 139.0h.1M414.6 123.2h.1M411.2 130.2h.1M406.8 140.9h.1M406.4 140.3h.1M412.8 134.7h.1M405.4 143.2h.1M407.9 135.0h.1M410.4 131.1h.1M408.5 143.6h.1M409.1 132.9h.1M414.4 133.7h.1M409.9 139.5h.1M413.4 133.6h.1M413.6 131.6h.1M411.6 132.3h.1M406.2 137.7h.1M409.8 128.3h.1M407.9 136.0h.1M412.5 134.4h.1M408.2 133.3h.1M407.4 133.4h.1M406.0 147.5h.1M416.2 130.2h.1M411.8 132.1h.1M405.4 131.4h.1M412.6 131.5h.1M409.2 137.4h.1M407.7 134.6h.1M414.6 133.3h.1M406.4 148.8h.1M408.1 139.2h.1M406.0 137.1h.1M409.9 136.9h.1M410.1 138.7h.1M412.0 141.5h.1M406.6 131.2h.1M415.6 131.8h.1M407.9 130.3h.1M414.9 129.7h.1M408.6 130.2h.1M410.0 123.8h.1M417.0 126.6h.1M407.1 136.6h.1M405.7 138.5h.1M405.0 136.6h.1M409.8 137.2h.1M409.0 128.8h.1M411.3 131.5h.1M413.3 134.8h.1M405.4 137.3h.1M405.5 135.5h.1M409.5 135.9h.1M411.0 133.6h.1M399.0 151.4h.1M406.4 131.0h.1M414.7 133.5h.1M405.1 137.6h.1M409.0 123.7h.1M414.6 131.4h.1M410.6 129.9h.1M405.1 144.0h.1M411.5 129.6h.1M407.2 132.2h.1M414.8 135.7h.1M404.5 148.9h.1M409.0 145.7h.1M409.9 136.9h.1M401.1 140.1h.1M416.7 128.4h.1M407.9 142.0h.1M413.8 131.2h.1M410.1 132.0h.1M419.3 118.5h.1M412.2 135.4h.1M416.5 127.0h.1M409.1 137.5h.1M409.8 143.0h.1M417.4 135.8h.1M410.8 125.6h.1M408.1 137.7h.1M414.7 129.3h.1M412.2 131.4h.1M408.2 133.6h.1M412.9 134.6h.1M410.4 133.8h.1M409.6 138.9h.1M407.3 132.2h.1M417.7 135.4h.1M411.5 140.8h.1M398.6 148.2h.1M415.1 132.4h.1M410.1 139.7h.1M414.9 133.0h.1M413.6 142.8h.1M411.5 132.5h.1M407.6 135.1h.1M408.3 136.1h.1M413.2 136.6h.1M412.6 133.2h.1M400.5 142.8h.1M414.3 127.5h.1M415.6 129.9h.1M408.8 131.6h.1M405.9 144.7h.1M417.5 132.1h.1M412.3 135.8h.1M412.7 123.7h.1M409.1 137.6h.1M409.8 135.9h.1M411.4 128.0h.1M405.7 148.3h.1M412.8 138.9h.1M409.6 135.7h.1M404.8 149.2h.1M407.3 140.2h.1M412.7 134.2h.1M413.1 133.6h.1M418.8 126.7h.1M412.2 128.6h.1M401.0 140.0h.1M415.7 131.6h.1M408.3 130.8h.1M408.7 133.1h.1M408.4 142.2h.1M418.4 124.9h.1M414.0 123.5h.1M411.9 133.3h.1M408.4 139.8h.1M407.9 142.0h.1M401.8 138.7h.1M417.0 131.5h.1M403.8 144.1h.1M408.6 125.3h.1M409.2 135.4h.1M405.6 129.6h.1M412.4 130.1h.1M416.9 120.2h.1M410.3 129.1h.1M411.5 136.5h.1M411.2 132.3h.1M409.0 133.0h.1M411.9 135.2h.1M409.2 133.3h.1M404.2 139.0h.1M414.1 134.2h.1M406.3 142.7h.1M412.5 127.3h.1M410.8 137.7h.1M403.9 140.1h.1M408.9 129.0h.1M413.6 131.2h.1M409.8 133.5h.1M407.2 144.3h.1M406.5 142.4h.1M410.5 130.7h.1M417.3 121.3h.1M410.4 132.7h.1M412.1 133.3h.1M408.8 129.4h.1M405.0 138.4h.1M415.0 128.7h.1M406.7 137.5h.1M403.3 130.7h.1M408.8 139.9h.1M402.8 139.8h.1M400.8 135.5h.1M407.8 140.2h.1M406.7 135.8h.1M420.4 128.2h.1M407.4 130.9h.1M406.7 136.9h.1M409.1 130.9h.1M407.8 137.6h.1M410.9 126.5h.1M409.5 128.2h.1M407.1 135.6h.1M410.6 135.1h.1M410.7 134.2h.1M406.9 140.4h.1M407.1 141.5h.1M411.8 136.3h.1M410.6 141.4h.1M410.2 134.7h.1M415.0 130.6h.1M410.3 136.2h.1M415.1 132.6h.1M418.9 125.8h.1M409.9 137.5h.1M415.0 126.2h.1M401.9 136.4h.1M406.8 141.3h.1M407.9 131.9h.1M408.3 134.6h.1M404.9 142.6h.1M414.8 127.1h.1M411.0 128.4h.1M405.8 139.4h.1M413.1 137.4h.1M408.1 133.9h.1M406.9 142.0h.1M415.2 134.5h.1M408.0 143.4h.1M403.0 143.7h.1M412.0 124.6h.1M408.5 138.2h.1M404.6 137.2h.1M407.3 134.6h.1M411.9 140.7h.1M419.4 123.1h.1M410.6 131.2h.1M415.0 130.6h.1M414.4 129.9h.1M415.8 121.3h.1M404.1 148.0h.1M414.3 130.7h.1M414.3 135.2h.1M405.0 131.1h.1M417.3 129.3h.1M413.1 131.2h.1M402.0 143.1h.1M411.1 133.0h.1M412.1 136.6h.1M416.5 129.3h.1M400.8 145.2h.1M410.0 129.5h.1M415.7 136.1h.1M415.7 132.3h.1M409.6 131.2h.1M399.6 144.6h.1M413.6 131.0h.1M407.5 133.3h.1M411.9 141.2h.1M417.3 131.0h.1M413.3 136.3h.1M413.8 123.9h.1M412.9 127.7h.1M404.9 140.0h.1M417.1 132.1h.1M405.8 132.2h.1M411.1 135.1h.1M402.7 131.7h.1M412.5 128.0h.1M412.4 141.5h.1M411.6 131.8h.1M407.7 144.6h.1M407.1 130.4h.1M405.7 141.6h.1M403.0 140.3h.1M412.1 135.7h.1M408.7 142.1h.1M413.1 127.6h.1M406.6 140.8h.1M417.4 126.1h.1M411.3 128.8h.1M407.4 132.2h.1M413.0 131.1h.1M412.1 133.8h.1M418.6 121.0h.1M410.3 130.7h.1M408.7 138.0h.1M410.2 131.5h.1M406.2 134.9h.1M410.7 135.2h.1M409.1 138.2h.1M409.3 137.9h.1M408.8 127.4h.1M410.3 134.8h.1M412.3 129.7h.1M410.0 136.6h.1M407.6 133.7h.1M407.7 136.6h.1M417.1 128.2h.1M412.7 123.3h.1M408.9 134.3h.1M409.7 127.4h.1M404.4 142.2h.1M406.5 142.0h.1M415.1 131.3h.1M402.3 143.4h.1M415.4 116.1h.1M415.6 129.5h.1M415.6 124.1h.1M408.7 134.2h.1M406.5 142.6h.1M406.5 139.1h.1M408.6 140.0h.1M414.5 130.1h.1M403.9 138.9h.1M412.2 141.4h.1M413.3 124.1h.1M408.6 142.6h.1M408.2 138.0h.1M416.2 127.0h.1M417.5 119.1h.1M406.9 145.0h.1M402.1 148.4h.1M411.9 140.4h.1M413.7 134.5h.1M410.5 134.7h.1M406.9 136.8h.1M408.5 143.1h.1M407.7 126.6h.1M409.7 137.9h.1M406.2 137.2h.1M415.2 136.5h.1M417.3 126.9h.1M413.5 134.6h.1M421.3 120.3h.1M413.5 138.3h.1M413.3 131.2h.1M406.0 148.3h.1M404.0 136.0h.1M410.4 134.5h.1M407.4 138.1h.1M413.4 141.8h.1M404.6 135.6h.1M403.2 138.0h.1M411.6 139.0h.1M413.3 135.2h.1M413.5 133.0h.1M403.3 138.8h.1M413.2 137.3h.1M410.5 140.5h.1M417.3 130.9h.1M414.9 123.4h.1M408.7 131.9h.1M414.2 133.0h.1M406.5 134.3h.1M411.4 131.0h.1M411.9 136.6h.1M405.0 141.1h.1M410.8 125.0h.1M413.9 118.9h.1M410.9 129.7h.1M406.8 132.4h.1M411.8 131.3h.1M414.7 123.6h.1M404.2 134.6h.1M412.9 129.8h.1M413.0 134.2h.1M406.8 148.9h.1M410.6 137.0h.1M417.0 133.2h.1M413.9 133.2h.1M413.0 136.4h.1M407.0 141.9h.1M414.7 134.4h.1M411.2 133.2h.1M412.0 130.8h.1M413.8 122.2h.1M407.7 132.4h.1M409.6 125.3h.1M412.5 131.5h.1M422.5 119.2h.1M409.9 129.9h.1M417.5 117.5h.1M408.4 140.7h.1M404.4 140.3h.1M406.7 128.4h.1M408.9 134.3h.1M415.5 126.6h.1M412.3 128.8h.1M415.3 130.2h.1M402.7 136.0h.1M413.5 135.7h.1M415.7 130.1h.1M406.0 136.0h.1M411.0 134.0h.1M417.4 128.1h.1M407.8 132.8h.1M408.1 130.8h.1M418.5 128.6h.1M410.1 130.2h.1M403.3 141.4h.1M405.9 130.6h.1M409.3 133.0h.1M409.5 130.7h.1M417.2 119.7h.1M412.1 125.9h.1M406.3 130.6h.1M406.5 136.8h.1M414.7 129.4h.1M411.2 132.7h.1M409.3 123.2h.1M414.7 133.5h.1M415.1 128.5h.1M409.7 139.5h.1M406.4 133.1h.1M412.9 134.6h.1M409.0 139.3h.1M411.8 131.5h.1M407.8 135.3h.1M407.7 135.2h.1M411.3 139.6h.1M413.1 135.9h.1M409.1 145.7h.1M410.2 126.8h.1M412.3 131.7h.1M411.7 130.1h.1M414.3 126.2h.1M415.2 134.1h.1M413.8 137.9h.1M417.5 127.3h.1M404.1 133.6h.1M411.9 133.4h.1M402.4 146.3h.1M411.4 138.5h.1M403.5 130.5h.1M412.2 129.8h.1M416.1 132.8h.1M414.6 128.7h.1M407.8 136.9h.1M406.0 136.0h.1M411.9 133.2h.1M406.2 137.9h.1M408.4 136.0h.1M410.0 133.4h.1M405.3 146.7h.1M404.4 143.1h.1M408.7 130.1h.1M408.1 138.4h.1M413.5 130.0h.1M401.5 133.3h.1M405.3 139.5h.1M410.5 129.5h.1M413.3 137.7h.1M408.5 130.5h.1M412.4 140.4h.1M404.7 137.4h.1M408.4 135.7h.1M409.1 139.6h.1M411.5 136.3h.1M406.7 140.1h.1M412.3 132.7h.1M417.1 131.8h.1M408.9 130.0h.1M410.3 144.0h.1M414.5 127.0h.1M406.1 145.5h.1M406.8 130.9h.1M414.5 135.7h.1M410.0 128.3h.1M406.9 137.7h.1M416.3 141.2h.1M417.5 129.2h.1M415.6 128.4h.1M409.9 141.8h.1M408.8 135.7h.1M406.3 138.3h.1M399.5 148.6h.1M415.6 128.4h.1M406.8 137.6h.1M411.0 134.2h.1M409.7 132.1h.1M406.4 142.2h.1M413.1 128.9h.1M409.0 138.8h.1M404.4 142.4h.1M411.0 132.1h.1M413.3 134.6h.1M414.0 140.4h.1M407.4 133.3h.1M413.4 123.1h.1M412.6 130.2h.1M407.2 132.7h.1M409.2 136.6h.1M416.2 123.3h.1M410.0 137.5h.1M400.9 144.4h.1M409.2 124.5h.1M409.2 137.6h.1M405.2 148.3h.1M403.1 141.4h.1M403.7 141.3h.1M401.7 146.8h.1M411.6 140.8h.1M407.6 137.5h.1M414.7 124.2h.1M410.7 135.2h.1M407.2 137.2h.1M410.1 135.5h.1M409.7 132.6h.1M413.3 128.3h.1M414.9 126.7h.1M399.7 143.9h.1M405.7 143.3h.1M408.5 133.6h.1M413.6 121.4h.1M411.1 138.6h.1M414.0 128.0h.1M410.7 138.8h.1M408.9 137.9h.1M412.4 137.4h.1M412.2 124.7h.1M408.7 137.2h.1M413.6 135.5h.1M410.0 131.7h.1M415.6 130.0h.1M414.1 135.8h.1M411.8 128.3h.1M415.3 123.9h.1M414.5 130.4h.1M407.2 135.6h.1M408.6 134.5h.1M410.6 132.3h.1M406.7 134.5h.1M406.0 140.6h.1M404.1 138.2h.1M407.6 137.1h.1M403.2 145.7h.1M426.5 120.3h.1M413.7 129.5h.1M403.5 135.1h.1M409.4 139.5h.1M414.3 127.0h.1M407.0 143.3h.1M411.7 142.8h.1M411.8 127.1h.1M405.0 132.2h.1M408.3 127.3h.1M411.1 133.9h.1M412.5 135.4h.1M409.6 138.8h.1M410.4 130.6h.1M412.0 133.3h.1M408.9 131.8h.1M408.1 136.4h.1M417.1 128.5h.1M413.4 135.3h.1M409.9 129.4h.1M404.4 140.2h.1M405.0 144.2h.1M408.6 127.8h.1M408.3 138.2h.1M408.3 139.7h.1M411.4 132.0h.1M412.9 125.4h.1M415.3 138.9h.1M408.9 135.8h.1M411.2 131.3h.1M414.1 132.0h.1M412.6 134.9h.1M401.4 143.5h.1M413.8 130.2h.1M408.6 139.3h.1M414.2 120.3h.1M411.3 140.0h.1M404.5 129.6h.1M412.0 135.5h.1M412.5 133.8h.1M421.7 120.9h.1M411.0 136.5h.1M415.9 129.2h.1M411.5 134.8h.1M412.0 137.8h.1M418.8 132.7h.1M408.2 130.6h.1M407.7 134.3h.1M405.5 139.2h.1M410.2 130.9h.1M419.2 112.7h.1M411.7 135.9h.1M404.7 126.5h.1M410.0 138.5h.1M424.1 114.7h.1M400.5 140.1h.1M409.5 138.2h.1M404.3 145.5h.1M415.0 131.3h.1M411.4 133.6h.1M410.3 130.9h.1M409.4 133.8h.1M418.3 126.3h.1M412.6 124.8h.1M415.9 128.1h.1M406.0 152.6h.1M405.1 138.5h.1M409.7 133.1h.1M413.6 129.1h.1M403.8 151.9h.1M413.2 123.5h.1M412.0 132.4h.1M417.0 125.3h.1M405.2 140.5h.1M407.2 138.4h.1M410.2 142.1h.1M405.1 136.3h.1M412.2 141.1h.1M407.0 145.9h.1M413.4 125.8h.1M412.2 131.0h.1M405.6 138.1h.1M402.4 145.9h.1M420.0 130.3h.1M399.7 146.3h.1M408.1 141.6h.1M406.3 142.0h.1M409.9 139.7h.1M414.5 132.9h.1M411.2 128.2h.1M410.0 131.7h.1M405.9 141.0h.1M415.9 127.2h.1M409.8 124.9h.1M411.7 129.0h.1M416.0 119.0h.1M406.7 140.6h.1M407.0 138.5h.1M404.8 137.5h.1M405.5 136.7h.1M409.3 128.9h.1M410.5 132.9h.1M408.6 136.6h.1M416.8 128.8h.1M410.4 135.0h.1M409.9 138.4h.1M410.4 139.2h.1M406.1 142.2h.1M409.2 135.6h.1M409.3 140.5h.1M414.2 137.2h.1M412.0 132.4h.1M411.6 131.5h.1M407.9 136.7h.1M418.3 124.0h.1M410.0 143.1h.1M417.1 132.5h.1M410.3 134.2h.1M412.6 133.4h.1M406.5 137.7h.1M411.4 141.0h.1M408.7 128.8h.1M405.3 145.2h.1M411.1 133.9h.1M405.2 143.1h.1M402.7 144.7h.1M408.3 132.9h.1M413.2 140.3h.1M417.7 123.4h.1M403.6 144.6h.1M409.1 132.8h.1M409.9 133.5h.1M413.0 134.6h.1M407.6 136.7h.1M405.6 144.5h.1M412.4 130.0h.1M409.3 128.3h.1M411.6 132.2h.1M409.8 132.1h.1M410.1 125.2h.1M410.6 127.1h.1M415.6 131.8h.1M411.0 139.6h.1M418.5 130.9h.1M404.7 138.3h.1M411.8 132.3h.1M408.5 141.2h.1M409.9 135.5h.1M415.6 131.1h.1M407.8 135.5h.1M415.4 129.8h.1M406.4 136.1h.1M414.7 123.9h.1M409.9 135.4h.1M416.8 117.8h.1M413.0 130.4h.1M410.1 134.7h.1M403.6 139.6h.1M404.5 134.7h.1M414.9 121.7h.1M402.7 140.1h.1M409.4 146.0h.1M410.7 132.4h.1M414.1 126.8h.1M410.2 137.3h.1M406.1 138.9h.1M404.5 133.2h.1M408.1 135.0h.1M410.7 126.1h.1M412.4 121.1h.1M406.2 133.5h.1M407.4 139.3h.1M408.0 142.5h.1M401.8 143.4h.1M407.6 133.7h.1M406.4 144.5h.1M408.1 127.9h.1M411.5 136.9h.1M411.0 140.3h.1M414.7 125.7h.1M408.1 146.7h.1M413.3 129.1h.1M410.6 133.8h.1M412.4 133.6h.1M409.8 134.4h.1M409.8 143.0h.1M417.7 133.7h.1M411.7 126.0h.1M401.4 145.5h.1M408.2 132.7h.1M410.7 135.7h.1M408.0 135.6h.1M412.2 132.3h.1M406.4 134.1h.1M411.8 138.4h.1M413.0 126.8h.1M408.2 140.9h.1M407.0 136.0h.1M408.5 136.9h.1M412.1 141.6h.1M409.2 138.1h.1M416.9 127.2h.1M406.3 139.0h.1M415.6 118.1h.1M408.2 145.7h.1M401.4 148.7h.1M410.4 140.1h.1M407.3 142.9h.1M413.5 126.7h.1M408.3 130.1h.1M405.5 140.4h.1M407.7 134.9h.1M410.2 137.1h.1M418.5 118.7h.1M408.9 132.8h.1M410.4 132.7h.1M411.2 131.0h.1M409.7 132.6h.1M405.8 132.4h.1M403.8 138.0h.1M406.6 132.1h.1M409.6 132.7h.1M407.8 143.7h.1M413.2 135.6h.1M405.7 142.0h.1M407.3 146.0h.1M414.7 137.5h.1M412.3 131.8h.1M407.2 125.9h.1M408.2 137.9h.1M405.0 143.3h.1M407.3 140.1h.1M408.7 135.9h.1M413.0 137.0h.1M410.7 131.3h.1M407.3 134.6h.1M412.5 127.7h.1M407.2 138.1h.1M411.3 131.6h.1M410.1 129.7h.1M414.0 133.6h.1M416.6 133.8h.1M407.8 141.8h.1M412.7 129.2h.1M406.8 136.9h.1M411.3 136.6h.1M406.3 140.5h.1M411.2 132.3h.1M406.7 136.3h.1M409.0 139.3h.1M410.5 129.5h.1M405.7 138.2h.1M411.8 132.6h.1M410.9 133.6h.1M412.8 131.8h.1M411.9 135.1h.1M407.8 142.7h.1M413.2 135.0h.1M409.3 131.3h.1M414.8 122.5h.1M416.1 123.2h.1M412.4 128.9h.1M412.9 128.4h.1M398.2 148.2h.1M406.1 136.6h.1M407.4 141.5h.1M410.1 129.9h.1M415.8 133.3h.1M413.0 131.7h.1M413.8 131.8h.1M410.3 131.8h.1M411.1 135.8h.1M410.2 139.0h.1M414.1 131.0h.1M413.7 136.2h.1M416.7 129.6h.1M411.1 138.4h.1M408.3 135.6h.1M406.9 138.9h.1M410.2 129.4h.1M403.3 137.3h.1M400.4 147.7h.1M412.1 141.7h.1M409.5 139.5h.1M406.2 132.5h.1M408.5 136.4h.1M413.1 126.2h.1M410.5 132.2h.1M416.6 130.2h.1M413.4 125.3h.1M413.7 128.2h.1M415.5 130.0h.1M407.7 136.8h.1M407.2 129.5h.1M410.3 135.2h.1M415.8 131.3h.1M408.6 138.1h.1M414.5 131.5h.1M414.7 140.5h.1M413.7 130.4h.1M413.0 126.4h.1M416.4 128.0h.1M409.1 136.9h.1M414.6 126.4h.1M406.0 145.4h.1M411.7 133.8h.1M406.6 143.4h.1M410.9 134.6h.1M406.8 141.8h.1M408.8 133.9h.1M409.2 139.3h.1M416.3 127.6h.1M415.7 120.4h.1M414.6 129.9h.1M408.1 125.2h.1M412.3 131.7h.1M405.0 132.3h.1M408.9 135.3h.1M405.8 141.0h.1M405.5 137.9h.1M411.7 128.8h.1M409.3 136.9h.1M412.3 132.3h.1M409.8 140.9h.1M419.8 121.4h.1M412.4 124.8h.1M416.1 137.8h.1M411.8 120.5h.1M409.5 129.9h.1M414.5 127.9h.1M405.4 132.9h.1M404.2 134.5h.1M411.9 124.0h.1M418.7 132.7h.1M418.0 131.7h.1M411.8 127.2h.1M413.8 134.9h.1M407.9 136.4h.1M412.6 132.3h.1M403.9 144.4h.1M411.5 134.0h.1M413.9 127.3h.1M414.0 137.7h.1M416.3 122.8h.1M411.6 137.4h.1M404.6 139.1h.1M413.9 131.5h.1M408.8 134.6h.1M410.9 129.7h.1M408.8 138.3h.1M414.3 131.9h.1M410.5 133.3h.1M411.6 132.8h.1M411.5 127.4h.1M410.4 140.1h.1M412.9 136.7h.1M412.2 126.5h.1M413.7 126.4h.1M409.7 128.3h.1M403.6 139.2h.1M415.8 135.3h.1M408.6 136.3h.1M409.1 135.9h.1M405.5 143.5h.1M401.7 145.7h.1M408.6 125.7h.1M413.5 129.6h.1M406.3 143.2h.1M407.7 135.6h.1M408.8 132.9h.1M409.0 137.9h.1M409.9 130.1h.1M405.8 134.9h.1M407.5 143.4h.1M406.0 135.2h.1M413.8 132.6h.1M404.4 138.2h.1M415.1 130.9h.1M415.9 129.0h.1M415.8 132.4h.1M413.0 131.3h.1M410.3 134.9h.1M412.6 131.2h.1M409.2 139.2h.1M403.9 148.9h.1M409.6 139.3h.1M416.0 126.1h.1M413.4 127.9h.1M408.7 141.6h.1M409.5 135.6h.1M411.0 140.2h.1M410.2 143.3h.1M407.6 135.5h.1M415.0 130.7h.1M410.5 134.0h.1M412.3 137.3h.1M407.6 149.5h.1M420.7 123.0h.1M409.2 142.7h.1M407.3 132.7h.1M414.9 130.5h.1M410.5 133.1h.1M414.1 130.0h.1M403.1 148.5h.1M410.9 141.4h.1M405.7 137.2h.1M405.9 142.4h.1M406.8 144.7h.1M411.2 128.2h.1M410.5 144.3h.1M415.7 128.9h.1M412.4 128.7h.1M405.5 134.7h.1M407.5 143.6h.1M404.1 135.8h.1M405.3 137.4h.1M410.7 139.7h.1M406.8 138.6h.1M407.8 132.8h.1M412.0 137.6h.1M406.5 133.0h.1M414.3 136.7h.1M410.7 125.4h.1M413.8 120.9h.1M406.3 132.3h.1M408.1 134.0h.1M409.3 135.2h.1M417.4 130.8h.1M408.1 128.1h.1M409.1 133.0h.1M407.8 134.3h.1M413.7 131.8h.1M419.3 131.1h.1M407.9 136.5h.1M414.0 133.1h.1M404.9 145.5h.1M406.9 137.8h.1M415.2 133.3h.1M404.4 143.5h.1M407.7 144.6h.1M412.7 133.8h.1M402.4 145.5h.1M413.2 138.4h.1M418.3 122.7h.1M412.1 132.7h.1M413.3 122.6h.1M415.5 125.2h.1M406.4 138.3h.1M412.6 137.2h.1M415.4 134.2h.1M414.3 128.1h.1M410.9 123.8h.1M411.5 129.2h.1M412.6 133.1h.1M407.5 144.1h.1M408.8 138.4h.1M409.9 141.5h.1M404.5 144.7h.1M404.5 146.5h.1M409.0 136.5h.1M408.9 142.4h.1M406.9 141.5h.1M406.6 140.1h.1M409.2 143.4h.1M406.3 141.6h.1M407.7 142.3h.1M405.2 147.1h.1M408.7 143.9h.1M406.2 142.6h.1M409.6 139.8h.1M409.2 139.8h.1M405.4 141.8h.1M411.2 145.0h.1M405.9 140.6h.1M406.9 134.9h.1M408.9 139.3h.1M406.6 143.6h.1M409.5 138.5h.1M404.3 142.9h.1M405.4 136.6h.1M408.4 142.3h.1M409.6 147.4h.1M406.0 142.3h.1M406.9 142.2h.1M409.0 139.4h.1M409.5 138.9h.1M407.5 147.8h.1M405.9 142.5h.1M409.8 140.0h.1M407.5 140.2h.1M408.6 141.0h.1M409.4 141.1h.1M410.9 141.8h.1M407.2 137.3h.1M406.6 142.6h.1M403.1 146.4h.1M405.6 139.0h.1M405.4 142.6h.1M404.1 145.2h.1M410.5 143.9h.1M404.3 142.2h.1M405.7 140.9h.1M405.5 147.4h.1M410.1 142.0h.1M406.5 141.4h.1M407.6 141.4h.1M403.9 141.9h.1M407.7 144.9h.1M408.7 139.6h.1M407.2 139.6h.1M406.0 141.8h.1M407.0 145.7h.1M410.0 142.0h.1M407.0 143.3h.1M405.4 137.7h.1M407.2 144.1h.1M408.0 141.8h.1M406.4 140.0h.1M405.6 142.5h.1M406.0 139.1h.1M405.9 145.5h.1M410.1 139.4h.1M405.2 141.8h.1M406.8 142.9h.1M406.8 142.1h.1M408.0 143.6h.1M407.1 144.1h.1M408.5 142.1h.1M407.0 143.7h.1M407.6 143.1h.1M407.8 141.7h.1M407.3 142.5h.1M404.3 142.4h.1M405.8 138.2h.1M410.6 137.7h.1M403.9 141.5h.1M407.8 139.3h.1M409.2 145.6h.1M406.3 142.0h.1M407.5 145.6h.1M404.6 141.9h.1M406.7 143.9h.1M404.7 140.4h.1M404.5 141.0h.1M411.2 137.3h.1M407.1 144.6h.1M406.5 139.2h.1M409.6 140.7h.1M404.5 145.7h.1M403.0 144.5h.1M408.6 139.9h.1M404.2 143.6h.1M403.8 140.4h.1M402.5 147.2h.1M404.4 143.4h.1M407.5 142.8h.1M412.7 141.8h.1M410.1 136.9h.1M406.1 143.0h.1M408.6 137.8h.1M407.0 141.6h.1M407.6 142.8h.1M407.6 142.7h.1M406.6 142.1h.1M406.0 145.9h.1M409.0 143.2h.1M405.0 143.9h.1M407.7 140.9h.1M410.6 135.0h.1M405.9 145.1h.1M409.9 138.1h.1M406.7 145.0h.1M407.2 142.8h.1M407.5 138.5h.1M405.5 138.7h.1M409.4 139.2h.1M408.6 138.1h.1M407.8 143.0h.1M408.4 144.2h.1M408.9 140.8h.1M408.3 140.7h.1M410.3 138.1h.1M404.9 147.2h.1M408.5 139.1h.1M406.3 139.3h.1M407.5 142.8h.1M405.3 143.0h.1M405.1 142.8h.1M404.5 142.3h.1M408.7 137.3h.1M405.8 140.5h.1M406.6 142.1h.1M409.1 142.7h.1M409.6 141.4h.1M409.0 140.3h.1M408.5 142.6h.1M407.9 142.8h.1M406.2 143.5h.1M407.1 141.7h.1M407.5 142.3h.1M405.7 142.6h.1M403.9 140.3h.1M410.5 139.7h.1M409.2 140.3h.1M409.2 142.1h.1M407.4 137.7h.1M406.1 140.4h.1M410.9 140.3h.1M406.4 141.1h.1M411.4 139.7h.1M407.4 139.9h.1M406.6 142.2h.1M405.2 144.1h.1M409.9 143.0h.1M407.1 141.0h.1M405.2 143.8h.1M404.9 140.7h.1M406.0 142.7h.1M407.6 141.0h.1M406.1 145.1h.1M406.3 141.0h.1M409.0 136.4h.1M407.6 138.6h.1M405.8 140.7h.1M409.8 138.3h.1M408.5 143.8h.1M408.3 139.6h.1M405.5 139.4h.1M404.7 141.2h.1M408.9 141.1h.1M407.9 134.1h.1M403.8 142.0h.1M404.5 142.6h.1M411.2 138.7h.1M405.1 142.3h.1M405.6 140.8h.1M403.3 140.3h.1M406.6 143.6h.1M408.3 140.7h.1M403.8 142.6h.1M403.8 142.7h.1M405.4 141.2h.1M408.7 140.8h.1M410.3 138.9h.1M406.7 141.3h.1M407.9 138.9h.1M408.0 137.5h.1M408.9 141.2h.1M410.7 141.2h.1M405.2 140.8h.1M404.7 145.2h.1M408.5 139.9h.1M403.9 143.1h.1M410.0 141.7h.1M405.8 143.4h.1M405.7 144.5h.1M406.3 141.3h.1M405.2 144.4h.1M406.3 140.6h.1M408.6 143.2h.1M407.4 142.4h.1M410.7 138.9h.1M406.8 138.6h.1M404.9 140.8h.1M408.3 139.6h.1M406.7 139.9h.1M406.9 142.4h.1M405.9 145.1h.1M404.0 141.7h.1M410.3 137.2h.1M405.2 140.0h.1M404.5 137.8h.1M411.4 138.8h.1M405.1 142.5h.1M409.3 139.4h.1M402.5 146.8h.1M408.8 146.1h.1M402.8 145.8h.1M408.3 142.4h.1M406.7 141.1h.1M405.3 142.7h.1M404.9 142.1h.1M411.7 134.8h.1M407.3 140.2h.1M408.3 140.6h.1M407.8 145.0h.1M406.7 143.9h.1M408.1 141.5h.1M407.0 142.5h.1M406.6 141.7h.1M406.3 141.9h.1M402.8 144.3h.1M404.8 138.6h.1M408.9 142.0h.1M407.7 140.1h.1M407.6 139.4h.1M410.3 137.6h.1M405.5 141.7h.1M410.6 143.2h.1M408.3 137.7h.1M406.8 142.5h.1M411.6 140.7h.1M406.7 142.8h.1M403.6 140.5h.1M405.5 144.0h.1M403.9 139.7h.1M407.2 134.5h.1M409.5 137.0h.1M407.6 141.5h.1M406.9 139.6h.1M406.8 137.4h.1M402.8 142.0h.1M405.9 142.0h.1M408.0 142.7h.1M401.9 144.1h.1M408.4 145.0h.1M406.4 143.1h.1M406.4 142.1h.1M406.0 141.4h.1M404.3 147.2h.1M407.5 140.3h.1M404.9 141.7h.1M407.7 140.4h.1M409.2 141.0h.1M405.6 141.1h.1M409.6 137.3h.1M405.7 146.3h.1M408.0 142.3h.1M404.4 139.4h.1M409.5 138.4h.1M406.1 141.2h.1M408.5 140.7h.1M407.5 141.2h.1M410.3 136.9h.1M407.2 142.7h.1M404.5 142.7h.1M404.7 141.5h.1M406.5 139.7h.1M409.8 138.7h.1M404.2 147.5h.1M407.8 146.4h.1M407.7 137.2h.1M406.8 142.8h.1M407.6 144.4h.1M407.9 143.7h.1M404.4 142.7h.1M405.7 144.2h.1M406.0 140.5h.1M405.5 143.0h.1M408.4 136.6h.1M402.6 146.9h.1M412.0 143.2h.1M403.9 141.7h.1M411.5 139.0h.1M403.2 142.2h.1M407.6 140.2h.1M410.7 138.6h.1M408.6 140.7h.1M407.2 143.8h.1M406.2 141.5h.1M406.6 140.5h.1M411.3 139.5h.1M409.9 143.0h.1M406.1 138.8h.1M404.7 143.6h.1M409.0 142.7h.1M407.5 137.6h.1M404.8 140.9h.1M405.5 142.1h.1M405.6 141.8h.1M409.6 139.4h.1M412.1 143.3h.1M406.6 139.8h.1M407.0 144.0h.1M401.3 143.5h.1M409.3 139.5h.1M405.5 141.9h.1M409.5 140.3h.1M409.9 141.8h.1M406.8 143.4h.1M402.2 141.9h.1M408.4 139.4h.1M406.5 148.3h.1M401.8 145.8h.1M407.8 136.7h.1M406.9 144.2h.1M407.1 141.0h.1M408.7 139.1h.1M411.5 137.5h.1M405.3 143.7h.1M409.0 143.6h.1M407.9 139.1h.1M405.5 140.5h.1M407.0 144.2h.1M407.5 138.7h.1M403.2 144.6h.1M407.7 138.7h.1M404.8 140.2h.1M407.0 141.5h.1M407.0 143.9h.1M405.4 141.3h.1M407.9 138.6h.1M410.6 143.2h.1M408.7 138.9h.1M409.0 141.0h.1M406.9 142.8h.1M406.4 142.1h.1M404.8 139.9h.1M405.7 142.2h.1M410.2 139.1h.1M406.0 144.8h.1M409.4 137.4h.1M405.3 142.7h.1M401.6 140.8h.1M408.4 142.6h.1M405.8 145.1h.1M408.2 136.8h.1M410.1 138.2h.1M409.0 138.1h.1M412.2 139.2h.1M411.4 140.4h.1M403.1 145.0h.1M409.6 141.1h.1M404.7 142.4h.1M409.1 140.1h.1M406.1 141.9h.1M404.5 141.4h.1M406.7 144.5h.1M409.1 141.1h.1M407.1 137.9h.1M405.3 144.0h.1M407.8 140.9h.1M406.4 139.6h.1M408.3 142.8h.1M406.7 142.1h.1M410.8 140.2h.1M411.1 139.9h.1M407.2 139.2h.1M406.4 138.7h.1M408.0 139.6h.1M408.2 144.4h.1M407.1 141.8h.1M406.6 141.1h.1M405.6 143.7h.1M406.6 138.6h.1M411.2 138.1h.1M409.8 136.6h.1M407.2 142.4h.1M406.4 142.7h.1M406.3 143.8h.1M407.4 139.5h.1M408.7 143.0h.1M409.3 139.2h.1M404.8 143.7h.1M406.0 140.3h.1M404.5 141.8h.1M407.2 140.8h.1M405.0 140.9h.1M402.2 144.5h.1M408.5 139.8h.1M404.2 139.4h.1M405.1 139.6h.1M407.3 142.0h.1M405.7 143.8h.1M407.8 142.0h.1M408.4 139.9h.1M409.2 137.4h.1M407.0 140.8h.1M406.8 143.2h.1M408.2 138.4h.1M404.9 140.8h.1M405.3 141.2h.1M406.1 140.9h.1M408.5 140.5h.1M405.6 144.6h.1M404.8 139.6h.1M406.9 141.6h.1M407.5 143.3h.1M408.4 136.8h.1M402.1 143.4h.1M409.2 143.2h.1M404.9 139.4h.1M408.8 142.1h.1M408.1 137.3h.1M403.6 146.2h.1M407.4 142.9h.1M407.0 144.5h.1M406.3 145.8h.1M407.9 144.2h.1M408.2 141.0h.1M405.1 141.2h.1M410.5 137.4h.1M401.8 143.0h.1M407.9 141.0h.1M408.5 141.6h.1M407.3 141.3h.1M405.7 138.4h.1M407.7 142.8h.1M407.9 140.4h.1M405.2 141.0h.1M407.0 143.1h.1M404.9 143.1h.1M406.7 142.6h.1M408.5 140.1h.1M406.5 142.7h.1M408.6 140.1h.1M405.7 141.1h.1M409.4 143.1h.1M411.0 139.9h.1M406.0 144.6h.1M409.2 143.2h.1M409.9 140.4h.1M409.8 141.4h.1M407.9 140.7h.1M411.8 140.0h.1M406.9 142.8h.1M408.3 141.8h.1M408.5 136.4h.1M407.7 145.7h.1M410.5 141.9h.1M410.5 141.7h.1M409.4 141.8h.1M409.3 141.4h.1M405.1 142.7h.1M408.7 141.9h.1M407.4 141.9h.1M408.1 140.7h.1M406.8 140.5h.1M412.2 138.7h.1M410.1 140.0h.1M410.7 136.7h.1M406.9 137.8h.1M409.0 141.1h.1M409.6 140.5h.1M408.4 137.7h.1M406.0 143.1h.1M405.0 144.7h.1M402.5 142.7h.1M409.6 140.4h.1M405.7 141.4h.1M404.1 140.1h.1M408.2 141.6h.1M405.3 137.3h.1M405.7 141.5h.1M405.6 142.8h.1M404.4 141.0h.1M408.2 139.4h.1M410.6 144.3h.1M407.9 139.8h.1M409.1 139.3h.1M409.0 143.4h.1M405.0 142.5h.1M406.2 144.7h.1M407.7 143.4h.1" stroke="#f04848" stroke-width="0.7" stroke-linecap="round" opacity="0.17" fill="none"/>
<path d="M414.5 129.7h.1M412.8 134.0h.1M411.4 131.4h.1M408.7 128.9h.1M410.9 145.0h.1M412.7 130.4h.1M406.3 141.5h.1M407.9 142.3h.1M405.1 134.1h.1M407.4 138.7h.1M414.8 132.1h.1M407.3 138.6h.1M411.8 135.9h.1M407.0 136.8h.1M407.0 140.4h.1M405.8 137.5h.1M409.4 140.0h.1M408.1 136.4h.1M405.2 136.6h.1M410.6 134.3h.1M409.8 139.4h.1M409.7 136.6h.1M411.2 130.7h.1M410.1 135.8h.1M413.1 126.0h.1M406.6 135.9h.1M410.6 136.9h.1M412.5 136.3h.1M412.4 133.6h.1M412.9 135.7h.1M409.8 138.2h.1M408.6 138.4h.1M410.8 140.5h.1M408.5 137.3h.1M405.7 143.5h.1M409.1 143.7h.1M407.1 142.4h.1M414.3 133.2h.1M408.0 135.9h.1M411.1 133.6h.1M407.4 138.0h.1M406.8 134.9h.1M405.9 140.2h.1M404.9 145.2h.1M407.6 138.2h.1M408.5 139.9h.1M407.5 140.0h.1M402.9 141.5h.1M410.9 135.7h.1M410.4 134.5h.1M409.3 135.2h.1M410.1 132.9h.1M405.8 140.2h.1M411.9 136.2h.1M409.5 138.2h.1M407.9 139.5h.1M408.2 137.2h.1M405.7 140.8h.1M407.3 138.5h.1M408.5 137.6h.1M406.9 145.4h.1M413.7 132.6h.1M412.7 134.7h.1M408.8 133.7h.1M409.2 129.4h.1M411.5 135.6h.1M412.4 136.4h.1M412.6 131.3h.1M407.4 139.2h.1M407.1 143.3h.1M411.0 134.0h.1M407.1 137.9h.1M410.1 133.2h.1M410.8 135.3h.1M409.7 141.4h.1M408.9 137.9h.1M404.7 141.0h.1M411.8 138.8h.1M405.7 136.9h.1M410.0 134.2h.1M409.7 128.8h.1M410.4 137.0h.1M409.6 139.3h.1M411.4 138.2h.1M408.2 137.7h.1M407.6 139.2h.1M409.6 136.7h.1M406.4 141.9h.1M406.3 140.4h.1M410.6 137.2h.1M408.9 133.0h.1M412.6 136.8h.1M409.1 139.0h.1M410.3 132.8h.1M409.8 136.5h.1M411.8 130.5h.1M412.5 136.9h.1M409.3 137.8h.1M406.5 142.3h.1M413.7 133.7h.1M409.7 133.1h.1M413.6 133.2h.1M409.2 140.4h.1M409.0 142.9h.1M411.1 131.9h.1M410.2 138.2h.1M403.0 146.7h.1M408.6 134.2h.1M407.0 142.9h.1M410.5 131.5h.1M407.8 131.7h.1M407.9 146.8h.1M412.5 137.7h.1M405.6 136.1h.1M411.5 135.9h.1M401.3 139.8h.1M404.5 142.4h.1M414.6 136.0h.1M403.4 144.6h.1M408.8 138.0h.1M409.4 135.7h.1M408.7 133.9h.1M410.5 136.7h.1M413.7 128.7h.1M410.8 132.6h.1M411.5 139.6h.1M409.0 138.3h.1M406.9 140.2h.1M409.0 136.7h.1M412.6 129.0h.1M410.1 134.7h.1M412.0 139.6h.1M408.0 143.0h.1M407.3 149.1h.1M408.0 137.5h.1M405.5 139.7h.1M409.1 135.9h.1M410.1 143.7h.1M410.8 134.9h.1M406.8 137.7h.1M406.6 139.5h.1M407.9 135.6h.1M406.3 138.7h.1M410.5 138.6h.1M406.8 140.2h.1M409.0 135.4h.1M407.2 145.1h.1M409.5 138.4h.1M410.0 135.4h.1M406.9 132.4h.1M407.8 134.4h.1M411.1 132.3h.1M409.0 136.5h.1M416.5 128.6h.1M407.5 139.5h.1M402.9 144.7h.1M405.1 146.5h.1M404.0 144.6h.1M406.1 136.4h.1M405.8 144.6h.1M408.5 144.7h.1M410.1 134.9h.1M405.4 144.8h.1M403.9 134.9h.1M410.4 134.2h.1M411.1 133.0h.1M407.2 135.7h.1M407.2 143.8h.1M407.2 141.8h.1M411.6 132.0h.1M412.0 131.4h.1M407.1 138.9h.1M410.0 133.9h.1M414.2 136.6h.1M405.9 138.0h.1M411.4 133.8h.1M405.6 140.5h.1M409.6 135.1h.1M408.7 134.6h.1M405.9 137.0h.1M407.8 140.0h.1M412.4 131.7h.1M406.3 140.4h.1M407.0 141.2h.1M402.7 141.6h.1M408.5 138.6h.1M409.2 138.8h.1M403.4 139.1h.1M412.0 133.6h.1M407.4 136.3h.1M410.8 135.7h.1M404.7 142.5h.1M405.1 137.4h.1M409.1 130.0h.1M411.3 133.6h.1M408.4 135.1h.1M408.7 131.8h.1M409.8 134.4h.1M405.8 134.5h.1M406.6 134.4h.1M406.4 133.9h.1M407.7 138.9h.1M411.3 129.9h.1M415.4 128.7h.1M410.5 137.4h.1M407.5 136.9h.1M414.4 128.4h.1M409.4 135.4h.1M411.6 135.8h.1M410.8 135.9h.1M410.9 137.9h.1M407.4 138.3h.1M411.5 134.6h.1M405.5 142.9h.1M409.6 132.4h.1M412.2 131.4h.1M408.1 138.0h.1M403.8 136.7h.1M411.5 128.8h.1M405.4 136.4h.1M404.8 138.0h.1M408.9 132.6h.1M405.5 141.1h.1M407.4 146.9h.1M407.7 136.7h.1M409.4 140.1h.1M409.5 141.4h.1M407.3 140.1h.1M405.3 138.6h.1M406.9 137.8h.1M402.8 145.6h.1M408.7 133.3h.1M406.5 137.8h.1M409.7 139.6h.1M409.9 139.3h.1M410.0 133.8h.1M407.3 135.0h.1M413.0 128.3h.1M405.7 146.5h.1M411.2 134.3h.1M411.3 133.7h.1M404.0 149.4h.1M411.6 135.8h.1M405.5 136.3h.1M408.0 137.6h.1M411.5 138.7h.1M409.0 135.4h.1M406.9 138.3h.1M405.6 139.4h.1M412.3 134.2h.1M411.9 138.8h.1M406.1 131.8h.1M416.1 127.6h.1M408.4 143.9h.1M406.5 140.7h.1M405.2 139.1h.1M406.5 136.8h.1M413.3 131.2h.1M409.4 135.4h.1M412.0 133.5h.1M412.3 129.6h.1M405.8 145.9h.1M403.3 136.5h.1M405.1 139.0h.1M409.7 135.7h.1M406.8 141.6h.1M409.2 129.5h.1M408.8 139.9h.1M407.5 140.6h.1M407.3 141.9h.1M405.9 142.6h.1M405.4 136.0h.1M408.5 140.3h.1M411.4 137.1h.1M409.6 140.2h.1M410.5 136.0h.1M411.4 137.7h.1M412.9 134.0h.1M411.5 135.1h.1M406.6 139.1h.1M410.5 132.1h.1M408.0 139.9h.1M406.1 140.7h.1M410.2 133.7h.1M406.2 142.5h.1M408.8 140.9h.1M404.1 142.8h.1M405.6 143.4h.1M409.5 136.4h.1M407.3 141.4h.1M411.5 130.5h.1M411.5 131.6h.1M411.4 137.1h.1M408.3 140.6h.1M410.6 138.5h.1M413.3 141.0h.1M413.1 134.0h.1M400.1 142.8h.1M411.4 139.6h.1M408.8 137.2h.1M407.9 135.1h.1M410.2 134.8h.1M407.9 139.1h.1M411.5 135.8h.1M407.5 142.8h.1M412.0 133.5h.1M411.3 136.9h.1M408.5 138.1h.1M409.5 132.4h.1M405.4 139.5h.1M402.1 142.8h.1M408.4 134.9h.1M402.7 134.2h.1M407.5 138.6h.1M409.1 141.1h.1M412.0 136.8h.1M409.7 133.6h.1M405.1 140.4h.1M404.0 142.2h.1M409.7 134.6h.1M403.9 140.6h.1M410.8 132.2h.1M411.9 132.0h.1M407.6 139.9h.1M412.8 128.0h.1M406.8 137.9h.1M410.4 138.8h.1M410.1 138.7h.1M407.2 134.6h.1M410.7 134.3h.1M407.0 134.9h.1M405.9 139.6h.1M407.2 138.4h.1M403.2 142.5h.1M406.7 141.6h.1M407.5 136.1h.1M406.9 136.6h.1M405.4 138.7h.1M410.6 137.3h.1M407.0 140.4h.1M405.6 136.2h.1M407.2 136.5h.1M407.8 132.2h.1M407.6 131.9h.1M407.5 141.9h.1M407.6 139.0h.1M402.3 143.2h.1M411.3 128.9h.1M405.8 146.7h.1M407.4 137.3h.1M404.6 143.3h.1M409.4 137.7h.1M409.5 136.9h.1M407.9 134.2h.1M405.8 139.3h.1M411.7 135.6h.1M408.6 141.0h.1M407.0 141.5h.1M406.7 140.6h.1M407.0 140.6h.1M413.1 131.4h.1M409.5 133.6h.1M413.3 136.7h.1M405.9 146.3h.1M408.1 137.8h.1M409.6 134.9h.1M405.1 144.6h.1M409.6 133.2h.1M405.9 141.7h.1M408.9 137.8h.1M406.0 135.0h.1M408.3 138.0h.1M403.6 135.2h.1M412.3 137.0h.1M409.0 132.0h.1M413.7 132.4h.1M414.1 133.4h.1M410.4 137.7h.1M409.7 148.1h.1M407.1 142.4h.1M407.6 139.5h.1M411.5 135.8h.1M411.6 133.1h.1M406.8 138.6h.1M408.2 140.7h.1M406.9 136.2h.1M410.1 137.3h.1M406.4 133.0h.1M409.9 134.4h.1M410.4 139.5h.1M402.2 146.8h.1M407.1 138.9h.1M405.3 150.7h.1M404.5 136.4h.1M414.5 127.0h.1M409.8 131.9h.1M404.2 133.6h.1M414.0 129.0h.1M407.6 142.3h.1M408.4 135.4h.1M413.8 137.4h.1M405.0 139.2h.1M408.8 140.5h.1M407.2 133.3h.1M406.6 135.3h.1M409.3 140.7h.1M410.5 139.1h.1M407.4 133.6h.1M410.2 139.3h.1M406.9 140.3h.1M408.3 135.4h.1M406.5 137.1h.1M408.5 136.8h.1M407.5 142.8h.1M406.7 136.8h.1M406.8 138.5h.1M403.5 142.3h.1M413.3 132.1h.1M405.8 135.4h.1M407.9 135.9h.1M410.7 134.1h.1M410.0 131.2h.1M410.6 133.3h.1M410.4 141.8h.1M410.0 137.0h.1M406.6 139.5h.1M407.4 138.0h.1M408.7 135.6h.1M412.1 133.2h.1M408.2 142.6h.1M410.7 134.6h.1M408.8 135.6h.1M406.6 141.6h.1M413.5 125.3h.1M409.4 138.4h.1M411.9 133.0h.1M409.4 138.1h.1M409.7 136.1h.1M411.3 134.3h.1M408.7 137.2h.1M409.3 137.7h.1M408.5 131.1h.1M411.9 133.5h.1M415.0 128.2h.1M408.3 135.7h.1M401.9 143.0h.1M405.9 143.3h.1M411.7 136.3h.1M405.1 140.7h.1M407.5 144.1h.1M410.8 132.7h.1M405.7 144.2h.1M407.4 145.0h.1M407.3 135.9h.1M410.2 132.2h.1M410.3 134.2h.1M405.7 141.7h.1M412.1 135.3h.1M407.0 141.7h.1M408.5 135.8h.1M401.1 149.2h.1M409.3 144.2h.1M408.3 135.5h.1M410.1 138.9h.1M413.1 137.6h.1M399.3 152.4h.1M409.2 130.8h.1M412.1 134.8h.1M411.1 128.1h.1M407.2 139.6h.1M408.9 132.9h.1M406.2 133.2h.1M405.8 137.1h.1M409.2 135.1h.1M410.7 138.0h.1M411.1 135.2h.1M408.7 138.4h.1M409.8 137.5h.1M406.3 140.1h.1M406.5 138.5h.1M405.5 134.8h.1M407.0 135.0h.1M411.6 136.9h.1M405.7 131.4h.1M407.0 140.3h.1M407.7 140.8h.1M408.4 145.7h.1M410.8 131.9h.1M408.1 127.4h.1M409.2 135.8h.1M408.7 134.2h.1M406.1 140.0h.1M406.8 135.8h.1M412.6 132.1h.1M410.5 136.7h.1M404.4 142.5h.1M407.2 135.2h.1M409.7 137.8h.1M409.4 133.3h.1M409.9 129.6h.1M407.9 136.7h.1M410.2 135.6h.1M406.5 131.3h.1M404.0 139.4h.1M406.8 137.5h.1M405.4 144.1h.1M411.3 137.3h.1M410.7 134.7h.1M409.1 135.7h.1M411.1 136.2h.1M405.0 139.3h.1M409.1 141.7h.1M408.0 130.5h.1M410.5 134.8h.1M409.2 139.3h.1M410.2 135.0h.1M406.0 139.8h.1M404.6 140.3h.1M411.2 136.7h.1M407.1 137.0h.1M409.9 136.4h.1M415.7 128.7h.1M411.4 136.5h.1M406.6 135.4h.1M415.1 130.0h.1M408.1 141.0h.1M408.1 137.7h.1M404.8 137.8h.1M412.3 139.4h.1M412.8 127.7h.1M404.3 144.9h.1M414.1 133.5h.1M406.7 143.0h.1M406.0 144.0h.1M407.2 137.3h.1M408.9 137.9h.1M408.9 138.9h.1M405.9 141.6h.1M407.9 133.5h.1M408.4 143.7h.1M409.7 134.6h.1M414.6 125.8h.1M406.0 142.6h.1M407.4 135.3h.1M409.9 137.2h.1M408.2 144.8h.1M409.0 137.3h.1M412.9 134.3h.1M407.4 131.8h.1M407.4 133.1h.1M409.4 140.5h.1M408.3 137.6h.1M409.8 142.2h.1M411.2 132.5h.1M408.0 140.6h.1M402.9 139.8h.1M406.5 139.1h.1M411.5 130.0h.1M403.3 142.7h.1M411.1 133.8h.1M408.8 133.4h.1M408.8 140.0h.1M410.1 136.8h.1M402.0 141.5h.1M414.6 138.1h.1M408.4 134.6h.1M408.4 140.9h.1M407.2 135.5h.1M410.1 137.7h.1M409.4 134.6h.1M412.5 135.4h.1M408.7 131.7h.1M409.8 138.2h.1M412.5 136.0h.1M416.4 136.3h.1M415.3 131.9h.1M407.5 136.0h.1M410.1 140.1h.1M409.8 140.9h.1M408.4 137.5h.1M405.5 144.3h.1M406.3 141.3h.1M410.6 134.6h.1M409.3 127.1h.1M413.6 132.5h.1M408.7 140.2h.1M411.6 132.3h.1M408.3 135.1h.1M404.9 137.8h.1M411.3 131.5h.1M409.0 132.5h.1M409.7 132.9h.1M404.3 131.9h.1M411.8 133.6h.1M405.5 136.9h.1M408.1 138.2h.1M407.0 139.2h.1M409.2 132.7h.1M407.3 133.9h.1M411.9 133.6h.1M408.3 138.4h.1M409.9 138.9h.1M413.7 139.5h.1M404.7 135.0h.1M407.9 137.8h.1M411.6 131.2h.1M410.6 136.9h.1M403.9 147.9h.1M406.8 139.1h.1M406.9 134.8h.1M408.4 136.0h.1M408.5 136.6h.1M410.3 138.8h.1M412.9 131.3h.1M407.1 140.2h.1M413.7 135.5h.1M411.5 133.6h.1M410.6 132.9h.1M410.1 126.5h.1M410.2 142.1h.1M410.0 140.8h.1M408.0 134.6h.1M414.4 136.9h.1M405.7 132.5h.1M407.0 139.4h.1M406.3 137.6h.1M410.8 129.9h.1M413.2 135.6h.1M409.0 133.5h.1M412.2 134.3h.1M412.7 129.7h.1M408.4 137.4h.1M409.0 135.3h.1M404.1 142.6h.1M408.0 138.2h.1M407.3 134.5h.1M409.4 133.9h.1M408.3 140.3h.1M405.2 142.0h.1M407.9 140.7h.1M403.0 144.7h.1M407.3 141.6h.1M409.1 137.8h.1M407.8 134.1h.1M415.0 132.6h.1M408.2 135.8h.1M408.1 140.5h.1M407.8 135.4h.1M406.8 137.9h.1M412.5 133.5h.1M409.9 132.2h.1M402.4 142.2h.1M408.9 138.4h.1M411.4 127.8h.1M406.6 129.8h.1M411.8 139.5h.1M402.9 149.7h.1M406.6 132.5h.1M409.7 135.5h.1M408.6 137.7h.1M412.2 134.6h.1M414.3 138.3h.1M408.4 133.9h.1M407.0 137.4h.1M405.9 136.5h.1M408.3 134.9h.1M409.9 139.3h.1M409.8 143.6h.1M405.7 141.9h.1M406.5 134.6h.1M406.2 140.1h.1M405.9 140.2h.1M404.0 138.3h.1M410.9 134.8h.1M404.7 145.9h.1M401.9 146.4h.1M409.7 136.8h.1M409.5 138.7h.1M412.3 131.5h.1M406.7 137.9h.1M407.1 143.9h.1M409.7 136.4h.1M408.6 135.7h.1M410.8 136.6h.1M410.3 136.3h.1M412.5 128.2h.1M407.4 138.5h.1M410.8 136.4h.1M409.5 138.0h.1M403.4 143.5h.1M407.0 142.7h.1M406.8 141.1h.1M408.1 138.8h.1M407.3 142.9h.1M410.0 131.0h.1M408.8 138.0h.1M409.8 142.9h.1M404.0 138.9h.1M409.1 137.4h.1M407.0 139.9h.1" stroke="#e82828" stroke-width="0.7" stroke-linecap="round" opacity="0.22" fill="none"/>
<path d="M404.5 136.5h.1M399.5 138.9h.1M402.6 143.1h.1M403.5 142.6h.1M403.3 140.8h.1M402.4 134.0h.1M399.9 138.4h.1M403.0 135.2h.1M396.3 147.7h.1M403.3 142.9h.1M404.3 137.5h.1M402.2 143.2h.1M401.8 133.6h.1M404.2 139.2h.1M402.6 139.1h.1M403.5 143.0h.1M402.4 138.5h.1M402.4 145.2h.1M399.3 132.0h.1M402.1 135.9h.1M403.4 139.4h.1M400.1 142.5h.1M403.7 135.7h.1M402.9 142.0h.1M403.5 132.7h.1M406.3 135.2h.1M399.6 140.4h.1M400.6 138.1h.1M407.2 129.9h.1M404.1 134.8h.1M407.4 134.0h.1M401.4 140.0h.1M403.5 134.0h.1M400.8 143.7h.1M404.7 134.9h.1M404.4 133.2h.1M403.8 139.1h.1M404.0 135.7h.1M403.6 139.8h.1M403.7 139.3h.1M404.4 136.9h.1M407.8 136.9h.1M404.5 137.4h.1M402.2 135.1h.1M399.2 141.8h.1M402.0 144.9h.1M403.5 135.6h.1M397.6 148.4h.1M403.4 146.3h.1M400.5 143.9h.1M406.8 135.0h.1M403.2 134.5h.1M407.5 123.4h.1M402.8 139.2h.1M402.9 139.4h.1M399.6 137.4h.1M405.5 145.5h.1M406.7 133.7h.1M401.4 141.9h.1M401.5 141.4h.1M404.5 137.2h.1M401.7 140.0h.1M403.7 135.4h.1M403.8 134.2h.1M402.1 133.5h.1M404.4 138.3h.1M401.5 141.7h.1M401.4 137.4h.1M402.4 143.2h.1M398.9 144.3h.1M402.3 145.6h.1M407.1 133.9h.1M402.9 144.9h.1M404.4 132.3h.1M401.2 137.6h.1M403.2 139.6h.1M403.2 137.5h.1M405.2 130.3h.1M400.0 144.2h.1M405.3 136.1h.1M402.6 140.1h.1M403.1 143.2h.1M399.4 147.4h.1M400.3 141.9h.1M405.5 143.4h.1M402.7 137.6h.1M404.5 133.8h.1M402.3 135.5h.1M403.9 139.4h.1M405.3 129.7h.1M404.2 141.2h.1M401.8 137.2h.1M398.8 138.2h.1M403.5 134.5h.1M401.1 134.7h.1M400.4 137.0h.1M404.3 134.9h.1M403.3 136.3h.1M401.9 140.7h.1M402.6 132.7h.1M403.5 140.3h.1M400.9 140.3h.1M405.4 134.7h.1M401.3 139.6h.1M403.1 137.5h.1M409.3 126.4h.1M404.9 133.7h.1M401.5 139.8h.1M402.6 140.2h.1M404.0 132.9h.1M399.8 134.8h.1M404.0 142.5h.1M405.1 134.8h.1M402.2 145.4h.1M404.8 131.5h.1M405.5 131.8h.1M405.6 129.9h.1M402.7 144.0h.1M405.1 135.0h.1M402.5 127.3h.1M399.4 134.3h.1M403.1 138.4h.1M404.7 131.2h.1M403.9 144.9h.1M403.6 138.1h.1M402.4 135.1h.1M401.8 139.4h.1M403.5 137.3h.1M401.3 132.3h.1M399.2 132.2h.1M403.3 137.8h.1M403.2 143.6h.1M400.0 144.3h.1M400.4 141.3h.1M403.8 140.4h.1M402.1 141.1h.1M405.0 123.8h.1M402.1 138.2h.1M404.3 138.5h.1M402.4 134.1h.1M402.7 144.0h.1M399.7 139.5h.1M403.8 134.7h.1M405.2 141.7h.1M405.8 133.2h.1M400.9 140.1h.1M400.3 135.5h.1M404.4 130.5h.1M405.0 132.5h.1M399.4 135.7h.1M405.4 137.4h.1M402.3 133.6h.1M405.1 140.1h.1M404.5 143.4h.1M406.2 133.4h.1M403.2 131.8h.1M403.0 136.0h.1M403.1 138.6h.1M400.8 142.5h.1M403.4 140.7h.1M400.0 138.3h.1M403.2 136.2h.1M403.3 133.3h.1M405.3 137.8h.1M403.7 135.6h.1M403.4 144.0h.1M402.1 136.5h.1M407.3 132.8h.1M400.9 140.2h.1M398.8 145.7h.1M403.0 134.0h.1M402.9 129.9h.1M401.4 133.3h.1M402.9 139.9h.1M404.7 134.9h.1M401.1 147.3h.1M403.2 137.1h.1M402.4 141.0h.1M404.9 132.4h.1M398.9 141.2h.1M405.6 128.0h.1M407.0 126.5h.1M403.2 127.7h.1M406.2 133.4h.1M402.2 140.9h.1M401.7 138.5h.1M403.3 132.6h.1M405.7 136.3h.1M404.5 141.0h.1M404.8 139.1h.1M403.4 141.6h.1M401.6 135.1h.1M403.1 137.8h.1M404.2 131.3h.1M405.4 134.5h.1M403.5 139.4h.1M403.8 130.7h.1M399.4 147.9h.1M401.6 144.2h.1M400.7 139.8h.1M404.8 135.3h.1M406.5 129.0h.1M404.9 134.0h.1M404.5 136.4h.1M401.7 137.1h.1M403.2 146.4h.1M401.6 140.0h.1M407.6 133.4h.1M406.4 136.8h.1M402.3 140.2h.1M402.6 137.5h.1M402.5 140.6h.1M403.9 147.3h.1M400.8 137.9h.1M400.4 139.9h.1M402.8 143.6h.1M400.6 137.8h.1M403.7 139.2h.1M403.2 136.7h.1M404.4 137.8h.1M405.0 137.2h.1M405.3 139.3h.1M402.6 141.1h.1M401.8 137.7h.1M403.7 137.7h.1M403.3 132.8h.1M401.7 136.9h.1M399.7 140.0h.1M402.4 133.3h.1M402.9 137.7h.1M403.7 133.6h.1M406.1 127.7h.1M405.5 134.2h.1M403.3 144.0h.1M399.0 141.0h.1M405.2 135.6h.1M399.9 144.9h.1M400.0 139.0h.1M403.0 136.5h.1M403.3 140.1h.1M401.2 141.4h.1M400.4 137.1h.1M404.1 139.8h.1M403.8 140.4h.1M404.5 135.4h.1M400.9 140.3h.1M401.4 138.3h.1M405.6 132.1h.1M404.0 133.5h.1M401.6 137.0h.1M404.7 139.0h.1M403.6 136.4h.1M402.6 136.3h.1M400.2 143.2h.1M400.9 140.8h.1M406.8 133.1h.1M401.9 142.0h.1M406.1 130.2h.1M403.5 134.2h.1M402.3 137.5h.1M402.6 139.8h.1M402.8 136.8h.1M400.5 132.8h.1M400.6 134.5h.1M403.2 130.9h.1M403.6 135.2h.1M398.8 139.5h.1M404.8 135.2h.1M407.0 134.8h.1M403.2 138.0h.1M403.4 142.0h.1M405.8 142.1h.1M405.6 135.3h.1M402.6 141.7h.1M406.2 129.4h.1M403.5 133.8h.1M399.7 145.5h.1M400.6 142.1h.1M405.0 137.6h.1M400.2 142.9h.1M400.2 137.4h.1M404.7 133.4h.1M404.3 134.6h.1M400.8 142.2h.1M403.1 133.7h.1M404.3 132.8h.1M401.4 140.5h.1M405.5 135.0h.1M405.2 141.1h.1M402.3 143.8h.1M405.3 132.1h.1M404.7 132.2h.1M402.7 142.0h.1M401.1 150.0h.1M404.1 132.7h.1M401.5 140.1h.1M404.0 135.9h.1M402.0 143.8h.1M403.6 135.1h.1M405.4 132.7h.1M402.5 136.6h.1M405.0 134.0h.1M406.7 136.9h.1M401.4 132.1h.1M401.7 139.8h.1M400.8 139.7h.1M400.8 146.6h.1M402.7 139.6h.1M402.5 138.9h.1M401.3 142.7h.1M404.6 132.9h.1M404.1 139.2h.1M406.0 123.4h.1M403.7 134.7h.1M398.8 140.4h.1M404.3 137.9h.1M404.6 134.3h.1M404.6 132.5h.1M408.2 131.5h.1M403.9 140.0h.1M407.6 133.8h.1M404.1 138.0h.1M404.1 133.0h.1M402.7 138.0h.1M401.3 137.2h.1M403.1 135.8h.1M400.5 140.0h.1M402.2 137.2h.1M407.2 136.7h.1M400.4 145.8h.1M404.9 140.6h.1M401.3 139.4h.1M402.3 132.2h.1M401.0 136.2h.1M402.5 137.4h.1M402.0 140.8h.1M405.9 136.1h.1M401.4 138.5h.1M403.9 132.9h.1M403.1 138.9h.1M405.1 138.3h.1M406.1 135.3h.1M404.4 135.6h.1M399.6 144.2h.1M403.3 136.5h.1M404.4 138.1h.1M399.3 145.7h.1M399.7 142.6h.1M403.9 133.0h.1M403.9 136.0h.1M402.0 139.5h.1M404.5 133.2h.1M399.8 145.2h.1M406.7 131.6h.1M400.3 139.5h.1M404.9 130.5h.1M398.7 138.2h.1M405.8 140.8h.1M404.9 136.5h.1M405.2 139.4h.1M404.3 132.7h.1M403.5 133.6h.1M403.6 139.3h.1M402.5 138.2h.1M402.7 137.3h.1M406.6 129.8h.1M403.1 137.6h.1M406.3 133.2h.1M403.7 137.8h.1M402.9 141.6h.1M402.0 145.3h.1M405.1 136.9h.1M403.2 135.1h.1M403.5 136.3h.1M401.8 130.7h.1M407.5 135.1h.1M405.7 129.0h.1M403.8 134.5h.1M401.0 141.4h.1M404.2 132.1h.1M397.9 141.2h.1M404.1 138.4h.1M404.0 144.2h.1M403.4 132.9h.1M406.3 131.3h.1M401.0 143.7h.1M402.4 141.7h.1M398.7 139.8h.1M402.2 146.8h.1M400.3 137.4h.1M401.9 138.6h.1M400.9 144.0h.1M399.8 148.2h.1M402.7 145.1h.1M403.3 136.5h.1M400.7 144.8h.1M403.6 137.9h.1M405.3 137.3h.1M404.8 134.8h.1M403.3 138.2h.1M403.6 136.8h.1M407.3 131.6h.1M401.9 140.5h.1M401.1 137.2h.1M404.9 132.0h.1M399.1 142.5h.1M403.4 134.7h.1M400.2 150.0h.1M402.5 145.7h.1M402.8 145.7h.1M403.9 139.0h.1M403.3 137.9h.1M401.7 149.0h.1M405.9 129.3h.1M402.9 127.2h.1M407.9 132.8h.1M402.3 138.5h.1M403.4 135.4h.1M401.5 140.7h.1M401.7 140.1h.1M402.0 141.2h.1M404.0 136.4h.1M402.7 140.1h.1M403.9 140.2h.1M406.5 129.7h.1M402.4 139.1h.1M403.7 134.7h.1M403.3 135.7h.1M403.6 140.0h.1M404.4 140.1h.1M401.1 131.3h.1M401.5 139.7h.1M402.5 134.0h.1M402.1 139.4h.1M401.3 138.9h.1M403.3 130.2h.1M398.5 144.9h.1M402.2 140.8h.1M401.3 140.1h.1M402.2 135.2h.1M404.6 141.4h.1M403.1 137.0h.1M403.3 134.3h.1M407.1 128.9h.1M405.2 133.4h.1M399.3 143.5h.1M404.6 129.4h.1M403.1 137.6h.1M402.6 142.3h.1M403.0 136.4h.1M396.2 140.6h.1M402.2 139.3h.1M403.4 142.2h.1M405.0 140.6h.1M397.9 148.6h.1M403.8 131.5h.1M404.6 137.8h.1M401.8 133.1h.1M401.4 135.2h.1M404.1 138.4h.1M405.9 131.7h.1M404.0 131.4h.1M402.5 139.3h.1M403.2 133.6h.1M400.7 138.8h.1M403.3 140.2h.1M403.1 135.5h.1M405.2 137.9h.1M401.7 137.9h.1M398.5 146.6h.1M406.3 142.9h.1M405.0 137.8h.1M403.3 134.3h.1M406.4 135.4h.1M402.2 140.2h.1M402.6 135.2h.1M401.1 143.4h.1M402.4 135.3h.1M405.6 129.1h.1M400.9 138.2h.1M402.1 142.6h.1M405.1 133.0h.1M404.3 138.7h.1M405.9 138.5h.1M403.9 135.2h.1M402.5 139.2h.1M404.2 134.5h.1M403.6 141.4h.1M402.7 141.4h.1M401.7 135.9h.1M403.2 135.6h.1M401.3 136.1h.1M403.1 134.4h.1M403.6 138.1h.1M398.5 139.6h.1M405.1 135.9h.1M403.6 145.7h.1M404.0 138.0h.1M403.8 133.1h.1M402.4 134.7h.1M404.0 132.3h.1M403.5 139.0h.1M400.3 138.1h.1M401.7 139.7h.1M402.0 139.8h.1M404.0 136.9h.1M401.4 132.3h.1M400.8 137.2h.1M406.4 130.8h.1M401.6 134.9h.1M399.8 146.9h.1M404.2 134.7h.1M400.4 139.2h.1M404.1 137.4h.1M401.8 140.9h.1M400.2 139.4h.1M405.3 128.0h.1M406.5 133.4h.1M403.5 139.5h.1M401.5 140.9h.1M403.6 139.6h.1M402.1 140.4h.1M402.6 134.3h.1M405.4 132.5h.1M402.9 145.2h.1M403.0 135.2h.1M400.1 137.0h.1M402.8 138.8h.1M403.3 133.6h.1M401.0 140.7h.1M401.3 141.2h.1M404.8 138.5h.1M401.2 140.6h.1M401.3 139.6h.1M405.3 134.0h.1M400.5 143.2h.1M405.9 132.0h.1M406.5 131.6h.1M403.9 139.3h.1M402.0 133.8h.1M400.1 141.8h.1M402.3 138.5h.1M399.7 138.6h.1M403.1 141.5h.1M402.8 132.4h.1M404.2 135.8h.1M407.6 133.8h.1M399.6 144.0h.1M402.4 137.6h.1M404.8 139.9h.1M401.6 144.4h.1M403.6 132.0h.1M403.7 137.0h.1M402.2 135.1h.1M407.5 130.9h.1M398.8 138.6h.1M405.4 129.9h.1M401.8 145.9h.1M405.8 130.9h.1M405.2 133.7h.1M404.1 143.3h.1M403.2 143.5h.1M406.2 125.2h.1M401.0 139.5h.1M406.6 132.1h.1M403.0 135.0h.1M403.9 136.6h.1M399.3 136.7h.1M400.4 142.5h.1M400.3 142.1h.1M401.4 140.7h.1M403.5 132.6h.1M400.9 146.1h.1M402.9 142.4h.1M400.9 134.4h.1M400.6 137.0h.1M400.6 138.9h.1M403.4 142.2h.1M400.7 145.3h.1M400.9 140.5h.1M401.3 142.6h.1M405.2 140.5h.1M401.8 141.7h.1M403.2 145.0h.1M406.6 131.6h.1M399.3 146.7h.1M409.2 135.2h.1M400.6 138.8h.1M403.9 140.6h.1M402.2 143.3h.1M402.0 141.9h.1M403.1 139.7h.1M400.6 147.2h.1M405.6 133.2h.1M403.0 136.7h.1M404.7 138.2h.1M403.1 137.8h.1M404.4 132.4h.1M403.4 137.8h.1M402.0 133.5h.1" stroke="#000" stroke-width="0.6" stroke-linecap="round" opacity="0.18" fill="none"/>
<path d="M402.0 145.7h.1M399.9 145.9h.1M407.4 140.3h.1M404.1 140.9h.1M403.0 143.5h.1M402.8 146.6h.1M403.7 140.3h.1M404.0 145.0h.1M401.9 145.5h.1M401.5 145.2h.1M404.2 142.9h.1M403.5 144.8h.1M400.4 146.3h.1M397.6 150.4h.1M404.1 143.5h.1M401.2 144.3h.1M403.4 142.7h.1M403.8 145.3h.1M403.2 142.1h.1M403.3 143.9h.1M402.6 145.6h.1M401.6 145.5h.1M398.7 150.2h.1M400.4 149.9h.1M406.3 139.9h.1M400.2 147.2h.1M400.4 146.6h.1M404.1 138.6h.1M402.8 144.5h.1M398.7 150.5h.1M398.6 152.6h.1M397.5 148.7h.1M401.3 146.3h.1M403.2 142.7h.1M401.7 143.3h.1M400.6 146.3h.1M404.3 143.4h.1M400.1 149.3h.1M400.5 145.6h.1M403.8 142.0h.1M407.4 138.0h.1M401.3 147.2h.1M399.4 147.5h.1M403.7 145.4h.1M402.8 144.6h.1M402.5 142.5h.1M402.2 143.1h.1M406.0 141.4h.1M405.6 140.0h.1M403.1 143.1h.1M400.3 147.7h.1M402.0 146.0h.1M403.1 145.0h.1M402.2 145.9h.1M404.2 141.8h.1M403.4 143.3h.1M401.2 143.4h.1M402.0 144.8h.1M403.2 142.1h.1M400.4 146.8h.1M400.5 148.6h.1M400.7 145.8h.1M401.1 148.2h.1M400.4 145.9h.1M397.4 151.5h.1M402.6 145.6h.1M400.3 146.5h.1M403.9 143.4h.1M403.2 142.0h.1M404.2 144.1h.1M399.3 149.3h.1M401.3 143.8h.1M403.3 144.7h.1M402.2 149.3h.1M403.8 144.3h.1M400.4 147.1h.1M399.7 149.4h.1M404.5 144.9h.1M401.9 146.9h.1M406.3 139.7h.1M404.5 145.8h.1M401.8 146.9h.1M402.7 144.9h.1M402.7 145.4h.1M402.5 145.9h.1M399.5 146.9h.1M402.3 148.2h.1M405.4 141.3h.1M399.9 146.7h.1M404.9 140.6h.1M402.2 148.2h.1M403.3 142.7h.1M404.6 146.6h.1M405.1 141.7h.1M402.0 144.5h.1M403.6 145.8h.1M400.8 146.2h.1M402.6 144.5h.1M403.4 143.5h.1M401.4 141.2h.1M401.2 145.2h.1M402.1 145.2h.1M403.6 146.5h.1M400.2 151.7h.1M403.0 144.8h.1M400.2 148.5h.1M401.7 144.7h.1M402.2 147.3h.1M401.9 146.8h.1M401.7 145.1h.1M401.6 149.5h.1M402.4 145.2h.1M404.1 140.4h.1M405.3 141.1h.1M405.2 140.2h.1M404.2 141.9h.1M402.6 143.7h.1M405.2 139.6h.1M402.4 145.3h.1M404.2 142.9h.1M403.6 143.7h.1M402.1 144.2h.1M401.7 147.9h.1M401.6 143.5h.1M407.9 141.5h.1M402.4 143.8h.1M400.2 144.9h.1M402.6 144.4h.1M401.1 145.7h.1M401.9 145.0h.1M398.3 145.7h.1M402.7 142.5h.1M400.3 145.1h.1M402.6 145.8h.1M402.1 145.2h.1M400.0 149.7h.1M405.1 141.3h.1M405.8 140.8h.1M401.1 146.8h.1M407.5 138.6h.1M401.7 144.4h.1M401.4 146.2h.1M402.2 143.9h.1M403.7 144.3h.1M401.0 146.3h.1M400.7 142.5h.1M399.2 148.0h.1M403.0 142.6h.1M400.4 146.3h.1M398.5 148.3h.1M400.9 144.4h.1M400.6 148.8h.1M404.2 142.8h.1M404.6 140.7h.1M398.9 147.3h.1M400.5 145.9h.1M400.6 148.6h.1M399.6 148.0h.1M400.2 147.2h.1M402.4 145.6h.1M400.3 149.4h.1M405.2 144.1h.1M407.4 139.9h.1M401.4 148.4h.1M400.7 144.1h.1M401.1 146.5h.1M396.9 151.5h.1M398.6 150.4h.1M405.4 140.4h.1M400.6 144.4h.1M405.0 140.8h.1M401.6 144.4h.1M403.4 142.6h.1M404.7 142.5h.1M401.8 146.8h.1M404.0 140.9h.1M404.8 141.7h.1M400.6 145.1h.1M402.7 145.1h.1M399.7 147.9h.1M404.9 140.7h.1M400.7 147.7h.1M401.9 144.6h.1M401.6 146.8h.1M402.1 146.6h.1M404.4 142.9h.1M402.4 144.4h.1M404.0 141.8h.1M401.2 144.4h.1M403.9 141.8h.1M399.7 147.5h.1M400.1 146.5h.1M396.5 154.5h.1M403.3 141.1h.1M404.5 142.6h.1M401.7 149.8h.1M403.4 149.5h.1M402.3 145.5h.1M399.4 147.3h.1M404.9 141.8h.1M409.5 142.9h.1M401.4 143.6h.1M401.5 143.5h.1M402.6 146.2h.1M399.6 148.5h.1M398.3 148.5h.1M401.6 147.6h.1M402.7 145.9h.1M404.0 141.7h.1M400.3 146.6h.1M403.0 144.1h.1M405.2 139.6h.1M405.1 139.8h.1M403.6 142.1h.1M403.5 142.3h.1M399.0 152.2h.1M403.2 147.5h.1M403.2 144.7h.1M403.0 145.6h.1M405.5 144.2h.1M402.7 141.5h.1M403.9 144.0h.1M399.6 147.4h.1M402.2 146.9h.1M400.4 147.5h.1M403.8 142.0h.1M402.6 143.9h.1M404.6 141.7h.1M402.8 144.8h.1M400.5 148.0h.1M399.5 143.9h.1M399.3 147.1h.1M400.5 149.5h.1M399.6 149.7h.1M405.0 143.3h.1M400.1 145.0h.1M399.6 147.6h.1M401.3 147.0h.1M403.2 145.9h.1M402.9 146.2h.1M402.1 146.3h.1M401.7 147.0h.1M403.9 143.3h.1M401.8 146.4h.1M406.4 141.0h.1M400.5 147.5h.1M397.5 152.8h.1M400.1 147.2h.1M404.4 144.5h.1M402.0 143.9h.1M402.4 142.7h.1M403.2 142.9h.1M406.0 140.9h.1M402.1 147.1h.1M404.3 142.1h.1M402.3 144.4h.1M401.5 145.4h.1M404.9 140.7h.1M406.3 142.1h.1M399.9 149.6h.1M403.9 142.5h.1M404.2 143.1h.1M399.8 148.3h.1M400.0 146.5h.1M403.0 146.4h.1M401.5 145.3h.1M404.8 142.8h.1M405.2 142.4h.1M400.3 148.9h.1M395.9 151.4h.1M400.3 147.1h.1M403.1 144.2h.1M401.8 143.5h.1M404.6 141.3h.1M404.1 141.3h.1M405.3 142.5h.1M401.4 148.7h.1M406.1 142.2h.1M399.9 147.0h.1M406.5 141.3h.1M402.7 141.5h.1M404.6 144.3h.1M403.7 143.0h.1M403.2 143.3h.1M403.2 146.1h.1M402.0 149.9h.1M404.4 142.9h.1M401.9 142.5h.1M402.1 142.5h.1M403.1 146.5h.1M404.0 142.3h.1M401.5 146.8h.1M399.1 148.0h.1M403.9 141.8h.1M402.8 146.2h.1M399.1 145.5h.1M400.8 145.8h.1M405.8 141.3h.1M401.8 143.4h.1M400.8 145.8h.1M399.4 147.1h.1M402.0 148.1h.1M401.9 145.3h.1M400.4 149.5h.1M401.9 146.1h.1M402.0 146.1h.1M399.8 148.2h.1M402.5 146.8h.1M399.8 147.0h.1M402.8 145.1h.1M404.6 140.6h.1M405.5 140.2h.1M400.3 147.7h.1M401.3 145.0h.1M403.6 143.8h.1M400.8 145.6h.1M400.1 149.5h.1M400.7 146.8h.1M400.7 147.8h.1M401.0 148.6h.1M404.7 146.0h.1M402.9 145.8h.1M401.4 147.9h.1M405.4 141.2h.1M400.6 145.1h.1M406.1 141.1h.1M401.1 145.8h.1M400.2 143.0h.1M402.5 146.8h.1M401.4 145.6h.1M399.8 147.5h.1M400.0 148.7h.1M400.4 147.8h.1M402.8 142.9h.1M401.3 141.6h.1M404.3 143.3h.1M399.5 148.5h.1M404.5 141.1h.1M400.9 142.8h.1M399.1 147.0h.1M399.9 144.8h.1M401.4 145.2h.1M402.2 144.4h.1M398.7 150.7h.1M399.9 149.6h.1M403.9 144.0h.1M402.7 143.6h.1M399.8 147.4h.1M401.7 145.3h.1M405.2 143.7h.1M401.7 144.8h.1M399.1 144.5h.1M399.3 150.0h.1M401.3 148.9h.1M401.7 143.3h.1M403.2 145.7h.1M402.7 144.1h.1M400.0 148.0h.1M398.5 152.2h.1M401.9 147.5h.1M401.1 146.3h.1M402.7 146.8h.1M404.2 141.3h.1M404.0 141.4h.1M403.8 145.0h.1M401.6 144.7h.1M403.9 145.2h.1M401.6 145.6h.1M404.7 142.7h.1M400.5 150.4h.1M404.0 143.4h.1M402.6 144.2h.1M401.0 145.6h.1M398.9 149.2h.1M403.5 144.9h.1M400.4 148.3h.1M402.6 150.1h.1M401.1 145.2h.1M401.8 145.9h.1M402.2 145.5h.1M401.1 147.5h.1M403.8 146.6h.1M404.7 140.5h.1M402.0 145.3h.1M400.6 147.9h.1M399.8 147.0h.1M401.2 147.1h.1M405.1 141.6h.1M401.9 143.3h.1M404.8 141.5h.1M403.6 144.7h.1M407.0 142.0h.1M399.5 150.5h.1M399.8 149.9h.1M403.5 145.4h.1M402.6 143.7h.1M401.7 149.4h.1M401.6 146.4h.1M401.3 146.6h.1M402.3 142.9h.1M400.7 147.6h.1M400.6 148.4h.1M400.2 146.4h.1M399.4 146.8h.1M402.1 144.9h.1M402.8 146.0h.1M403.1 142.8h.1M402.2 147.6h.1M400.3 145.7h.1M400.4 147.5h.1M406.5 140.1h.1M399.1 146.4h.1M404.5 144.5h.1M402.1 143.2h.1M400.7 148.3h.1M403.9 143.5h.1M404.3 145.0h.1M402.7 148.5h.1M399.3 149.4h.1M402.4 147.0h.1M400.3 146.1h.1M400.4 148.1h.1M400.3 147.6h.1M401.1 143.0h.1M402.4 148.4h.1M400.2 148.2h.1M402.7 145.3h.1M403.8 141.3h.1M400.5 148.3h.1M400.6 148.8h.1M405.2 142.2h.1M398.8 151.1h.1M402.9 147.0h.1M403.7 141.5h.1M404.5 147.3h.1M400.6 146.7h.1M401.7 145.0h.1M403.2 143.5h.1M401.2 147.5h.1M401.2 144.9h.1M400.6 146.3h.1M402.1 143.7h.1M403.0 144.8h.1M400.6 146.9h.1M402.1 145.7h.1M402.9 145.1h.1M403.2 141.3h.1M403.3 146.2h.1M401.0 147.7h.1M403.5 145.8h.1M407.3 140.9h.1M403.2 141.1h.1M403.9 141.1h.1M399.6 148.8h.1M406.6 140.6h.1M403.1 143.9h.1M402.1 144.0h.1M404.2 146.2h.1M402.5 143.4h.1M398.5 150.4h.1M402.2 141.5h.1M400.7 149.5h.1M403.3 139.6h.1M402.6 144.4h.1M400.7 146.8h.1M399.7 147.5h.1M399.6 144.6h.1M403.8 140.5h.1M400.4 144.2h.1M402.3 144.9h.1M400.1 147.1h.1M404.0 140.5h.1M402.9 146.8h.1M400.8 146.9h.1M402.6 144.2h.1M400.6 146.6h.1M400.2 145.0h.1M398.7 149.4h.1M399.1 149.5h.1M403.0 143.8h.1M400.7 147.4h.1M404.3 144.7h.1M403.1 144.2h.1M404.1 143.9h.1M404.5 144.3h.1M403.0 141.8h.1M402.8 146.2h.1M402.5 146.8h.1M405.5 143.4h.1M399.2 147.7h.1M399.2 147.0h.1M399.6 148.5h.1M401.1 147.6h.1M403.8 141.6h.1M404.0 141.3h.1M401.3 146.5h.1M399.4 149.1h.1M402.4 148.4h.1M402.3 144.7h.1M405.2 141.3h.1M402.0 146.0h.1M403.9 142.8h.1M404.8 143.9h.1M399.5 149.1h.1M403.5 141.8h.1M406.4 143.0h.1M404.6 144.6h.1M400.7 144.7h.1M405.6 142.8h.1M402.5 143.3h.1M401.7 144.3h.1M401.2 142.9h.1M405.0 141.4h.1M401.3 148.3h.1M402.5 146.2h.1M402.1 147.0h.1M404.2 145.5h.1M403.5 145.5h.1M402.1 146.6h.1M403.1 144.8h.1M401.3 145.1h.1M403.7 141.3h.1M404.1 142.2h.1M403.8 146.4h.1M401.9 144.6h.1M402.0 146.3h.1M402.5 148.6h.1M403.5 144.4h.1M404.6 143.0h.1M399.0 150.4h.1M400.2 147.7h.1M402.6 141.3h.1M405.2 141.8h.1M400.5 147.7h.1M401.3 148.9h.1M400.3 149.5h.1M405.2 143.2h.1M402.6 144.9h.1M401.5 145.3h.1M401.1 147.7h.1M402.2 142.5h.1M401.5 146.5h.1M403.7 141.0h.1M402.1 146.0h.1M403.6 143.0h.1M401.5 142.8h.1M403.3 145.4h.1M401.1 145.7h.1M406.7 141.5h.1M404.6 141.9h.1M399.7 147.4h.1M403.0 139.4h.1M399.2 148.3h.1M403.0 143.6h.1M403.6 143.5h.1M402.5 145.4h.1M400.4 147.9h.1M400.6 147.7h.1M402.5 142.1h.1M401.7 147.8h.1M403.1 145.7h.1M401.6 144.0h.1M400.5 146.6h.1M400.8 148.4h.1M400.2 148.8h.1M401.0 146.0h.1M404.2 142.6h.1M402.7 146.0h.1M401.6 145.9h.1M404.5 140.2h.1M405.4 142.0h.1M404.1 143.2h.1M402.4 143.7h.1M404.8 144.7h.1M404.2 142.7h.1M401.9 143.9h.1M404.7 143.1h.1M402.1 144.2h.1M401.7 141.1h.1M399.3 148.5h.1M401.3 148.7h.1M402.6 139.9h.1M403.7 141.2h.1M399.8 146.9h.1M400.1 147.9h.1M404.7 142.8h.1M401.9 145.9h.1M402.5 145.1h.1M402.8 140.5h.1M402.0 142.9h.1M402.6 145.1h.1M404.2 141.5h.1M398.8 149.4h.1M400.0 146.1h.1M406.5 136.5h.1M404.5 143.8h.1M403.8 140.2h.1M401.9 148.1h.1M406.0 140.1h.1M401.5 149.5h.1M403.6 143.8h.1M402.1 143.9h.1M400.6 147.6h.1M402.2 143.0h.1M396.1 152.9h.1M403.7 143.2h.1M402.7 145.6h.1M399.9 146.2h.1M399.1 148.8h.1M399.0 148.2h.1M399.1 147.6h.1M400.7 148.3h.1M402.8 145.7h.1M399.4 149.2h.1M401.4 147.5h.1M399.7 150.6h.1M406.4 140.3h.1M403.1 144.1h.1M398.0 152.6h.1M402.9 143.3h.1M406.1 137.7h.1M401.5 143.8h.1M402.7 143.8h.1M402.9 143.7h.1M405.0 139.8h.1M405.7 139.2h.1M402.3 144.2h.1M399.3 151.0h.1M401.9 145.4h.1M400.5 150.6h.1M398.7 148.6h.1M403.7 142.4h.1M401.4 145.5h.1M402.8 147.1h.1M403.9 144.4h.1M404.2 143.4h.1M402.6 148.7h.1M403.8 140.6h.1M400.2 147.2h.1M403.3 143.4h.1M400.7 145.4h.1M403.6 146.7h.1M402.6 146.7h.1M403.0 141.8h.1M403.0 142.4h.1M402.3 145.2h.1M403.8 141.8h.1M399.8 148.9h.1M403.4 144.3h.1M400.4 149.2h.1M398.4 153.4h.1M399.5 149.7h.1M403.8 143.1h.1M401.2 145.1h.1M403.9 145.9h.1M400.7 147.7h.1M401.4 147.5h.1M400.8 148.9h.1M402.3 145.8h.1M401.1 143.9h.1M400.5 144.3h.1M404.1 146.7h.1M400.9 145.3h.1M403.9 146.0h.1M404.4 144.1h.1M401.7 148.1h.1M404.3 144.7h.1M403.0 141.6h.1M398.4 148.1h.1M402.5 148.4h.1M401.0 145.9h.1M400.0 147.9h.1M401.8 146.9h.1M401.5 147.2h.1M405.2 141.0h.1M403.1 144.7h.1M405.8 141.6h.1M402.1 145.8h.1M402.1 145.2h.1M401.9 145.6h.1M402.9 146.5h.1M406.1 137.6h.1M405.6 142.6h.1M403.2 145.2h.1M399.8 151.6h.1M403.2 147.6h.1M403.8 142.6h.1M403.6 144.9h.1M400.6 145.3h.1M403.9 143.2h.1M401.9 144.0h.1M401.8 147.8h.1M403.2 145.1h.1M403.1 142.9h.1M404.0 143.5h.1M402.8 146.2h.1M401.2 146.8h.1M401.1 144.8h.1M402.9 143.4h.1M402.3 144.1h.1M402.0 140.7h.1M400.9 145.8h.1M402.6 145.7h.1M401.8 145.6h.1M404.0 144.8h.1M400.7 148.4h.1M403.1 140.9h.1M401.3 145.7h.1M405.7 142.1h.1M405.4 141.7h.1M401.3 149.8h.1M400.6 143.2h.1M403.7 143.9h.1M403.3 146.0h.1M401.8 142.7h.1M400.7 147.5h.1M404.8 143.1h.1M403.6 145.0h.1M402.9 146.5h.1M398.2 152.2h.1M403.8 143.1h.1M399.4 148.9h.1M405.5 141.9h.1M404.6 142.7h.1M399.6 148.6h.1M398.6 148.6h.1M401.1 142.9h.1M403.4 141.0h.1M403.8 145.3h.1M403.1 144.6h.1M401.9 144.4h.1M406.0 141.1h.1M404.4 144.5h.1M401.7 149.5h.1M404.7 141.5h.1M404.7 142.8h.1M402.6 145.5h.1M403.2 146.4h.1M404.4 141.0h.1M404.1 144.0h.1M403.1 146.5h.1M405.4 142.5h.1M402.9 146.9h.1M401.5 145.4h.1M398.6 149.5h.1M402.3 146.6h.1M407.6 138.3h.1M397.6 148.4h.1M399.3 148.4h.1M402.6 141.7h.1M400.5 147.0h.1M403.7 142.6h.1M405.0 140.4h.1M400.2 145.2h.1M399.3 145.5h.1M403.8 142.0h.1M403.1 143.5h.1M403.9 140.4h.1M401.2 145.2h.1M403.2 143.9h.1M401.7 147.2h.1M401.0 148.6h.1M399.0 147.1h.1M400.9 148.1h.1M405.3 140.9h.1M404.1 142.9h.1M403.6 145.6h.1M401.6 145.2h.1M402.0 145.6h.1M404.0 141.5h.1M400.9 144.4h.1M399.5 149.9h.1M401.9 145.5h.1M399.7 150.6h.1M400.5 146.0h.1M400.4 147.2h.1M398.1 149.5h.1M397.7 149.0h.1M403.4 146.0h.1M401.6 142.9h.1M404.1 144.7h.1M401.6 148.3h.1M402.4 148.9h.1M401.0 144.0h.1M404.3 142.9h.1M403.3 142.2h.1M402.9 145.4h.1M399.0 146.9h.1M404.5 144.1h.1M402.8 144.4h.1M402.3 147.4h.1M400.6 148.3h.1M400.0 145.9h.1M403.9 141.9h.1M404.1 141.5h.1M400.9 145.7h.1M403.0 145.0h.1M406.1 141.6h.1M400.9 149.7h.1M401.8 146.9h.1M400.7 145.2h.1M402.8 144.3h.1M399.8 150.1h.1M402.8 144.0h.1M400.3 149.7h.1M402.9 142.3h.1M401.3 145.0h.1M402.1 147.1h.1M402.1 141.9h.1M403.4 145.9h.1M400.2 147.6h.1M404.0 143.0h.1M400.9 145.5h.1M401.9 144.0h.1M404.3 141.6h.1M399.5 149.0h.1M404.7 144.1h.1M405.1 143.7h.1M405.9 139.2h.1M398.7 150.2h.1M404.0 143.4h.1M405.4 138.8h.1M401.8 143.6h.1M403.9 146.1h.1M401.2 146.0h.1M397.5 148.8h.1M404.5 141.7h.1M400.0 148.7h.1M399.0 150.3h.1M403.0 142.8h.1M406.2 143.9h.1M403.2 142.6h.1M404.0 143.2h.1M399.9 147.5h.1M402.6 145.8h.1M401.6 146.3h.1M400.4 147.5h.1M401.9 143.7h.1M400.5 148.3h.1M401.5 145.5h.1M405.6 141.9h.1M402.0 145.6h.1M401.5 145.5h.1M401.7 142.0h.1M400.8 149.2h.1M402.6 144.3h.1M404.6 142.4h.1M402.6 143.3h.1M401.6 147.8h.1M402.8 142.5h.1M402.4 147.1h.1M401.9 142.1h.1M400.4 148.0h.1M400.5 148.5h.1M404.7 141.0h.1M401.5 145.7h.1M401.5 145.6h.1M398.9 148.2h.1M401.2 146.7h.1M405.2 141.7h.1M404.3 144.7h.1M402.5 145.7h.1M399.8 151.0h.1M402.6 142.5h.1M403.9 144.8h.1M404.6 142.4h.1M401.1 146.4h.1M401.7 143.0h.1M402.5 147.9h.1M399.7 149.4h.1M397.9 150.1h.1M404.8 144.3h.1M400.8 145.9h.1M404.0 146.9h.1M399.4 149.9h.1M405.9 141.3h.1M401.5 147.2h.1M398.7 150.1h.1M398.4 148.2h.1M401.8 147.6h.1M402.2 141.8h.1M401.3 143.2h.1M404.3 144.9h.1M400.8 147.3h.1M403.0 142.8h.1M400.6 144.6h.1M403.2 142.1h.1M401.1 147.8h.1M401.4 147.4h.1M399.9 147.4h.1M401.7 147.6h.1M400.4 147.6h.1M402.9 144.0h.1M402.0 147.1h.1M397.2 148.4h.1M401.1 146.6h.1M398.9 146.1h.1M398.1 149.5h.1M401.3 144.4h.1M402.9 145.4h.1" stroke="#000" stroke-width="0.8" stroke-linecap="round" opacity="0.3" fill="none"/>
<path d="M401.6 147.7h.1M402.5 146.8h.1M402.7 147.4h.1M402.4 149.8h.1M404.8 143.2h.1M404.2 142.4h.1M402.5 145.5h.1M401.5 145.9h.1M401.6 147.0h.1M400.0 147.8h.1M401.8 145.5h.1M401.8 146.6h.1M403.1 145.9h.1M403.9 145.6h.1M403.6 142.5h.1M401.6 146.5h.1M403.1 146.8h.1M401.8 147.2h.1M402.2 146.0h.1M399.4 147.4h.1M402.7 143.2h.1M402.3 145.6h.1M399.7 148.2h.1M402.6 147.0h.1M403.2 144.6h.1M402.6 145.5h.1M401.8 148.0h.1M401.5 144.8h.1M402.2 146.0h.1M400.1 146.8h.1M403.0 146.5h.1M399.7 147.9h.1M400.6 146.7h.1M400.9 148.9h.1M402.5 144.7h.1M402.6 144.6h.1M400.7 146.8h.1M402.1 146.3h.1M403.8 144.4h.1M400.5 149.4h.1M401.4 146.4h.1M402.6 145.8h.1M402.3 145.4h.1M402.7 148.2h.1M399.6 149.8h.1M402.0 148.4h.1M402.6 144.6h.1M400.0 146.8h.1M401.6 145.9h.1M401.6 146.8h.1M402.0 144.5h.1M402.2 148.4h.1M402.3 146.1h.1M401.2 145.6h.1M400.8 148.4h.1M403.2 146.7h.1M403.4 145.3h.1M401.7 145.6h.1M400.5 147.3h.1M400.8 147.4h.1M399.5 148.2h.1M400.2 148.2h.1M399.1 149.7h.1M401.3 145.4h.1M402.8 147.2h.1M399.7 145.3h.1M404.1 142.1h.1M400.1 145.3h.1M402.3 145.1h.1M399.2 148.0h.1M400.8 146.8h.1M400.5 147.3h.1M401.6 146.1h.1M400.5 148.3h.1M399.8 146.9h.1M400.2 147.2h.1M400.7 145.3h.1M401.1 149.2h.1M402.9 147.0h.1M401.8 145.4h.1M400.6 145.5h.1M403.6 145.0h.1M402.3 146.8h.1M402.4 146.5h.1M401.9 146.1h.1M401.9 144.5h.1M402.1 145.7h.1M401.4 146.2h.1M403.4 146.0h.1M401.9 148.5h.1M402.3 144.9h.1M400.0 148.2h.1M403.5 144.5h.1M400.7 147.3h.1M401.2 146.7h.1M400.9 146.5h.1M402.5 145.8h.1M399.4 149.6h.1M399.9 146.4h.1M402.8 145.7h.1M402.2 146.0h.1M400.6 148.6h.1M402.4 144.0h.1M404.3 143.7h.1M401.5 148.4h.1M401.6 147.5h.1M401.2 149.1h.1M400.7 147.3h.1M400.1 145.9h.1M403.5 142.7h.1M399.7 148.4h.1M403.3 143.2h.1M401.8 146.6h.1M402.2 147.7h.1M401.7 147.7h.1M401.7 145.0h.1M402.1 147.7h.1M400.2 146.0h.1M402.1 147.2h.1M401.9 146.5h.1M402.4 146.4h.1M402.0 147.5h.1M401.0 148.0h.1M402.4 145.5h.1M401.9 146.3h.1M401.3 146.2h.1M399.3 149.6h.1M400.6 146.0h.1M401.0 147.9h.1M401.0 148.6h.1M401.5 147.5h.1M400.6 148.0h.1M398.6 149.2h.1M400.1 148.4h.1M402.8 145.2h.1M401.2 146.7h.1M401.4 148.4h.1M401.8 146.7h.1M399.8 150.1h.1M403.8 144.6h.1M402.4 144.4h.1M402.0 147.1h.1M402.3 146.2h.1M401.6 148.1h.1M400.8 147.1h.1M402.0 147.4h.1M399.6 146.4h.1M402.8 146.1h.1M399.7 148.0h.1M401.8 145.4h.1M399.9 147.7h.1M401.6 146.2h.1M403.6 144.9h.1M402.0 142.6h.1M399.8 148.8h.1M403.0 145.9h.1M402.3 143.5h.1M401.6 146.4h.1M403.5 144.5h.1M400.2 147.5h.1M401.5 146.4h.1M403.7 142.4h.1M402.4 145.2h.1M401.9 144.4h.1M401.1 146.5h.1M401.6 146.9h.1M402.5 144.9h.1M400.9 145.8h.1M403.4 143.7h.1M401.2 148.0h.1M400.5 147.8h.1M401.7 145.4h.1M399.6 148.6h.1M403.1 146.0h.1M403.9 144.6h.1M403.8 143.6h.1M399.7 148.1h.1M401.0 147.0h.1M401.5 144.4h.1M400.0 146.4h.1M401.5 145.3h.1M399.6 149.0h.1M401.6 146.7h.1M402.8 145.8h.1M400.7 147.4h.1M402.8 146.1h.1M401.1 145.9h.1M402.3 147.7h.1M399.7 147.5h.1M401.5 146.8h.1M402.4 146.2h.1M401.2 146.8h.1M402.2 145.3h.1M402.1 145.6h.1M401.1 148.9h.1M403.5 147.6h.1M402.1 144.3h.1M402.2 145.4h.1M400.8 146.6h.1M401.7 149.7h.1M402.0 146.4h.1M402.5 146.5h.1M402.8 144.5h.1M400.8 146.1h.1M402.4 146.9h.1M401.7 145.6h.1M402.8 143.9h.1M404.0 145.7h.1M403.8 143.3h.1M401.0 147.2h.1M402.9 144.8h.1M401.5 145.8h.1M402.5 143.4h.1M400.6 146.8h.1M401.6 144.7h.1M401.8 144.9h.1M400.7 147.9h.1M402.0 146.6h.1M402.2 147.3h.1M402.3 148.0h.1M401.2 147.8h.1M399.8 148.6h.1M402.1 145.8h.1M401.7 146.3h.1M401.2 145.8h.1M400.9 146.2h.1M402.1 146.0h.1M400.9 147.5h.1M401.5 148.6h.1M401.3 145.3h.1M402.1 145.9h.1M403.9 146.7h.1M402.0 145.7h.1M400.4 148.5h.1M399.8 148.0h.1M400.8 147.6h.1M403.3 143.2h.1M402.6 145.7h.1M399.8 147.8h.1M403.4 145.3h.1M402.5 145.2h.1M401.0 147.1h.1M402.6 145.4h.1M401.2 145.7h.1M401.4 146.2h.1M401.8 145.8h.1M402.8 144.4h.1M402.0 145.1h.1M399.3 149.0h.1M401.5 147.8h.1M403.1 144.2h.1M404.2 142.9h.1M400.6 148.3h.1M402.8 144.5h.1M400.0 148.8h.1M403.8 144.9h.1M401.5 146.9h.1M402.2 144.1h.1M401.8 145.1h.1M402.0 148.5h.1" stroke="#000" stroke-width="1.0" stroke-linecap="round" opacity="0.55" fill="none"/>
<line x1="405.50" y1="108.50" x2="405.50" y2="166.50" stroke="#555" stroke-width="1.0"/>
<line x1="383.40" y1="142.50" x2="439.60" y2="142.50" stroke="#555" stroke-width="1.0"/>
<text x="384.70" y="118.10" font-size="6.8" text-anchor="start" fill="#2a2a2a">13.3</text>
<text x="435.20" y="118.10" font-size="6.8" text-anchor="end" fill="#2a2a2a">36.8</text>
<text x="384.70" y="163.10" font-size="6.8" text-anchor="start" fill="#2a2a2a">43.5</text>
<text x="435.20" y="163.10" font-size="6.8" text-anchor="end" fill="#2a2a2a">6.29</text>
<text x="411.50" y="105.50" font-size="6.6" text-anchor="middle" fill="#333">+ HEL B7-H6<tspan font-size="4.5" dy="-3">KO</tspan><tspan dy="3"></tspan></text>
<rect x="448.50" y="108.50" width="56.50" height="58.00" fill="#fff" stroke="#999" stroke-width="0.8"/>
<path d="M479.0 140.4h.1M475.4 131.4h.1M472.9 142.9h.1M483.4 137.0h.1M481.4 125.7h.1M475.8 131.1h.1M465.7 136.2h.1M479.5 133.6h.1M466.7 143.1h.1M478.2 136.5h.1M467.4 145.2h.1M472.6 136.9h.1M470.8 146.3h.1M476.7 140.4h.1M477.4 138.5h.1M476.4 127.1h.1M473.4 130.4h.1M482.2 124.1h.1M480.5 127.1h.1M478.0 135.0h.1M477.9 130.5h.1M474.4 141.1h.1M473.4 133.1h.1M472.3 136.3h.1M471.8 139.9h.1M481.6 129.9h.1M477.8 140.3h.1M478.5 133.2h.1M471.7 134.7h.1M477.0 128.0h.1M477.8 132.1h.1M469.0 142.7h.1M475.6 131.7h.1M486.5 119.7h.1M474.4 128.2h.1M476.6 126.4h.1M480.9 132.6h.1M481.7 125.4h.1M472.3 136.7h.1M469.9 136.2h.1M471.4 135.3h.1M474.4 144.0h.1M474.4 141.0h.1M476.4 126.0h.1M475.9 139.4h.1M473.2 138.3h.1M480.8 127.3h.1M476.3 130.4h.1M478.0 139.2h.1M477.4 140.2h.1M477.9 137.0h.1M471.2 131.4h.1M474.3 125.6h.1M472.6 129.8h.1M474.9 140.6h.1M478.0 136.8h.1M470.9 142.0h.1M475.2 138.2h.1M484.1 126.0h.1M470.7 141.7h.1M477.3 138.8h.1M475.7 128.0h.1M476.1 132.8h.1M476.1 136.6h.1M477.2 140.7h.1M473.7 139.5h.1M478.3 130.3h.1M474.1 134.3h.1M476.8 132.4h.1M478.2 130.6h.1M475.1 144.9h.1M472.4 145.7h.1M477.3 131.9h.1M477.9 128.2h.1M476.8 134.9h.1M482.3 131.7h.1M474.3 145.1h.1M476.4 137.1h.1M473.0 136.9h.1M475.3 138.1h.1M480.4 133.1h.1M468.4 150.6h.1M475.0 137.8h.1M475.7 126.7h.1M475.1 136.8h.1M474.1 142.1h.1M477.1 132.8h.1M470.8 142.0h.1M483.5 132.0h.1M474.9 139.7h.1M482.9 127.9h.1M478.7 133.4h.1M473.4 142.5h.1M472.1 133.7h.1M473.8 134.5h.1M477.1 130.9h.1M474.5 144.4h.1M478.0 129.1h.1M471.8 139.7h.1M474.5 147.7h.1M479.8 138.2h.1M470.4 137.7h.1M473.5 133.0h.1M480.6 125.4h.1M473.0 134.2h.1M478.8 123.5h.1M476.1 119.4h.1M489.2 126.3h.1M475.9 132.8h.1M477.2 125.0h.1M479.3 126.2h.1M481.8 127.8h.1M479.5 136.3h.1M476.7 124.9h.1M473.9 125.9h.1M482.1 135.4h.1M476.2 141.3h.1M476.4 129.9h.1M475.3 130.7h.1M473.3 143.7h.1M476.3 143.3h.1M477.0 125.8h.1M472.0 134.2h.1M483.4 132.2h.1M475.1 136.3h.1M470.9 141.7h.1M474.2 138.8h.1M465.6 146.6h.1M476.9 131.0h.1M470.4 142.5h.1M482.0 121.5h.1M477.2 141.4h.1M470.9 130.5h.1M474.4 141.5h.1M471.5 143.6h.1M472.5 133.2h.1M472.1 138.0h.1M483.7 120.8h.1M480.9 139.0h.1M468.7 148.9h.1M473.2 133.1h.1M473.7 140.2h.1M478.3 139.5h.1M470.4 137.8h.1M467.4 137.5h.1M468.3 143.4h.1M473.9 131.8h.1M480.5 136.9h.1M477.3 135.8h.1M481.0 139.8h.1M478.3 123.6h.1M472.3 138.2h.1M481.1 141.0h.1M479.4 123.9h.1M474.3 131.4h.1M476.5 139.1h.1M474.2 139.9h.1M470.6 135.6h.1M478.8 138.3h.1M474.6 134.6h.1M478.0 124.3h.1M471.1 142.6h.1M477.3 134.4h.1M477.5 130.3h.1M476.9 129.8h.1M473.2 135.0h.1M469.5 137.0h.1M481.0 134.3h.1M478.2 130.6h.1M476.0 135.4h.1M470.6 134.9h.1M483.2 128.0h.1M470.8 133.7h.1M477.9 136.3h.1M482.3 127.3h.1M479.6 136.3h.1M476.5 134.7h.1M476.5 136.6h.1M480.5 125.0h.1M476.4 135.0h.1M478.6 125.0h.1M477.4 129.2h.1M482.6 137.4h.1M476.1 127.0h.1M474.3 138.0h.1M482.2 122.8h.1M475.1 139.7h.1M474.8 131.2h.1M479.9 129.3h.1M474.2 131.1h.1M482.9 128.6h.1M476.4 123.5h.1M469.3 139.6h.1M478.3 138.0h.1M475.7 130.2h.1M478.0 134.1h.1M478.6 137.3h.1M478.7 132.6h.1M473.3 139.2h.1M476.1 138.6h.1M478.5 126.6h.1M473.9 131.0h.1M484.2 127.8h.1M474.5 150.3h.1M472.8 141.5h.1M471.7 142.1h.1M476.7 132.8h.1M479.1 123.9h.1M470.2 142.3h.1M480.8 137.8h.1M480.3 126.4h.1M475.0 142.2h.1M483.4 121.4h.1M476.2 143.5h.1M472.2 139.1h.1M471.0 145.6h.1M479.3 132.3h.1M474.6 146.8h.1M472.1 132.1h.1M473.9 133.3h.1M472.7 137.5h.1M476.5 138.4h.1M477.2 138.3h.1M473.4 130.4h.1M475.1 139.8h.1M471.3 138.6h.1M467.3 139.1h.1M483.6 130.6h.1M483.8 128.1h.1M476.6 130.9h.1M475.4 146.4h.1M477.1 134.9h.1M479.0 132.2h.1M476.7 127.7h.1M479.4 136.6h.1M473.1 139.4h.1M480.9 121.1h.1M479.0 136.0h.1M476.3 140.6h.1M474.8 130.8h.1M477.5 126.6h.1M479.1 138.8h.1M481.6 133.3h.1M472.4 131.0h.1M475.0 135.6h.1M476.7 137.3h.1M476.8 132.6h.1M467.2 152.6h.1M474.4 134.7h.1M468.2 140.0h.1M469.0 139.4h.1M478.9 133.4h.1M476.2 137.5h.1M476.0 136.9h.1M471.4 133.0h.1M467.1 144.9h.1M475.9 147.1h.1M481.5 126.5h.1M474.1 141.5h.1M471.7 135.6h.1M474.4 130.0h.1M476.4 137.2h.1M478.2 136.7h.1M469.5 146.4h.1M470.9 141.3h.1M476.0 133.0h.1M479.4 135.2h.1M479.9 128.7h.1M476.6 129.8h.1M473.5 137.3h.1M474.7 133.4h.1M476.1 139.8h.1M479.0 131.5h.1M473.4 139.0h.1M485.1 135.9h.1M477.9 132.6h.1M478.9 125.6h.1M472.0 139.7h.1M477.1 135.4h.1M472.1 143.4h.1M477.1 127.9h.1M475.6 136.2h.1M477.9 140.6h.1M471.4 140.7h.1M478.0 141.6h.1M477.2 137.7h.1M469.5 133.9h.1M479.5 125.8h.1M473.0 135.1h.1M474.5 133.9h.1M467.7 145.8h.1M473.7 138.2h.1M480.0 121.7h.1M481.0 124.1h.1M471.3 149.3h.1M480.0 124.5h.1M474.9 135.9h.1M469.5 141.4h.1M474.8 129.5h.1M474.6 128.1h.1M480.5 131.4h.1M476.5 131.5h.1M476.2 123.0h.1M477.0 135.9h.1M479.5 131.9h.1M485.0 119.7h.1M477.9 134.6h.1M473.3 144.9h.1M476.4 123.5h.1M477.8 134.4h.1M472.1 141.4h.1M483.9 125.5h.1M473.9 125.1h.1M478.2 136.6h.1M480.2 134.6h.1M468.0 144.1h.1M478.1 134.5h.1M468.9 147.7h.1M468.0 140.0h.1M484.0 126.8h.1M472.2 131.1h.1M471.7 146.3h.1M481.0 142.3h.1M478.1 129.6h.1M476.5 136.8h.1M479.8 136.0h.1M468.9 132.7h.1M473.3 142.7h.1M484.8 129.3h.1M470.6 145.5h.1M472.2 135.3h.1M469.4 142.1h.1M475.8 136.5h.1M476.9 135.6h.1M476.0 136.5h.1M479.6 135.3h.1M477.0 129.9h.1M468.9 146.3h.1M472.4 132.8h.1M482.3 128.7h.1M476.5 122.8h.1M475.7 127.7h.1M469.3 141.8h.1M474.2 139.5h.1M476.7 128.6h.1M480.3 128.1h.1M471.9 136.1h.1M475.0 136.6h.1M480.1 131.4h.1M479.8 128.4h.1M476.9 138.8h.1M470.8 140.0h.1M471.2 145.4h.1M475.9 140.1h.1M464.5 141.2h.1M473.3 139.5h.1M476.0 126.2h.1M478.7 133.1h.1M473.0 137.3h.1M480.3 129.5h.1M469.6 142.7h.1M476.4 131.4h.1M468.1 135.2h.1M483.0 135.3h.1M479.3 127.6h.1M468.1 139.6h.1M482.6 133.5h.1M473.1 134.5h.1M474.8 136.4h.1M469.7 144.2h.1M477.1 136.3h.1M476.7 136.2h.1M480.8 136.9h.1M476.4 136.8h.1M473.1 142.0h.1M482.3 127.1h.1M471.1 134.1h.1M479.1 127.7h.1M471.7 135.2h.1M472.3 139.4h.1M482.3 128.8h.1M479.8 128.2h.1M475.0 137.6h.1M477.5 134.6h.1M474.8 130.9h.1M469.8 142.5h.1M475.0 138.4h.1M468.2 146.6h.1M480.9 130.3h.1M471.1 147.2h.1M471.8 134.4h.1M468.8 141.6h.1M473.0 134.4h.1M470.8 134.4h.1M474.0 138.0h.1M477.9 132.4h.1M473.9 136.7h.1M475.7 128.5h.1M472.9 131.4h.1M472.2 141.7h.1M474.8 137.0h.1M472.8 133.2h.1M476.7 129.4h.1M478.9 127.3h.1M476.9 137.2h.1M477.0 133.3h.1M475.3 134.9h.1M476.0 132.8h.1M472.5 141.0h.1M471.0 137.4h.1M477.8 130.0h.1M480.1 127.7h.1M477.4 133.7h.1M473.9 136.1h.1M475.8 131.4h.1M472.2 138.1h.1M479.5 123.9h.1M472.8 143.8h.1M473.3 131.7h.1M482.2 129.2h.1M480.0 139.8h.1M471.1 139.5h.1M472.3 137.1h.1M478.4 134.6h.1M480.4 128.8h.1M473.3 133.8h.1M474.7 130.8h.1M479.6 131.1h.1M478.4 133.8h.1M476.2 130.4h.1M474.0 129.9h.1M472.3 128.0h.1M473.1 139.5h.1M472.9 137.8h.1M475.9 140.1h.1M482.2 123.6h.1M481.7 139.1h.1M479.5 139.8h.1M476.3 126.2h.1M476.5 131.3h.1M476.5 137.8h.1M476.4 126.7h.1M473.6 140.3h.1M473.9 141.9h.1M475.4 140.8h.1M480.4 127.0h.1M471.8 132.7h.1M480.6 128.4h.1M467.3 138.8h.1M468.7 144.6h.1M473.7 131.6h.1M474.9 136.6h.1M473.3 147.8h.1M474.0 132.1h.1M484.8 124.0h.1M473.7 131.8h.1M469.3 141.7h.1M474.0 139.1h.1M475.6 140.5h.1M471.7 147.5h.1M471.1 140.1h.1M474.7 142.5h.1M481.9 141.4h.1M477.9 139.7h.1M473.6 132.7h.1M476.2 131.4h.1M479.5 133.5h.1M476.9 135.3h.1M474.0 140.6h.1M470.0 131.0h.1M479.6 135.1h.1M488.7 115.7h.1M474.9 136.9h.1M475.8 132.4h.1M479.3 131.3h.1M476.0 129.1h.1M469.6 146.8h.1M476.8 136.9h.1M473.0 144.5h.1M479.0 129.8h.1M471.5 144.1h.1M468.9 145.9h.1M469.8 138.8h.1M482.1 124.1h.1M476.7 128.0h.1M476.8 127.6h.1M475.4 139.2h.1M482.5 135.6h.1M472.7 140.4h.1M474.5 135.7h.1M475.9 126.4h.1M484.5 131.1h.1M473.9 134.6h.1M473.7 140.3h.1M473.3 137.3h.1M467.8 143.0h.1M469.7 144.5h.1M472.9 136.5h.1M476.3 131.8h.1M482.4 129.2h.1M480.2 124.3h.1M476.6 135.7h.1M477.0 130.1h.1M474.6 148.5h.1M475.7 130.4h.1M482.7 119.7h.1M478.3 130.8h.1M481.5 126.0h.1M475.9 128.4h.1M477.7 128.9h.1M477.5 126.7h.1M471.1 141.0h.1M475.7 137.9h.1M479.4 125.7h.1M471.6 137.6h.1M480.9 127.6h.1M472.4 138.4h.1M474.7 136.0h.1M470.2 137.5h.1M478.8 128.7h.1M477.2 132.7h.1M471.1 148.5h.1M473.8 142.4h.1M471.3 140.9h.1M474.4 130.0h.1M481.2 134.6h.1M471.5 146.4h.1M476.7 131.1h.1M478.1 126.9h.1M478.3 134.8h.1M480.1 132.3h.1M487.9 112.3h.1M474.4 134.1h.1M473.4 136.4h.1M478.7 132.0h.1M474.6 134.6h.1M473.2 141.9h.1M475.7 137.0h.1M470.1 140.5h.1M481.1 124.4h.1M470.5 140.8h.1M480.0 123.1h.1M474.9 139.2h.1M473.1 143.9h.1M474.4 136.2h.1M481.1 124.8h.1M472.5 131.8h.1M479.8 124.3h.1M478.2 129.3h.1M479.6 133.9h.1M474.9 138.9h.1M477.0 128.6h.1M479.9 135.5h.1M477.6 139.4h.1M474.1 134.4h.1M476.9 129.7h.1M478.3 133.3h.1M479.9 127.0h.1M484.1 121.5h.1M478.2 130.7h.1M476.0 128.3h.1M476.2 129.0h.1M471.9 128.2h.1M471.8 133.3h.1M472.9 137.7h.1M474.9 137.5h.1M470.4 138.7h.1M477.2 129.7h.1M471.0 142.0h.1M473.5 134.1h.1M473.1 139.6h.1M474.9 140.1h.1M476.6 129.5h.1M477.2 133.8h.1M480.4 129.6h.1M471.5 139.1h.1M476.6 139.0h.1M479.5 135.4h.1M473.0 127.8h.1M475.6 130.1h.1M480.6 126.7h.1M471.2 141.7h.1M475.2 135.5h.1M475.5 139.4h.1M482.8 125.2h.1M474.2 145.3h.1M471.8 139.4h.1M475.7 126.5h.1M469.3 138.2h.1M469.8 145.2h.1M476.4 124.0h.1M477.7 129.5h.1M471.1 136.6h.1M468.9 138.5h.1M476.1 136.3h.1M472.8 138.9h.1M474.0 138.8h.1M479.5 130.8h.1M472.7 139.2h.1M471.9 134.5h.1M469.8 137.0h.1M479.3 130.6h.1M475.2 135.4h.1M474.2 125.3h.1M473.1 142.8h.1M473.9 138.5h.1M469.6 133.5h.1M476.3 134.2h.1M472.2 136.2h.1M482.1 122.1h.1M477.7 140.0h.1M472.9 136.0h.1M475.9 145.0h.1M478.1 139.0h.1M479.1 119.6h.1M474.7 131.9h.1M473.1 140.2h.1M476.2 127.3h.1M471.4 135.0h.1M476.3 130.7h.1M475.2 143.4h.1M476.4 139.6h.1M477.4 124.3h.1M476.0 134.2h.1M473.2 131.7h.1M479.4 133.0h.1M476.9 128.0h.1M478.4 140.6h.1M470.6 140.1h.1M474.2 135.0h.1M475.6 127.4h.1M479.4 139.3h.1M482.2 129.8h.1M472.4 145.4h.1M472.4 138.1h.1M468.3 138.8h.1M466.5 145.2h.1M485.7 123.5h.1M476.6 135.8h.1M478.5 120.2h.1M475.5 130.5h.1M475.7 142.9h.1M478.2 125.7h.1M476.1 129.9h.1M479.8 121.1h.1M478.0 129.6h.1M474.0 135.2h.1M474.6 130.3h.1M474.1 135.4h.1M469.6 139.6h.1M472.3 135.7h.1M477.1 127.2h.1M473.4 141.1h.1M476.9 127.5h.1M477.2 125.4h.1M477.5 134.3h.1M476.8 137.8h.1M476.9 129.0h.1M472.3 136.8h.1M480.1 130.6h.1M476.5 130.3h.1M470.1 132.3h.1M479.1 140.1h.1M471.7 139.7h.1M474.6 135.1h.1M471.9 141.3h.1M475.4 135.4h.1M475.1 132.8h.1M474.9 136.8h.1M478.3 132.3h.1M476.8 127.5h.1M466.5 140.1h.1M475.8 135.0h.1M471.0 138.9h.1M470.4 137.2h.1M477.6 137.5h.1M479.8 128.7h.1M481.2 128.4h.1M474.3 138.6h.1M472.8 133.6h.1M476.7 136.9h.1M471.5 134.3h.1M475.4 121.9h.1M480.5 130.0h.1M469.4 145.5h.1M474.9 131.1h.1M480.6 131.9h.1M477.1 144.2h.1M480.2 125.4h.1M480.6 130.5h.1M480.7 124.5h.1M473.6 143.5h.1M476.0 137.1h.1M474.9 140.0h.1M473.2 138.8h.1M471.2 137.6h.1M471.2 142.7h.1M474.7 133.6h.1M473.9 145.6h.1M474.7 126.4h.1M475.1 128.8h.1M464.4 146.5h.1M473.2 139.7h.1M478.3 134.0h.1M482.4 118.3h.1M477.4 138.3h.1M480.2 126.1h.1M482.9 121.9h.1M476.6 134.2h.1M476.0 143.9h.1M469.8 141.1h.1M473.7 147.2h.1M476.1 133.4h.1M476.8 133.8h.1M478.4 141.7h.1M478.7 124.7h.1M473.9 138.3h.1M471.7 131.4h.1M474.2 126.5h.1M480.7 130.4h.1M483.0 133.7h.1M477.6 131.2h.1M474.5 131.5h.1M480.1 127.5h.1M474.5 125.9h.1M472.6 140.1h.1M479.2 132.5h.1M476.6 134.7h.1M474.5 136.0h.1M477.7 124.2h.1M477.8 134.3h.1M476.7 132.5h.1M477.7 126.6h.1M473.7 140.9h.1M473.9 137.8h.1M472.7 135.1h.1M471.4 140.1h.1M474.7 132.0h.1M474.3 141.0h.1M480.4 134.7h.1M478.3 135.4h.1M477.1 134.8h.1M476.2 130.8h.1M476.0 137.1h.1M480.2 131.2h.1M476.0 137.2h.1M475.2 134.0h.1M476.8 135.5h.1M475.6 128.3h.1M475.1 132.4h.1M472.4 139.4h.1M483.5 123.7h.1M475.4 124.8h.1M475.3 133.3h.1M475.6 129.1h.1M471.9 138.9h.1M479.5 129.9h.1M475.2 138.4h.1M479.0 130.6h.1M474.2 132.6h.1M471.4 140.3h.1M481.5 133.9h.1M474.3 134.0h.1M478.6 139.3h.1M477.2 135.8h.1M475.3 127.6h.1M476.6 133.0h.1M475.3 137.6h.1M481.4 140.7h.1M473.7 134.7h.1M471.8 144.4h.1M473.8 139.4h.1M477.9 139.1h.1M472.5 147.7h.1M482.0 123.3h.1M480.7 137.8h.1M478.5 125.2h.1M473.5 135.0h.1M478.7 136.0h.1M478.2 136.3h.1M470.6 144.7h.1M472.6 141.4h.1M479.7 132.7h.1M475.1 137.1h.1M479.8 134.1h.1M480.9 135.2h.1M469.9 141.7h.1M471.4 141.0h.1M476.4 142.2h.1M470.6 145.2h.1M471.9 141.7h.1M471.9 132.8h.1M476.0 126.4h.1M476.2 124.8h.1M478.7 131.4h.1M471.2 137.1h.1M474.7 141.6h.1M483.4 126.4h.1M471.1 130.3h.1M475.9 140.8h.1M469.3 139.2h.1M484.2 121.8h.1M479.7 131.4h.1M471.9 130.7h.1M481.5 136.3h.1M475.2 135.9h.1M477.6 128.4h.1M480.1 131.5h.1M483.3 127.2h.1M473.2 146.5h.1M472.5 127.6h.1M481.6 135.7h.1M481.7 130.8h.1M478.8 131.7h.1M473.5 148.4h.1M474.0 133.7h.1M483.1 126.8h.1M479.6 130.8h.1M473.6 140.3h.1M472.7 146.8h.1M478.9 126.9h.1M480.2 135.9h.1M478.0 131.9h.1M471.4 138.6h.1M476.8 126.9h.1M478.9 137.8h.1M479.5 138.0h.1M467.1 139.3h.1M474.2 132.7h.1M482.3 135.3h.1M470.7 139.3h.1M473.6 137.6h.1M476.3 131.1h.1M468.2 140.2h.1M477.5 132.7h.1M477.2 128.4h.1M477.3 135.3h.1M467.7 141.1h.1M474.1 134.4h.1M476.2 126.2h.1M475.0 133.8h.1M475.4 144.4h.1M478.6 129.8h.1M477.4 132.6h.1M479.6 125.9h.1M482.8 127.0h.1M479.9 131.0h.1M476.9 137.0h.1M472.9 148.7h.1M469.2 146.6h.1M477.4 136.7h.1M470.6 136.9h.1M477.4 135.7h.1M477.7 143.3h.1M472.7 140.7h.1M476.1 127.1h.1M473.8 131.7h.1M478.3 135.5h.1M482.2 125.6h.1M474.7 139.6h.1M476.3 131.5h.1M474.5 141.3h.1M481.8 141.1h.1M473.7 132.9h.1M473.9 135.4h.1M476.8 140.8h.1M475.6 137.1h.1M480.3 129.8h.1M476.1 141.3h.1M471.6 142.5h.1M483.8 127.2h.1M472.3 143.3h.1M473.4 135.9h.1M469.9 141.5h.1M468.3 138.1h.1M478.9 128.6h.1M476.8 129.9h.1M473.6 136.1h.1M482.2 126.6h.1M479.6 140.4h.1M482.0 129.7h.1M482.0 135.0h.1M479.1 128.4h.1M472.1 132.9h.1M475.5 131.5h.1M469.8 132.4h.1M467.3 149.7h.1M476.1 118.1h.1M472.8 128.9h.1M474.3 133.4h.1M470.9 133.0h.1M475.1 139.4h.1M477.1 140.1h.1M474.7 134.0h.1M474.6 127.3h.1M474.9 132.2h.1M474.5 132.6h.1M478.1 130.0h.1M475.2 139.8h.1M477.3 127.8h.1M472.7 136.2h.1M478.9 131.8h.1M470.6 136.8h.1M474.2 126.8h.1M477.6 144.3h.1M480.4 123.2h.1M478.0 139.3h.1M475.6 138.0h.1M473.3 139.2h.1M470.8 140.2h.1M473.6 135.7h.1M469.4 142.8h.1M478.2 128.5h.1M477.4 136.6h.1M468.5 147.0h.1M476.9 135.1h.1M475.8 130.9h.1M476.7 133.8h.1M473.8 138.2h.1M479.7 138.1h.1M467.2 149.7h.1M473.0 143.7h.1M468.4 148.0h.1M472.5 143.9h.1M473.0 128.5h.1M476.1 125.9h.1M474.8 123.3h.1M475.3 139.5h.1M475.7 131.8h.1M475.1 137.2h.1M478.8 133.7h.1M474.9 133.2h.1M475.1 141.0h.1M473.3 125.2h.1M474.6 138.0h.1M472.0 137.7h.1M475.9 137.2h.1M474.1 139.1h.1M471.5 145.9h.1M471.7 133.9h.1M474.1 131.1h.1M476.7 129.9h.1M476.2 137.6h.1M480.6 124.9h.1M472.3 137.7h.1M476.3 139.5h.1M467.4 148.6h.1M485.4 127.3h.1M480.8 128.8h.1M481.3 127.5h.1M471.7 144.6h.1M473.4 128.3h.1M474.5 146.6h.1M479.0 127.4h.1M476.7 136.3h.1M477.3 138.7h.1M477.7 135.4h.1M478.8 138.2h.1M479.9 125.0h.1M478.4 127.5h.1M474.5 145.3h.1M478.0 129.2h.1M468.5 149.6h.1M488.6 127.2h.1M474.8 138.2h.1M476.9 137.5h.1M478.3 136.5h.1M486.1 122.7h.1M483.9 133.4h.1M478.7 136.6h.1M483.7 134.4h.1M473.2 136.4h.1M481.6 130.4h.1M472.1 137.5h.1M475.8 137.8h.1M474.5 136.6h.1M481.3 128.7h.1M477.7 134.5h.1M475.0 136.2h.1M472.4 144.6h.1M477.6 128.5h.1M478.0 138.9h.1M478.9 134.3h.1M478.9 138.4h.1M473.0 131.0h.1M472.8 131.5h.1M470.8 144.9h.1M469.7 144.9h.1M476.3 137.0h.1M471.4 145.5h.1M472.8 128.3h.1M475.2 134.3h.1M479.4 128.2h.1M479.1 131.1h.1M476.8 130.6h.1M472.3 138.1h.1M478.2 134.0h.1M479.2 129.8h.1M477.2 128.0h.1M476.4 133.2h.1M476.8 136.3h.1M473.1 138.8h.1M474.7 136.8h.1M474.9 138.1h.1M480.5 128.9h.1M478.5 127.3h.1M476.6 136.7h.1M477.1 140.0h.1M480.4 131.4h.1M480.1 127.5h.1M479.9 132.1h.1M475.4 143.9h.1M468.5 143.3h.1M484.7 127.2h.1M480.9 130.5h.1M471.9 136.4h.1M477.6 136.1h.1M476.8 136.1h.1M480.0 136.6h.1M473.1 140.7h.1M483.5 132.0h.1M471.9 137.9h.1M473.8 142.3h.1M478.1 127.2h.1M477.6 135.1h.1M483.1 129.5h.1M478.8 134.0h.1M475.4 127.5h.1M480.5 124.7h.1M477.4 133.5h.1M476.2 126.9h.1M478.6 140.5h.1M478.3 132.8h.1M466.2 148.1h.1M478.0 136.8h.1M472.4 139.4h.1M471.7 145.7h.1M474.4 129.2h.1M474.5 134.0h.1M476.8 131.9h.1M472.3 143.8h.1M478.4 134.0h.1M486.1 123.8h.1M480.5 132.3h.1M477.3 145.2h.1M478.7 131.0h.1M475.6 133.4h.1M468.6 136.1h.1M472.5 139.3h.1M472.5 131.7h.1M472.2 149.0h.1M480.9 129.5h.1M477.2 130.0h.1M479.4 132.6h.1M476.1 129.3h.1M477.6 126.2h.1M472.0 143.6h.1M477.7 134.3h.1M478.4 131.7h.1M480.3 131.6h.1M470.5 135.2h.1M475.7 135.2h.1M474.2 128.5h.1M480.3 132.4h.1M476.5 121.5h.1M471.7 145.9h.1M476.4 134.6h.1M473.6 135.5h.1M474.0 131.6h.1M472.4 132.4h.1M473.7 138.5h.1M479.3 134.5h.1M468.0 140.5h.1M473.1 141.3h.1M475.7 142.5h.1M479.9 135.2h.1M479.4 130.7h.1M485.4 130.5h.1M472.6 143.2h.1M476.5 137.1h.1M475.6 126.1h.1M474.0 133.6h.1M480.6 126.8h.1M486.6 129.0h.1M477.4 139.3h.1M475.8 138.2h.1M474.6 133.4h.1M478.3 141.4h.1M476.8 135.4h.1M479.0 138.4h.1M478.0 122.1h.1M477.2 135.3h.1M476.8 139.7h.1M475.8 134.6h.1M478.7 134.4h.1M470.8 148.2h.1M472.5 141.4h.1M473.2 144.1h.1M477.0 136.8h.1M473.3 129.9h.1M473.2 140.1h.1M472.7 145.4h.1M474.1 128.7h.1M473.3 137.0h.1M472.2 133.5h.1M479.1 132.5h.1M479.2 129.4h.1M473.1 137.3h.1M471.1 139.9h.1M473.3 142.6h.1M467.9 137.9h.1M479.2 135.5h.1M482.6 118.0h.1M478.0 132.4h.1M474.8 138.7h.1M475.7 136.1h.1M468.8 134.0h.1M473.3 144.4h.1M480.6 137.4h.1M474.1 131.3h.1M475.6 133.5h.1M472.4 139.0h.1M474.0 134.0h.1M468.9 136.5h.1M476.8 137.9h.1M472.8 142.6h.1M474.5 140.0h.1M471.1 141.2h.1M472.2 140.3h.1M473.8 146.5h.1M469.3 140.9h.1M471.9 138.1h.1M468.5 149.6h.1M472.8 140.2h.1M468.3 146.7h.1M478.3 137.2h.1M474.6 138.6h.1M475.1 137.6h.1M473.3 136.2h.1M474.9 145.9h.1M473.6 141.8h.1M473.1 144.7h.1M471.9 138.9h.1M474.0 143.2h.1M475.3 141.5h.1M473.5 143.6h.1M473.1 141.1h.1M471.2 143.3h.1M471.5 142.5h.1M472.3 143.8h.1M472.7 142.3h.1M475.0 141.4h.1M475.9 139.8h.1M472.6 144.3h.1M475.9 140.9h.1M468.6 141.4h.1M475.3 138.3h.1M473.0 141.6h.1M472.2 143.9h.1M473.2 142.2h.1M471.9 138.1h.1M470.4 139.7h.1M474.5 140.9h.1M473.1 141.8h.1M473.8 134.5h.1M476.3 140.4h.1M473.4 140.8h.1M472.6 139.8h.1M477.6 137.0h.1M472.2 139.7h.1M475.5 142.5h.1M470.4 143.0h.1M472.4 137.7h.1M473.8 144.1h.1M472.0 141.4h.1M474.3 134.7h.1M472.3 143.9h.1M474.6 139.1h.1M472.4 142.7h.1M472.7 146.4h.1M472.0 143.1h.1M469.4 141.2h.1M472.9 142.0h.1M470.4 141.0h.1M476.7 145.7h.1M472.9 142.3h.1M478.3 141.6h.1M476.0 141.0h.1M471.3 143.2h.1M471.0 140.0h.1M472.9 143.1h.1M472.6 137.5h.1M470.8 145.0h.1M474.2 140.6h.1M476.3 141.5h.1M474.2 143.7h.1M473.3 143.4h.1M473.7 140.9h.1M468.0 143.3h.1M469.2 141.4h.1M469.1 143.8h.1M473.5 140.5h.1M470.6 143.5h.1M470.5 141.1h.1M471.7 147.9h.1M472.2 143.1h.1M473.4 138.4h.1M475.1 141.8h.1M472.7 136.9h.1M467.7 147.5h.1M468.0 147.6h.1M475.4 137.3h.1M474.3 141.1h.1M470.1 144.3h.1M474.9 140.1h.1M474.6 141.0h.1M473.8 140.8h.1M471.9 139.0h.1M475.9 140.6h.1M472.9 139.3h.1M471.9 139.8h.1M474.1 140.5h.1M474.0 141.3h.1M472.4 140.8h.1M474.0 142.1h.1M475.0 143.9h.1M471.2 139.6h.1M476.2 141.4h.1M473.7 142.5h.1M474.0 142.6h.1M476.0 137.8h.1M474.7 136.5h.1M474.0 141.7h.1M472.3 143.5h.1M474.9 137.9h.1M471.5 145.8h.1M474.8 137.5h.1M473.2 137.3h.1M471.5 142.2h.1M470.0 139.9h.1M470.4 143.3h.1M472.4 140.5h.1M475.2 146.9h.1M471.6 145.4h.1M471.9 140.2h.1M473.8 144.3h.1M473.1 142.1h.1M471.3 141.4h.1M470.1 142.2h.1M473.0 141.0h.1M471.5 143.8h.1M473.1 140.1h.1M475.1 145.0h.1M474.6 138.7h.1M473.5 143.6h.1M474.5 140.4h.1M476.5 141.1h.1M475.7 143.9h.1M471.3 144.8h.1M473.5 139.5h.1M470.3 144.2h.1M475.7 142.2h.1M471.8 146.0h.1M473.9 143.7h.1M472.2 141.6h.1M470.7 142.1h.1M472.6 140.7h.1M473.1 139.9h.1M470.7 139.7h.1M473.4 141.3h.1M475.3 138.7h.1M472.7 139.0h.1M475.6 142.3h.1M473.9 144.2h.1M471.1 144.2h.1M469.2 141.2h.1M475.8 140.6h.1M473.0 141.4h.1M475.2 140.8h.1M469.7 144.1h.1M469.3 145.5h.1M473.0 141.3h.1M469.8 148.1h.1M473.0 142.8h.1M472.8 147.2h.1M474.7 142.7h.1M472.8 140.2h.1M474.7 147.4h.1M472.5 137.7h.1M474.9 142.0h.1M472.0 141.7h.1M469.0 142.4h.1M475.5 146.7h.1M474.6 144.0h.1M475.6 140.6h.1M472.7 142.0h.1M468.5 144.5h.1M467.3 143.8h.1M473.9 141.7h.1M470.4 141.0h.1M474.6 140.0h.1M474.2 140.9h.1M472.9 138.8h.1M476.1 139.9h.1M476.3 141.1h.1M471.7 139.7h.1M469.3 145.9h.1M474.0 140.0h.1M474.0 139.4h.1M476.8 142.5h.1M470.1 143.8h.1M470.9 138.6h.1M474.6 139.2h.1M472.8 140.0h.1M472.0 142.2h.1M467.8 145.1h.1M470.6 142.9h.1M479.1 139.7h.1M471.9 140.6h.1M473.1 138.3h.1M475.6 144.1h.1M471.5 144.5h.1M473.7 137.6h.1M471.7 138.9h.1M475.8 139.4h.1M469.3 138.7h.1M470.3 143.7h.1M475.1 138.1h.1M471.7 141.8h.1M472.6 140.2h.1M472.2 139.9h.1M475.8 140.5h.1M472.8 139.8h.1M474.4 137.8h.1M468.3 138.7h.1M474.0 138.6h.1M475.7 138.1h.1M473.4 142.8h.1M470.9 143.8h.1M473.1 142.0h.1M477.1 140.0h.1M475.3 142.1h.1M474.9 139.5h.1M473.5 141.9h.1M467.7 144.3h.1M470.1 142.6h.1M470.6 144.7h.1M468.4 144.9h.1M472.9 142.5h.1M476.3 140.2h.1M476.4 142.0h.1M473.5 140.5h.1M473.0 139.9h.1M470.9 141.3h.1M479.4 140.5h.1M475.5 140.7h.1M474.0 140.1h.1M469.8 146.8h.1M477.7 141.4h.1M474.9 139.0h.1M473.5 142.1h.1M468.9 144.5h.1M476.1 140.6h.1M469.9 141.0h.1M474.1 143.4h.1M469.9 140.6h.1M472.6 142.2h.1M469.9 143.0h.1M473.9 141.0h.1M476.8 139.9h.1M470.9 140.4h.1M471.7 144.6h.1M470.8 141.3h.1M473.9 143.0h.1M473.9 143.1h.1M473.6 141.0h.1M470.8 140.5h.1M473.6 142.1h.1M469.6 139.1h.1M470.9 144.3h.1M471.2 139.0h.1M476.6 140.9h.1M473.9 141.2h.1M471.7 140.3h.1M475.5 133.8h.1M474.0 141.0h.1M472.9 134.3h.1M473.1 144.3h.1M471.1 143.2h.1M468.3 143.3h.1M469.7 143.0h.1M470.8 143.4h.1M471.0 140.6h.1M474.2 141.7h.1M470.9 141.4h.1M474.9 143.0h.1M473.1 144.2h.1M469.8 142.6h.1M469.8 143.0h.1M472.4 142.7h.1M476.4 139.7h.1M469.2 147.3h.1M474.8 140.7h.1M471.6 138.4h.1M468.6 140.0h.1M475.0 141.1h.1M474.5 137.9h.1M471.0 142.8h.1M472.4 140.3h.1M471.5 142.3h.1M471.1 141.3h.1M476.0 144.0h.1M473.5 142.2h.1M472.7 143.7h.1M472.6 143.1h.1M476.6 140.2h.1M476.1 138.6h.1M474.1 141.2h.1M473.5 139.0h.1M471.8 142.0h.1M473.7 143.7h.1M475.0 142.3h.1M477.1 140.6h.1M474.1 141.6h.1M471.7 145.2h.1M475.3 140.0h.1M475.3 135.8h.1M473.3 140.5h.1M469.0 144.5h.1M472.8 140.7h.1M475.5 136.6h.1M471.0 141.1h.1M472.1 139.5h.1M468.7 139.5h.1M473.7 140.5h.1M470.2 146.9h.1M474.3 145.1h.1M470.8 141.3h.1M471.1 138.6h.1M473.0 141.2h.1M472.0 143.8h.1M473.7 143.2h.1M470.9 144.3h.1M475.1 146.2h.1M470.9 142.0h.1M474.6 141.7h.1M474.9 137.1h.1M469.8 140.5h.1M474.6 144.6h.1M473.5 141.8h.1M470.6 147.9h.1M475.5 141.1h.1M473.1 138.4h.1M470.1 142.7h.1M471.1 142.2h.1M475.0 137.0h.1M473.6 141.8h.1M471.8 142.5h.1M470.6 142.3h.1M474.3 136.9h.1M473.3 142.2h.1M470.9 142.9h.1M474.4 141.4h.1M477.9 138.9h.1M468.4 141.9h.1M469.9 145.7h.1M475.5 137.9h.1M474.0 142.2h.1M474.6 138.8h.1M475.0 140.1h.1M469.8 143.7h.1M468.2 143.6h.1M475.7 139.2h.1M473.2 143.8h.1M473.6 140.8h.1M470.9 143.9h.1M474.8 140.2h.1M473.7 144.9h.1M470.8 143.6h.1M474.5 138.9h.1M474.1 140.0h.1M473.6 142.5h.1M474.6 139.0h.1M471.1 144.8h.1M475.8 140.1h.1M475.1 138.1h.1M474.3 140.2h.1M472.0 141.8h.1M471.8 143.8h.1M472.4 140.8h.1M473.4 145.7h.1M473.3 141.1h.1M474.8 143.9h.1M470.3 140.3h.1M473.4 141.0h.1M470.6 143.2h.1M473.4 141.8h.1M472.7 141.0h.1M470.1 144.9h.1M475.8 138.4h.1" stroke="#f04848" stroke-width="0.7" stroke-linecap="round" opacity="0.17" fill="none"/>
<path d="M470.3 143.2h.1M473.9 141.5h.1M472.1 135.0h.1M474.3 134.2h.1M472.9 138.8h.1M470.8 139.5h.1M473.8 137.7h.1M473.2 140.1h.1M474.4 135.2h.1M473.1 147.1h.1M471.9 142.5h.1M474.1 133.0h.1M479.4 139.2h.1M482.0 129.6h.1M471.1 141.1h.1M475.7 131.9h.1M474.7 136.4h.1M476.6 130.0h.1M477.7 131.4h.1M470.0 140.2h.1M474.9 141.3h.1M470.5 138.1h.1M479.4 127.6h.1M477.0 135.5h.1M470.8 141.5h.1M471.6 144.8h.1M472.1 133.9h.1M475.7 136.6h.1M475.7 140.3h.1M478.5 138.1h.1M470.6 144.1h.1M470.6 134.9h.1M473.7 135.2h.1M475.2 135.8h.1M477.3 142.2h.1M477.2 137.8h.1M472.7 138.7h.1M470.7 147.3h.1M469.7 147.1h.1M476.0 134.1h.1M471.1 141.2h.1M476.8 135.1h.1M471.5 140.4h.1M473.3 134.4h.1M477.3 131.9h.1M477.9 127.5h.1M474.2 138.5h.1M478.7 131.0h.1M474.8 135.4h.1M468.5 150.7h.1M470.8 148.1h.1M475.8 135.2h.1M477.3 132.5h.1M472.2 137.7h.1M471.9 136.6h.1M475.9 141.8h.1M476.1 142.2h.1M478.0 133.4h.1M471.9 137.3h.1M475.3 141.1h.1M477.6 136.1h.1M476.6 141.8h.1M476.4 136.9h.1M474.0 139.5h.1M473.3 135.1h.1M470.5 136.8h.1M470.8 144.5h.1M475.5 133.0h.1M474.9 133.6h.1M474.2 137.1h.1M472.5 139.1h.1M479.8 133.8h.1M471.4 140.7h.1M473.6 135.3h.1M478.2 136.7h.1M477.3 135.8h.1M473.5 138.1h.1M472.8 138.7h.1M477.0 129.2h.1M469.9 139.5h.1M469.4 144.2h.1M467.1 141.6h.1M475.0 137.7h.1M474.3 141.6h.1M478.3 135.6h.1M475.0 132.4h.1M468.2 143.8h.1M472.1 145.5h.1M473.6 138.8h.1M477.0 138.0h.1M468.8 141.4h.1M472.8 139.5h.1M468.7 144.4h.1M477.1 135.8h.1M476.4 131.8h.1M472.4 135.7h.1M474.5 135.7h.1M478.2 136.5h.1M478.1 133.2h.1M476.9 133.4h.1M474.6 134.1h.1M475.4 133.5h.1M469.9 141.9h.1M475.5 135.3h.1M475.2 141.3h.1M473.4 134.4h.1M473.7 136.6h.1M477.4 138.3h.1M475.7 134.9h.1M477.0 137.3h.1M469.5 136.3h.1M478.5 129.7h.1M474.6 136.6h.1M473.6 134.3h.1M476.2 139.3h.1M472.0 138.9h.1M473.1 140.3h.1M473.8 136.4h.1M477.0 138.4h.1M474.7 134.1h.1M476.2 140.2h.1M476.7 132.1h.1M475.5 133.0h.1M468.6 146.4h.1M469.8 142.4h.1M476.4 140.6h.1M471.3 135.3h.1M475.6 135.4h.1M474.8 135.7h.1M471.8 137.7h.1M474.2 129.1h.1M473.1 143.3h.1M473.3 139.2h.1M472.5 140.0h.1M472.0 135.7h.1M474.2 135.7h.1M470.2 135.4h.1M473.7 134.9h.1M475.2 138.0h.1M477.8 132.9h.1M473.3 139.8h.1M473.2 139.5h.1M476.4 135.8h.1M474.4 135.8h.1M473.3 134.9h.1M474.8 137.7h.1M469.7 141.9h.1M473.5 135.6h.1M472.0 140.0h.1M472.9 133.2h.1M472.2 134.8h.1M476.4 138.1h.1M472.8 139.0h.1M475.0 133.1h.1M476.1 138.6h.1M474.1 144.5h.1M476.3 133.6h.1M479.6 130.7h.1M476.4 133.8h.1M477.1 137.1h.1M471.4 140.0h.1M475.7 139.6h.1M478.2 135.6h.1M476.4 134.2h.1M474.3 136.8h.1M478.1 134.2h.1M477.2 129.6h.1M476.5 138.1h.1M472.4 133.1h.1M474.6 134.7h.1M474.7 134.2h.1M476.6 132.0h.1M472.9 139.6h.1M475.0 142.9h.1M472.8 138.8h.1M471.9 139.0h.1M474.5 140.8h.1M475.3 134.2h.1M478.0 134.8h.1M470.9 140.1h.1M469.8 146.2h.1M467.5 143.9h.1M472.4 137.1h.1M474.9 138.4h.1M471.5 141.8h.1M470.9 135.6h.1M473.5 132.6h.1M475.0 137.9h.1M477.0 136.1h.1M471.3 146.0h.1M476.7 136.2h.1M473.9 140.3h.1M469.0 134.5h.1M470.3 143.3h.1M469.9 139.2h.1M474.2 141.9h.1M471.3 141.3h.1M472.8 136.2h.1M476.8 140.0h.1M475.2 138.6h.1M479.3 134.4h.1M477.7 136.8h.1M476.4 136.8h.1M474.1 134.3h.1M472.8 135.9h.1M477.2 133.6h.1M477.0 136.3h.1M470.7 137.6h.1M473.7 138.5h.1M475.9 135.1h.1M469.5 138.9h.1M474.6 137.6h.1M476.5 138.7h.1M471.9 137.5h.1M474.9 138.4h.1M477.8 137.0h.1M474.4 132.4h.1M479.4 131.0h.1M476.2 136.2h.1M474.4 134.1h.1M473.9 132.6h.1M474.8 145.5h.1M471.1 142.1h.1M474.0 133.5h.1M472.6 134.6h.1M473.4 139.5h.1M477.1 135.2h.1M472.1 139.8h.1M474.7 143.4h.1M472.4 134.8h.1M475.8 136.3h.1M478.1 136.0h.1M479.0 126.2h.1M471.3 138.2h.1M474.8 133.5h.1M475.3 140.7h.1M471.3 136.5h.1M473.4 137.1h.1M477.2 131.2h.1M474.0 138.4h.1M469.0 143.2h.1M467.9 148.3h.1M476.6 132.3h.1M474.1 136.8h.1M476.0 132.8h.1M473.4 138.6h.1M472.0 142.1h.1M472.3 140.5h.1M473.8 131.7h.1M474.5 141.7h.1M478.5 136.8h.1M477.8 133.7h.1M470.1 144.0h.1M477.7 132.2h.1M474.8 136.3h.1M473.5 135.8h.1M473.7 136.9h.1M475.3 133.2h.1M472.0 138.4h.1M475.1 133.3h.1M475.4 137.0h.1M476.0 135.7h.1M473.5 139.5h.1M478.6 133.3h.1M476.3 135.0h.1M474.9 140.9h.1M475.6 137.7h.1M476.9 140.0h.1M477.6 136.9h.1M473.6 133.1h.1M473.5 145.8h.1M474.6 135.2h.1M475.4 132.7h.1M473.4 134.7h.1M474.9 138.1h.1M475.3 134.1h.1M472.8 141.2h.1M472.8 139.4h.1M472.4 139.8h.1M470.6 141.0h.1M475.0 136.2h.1M475.8 136.8h.1M476.4 136.5h.1M477.9 134.9h.1M473.5 139.1h.1M473.3 136.8h.1M472.7 142.5h.1M471.5 141.0h.1M469.3 142.0h.1M477.4 134.3h.1M472.9 135.2h.1M471.8 141.4h.1M475.1 140.0h.1M473.6 142.7h.1M469.9 145.2h.1M476.3 133.7h.1M473.8 135.5h.1M480.7 133.0h.1M472.0 136.9h.1M472.0 136.9h.1M475.1 140.9h.1M474.1 141.0h.1M469.8 137.8h.1M471.2 140.0h.1M473.9 139.1h.1M475.3 136.8h.1M473.1 139.7h.1M476.3 129.7h.1M474.1 139.1h.1M475.6 132.6h.1M478.7 131.1h.1M477.0 141.0h.1M476.5 132.3h.1M476.3 135.7h.1M470.1 140.5h.1M473.0 138.6h.1M467.5 148.3h.1M475.2 141.4h.1M473.5 135.5h.1M476.1 141.7h.1M472.4 136.9h.1M473.2 138.6h.1M471.7 138.3h.1M471.1 136.7h.1M471.3 138.1h.1M475.2 139.7h.1M477.4 135.9h.1M477.9 128.7h.1M472.6 139.7h.1M473.6 137.2h.1M475.3 139.7h.1M475.2 140.7h.1M474.9 136.0h.1M471.7 135.6h.1M478.7 132.8h.1M475.7 132.7h.1M472.4 139.2h.1M472.0 143.6h.1M479.8 138.7h.1M474.9 133.5h.1M479.2 136.7h.1M474.7 137.2h.1M476.9 139.0h.1M475.6 138.4h.1M472.1 137.6h.1M478.3 138.6h.1M477.7 136.7h.1M474.9 139.5h.1M473.4 143.4h.1M474.9 136.1h.1M473.3 140.3h.1M474.4 136.5h.1M473.4 139.1h.1M470.9 144.3h.1M470.8 136.9h.1M476.0 138.6h.1M475.3 134.3h.1M475.6 135.4h.1M473.6 135.6h.1M480.0 138.8h.1M478.1 133.5h.1M471.7 141.0h.1M477.6 131.0h.1M475.2 130.0h.1M477.7 137.9h.1M468.7 138.3h.1M476.3 131.3h.1M474.4 138.8h.1M476.2 137.3h.1M476.1 138.2h.1M476.1 136.9h.1M473.5 138.9h.1M476.9 136.1h.1M474.1 136.1h.1M474.6 139.0h.1M474.7 133.9h.1M476.9 136.1h.1M473.3 138.9h.1M475.2 139.3h.1M473.6 133.8h.1M471.7 143.0h.1M474.4 136.1h.1M471.6 135.1h.1M471.4 142.3h.1M474.8 139.8h.1M477.5 131.7h.1M476.5 134.9h.1M471.3 140.4h.1M470.5 136.6h.1M470.4 137.2h.1M473.3 140.0h.1M472.8 140.1h.1M472.1 136.7h.1M472.2 138.2h.1M481.6 133.2h.1M479.4 130.9h.1M475.6 136.8h.1M475.2 138.7h.1M471.5 142.8h.1M472.2 139.4h.1M475.2 140.9h.1M473.2 135.7h.1M477.7 130.3h.1M472.3 138.3h.1M473.8 129.8h.1M475.6 136.8h.1M478.4 137.6h.1M475.1 137.8h.1M469.6 147.2h.1M473.7 140.8h.1M474.2 138.5h.1M477.2 136.1h.1M471.6 140.4h.1M471.0 137.5h.1M470.7 141.1h.1M475.5 139.2h.1M472.7 140.3h.1M475.0 133.9h.1M474.4 141.6h.1M472.6 141.3h.1M475.5 138.5h.1M473.5 131.4h.1M472.7 136.5h.1M473.8 137.5h.1M479.1 136.7h.1M473.1 136.6h.1M477.8 135.3h.1M474.1 133.5h.1M472.1 136.1h.1M468.9 142.8h.1M474.8 136.1h.1M477.1 135.6h.1M475.9 132.6h.1M472.2 139.8h.1M478.3 143.5h.1M476.1 137.0h.1M473.0 136.9h.1M475.2 137.2h.1M470.8 138.4h.1M474.0 137.5h.1M473.2 137.2h.1M468.8 146.2h.1M475.4 132.8h.1M470.9 138.1h.1M471.3 144.7h.1M472.8 144.8h.1M476.6 139.0h.1M470.7 143.9h.1M475.6 140.2h.1M474.0 142.9h.1M472.9 139.0h.1M473.8 139.9h.1M477.9 130.7h.1M471.7 134.6h.1M476.0 132.0h.1M472.6 143.2h.1M473.7 138.6h.1M474.0 142.8h.1M475.0 135.3h.1M476.1 131.2h.1M471.8 136.0h.1M470.1 143.9h.1M473.6 138.2h.1M475.5 133.2h.1M476.6 131.5h.1M474.1 139.5h.1M477.5 139.5h.1M473.0 142.3h.1M470.1 144.0h.1M472.2 138.8h.1M476.3 132.5h.1M473.0 140.8h.1M476.1 136.2h.1M475.2 137.0h.1M475.6 140.6h.1M469.1 138.7h.1M471.5 144.5h.1M473.3 138.8h.1M474.3 135.3h.1M477.2 135.6h.1M476.4 138.0h.1M475.6 137.9h.1M471.1 143.9h.1M470.4 142.1h.1M474.0 140.9h.1M474.3 139.9h.1M472.9 144.1h.1M472.4 140.1h.1M473.2 138.7h.1M472.9 136.5h.1M471.9 136.6h.1M470.7 142.6h.1M472.8 141.5h.1M476.9 134.4h.1M471.8 141.3h.1M474.9 136.9h.1M476.2 131.6h.1M475.6 130.9h.1M472.6 143.8h.1M472.9 137.4h.1M473.0 139.4h.1M475.3 142.1h.1M474.2 133.6h.1M474.5 137.2h.1M477.8 133.2h.1M470.5 142.2h.1M467.8 146.3h.1M475.5 139.4h.1M474.4 138.0h.1M479.0 133.8h.1M473.9 139.5h.1M474.7 135.6h.1M476.2 132.7h.1M469.2 148.0h.1M471.2 137.0h.1M471.6 139.2h.1M471.4 141.9h.1M472.5 139.8h.1M473.7 138.6h.1M479.2 129.9h.1M473.7 142.4h.1M473.6 139.5h.1M475.0 133.1h.1M480.0 128.3h.1M475.0 144.8h.1" stroke="#e82828" stroke-width="0.7" stroke-linecap="round" opacity="0.22" fill="none"/>
<path d="M470.1 134.7h.1M466.0 138.0h.1M472.0 134.8h.1M466.0 135.5h.1M468.3 142.8h.1M466.6 142.1h.1M466.9 139.4h.1M467.3 148.1h.1M472.0 128.4h.1M466.8 139.5h.1M468.5 139.4h.1M469.6 144.4h.1M468.2 136.8h.1M471.8 134.6h.1M470.1 130.0h.1M468.3 139.7h.1M473.4 131.2h.1M467.9 135.4h.1M466.7 143.8h.1M468.5 131.4h.1M467.9 140.0h.1M470.8 135.0h.1M472.6 136.2h.1M468.6 138.6h.1M470.3 139.7h.1M470.7 134.3h.1M471.7 141.6h.1M470.8 142.6h.1M470.4 131.8h.1M468.3 137.9h.1M467.7 129.1h.1M464.9 143.4h.1M470.5 138.2h.1M467.5 136.8h.1M468.1 141.8h.1M473.7 131.9h.1M467.9 137.4h.1M467.8 146.1h.1M471.5 135.4h.1M468.6 144.7h.1M469.2 136.9h.1M470.1 135.5h.1M472.7 126.7h.1M468.3 139.7h.1M468.0 136.8h.1M469.3 140.2h.1M469.0 140.6h.1M469.6 134.2h.1M469.8 132.1h.1M468.9 133.4h.1M463.1 148.6h.1M474.1 134.8h.1M466.9 137.6h.1M466.7 142.7h.1M466.0 140.9h.1M467.5 147.9h.1M469.3 135.0h.1M466.3 137.5h.1M466.5 136.1h.1M465.8 140.5h.1M467.1 141.7h.1M471.1 135.1h.1M470.1 133.9h.1M472.1 138.7h.1M469.3 138.3h.1M471.9 135.0h.1M471.8 129.1h.1M469.8 136.2h.1M468.0 137.5h.1M467.4 138.5h.1M468.9 134.8h.1M467.9 138.3h.1M468.7 136.2h.1M467.0 134.0h.1M468.4 140.4h.1M471.3 132.0h.1M473.2 128.1h.1M467.8 140.5h.1M468.7 133.0h.1M463.7 144.3h.1M470.4 133.8h.1M465.1 145.2h.1M471.1 131.1h.1M468.8 132.5h.1M468.6 145.8h.1M467.4 139.7h.1M465.3 146.0h.1M474.4 129.3h.1M471.3 130.2h.1M470.8 136.8h.1M467.2 142.4h.1M468.5 136.2h.1M469.0 136.4h.1M469.3 131.7h.1M471.2 127.4h.1M469.3 132.0h.1M470.7 132.4h.1M467.8 136.8h.1M470.6 138.7h.1M469.0 132.6h.1M470.0 137.5h.1M468.8 139.3h.1M467.1 142.3h.1M466.9 142.5h.1M466.3 140.0h.1M468.1 142.8h.1M466.7 143.0h.1M470.4 138.8h.1M469.7 143.2h.1M466.4 136.1h.1M469.2 137.0h.1M468.0 136.0h.1M467.0 143.5h.1M471.9 135.0h.1M465.8 142.5h.1M466.8 139.6h.1M467.8 135.5h.1M465.1 140.6h.1M472.1 127.0h.1M469.1 135.7h.1M470.2 136.8h.1M471.1 131.8h.1M467.4 147.1h.1M471.7 132.4h.1M468.4 142.1h.1M467.5 141.2h.1M467.4 147.4h.1M471.2 133.0h.1M470.0 138.1h.1M469.1 145.4h.1M470.0 138.4h.1M470.8 132.0h.1M467.1 141.3h.1M467.5 135.9h.1M466.2 141.7h.1M468.8 138.5h.1M472.1 128.7h.1M469.3 137.5h.1M468.1 140.5h.1M472.4 132.4h.1M465.6 145.4h.1M468.9 137.3h.1M470.3 133.8h.1M468.2 145.4h.1M467.6 134.0h.1M469.2 126.3h.1M472.7 130.7h.1M464.7 141.1h.1M470.1 134.9h.1M466.9 139.6h.1M471.0 140.3h.1M470.9 129.6h.1M467.4 136.1h.1M468.9 137.5h.1M467.1 136.8h.1M467.0 142.4h.1M465.3 143.0h.1M465.1 137.8h.1M470.6 136.7h.1M468.5 137.6h.1M472.5 130.5h.1M473.0 135.1h.1M469.9 140.0h.1M467.9 138.1h.1M470.0 128.0h.1M470.0 129.4h.1M469.4 133.8h.1M467.6 142.7h.1M469.1 141.3h.1M468.4 139.1h.1M469.9 135.6h.1M472.9 137.0h.1M468.0 134.0h.1M467.1 146.8h.1M471.4 137.5h.1M469.3 132.4h.1M469.0 134.8h.1M465.9 136.5h.1M469.3 139.4h.1M469.9 139.4h.1M465.8 141.7h.1M469.4 138.0h.1M468.6 131.3h.1M468.0 137.3h.1M473.5 131.3h.1M470.4 139.5h.1M470.3 140.3h.1M468.3 131.5h.1M466.2 142.3h.1M467.4 139.1h.1M469.2 144.4h.1M468.4 137.4h.1M473.6 143.5h.1M467.7 141.0h.1M468.0 141.0h.1M466.2 139.7h.1M469.0 134.0h.1M472.2 132.2h.1M473.7 121.3h.1M471.3 136.6h.1M471.1 132.3h.1M468.8 141.9h.1M464.4 134.9h.1M469.8 138.9h.1M470.0 137.0h.1M469.2 135.8h.1M465.3 138.0h.1M470.0 140.0h.1M465.9 140.1h.1M466.7 139.3h.1M470.9 135.8h.1M467.5 144.8h.1M467.9 128.8h.1M473.7 133.7h.1M470.2 142.0h.1M473.9 133.5h.1M471.1 135.5h.1M467.6 142.1h.1M469.7 141.8h.1M468.8 135.5h.1M467.6 140.9h.1M468.1 136.3h.1M468.7 139.6h.1M471.2 130.8h.1M468.3 143.8h.1M468.9 130.2h.1M467.8 140.4h.1M467.4 136.0h.1M473.1 128.5h.1M467.4 142.4h.1M467.4 143.2h.1M469.2 143.2h.1M466.8 147.9h.1M471.0 141.3h.1M473.7 126.6h.1M464.4 139.6h.1M468.4 138.8h.1M472.3 134.4h.1M468.5 134.4h.1M464.2 146.7h.1M466.3 134.3h.1M470.2 129.2h.1M469.4 129.8h.1M466.3 145.2h.1M470.7 136.6h.1M470.1 131.6h.1M470.5 133.6h.1M470.2 141.0h.1M466.3 135.0h.1M469.8 135.7h.1M469.9 140.0h.1M469.8 136.9h.1M467.4 136.3h.1M468.4 140.6h.1M469.7 139.3h.1M465.8 139.7h.1M472.3 130.7h.1M467.9 135.7h.1M470.1 132.9h.1M470.4 136.0h.1M468.5 132.2h.1M467.0 139.3h.1M467.9 135.8h.1M467.3 142.9h.1M469.6 136.0h.1M474.8 137.8h.1M467.1 145.5h.1M466.9 146.0h.1M465.8 142.0h.1M465.5 133.9h.1M467.7 141.1h.1M464.0 138.4h.1M466.2 147.2h.1M471.2 122.0h.1M466.4 138.4h.1M470.1 144.5h.1M463.8 143.9h.1M472.2 132.9h.1M468.9 138.3h.1M470.7 136.8h.1M470.4 136.5h.1M470.6 138.9h.1M470.3 134.9h.1M469.3 126.4h.1M470.2 140.4h.1M467.1 136.8h.1M469.0 134.2h.1M468.1 135.3h.1M469.8 131.0h.1M467.8 135.5h.1M467.0 139.0h.1M471.7 134.3h.1M469.4 145.3h.1M467.2 136.6h.1M468.4 135.7h.1M468.6 127.9h.1M467.9 140.4h.1M468.9 138.4h.1M470.4 138.0h.1M470.4 144.5h.1M468.1 138.1h.1M465.8 138.3h.1M468.5 139.7h.1M467.8 136.0h.1M469.8 128.8h.1M471.0 140.3h.1M469.3 134.1h.1M471.0 137.0h.1M468.1 138.9h.1M468.8 134.0h.1M471.1 131.4h.1M470.0 134.0h.1M467.4 135.6h.1M466.1 133.9h.1M469.9 140.0h.1M470.8 133.1h.1M470.6 136.3h.1M470.4 138.9h.1M467.3 139.6h.1M470.3 136.2h.1M465.3 142.7h.1M466.2 139.1h.1M467.2 144.0h.1M472.6 131.2h.1M470.8 130.1h.1M469.5 135.5h.1M468.7 142.3h.1M466.6 137.4h.1M471.5 129.4h.1M471.7 134.5h.1M469.4 131.7h.1M474.6 127.1h.1M469.6 127.8h.1M470.7 132.4h.1M467.0 134.8h.1M468.3 138.7h.1M471.5 137.8h.1M471.1 133.9h.1M469.9 131.9h.1M470.3 135.8h.1M469.4 137.0h.1M468.9 134.0h.1M474.1 129.0h.1M470.6 134.6h.1M468.9 144.5h.1M469.0 136.9h.1M468.2 135.5h.1M470.7 132.0h.1M469.4 142.2h.1M469.1 140.1h.1M468.5 142.3h.1M470.4 130.0h.1M468.4 135.9h.1M469.5 133.4h.1M469.1 132.7h.1M470.4 138.3h.1M468.5 146.2h.1M473.9 129.8h.1M465.3 145.1h.1M469.0 136.1h.1M471.3 135.4h.1M467.6 137.9h.1M470.2 136.0h.1M470.2 136.7h.1M471.0 136.4h.1M469.4 135.1h.1M466.2 145.2h.1M466.5 144.7h.1M470.9 132.3h.1M467.7 143.0h.1M469.5 136.2h.1M471.7 130.4h.1M473.9 137.1h.1M468.3 143.0h.1M470.0 137.1h.1M468.5 137.5h.1M469.6 138.1h.1M470.2 135.0h.1M468.9 140.5h.1M471.0 136.2h.1M473.5 132.2h.1M469.6 139.3h.1M469.6 134.8h.1M470.6 130.5h.1M467.8 134.3h.1M465.9 138.7h.1M466.1 147.4h.1M466.9 143.4h.1M470.3 135.6h.1M468.7 138.1h.1M470.7 137.5h.1M474.3 121.8h.1M469.8 134.3h.1M467.3 139.2h.1M472.2 130.5h.1M471.8 130.6h.1M467.6 136.4h.1M470.1 134.9h.1M469.0 135.5h.1M467.3 137.4h.1M467.6 141.5h.1M471.3 131.7h.1M468.2 132.1h.1M468.6 141.1h.1M469.0 135.3h.1M469.7 140.7h.1M464.8 141.4h.1M470.6 134.9h.1M466.3 136.6h.1M469.6 137.6h.1M469.8 136.3h.1M472.0 135.3h.1M471.8 134.8h.1M467.9 140.7h.1M467.7 136.4h.1M471.1 134.3h.1M467.4 143.1h.1M467.9 135.8h.1M467.5 142.9h.1M470.0 137.7h.1M469.8 133.7h.1M469.6 136.0h.1M469.6 137.4h.1M467.8 136.6h.1M470.9 142.7h.1M467.9 131.2h.1M467.2 142.2h.1M468.4 146.4h.1M467.7 139.0h.1M467.7 141.2h.1M467.7 134.7h.1M467.1 138.6h.1M467.7 142.3h.1M466.5 142.2h.1M464.9 142.1h.1M464.3 144.1h.1M468.0 137.6h.1M470.9 130.0h.1M468.9 142.0h.1M467.0 141.4h.1M467.4 138.5h.1M468.2 138.5h.1M472.0 138.8h.1M471.2 131.7h.1M469.7 138.4h.1M468.7 137.6h.1M469.2 137.7h.1M467.5 142.8h.1M467.9 142.4h.1M464.6 147.5h.1M469.4 141.1h.1M467.5 141.1h.1M470.0 138.4h.1M469.1 132.6h.1M465.5 147.3h.1M469.5 134.1h.1M469.7 129.3h.1M467.8 137.6h.1M467.0 136.6h.1M473.3 130.5h.1M469.7 134.2h.1M470.6 135.9h.1M465.5 140.8h.1M467.3 139.8h.1M470.3 134.1h.1M468.7 132.5h.1M469.2 136.9h.1M470.4 131.2h.1M471.4 130.3h.1M464.6 145.4h.1M468.4 138.7h.1M466.1 139.1h.1M470.6 136.1h.1M472.0 125.6h.1M469.2 141.6h.1M466.4 140.5h.1M470.1 134.0h.1M469.3 142.2h.1M467.1 138.7h.1M468.9 131.8h.1M470.8 130.7h.1M472.1 130.0h.1M469.9 131.9h.1M465.9 137.7h.1M470.3 138.0h.1M473.3 132.2h.1M468.4 139.3h.1M472.0 134.5h.1M470.8 140.7h.1M469.8 132.5h.1M469.2 133.7h.1M465.9 142.8h.1M467.7 139.2h.1M467.2 139.2h.1M469.8 133.4h.1M466.1 138.0h.1M466.5 147.5h.1M469.8 137.9h.1M466.7 135.7h.1M466.1 142.7h.1M470.7 131.4h.1M470.1 131.9h.1M467.9 144.0h.1M470.3 137.4h.1M468.5 149.5h.1M470.5 142.3h.1M466.4 143.2h.1M469.3 138.5h.1M470.2 137.0h.1M470.0 136.7h.1M467.1 139.7h.1M465.8 139.3h.1M469.5 135.3h.1M469.6 140.4h.1M471.7 130.8h.1M469.1 138.1h.1M467.6 137.8h.1M469.5 134.4h.1M467.2 138.6h.1M472.3 133.4h.1M469.4 133.3h.1M466.4 135.2h.1M466.6 142.6h.1M469.2 138.1h.1M468.0 138.4h.1M467.6 135.6h.1M468.6 136.2h.1M466.8 137.9h.1M471.2 138.5h.1M468.2 137.8h.1M467.3 141.2h.1M467.9 138.3h.1M468.0 140.5h.1M469.0 137.5h.1M466.5 143.3h.1M473.2 129.5h.1M471.2 132.6h.1M469.7 136.0h.1M467.6 139.7h.1M469.6 135.1h.1M469.5 139.3h.1M468.8 132.2h.1M468.5 136.8h.1M468.6 137.6h.1M465.4 146.6h.1M467.5 141.1h.1M467.2 135.7h.1M467.5 143.1h.1M470.1 138.9h.1M469.3 133.2h.1M469.9 130.5h.1M466.8 139.5h.1M463.8 151.3h.1M469.0 137.4h.1M467.1 134.0h.1M467.7 145.1h.1M471.5 132.0h.1M467.6 137.7h.1M472.0 130.4h.1M466.8 137.2h.1M470.4 137.1h.1M467.1 142.2h.1M469.5 134.0h.1M469.9 136.4h.1M470.7 141.5h.1M469.2 134.5h.1M467.8 139.5h.1M471.0 130.0h.1M470.3 135.1h.1M470.9 138.1h.1M469.6 138.6h.1M474.1 129.8h.1M466.2 136.2h.1M470.0 135.4h.1M465.5 141.6h.1M470.0 134.0h.1M466.5 136.3h.1M468.7 141.2h.1M468.6 142.3h.1M471.5 133.0h.1M468.7 137.3h.1M471.0 135.0h.1M472.0 134.7h.1M468.5 129.7h.1M468.5 130.6h.1M469.3 139.8h.1M467.0 138.2h.1M469.8 147.9h.1M468.5 137.3h.1M466.0 135.3h.1M463.5 144.0h.1M467.5 137.1h.1M467.0 136.9h.1M468.2 137.8h.1M466.5 136.1h.1M467.8 143.1h.1M472.5 138.6h.1M469.8 127.3h.1M468.4 137.9h.1M468.0 140.0h.1" stroke="#000" stroke-width="0.6" stroke-linecap="round" opacity="0.18" fill="none"/>
<path d="M467.4 142.5h.1M469.4 143.6h.1M466.4 149.1h.1M467.5 144.4h.1M467.5 147.4h.1M467.7 146.0h.1M470.2 142.4h.1M467.4 145.0h.1M467.4 147.0h.1M468.0 144.8h.1M468.9 146.2h.1M468.6 145.3h.1M469.4 142.9h.1M468.8 145.6h.1M466.8 145.9h.1M467.8 145.8h.1M468.4 149.2h.1M468.8 140.4h.1M469.5 143.8h.1M464.2 149.6h.1M467.3 145.2h.1M470.1 141.9h.1M465.0 149.2h.1M467.0 145.9h.1M471.8 141.0h.1M468.0 143.7h.1M470.4 143.7h.1M465.4 147.1h.1M471.3 141.4h.1M468.7 143.5h.1M470.5 141.6h.1M465.9 147.4h.1M467.5 146.8h.1M466.9 147.9h.1M469.0 144.4h.1M466.2 147.5h.1M467.1 144.3h.1M471.6 141.8h.1M472.1 144.6h.1M467.2 147.0h.1M469.4 144.1h.1M466.3 147.6h.1M469.4 143.0h.1M466.6 148.6h.1M469.5 143.4h.1M469.9 142.6h.1M466.8 149.2h.1M470.7 143.3h.1M471.3 142.2h.1M472.1 141.9h.1M470.6 141.4h.1M468.5 142.8h.1M468.2 142.5h.1M467.7 147.1h.1M471.0 139.8h.1M469.4 145.4h.1M469.9 142.4h.1M469.6 143.5h.1M466.7 144.0h.1M466.8 148.2h.1M469.9 143.6h.1M469.4 145.2h.1M467.7 148.1h.1M470.1 140.4h.1M467.5 143.1h.1M468.2 146.6h.1M468.6 147.1h.1M471.1 141.9h.1M469.0 146.9h.1M467.9 146.1h.1M463.8 149.3h.1M468.8 146.2h.1M467.3 146.6h.1M469.5 142.3h.1M471.9 142.3h.1M470.3 142.2h.1M467.0 149.8h.1M468.4 143.9h.1M470.5 141.0h.1M468.1 145.7h.1M470.2 146.8h.1M468.9 145.5h.1M465.8 148.7h.1M468.3 146.4h.1M467.5 145.1h.1M468.4 144.2h.1M468.0 144.4h.1M468.3 144.9h.1M467.0 145.6h.1M472.0 140.1h.1M470.8 141.8h.1M469.0 142.5h.1M469.8 144.9h.1M472.3 142.0h.1M466.4 146.7h.1M468.7 142.2h.1M469.0 142.5h.1M466.1 143.9h.1M465.4 149.4h.1M467.4 150.0h.1M471.0 141.8h.1M468.4 149.1h.1M469.8 143.2h.1M467.9 145.3h.1M466.2 145.1h.1M467.2 143.0h.1M470.3 141.3h.1M468.3 142.0h.1M469.7 141.0h.1M467.1 147.9h.1M467.9 146.8h.1M471.9 142.7h.1M468.6 145.1h.1M468.1 145.9h.1M466.6 149.3h.1M467.6 146.1h.1M468.0 146.7h.1M467.4 142.4h.1M469.5 146.1h.1M464.4 149.0h.1M465.6 150.5h.1M470.4 142.3h.1M465.7 148.4h.1M467.7 150.2h.1M466.6 148.8h.1M466.7 146.2h.1M470.2 145.0h.1M469.5 146.0h.1M469.6 148.3h.1M468.0 146.6h.1M468.3 148.2h.1M468.2 146.0h.1M467.7 147.3h.1M468.1 144.7h.1M465.3 147.1h.1M469.1 147.2h.1M469.4 144.9h.1M467.4 148.1h.1M465.9 145.5h.1M469.4 144.0h.1M468.7 146.4h.1M469.3 147.0h.1M467.6 145.6h.1M469.6 145.7h.1M464.6 152.7h.1M468.0 144.1h.1M467.7 145.7h.1M471.1 140.3h.1M465.2 149.0h.1M471.0 142.4h.1M469.0 146.4h.1M468.0 146.5h.1M469.3 145.5h.1M467.3 144.8h.1M465.5 148.4h.1M468.7 144.3h.1M468.7 143.7h.1M466.7 148.4h.1M469.5 143.6h.1M467.5 144.5h.1M470.6 144.6h.1M468.7 143.8h.1M467.2 144.4h.1M471.9 141.1h.1M468.2 145.4h.1M465.6 149.2h.1M469.7 143.3h.1M464.6 149.2h.1M467.9 145.0h.1M467.5 146.1h.1M464.6 151.5h.1M466.3 150.5h.1M471.0 139.3h.1M467.0 147.6h.1M464.8 151.9h.1M466.6 148.3h.1M465.6 145.6h.1M470.1 143.6h.1M464.4 149.3h.1M468.9 146.3h.1M468.8 146.3h.1M466.0 145.4h.1M470.7 143.4h.1M467.5 146.1h.1M462.9 150.3h.1M469.4 147.0h.1M466.9 147.7h.1M467.3 146.2h.1M469.2 144.8h.1M463.4 151.5h.1M467.6 145.5h.1M468.4 145.2h.1M465.6 148.4h.1M464.9 151.0h.1M471.7 143.2h.1M469.0 143.1h.1M463.7 148.8h.1M465.9 147.0h.1M466.3 147.7h.1M468.7 147.1h.1M466.5 149.3h.1M468.3 143.5h.1M467.9 145.1h.1M468.3 142.4h.1M468.2 145.9h.1M472.2 142.2h.1M467.6 149.2h.1M468.9 143.4h.1M468.4 143.3h.1M468.0 145.8h.1M468.3 144.1h.1M467.2 146.2h.1M465.0 148.7h.1M468.4 146.5h.1M470.3 143.6h.1M465.0 151.9h.1M470.7 141.1h.1M465.5 149.2h.1M470.5 144.4h.1M465.9 148.6h.1M468.6 143.4h.1M467.4 148.0h.1M468.1 144.7h.1M469.1 145.8h.1M467.9 145.2h.1M469.8 145.0h.1M467.7 145.6h.1M468.8 147.2h.1M471.6 143.0h.1M466.5 146.1h.1M467.9 145.6h.1M469.6 144.3h.1M465.8 147.0h.1M469.3 147.7h.1M467.5 144.7h.1M467.8 145.1h.1M468.2 146.1h.1M467.1 146.6h.1M467.4 144.1h.1M468.5 143.4h.1M465.6 149.2h.1M466.3 147.4h.1M466.7 145.0h.1M469.0 145.4h.1M468.7 143.0h.1M470.0 145.0h.1M465.8 145.9h.1M465.8 147.7h.1M469.1 144.9h.1M466.3 147.0h.1M466.7 148.4h.1M469.1 143.1h.1M467.9 147.8h.1M466.6 146.2h.1M468.0 144.8h.1M464.0 151.6h.1M471.9 138.3h.1M470.7 141.9h.1M471.0 140.2h.1M467.3 145.4h.1M468.8 145.6h.1M470.1 143.2h.1M466.5 144.1h.1M469.0 144.9h.1M467.1 146.5h.1M467.4 148.4h.1M471.4 142.8h.1M467.8 143.2h.1M467.2 144.4h.1M468.0 147.6h.1M473.7 140.7h.1M468.1 146.9h.1M462.6 149.5h.1M468.3 143.8h.1M464.1 151.5h.1M470.4 142.1h.1M466.9 147.0h.1M468.1 145.5h.1M467.1 144.8h.1M467.2 146.0h.1M464.6 148.4h.1M469.1 144.3h.1M466.9 143.8h.1M466.4 147.5h.1M469.6 143.7h.1M470.0 144.3h.1M467.0 148.4h.1M467.6 145.1h.1M464.4 149.3h.1M464.1 152.9h.1M470.0 143.5h.1M466.2 144.3h.1M469.9 142.1h.1M467.6 144.4h.1M468.6 144.6h.1M469.6 145.0h.1M469.4 144.1h.1M470.5 144.6h.1M466.7 148.7h.1M469.5 144.7h.1M465.1 151.4h.1M469.4 145.2h.1M473.1 140.5h.1M471.4 139.8h.1M470.2 141.1h.1M466.8 147.1h.1M467.9 142.9h.1M465.5 147.1h.1M469.8 142.8h.1M467.4 145.6h.1M466.6 146.8h.1M467.8 143.8h.1M470.3 142.8h.1M463.8 148.2h.1M467.5 146.0h.1M467.2 144.0h.1M469.2 145.1h.1M466.9 147.6h.1M469.0 146.2h.1M466.9 147.2h.1M470.0 143.1h.1M469.2 144.7h.1M469.9 140.6h.1M467.3 147.4h.1M466.5 147.2h.1M469.4 145.3h.1M471.4 143.0h.1M466.5 143.4h.1M467.0 145.7h.1M464.8 149.6h.1M468.3 146.8h.1M468.0 144.4h.1M469.8 142.3h.1M465.6 149.1h.1M467.8 143.2h.1M467.2 143.4h.1M471.0 139.0h.1M470.7 142.6h.1M466.1 149.9h.1M466.9 146.7h.1M468.8 146.6h.1M467.4 147.5h.1M468.0 147.2h.1M465.2 148.8h.1M466.2 145.9h.1M466.4 147.5h.1M466.6 145.5h.1M467.3 146.8h.1M468.2 144.8h.1M467.7 145.0h.1M468.4 145.6h.1M467.1 145.5h.1M466.3 149.3h.1M468.7 146.5h.1M469.8 141.8h.1M467.2 144.9h.1M466.7 144.3h.1M470.4 145.0h.1M467.5 144.9h.1M465.6 146.1h.1M466.8 145.7h.1M466.7 148.1h.1M468.0 149.2h.1M467.3 145.0h.1M468.7 147.7h.1M465.3 147.7h.1M469.4 145.6h.1M469.1 143.8h.1M469.2 146.7h.1M467.0 146.9h.1M469.8 139.6h.1M468.0 144.9h.1M467.1 146.8h.1M469.8 142.9h.1M471.2 141.7h.1M465.0 148.3h.1M467.6 149.3h.1M468.4 146.7h.1M469.2 143.7h.1M467.4 149.3h.1M471.8 142.9h.1M468.6 144.8h.1M472.5 141.7h.1M466.7 144.1h.1M468.0 143.5h.1M468.1 142.2h.1M466.0 145.6h.1M465.2 147.9h.1M468.3 146.7h.1M464.7 149.2h.1M465.2 148.5h.1M467.6 145.4h.1M469.3 144.7h.1M471.8 144.4h.1M469.7 141.3h.1M467.0 147.3h.1M464.9 148.7h.1M471.8 142.4h.1M469.2 145.6h.1M469.5 145.9h.1M465.6 149.3h.1M465.6 148.0h.1M469.3 143.5h.1M465.4 146.3h.1M469.0 141.4h.1M465.7 147.7h.1M469.2 141.1h.1M466.4 149.2h.1M465.2 149.3h.1M466.2 145.3h.1M467.5 147.6h.1M465.8 146.9h.1M467.3 142.9h.1M468.4 142.7h.1M463.6 147.2h.1M469.7 143.3h.1M470.3 141.6h.1M470.9 142.4h.1M466.6 144.9h.1M467.0 146.4h.1M467.8 145.4h.1M467.2 143.6h.1M467.2 148.1h.1M465.1 149.1h.1M467.2 144.1h.1M470.1 145.6h.1M467.6 144.8h.1M465.0 148.3h.1M466.4 150.7h.1M465.8 145.5h.1M468.2 144.0h.1M470.0 143.0h.1M467.0 146.7h.1M465.8 149.6h.1M465.3 147.9h.1M465.8 146.1h.1M468.8 143.5h.1M465.5 150.4h.1M467.3 147.3h.1M466.6 147.4h.1M467.7 145.5h.1M467.9 146.6h.1M464.9 147.1h.1M471.3 144.3h.1M469.5 141.8h.1M468.0 142.0h.1M469.4 144.3h.1M467.5 142.1h.1M469.1 144.2h.1M467.5 144.5h.1M464.7 149.5h.1M469.2 145.4h.1M468.5 143.7h.1M466.9 146.6h.1M468.4 142.2h.1M467.5 144.9h.1M466.3 148.5h.1M469.0 142.0h.1M464.5 146.3h.1M467.9 143.8h.1M466.2 148.3h.1M465.7 148.5h.1M468.6 143.9h.1M467.3 147.3h.1M468.6 147.3h.1M468.0 146.7h.1M466.8 143.6h.1M469.4 140.3h.1M466.9 145.8h.1M467.9 144.4h.1M465.7 145.1h.1M469.5 139.9h.1M468.4 144.8h.1M466.5 147.4h.1M466.4 146.3h.1M471.3 141.2h.1M467.7 144.7h.1M470.8 139.7h.1M466.2 147.4h.1M468.9 143.0h.1M467.2 145.6h.1M467.8 145.0h.1M468.2 144.5h.1M469.3 142.8h.1M467.9 145.7h.1M468.4 143.9h.1M467.3 147.1h.1M467.2 146.5h.1M469.1 143.7h.1M469.1 142.8h.1M468.0 144.8h.1M471.7 141.0h.1M465.5 146.5h.1M467.1 149.4h.1M470.0 142.3h.1M468.6 143.8h.1M467.0 146.9h.1M469.8 140.5h.1M467.4 145.3h.1M470.9 137.6h.1M466.8 150.5h.1M466.6 146.7h.1M468.6 142.7h.1M470.1 141.4h.1M472.3 141.8h.1M466.4 145.8h.1M467.5 144.6h.1M470.1 144.4h.1M469.0 142.3h.1M469.0 147.2h.1M467.3 145.0h.1M465.3 149.4h.1M470.0 142.1h.1M466.6 147.5h.1M469.6 143.9h.1M469.1 144.6h.1M468.1 143.7h.1M469.3 146.9h.1M468.7 142.8h.1M469.1 143.2h.1M465.3 146.9h.1M467.5 144.9h.1M466.5 143.2h.1M464.8 146.5h.1M468.9 144.3h.1M469.3 141.6h.1M470.9 142.1h.1M467.1 145.5h.1M462.6 153.0h.1M469.7 143.1h.1M468.4 142.3h.1M468.4 145.5h.1M468.0 144.5h.1M466.3 145.9h.1M466.9 147.5h.1M470.0 143.4h.1M470.4 141.5h.1M469.1 144.9h.1M465.1 146.8h.1M465.0 149.0h.1M468.5 142.7h.1M469.5 143.4h.1M471.2 142.1h.1M467.2 145.5h.1M467.8 146.9h.1M466.9 146.5h.1M470.7 142.7h.1M472.3 140.6h.1M466.0 146.8h.1M467.6 146.3h.1M468.0 146.0h.1M468.4 142.5h.1M468.9 148.3h.1M468.7 141.9h.1M469.1 143.6h.1M469.8 145.1h.1M471.0 143.2h.1M467.3 147.8h.1M466.6 146.9h.1M472.1 141.9h.1M467.3 144.8h.1M467.1 146.9h.1M467.5 145.7h.1M467.0 148.0h.1M469.9 142.9h.1M466.3 146.7h.1M469.1 142.3h.1M470.4 143.4h.1M468.9 145.7h.1M472.0 140.0h.1M466.8 143.8h.1M469.4 144.1h.1M468.5 141.8h.1M467.1 146.9h.1M464.6 147.2h.1M468.0 143.5h.1M466.5 146.9h.1M466.2 148.2h.1M465.7 147.1h.1M468.4 141.9h.1M471.8 140.1h.1M467.9 144.6h.1M469.3 145.9h.1M469.9 144.6h.1M470.0 143.1h.1M466.9 144.0h.1M467.0 146.1h.1M469.8 143.0h.1M465.7 145.1h.1M467.8 147.5h.1M467.4 147.3h.1M467.4 146.8h.1M468.0 145.7h.1M468.0 145.2h.1M469.5 143.7h.1M466.8 146.0h.1M468.2 145.2h.1M467.5 146.1h.1M468.9 145.3h.1M470.7 142.2h.1M466.9 145.8h.1M465.6 149.5h.1M469.7 142.5h.1M469.4 144.1h.1M470.5 144.7h.1M464.7 151.5h.1M468.8 149.5h.1M468.7 144.0h.1M467.0 144.9h.1M468.6 146.4h.1M471.2 143.0h.1M467.2 148.5h.1M467.1 146.3h.1M468.7 144.5h.1M466.8 147.5h.1M468.6 148.1h.1M467.7 145.6h.1M467.3 147.1h.1M467.7 145.7h.1M469.4 141.9h.1M465.3 148.1h.1M467.0 146.8h.1M468.1 147.5h.1M467.0 145.6h.1M468.5 143.6h.1M470.8 140.6h.1M469.4 140.8h.1M473.6 138.7h.1M465.5 149.3h.1M466.2 146.5h.1M472.9 138.7h.1M468.4 144.4h.1M468.8 144.3h.1M467.6 145.2h.1M468.3 146.6h.1M469.0 140.0h.1M469.7 145.4h.1M467.2 146.5h.1M469.0 145.0h.1M467.3 144.4h.1M470.7 144.1h.1M470.3 144.0h.1M468.5 143.8h.1M469.2 146.0h.1M469.5 144.5h.1M468.7 145.4h.1M466.1 147.7h.1M468.0 144.3h.1M467.5 149.9h.1M468.3 144.7h.1M465.5 146.0h.1M469.8 139.8h.1M468.8 143.0h.1M469.0 146.5h.1M466.8 145.3h.1M470.5 142.8h.1M466.6 147.2h.1M470.4 140.6h.1M470.8 141.1h.1M468.7 142.5h.1M467.5 145.8h.1M469.7 143.1h.1M468.4 145.9h.1M465.6 149.8h.1M467.4 147.7h.1M471.3 142.4h.1M467.1 144.7h.1M466.1 145.4h.1M470.5 141.1h.1M470.4 144.0h.1M470.1 143.2h.1M469.0 143.9h.1M467.1 148.9h.1M468.3 145.1h.1M465.4 148.8h.1M471.3 142.7h.1M468.4 148.1h.1M471.3 138.6h.1M465.8 148.2h.1M465.7 147.5h.1M470.4 142.5h.1M465.5 150.3h.1M466.2 144.4h.1M467.8 144.1h.1M471.6 137.2h.1M467.9 143.6h.1M469.5 144.3h.1M467.8 145.2h.1M469.9 146.8h.1M465.7 146.3h.1M470.9 145.1h.1M467.1 145.8h.1M468.1 146.1h.1M464.2 149.3h.1M468.6 143.0h.1M468.1 144.9h.1M467.7 145.9h.1M468.1 144.7h.1M470.1 141.2h.1M463.5 152.1h.1M468.9 142.2h.1M466.2 145.5h.1M468.2 146.7h.1M467.7 142.9h.1M470.5 143.6h.1M465.1 148.3h.1M471.0 142.2h.1M465.2 145.8h.1M470.3 140.9h.1M467.1 145.0h.1M471.3 135.7h.1M464.9 147.7h.1M467.0 143.5h.1M471.9 141.7h.1M467.5 147.3h.1M468.5 143.9h.1M464.5 151.5h.1M465.5 150.1h.1M466.0 149.3h.1M468.4 146.7h.1M464.0 148.5h.1M467.5 143.6h.1M467.3 146.2h.1M461.9 152.4h.1M469.9 144.2h.1M466.9 140.2h.1M469.6 143.4h.1M468.0 142.4h.1M467.7 146.8h.1M466.8 146.1h.1M467.1 144.5h.1M467.0 144.0h.1M469.9 143.4h.1M471.3 140.1h.1M470.2 142.1h.1M465.9 145.0h.1M463.8 152.3h.1M465.8 150.4h.1M470.0 145.6h.1M468.1 150.0h.1M472.7 141.1h.1M466.6 146.2h.1M468.5 146.8h.1M469.0 144.6h.1M467.5 147.5h.1M468.7 146.6h.1M471.0 142.3h.1M469.5 141.8h.1M471.5 140.5h.1M469.9 140.7h.1M470.2 141.5h.1M466.4 150.9h.1M468.1 145.8h.1M465.8 146.9h.1M466.2 144.7h.1M469.8 145.1h.1M468.5 143.4h.1M467.9 142.9h.1M467.8 140.8h.1M469.5 143.3h.1M469.4 140.9h.1M466.7 149.4h.1M465.2 147.3h.1M467.6 144.3h.1M470.5 144.3h.1M465.9 149.9h.1M464.8 150.9h.1M469.2 142.7h.1M467.3 146.0h.1M468.7 143.3h.1M469.0 142.7h.1M469.7 144.7h.1M467.8 148.3h.1M469.1 142.7h.1M468.4 147.0h.1M469.9 143.3h.1M465.6 149.4h.1M467.2 143.0h.1M467.7 145.3h.1M466.0 145.4h.1M468.3 143.0h.1M469.4 144.9h.1M466.5 144.0h.1M468.9 144.6h.1M465.4 146.9h.1M468.2 144.2h.1M466.6 148.5h.1M467.6 149.4h.1M467.6 144.8h.1M468.5 144.6h.1M464.4 146.1h.1M466.7 148.5h.1M465.9 148.4h.1M467.5 147.0h.1M467.4 147.5h.1M469.5 140.1h.1M464.6 148.1h.1M468.6 146.6h.1M470.2 142.8h.1M468.7 144.9h.1M468.7 145.8h.1M469.5 140.8h.1M469.9 142.1h.1M470.4 142.2h.1M467.0 146.4h.1M468.8 143.1h.1M469.3 143.6h.1M467.0 147.1h.1M468.9 142.5h.1M467.8 144.2h.1M467.7 147.1h.1M467.7 144.4h.1M470.1 145.5h.1M468.3 145.1h.1M466.7 145.0h.1M462.8 149.0h.1M466.9 145.5h.1M467.4 145.2h.1M462.3 149.2h.1M467.5 142.7h.1M467.5 145.5h.1M469.1 143.5h.1M470.4 145.7h.1M466.6 145.6h.1M465.4 150.8h.1M467.0 146.1h.1M467.0 149.6h.1M467.3 147.9h.1M466.0 146.4h.1M466.4 146.3h.1M465.9 142.4h.1M468.0 143.3h.1M466.3 144.0h.1M465.6 148.0h.1M467.0 147.0h.1M468.8 144.3h.1M470.8 140.6h.1M466.1 146.8h.1M464.6 145.9h.1M466.6 147.1h.1M468.5 146.3h.1M468.9 143.5h.1M468.3 148.3h.1M466.5 146.6h.1M469.4 148.3h.1M472.6 142.4h.1M467.5 145.1h.1M469.2 141.9h.1M470.5 142.8h.1M467.9 145.5h.1M468.0 144.2h.1M467.0 145.7h.1M468.4 146.7h.1M465.7 149.0h.1M468.3 148.6h.1M468.0 147.6h.1M469.8 143.9h.1M467.2 146.6h.1M465.5 147.5h.1M468.7 144.5h.1M467.2 147.3h.1M467.1 146.4h.1M466.5 148.1h.1M469.7 143.4h.1M466.1 145.9h.1M468.2 144.5h.1M465.3 147.8h.1M468.4 147.8h.1M463.5 154.3h.1M469.3 144.0h.1M472.2 140.0h.1M464.7 150.6h.1M470.9 140.9h.1M469.6 141.6h.1M468.0 141.9h.1M468.0 146.5h.1M467.0 146.4h.1M469.6 141.6h.1M465.9 145.8h.1M466.8 149.4h.1M466.6 147.1h.1M468.5 144.8h.1M467.1 145.4h.1M466.3 145.1h.1M468.7 145.6h.1M471.6 140.2h.1M468.2 144.0h.1M468.2 143.7h.1M467.9 149.1h.1M464.4 144.9h.1M470.1 142.6h.1M469.2 144.2h.1M468.9 143.7h.1M467.0 145.6h.1M465.5 149.2h.1M466.4 145.4h.1M467.2 146.3h.1M471.0 140.6h.1M466.6 148.5h.1M466.5 146.8h.1" stroke="#000" stroke-width="0.8" stroke-linecap="round" opacity="0.3" fill="none"/>
<path d="M469.4 144.0h.1M467.4 146.0h.1M468.6 144.5h.1M468.1 146.8h.1M468.9 143.7h.1M467.2 146.8h.1M465.6 150.5h.1M466.5 147.4h.1M466.9 146.6h.1M467.7 146.8h.1M467.2 144.9h.1M467.7 147.5h.1M467.1 148.9h.1M466.6 144.7h.1M468.5 147.9h.1M470.6 145.1h.1M467.4 145.9h.1M468.2 145.7h.1M467.3 146.8h.1M467.9 148.1h.1M469.4 145.5h.1M468.3 147.4h.1M466.7 148.6h.1M468.5 145.9h.1M466.8 146.3h.1M467.2 147.0h.1M467.8 144.9h.1M466.0 148.7h.1M469.3 146.4h.1M467.4 146.0h.1M468.8 147.3h.1M467.1 146.2h.1M466.1 147.1h.1M467.2 148.0h.1M466.7 145.5h.1M467.1 146.0h.1M468.6 144.8h.1M466.6 147.6h.1M468.6 145.1h.1M468.6 142.9h.1M465.9 148.8h.1M468.2 143.7h.1M467.3 145.3h.1M467.7 146.9h.1M467.2 146.3h.1M468.6 144.8h.1M464.5 148.4h.1M468.9 145.0h.1M468.0 145.8h.1M468.6 144.8h.1M466.0 150.6h.1M464.9 150.9h.1M467.9 145.5h.1M467.1 149.6h.1M467.3 145.3h.1M467.9 147.3h.1M464.9 147.8h.1M465.0 148.9h.1M468.5 144.9h.1M467.3 146.4h.1M467.1 149.4h.1M469.1 146.4h.1M465.1 147.9h.1M467.7 145.5h.1M466.4 148.7h.1M467.6 146.6h.1M467.5 144.6h.1M465.8 147.7h.1M468.2 146.0h.1M466.7 148.7h.1M467.9 144.8h.1M466.5 147.8h.1M467.2 146.4h.1M466.3 148.2h.1M468.7 145.0h.1M469.9 140.4h.1M466.4 146.9h.1M467.4 147.2h.1M466.5 146.8h.1M466.0 147.9h.1M467.2 149.6h.1M468.6 145.1h.1M465.3 149.0h.1M468.5 143.7h.1M466.6 147.9h.1M466.1 147.4h.1M467.6 148.0h.1M465.6 147.6h.1M466.2 145.9h.1M467.3 147.5h.1M465.8 149.0h.1M465.9 145.4h.1M467.2 147.5h.1M469.0 144.6h.1M468.0 144.1h.1M467.2 149.9h.1M469.1 147.4h.1M468.7 146.5h.1M465.1 146.3h.1M467.8 148.3h.1M468.0 146.6h.1M467.1 146.4h.1M467.1 149.4h.1M468.0 147.0h.1M467.4 146.8h.1M467.1 145.0h.1M467.4 147.4h.1M464.9 148.4h.1M467.5 147.1h.1M467.6 145.8h.1M465.5 148.2h.1M468.2 147.0h.1M467.5 145.7h.1M466.1 147.2h.1M464.8 148.1h.1M467.9 145.6h.1M468.8 142.5h.1M468.8 143.0h.1M467.0 147.6h.1M466.1 147.4h.1M466.0 148.6h.1M466.5 145.5h.1M467.8 147.6h.1M466.0 146.6h.1M468.6 145.1h.1M466.7 146.5h.1M469.1 143.1h.1M468.3 147.6h.1M467.7 147.2h.1M467.0 147.9h.1M467.9 143.3h.1M468.1 146.5h.1M468.2 144.3h.1M465.8 147.1h.1M467.1 146.3h.1M469.3 146.0h.1M466.2 149.7h.1M467.7 145.7h.1M468.1 145.6h.1M466.6 148.8h.1M467.7 145.4h.1M466.5 147.9h.1M466.6 147.2h.1M465.9 146.6h.1M468.8 145.2h.1M466.5 147.6h.1M468.0 147.8h.1M468.0 146.2h.1M466.5 147.3h.1M466.7 144.0h.1M466.6 147.6h.1M466.8 146.7h.1M467.9 146.7h.1M467.9 146.3h.1M467.7 146.2h.1M469.2 143.8h.1M466.7 148.0h.1M467.7 144.5h.1M470.2 142.5h.1M468.5 146.0h.1M466.4 145.3h.1M468.2 147.4h.1M467.0 145.8h.1M467.9 145.1h.1M468.2 145.4h.1M466.9 147.8h.1M468.9 145.3h.1M468.4 147.0h.1M465.3 148.4h.1M464.2 148.7h.1M469.1 145.9h.1M467.9 147.0h.1M468.1 145.6h.1M465.9 148.7h.1M468.2 144.2h.1M467.4 147.5h.1M466.8 149.8h.1M466.4 148.0h.1M469.0 145.0h.1M469.3 143.8h.1M468.4 146.7h.1M466.8 147.4h.1M468.3 143.5h.1M468.8 144.4h.1M464.0 150.1h.1M468.4 147.0h.1M467.4 145.1h.1M467.6 147.0h.1M469.5 143.2h.1M467.8 148.1h.1M467.9 144.6h.1M467.3 147.0h.1M467.1 145.8h.1M467.8 145.6h.1M469.0 145.5h.1M465.8 147.3h.1M467.9 143.9h.1M467.9 145.5h.1M469.6 143.8h.1M465.5 148.4h.1M466.5 147.5h.1M468.5 146.0h.1M468.1 147.3h.1M464.7 149.5h.1M466.3 149.2h.1M465.8 150.3h.1M467.2 146.7h.1M467.8 145.9h.1M464.3 152.5h.1M467.9 146.7h.1M468.4 145.1h.1M468.7 148.9h.1M467.2 147.9h.1M469.5 145.3h.1M464.3 150.1h.1M468.0 146.1h.1M468.0 144.9h.1M467.1 146.2h.1M468.9 145.8h.1M468.3 143.7h.1M467.2 147.0h.1M468.1 145.4h.1M468.8 146.9h.1M467.8 146.4h.1M468.1 144.7h.1M470.0 143.5h.1M466.0 147.1h.1M469.4 144.9h.1M466.6 148.9h.1M469.1 145.7h.1M469.6 145.0h.1M468.4 148.7h.1M466.0 150.2h.1M466.6 145.5h.1M466.2 147.6h.1M469.1 144.7h.1M468.4 143.1h.1M468.8 145.3h.1M468.7 145.7h.1M467.0 148.4h.1M466.3 146.9h.1M467.6 145.5h.1M466.6 148.2h.1M468.8 144.9h.1M466.6 148.5h.1M467.4 145.8h.1M466.7 146.6h.1M467.4 145.6h.1M464.6 149.8h.1M467.4 145.9h.1M467.1 148.0h.1M466.7 149.2h.1M467.5 147.6h.1M466.6 148.7h.1M466.8 144.5h.1M464.7 150.1h.1M467.4 145.0h.1M469.5 144.2h.1M466.5 146.6h.1M467.2 146.7h.1" stroke="#000" stroke-width="1.0" stroke-linecap="round" opacity="0.55" fill="none"/>
<line x1="471.50" y1="108.50" x2="471.50" y2="166.50" stroke="#555" stroke-width="1.0"/>
<line x1="448.50" y1="142.50" x2="505.00" y2="142.50" stroke="#555" stroke-width="1.0"/>
<text x="449.80" y="118.10" font-size="6.8" text-anchor="start" fill="#2a2a2a">16.2</text>
<text x="500.60" y="118.10" font-size="6.8" text-anchor="end" fill="#2a2a2a">29.4</text>
<text x="449.80" y="163.10" font-size="6.8" text-anchor="start" fill="#2a2a2a">49.8</text>
<text x="500.60" y="163.10" font-size="6.8" text-anchor="end" fill="#2a2a2a">4.62</text>
<text x="476.75" y="97.30" font-size="6.6" text-anchor="middle" fill="#333">+ HEL PVR<tspan font-size="4.5" dy="-3">KO</tspan><tspan dy="3"></tspan></text>
<text x="476.75" y="105.50" font-size="6.6" text-anchor="middle" fill="#333">B7-H6<tspan font-size="4.5" dy="-3">KO</tspan><tspan dy="3"></tspan></text>
<line x1="311.40" y1="61.00" x2="311.40" y2="162.70" stroke="#333" stroke-width="1.4"/>
<path d="M311.4,57.3 L309.0,62.3 L313.8,62.3 Z" fill="#222"/>
<line x1="320.80" y1="174.80" x2="485.00" y2="174.80" stroke="#333" stroke-width="1.4"/>
<path d="M489,174.8 L484,172.4 L484,177.2 Z" fill="#222"/>
<text transform="translate(314.00,42.40) rotate(-90)" font-size="7.6" text-anchor="middle" fill="#333" textLength="17" lengthAdjust="spacingAndGlyphs">GzmB</text>
<text x="494.50" y="177.40" font-size="7.6" text-anchor="start" fill="#333">Prf</text>
<text x="6.20" y="215.20" font-size="10" text-anchor="start" fill="#111" font-weight="bold" textLength="8.0" lengthAdjust="spacingAndGlyphs">D</text>
<line x1="49.50" y1="235.70" x2="49.50" y2="326.50" stroke="#222" stroke-width="1.0"/>
<line x1="49.80" y1="326.50" x2="140.30" y2="326.50" stroke="#222" stroke-width="1.0"/>
<line x1="46.80" y1="326.50" x2="49.80" y2="326.50" stroke="#222" stroke-width="0.8"/>
<text x="43.20" y="328.70" font-size="6.2" text-anchor="end" fill="#555">0.0</text>
<line x1="46.80" y1="308.50" x2="49.80" y2="308.50" stroke="#222" stroke-width="0.8"/>
<text x="43.20" y="310.70" font-size="6.2" text-anchor="end" fill="#555">0.4</text>
<line x1="46.80" y1="290.50" x2="49.80" y2="290.50" stroke="#222" stroke-width="0.8"/>
<text x="43.20" y="292.70" font-size="6.2" text-anchor="end" fill="#555">0.8</text>
<line x1="46.80" y1="272.50" x2="49.80" y2="272.50" stroke="#222" stroke-width="0.8"/>
<text x="43.20" y="274.70" font-size="6.2" text-anchor="end" fill="#555">1.2</text>
<line x1="46.80" y1="254.50" x2="49.80" y2="254.50" stroke="#222" stroke-width="0.8"/>
<text x="43.20" y="256.70" font-size="6.2" text-anchor="end" fill="#555">1.6</text>
<line x1="46.80" y1="236.50" x2="49.80" y2="236.50" stroke="#222" stroke-width="0.8"/>
<text x="43.20" y="238.70" font-size="6.2" text-anchor="end" fill="#555">2.0</text>
<rect x="55.20" y="281.50" width="10.60" height="45.00" fill="#3e4b5e"/>
<line x1="60.50" y1="326.50" x2="60.50" y2="329.00" stroke="#222" stroke-width="0.8"/>
<rect x="72.10" y="261.25" width="10.60" height="65.25" fill="#bcbcbe"/>
<line x1="77.50" y1="326.50" x2="77.50" y2="329.00" stroke="#222" stroke-width="0.8"/>
<rect x="89.30" y="262.60" width="10.60" height="63.90" fill="#c8102e"/>
<line x1="94.50" y1="326.50" x2="94.50" y2="329.00" stroke="#222" stroke-width="0.8"/>
<rect x="106.20" y="272.05" width="10.60" height="54.45" fill="#1b5a93"/>
<line x1="111.50" y1="326.50" x2="111.50" y2="329.00" stroke="#222" stroke-width="0.8"/>
<rect x="123.10" y="279.70" width="10.60" height="46.80" fill="#3fae49"/>
<line x1="128.50" y1="326.50" x2="128.50" y2="329.00" stroke="#222" stroke-width="0.8"/>
<line x1="77.50" y1="254.50" x2="77.50" y2="264.40" stroke="#222" stroke-width="0.8"/>
<line x1="75.15" y1="254.50" x2="79.65" y2="254.50" stroke="#222" stroke-width="0.8"/>
<line x1="75.15" y1="264.50" x2="79.65" y2="264.50" stroke="#222" stroke-width="0.8"/>
<line x1="94.50" y1="251.35" x2="94.50" y2="275.65" stroke="#222" stroke-width="0.8"/>
<line x1="92.35" y1="251.50" x2="96.85" y2="251.50" stroke="#222" stroke-width="0.8"/>
<line x1="92.35" y1="275.50" x2="96.85" y2="275.50" stroke="#222" stroke-width="0.8"/>
<line x1="111.50" y1="264.40" x2="111.50" y2="272.50" stroke="#222" stroke-width="0.8"/>
<line x1="109.25" y1="264.50" x2="113.75" y2="264.50" stroke="#222" stroke-width="0.8"/>
<line x1="109.25" y1="272.50" x2="113.75" y2="272.50" stroke="#222" stroke-width="0.8"/>
<line x1="128.50" y1="277.90" x2="128.50" y2="282.40" stroke="#222" stroke-width="0.8"/>
<line x1="126.15" y1="277.50" x2="130.65" y2="277.50" stroke="#222" stroke-width="0.8"/>
<line x1="126.15" y1="282.50" x2="130.65" y2="282.50" stroke="#222" stroke-width="0.8"/>
<circle cx="56.90" cy="281.50" r="1.80" fill="#2f3a4a" stroke="#1a222e" stroke-width="0.7"/>
<circle cx="60.50" cy="281.50" r="1.80" fill="#2f3a4a" stroke="#1a222e" stroke-width="0.7"/>
<circle cx="64.10" cy="281.50" r="1.80" fill="#2f3a4a" stroke="#1a222e" stroke-width="0.7"/>
<circle cx="73.60" cy="255.85" r="1.80" fill="#fff" stroke="#333" stroke-width="0.8"/>
<circle cx="81.20" cy="256.75" r="1.80" fill="#fff" stroke="#333" stroke-width="0.8"/>
<circle cx="77.40" cy="265.75" r="1.80" fill="#fff" stroke="#333" stroke-width="0.8"/>
<circle cx="90.80" cy="255.85" r="1.80" fill="#8a0c20" stroke="#4a0a10" stroke-width="0.7"/>
<circle cx="98.40" cy="256.30" r="1.80" fill="#8a0c20" stroke="#4a0a10" stroke-width="0.7"/>
<circle cx="94.60" cy="274.75" r="1.80" fill="#8a0c20" stroke="#4a0a10" stroke-width="0.7"/>
<circle cx="111.50" cy="265.75" r="1.80" fill="#123f69" stroke="#0b2540" stroke-width="0.7"/>
<circle cx="107.70" cy="271.15" r="1.80" fill="#123f69" stroke="#0b2540" stroke-width="0.7"/>
<circle cx="115.30" cy="270.70" r="1.80" fill="#123f69" stroke="#0b2540" stroke-width="0.7"/>
<circle cx="124.60" cy="278.80" r="1.80" fill="#9ad89a" stroke="#1f5a22" stroke-width="0.8"/>
<circle cx="132.20" cy="279.70" r="1.80" fill="#9ad89a" stroke="#1f5a22" stroke-width="0.8"/>
<circle cx="128.40" cy="283.30" r="1.80" fill="#9ad89a" stroke="#1f5a22" stroke-width="0.8"/>
<text x="94.70" y="228.90" font-size="8.6" text-anchor="middle" fill="#222">Perforin</text>
<text transform="translate(20.80,280.20) rotate(-90)" font-size="8.2" text-anchor="middle" fill="#444" textLength="35.7" lengthAdjust="spacingAndGlyphs">Fold change</text>
<text transform="translate(29.20,280.20) rotate(-90)" font-size="8.2" text-anchor="middle" fill="#444" textLength="54" lengthAdjust="spacingAndGlyphs">(% perforin<tspan font-size="4.5" dy="-3">+</tspan><tspan dy="3"> DOT)</tspan></text>
<text transform="translate(60.50,336.80) rotate(-45)" font-size="6.1" text-anchor="end" fill="#383838">DOTs (IL-15)</text>
<text transform="translate(77.40,336.80) rotate(-45)" font-size="6.1" text-anchor="end" fill="#383838">+ HEL</text>
<text transform="translate(94.60,336.80) rotate(-45)" font-size="6.1" text-anchor="end" fill="#383838">+ HEL PVR<tspan font-size="4.5" dy="-3">KO</tspan><tspan dy="3"></tspan></text>
<text transform="translate(111.50,336.80) rotate(-45)" font-size="6.1" text-anchor="end" fill="#383838">+ HEL B7-H6<tspan font-size="4.5" dy="-3">KO</tspan><tspan dy="3"></tspan></text>
<text transform="translate(128.40,336.80) rotate(-45)" font-size="6.1" text-anchor="end" fill="#383838">+ HEL PVR<tspan font-size="4.5" dy="-3">KO</tspan><tspan dy="3">B7-H6</tspan><tspan font-size="4.5" dy="-3">KO</tspan><tspan dy="3"></tspan></text>
<path d="M60.4,275.8 V246.4 H76.0 V249.4" fill="none" stroke="#555" stroke-width="0.9"/>
<path d="M79.4,249.4 V246.4 H128.7 V276.7" fill="none" stroke="#555" stroke-width="0.9"/>
<text x="68.20" y="241.40" font-size="6.6" text-anchor="middle" fill="#444">0.0069</text>
<text x="103.60" y="241.40" font-size="6.6" text-anchor="middle" fill="#444">0.0086</text>
<line x1="195.50" y1="235.00" x2="195.50" y2="326.30" stroke="#222" stroke-width="1.0"/>
<line x1="195.00" y1="326.50" x2="285.50" y2="326.50" stroke="#222" stroke-width="1.0"/>
<line x1="192.00" y1="326.50" x2="195.00" y2="326.50" stroke="#222" stroke-width="0.8"/>
<text x="188.40" y="328.50" font-size="6.2" text-anchor="end" fill="#555">0.0</text>
<line x1="192.00" y1="308.50" x2="195.00" y2="308.50" stroke="#222" stroke-width="0.8"/>
<text x="188.40" y="310.40" font-size="6.2" text-anchor="end" fill="#555">0.4</text>
<line x1="192.00" y1="290.50" x2="195.00" y2="290.50" stroke="#222" stroke-width="0.8"/>
<text x="188.40" y="292.30" font-size="6.2" text-anchor="end" fill="#555">0.8</text>
<line x1="192.00" y1="272.50" x2="195.00" y2="272.50" stroke="#222" stroke-width="0.8"/>
<text x="188.40" y="274.20" font-size="6.2" text-anchor="end" fill="#555">1.2</text>
<line x1="192.00" y1="253.50" x2="195.00" y2="253.50" stroke="#222" stroke-width="0.8"/>
<text x="188.40" y="256.10" font-size="6.2" text-anchor="end" fill="#555">1.6</text>
<line x1="192.00" y1="235.50" x2="195.00" y2="235.50" stroke="#222" stroke-width="0.8"/>
<text x="188.40" y="238.00" font-size="6.2" text-anchor="end" fill="#555">2.0</text>
<rect x="201.30" y="281.05" width="10.60" height="45.25" fill="#3e4b5e"/>
<line x1="206.50" y1="326.30" x2="206.50" y2="328.80" stroke="#222" stroke-width="0.8"/>
<rect x="218.20" y="281.05" width="10.60" height="45.25" fill="#bcbcbe"/>
<line x1="223.50" y1="326.30" x2="223.50" y2="328.80" stroke="#222" stroke-width="0.8"/>
<rect x="235.20" y="281.05" width="10.60" height="45.25" fill="#c8102e"/>
<line x1="240.50" y1="326.30" x2="240.50" y2="328.80" stroke="#222" stroke-width="0.8"/>
<rect x="252.10" y="280.14" width="10.60" height="46.16" fill="#1b5a93"/>
<line x1="257.50" y1="326.30" x2="257.50" y2="328.80" stroke="#222" stroke-width="0.8"/>
<rect x="269.10" y="281.96" width="10.60" height="44.34" fill="#3fae49"/>
<line x1="274.50" y1="326.30" x2="274.50" y2="328.80" stroke="#222" stroke-width="0.8"/>
<line x1="223.50" y1="277.43" x2="223.50" y2="281.96" stroke="#222" stroke-width="0.8"/>
<line x1="221.25" y1="277.50" x2="225.75" y2="277.50" stroke="#222" stroke-width="0.8"/>
<line x1="221.25" y1="281.50" x2="225.75" y2="281.50" stroke="#222" stroke-width="0.8"/>
<line x1="240.50" y1="278.34" x2="240.50" y2="281.96" stroke="#222" stroke-width="0.8"/>
<line x1="238.25" y1="278.50" x2="242.75" y2="278.50" stroke="#222" stroke-width="0.8"/>
<line x1="238.25" y1="281.50" x2="242.75" y2="281.50" stroke="#222" stroke-width="0.8"/>
<line x1="257.50" y1="275.62" x2="257.50" y2="281.96" stroke="#222" stroke-width="0.8"/>
<line x1="255.15" y1="275.50" x2="259.65" y2="275.50" stroke="#222" stroke-width="0.8"/>
<line x1="255.15" y1="281.50" x2="259.65" y2="281.50" stroke="#222" stroke-width="0.8"/>
<circle cx="203.00" cy="281.05" r="1.80" fill="#2f3a4a" stroke="#1a222e" stroke-width="0.7"/>
<circle cx="206.60" cy="281.05" r="1.80" fill="#2f3a4a" stroke="#1a222e" stroke-width="0.7"/>
<circle cx="210.20" cy="281.05" r="1.80" fill="#2f3a4a" stroke="#1a222e" stroke-width="0.7"/>
<circle cx="219.70" cy="281.05" r="1.80" fill="#fff" stroke="#333" stroke-width="0.8"/>
<circle cx="223.50" cy="275.62" r="1.80" fill="#fff" stroke="#333" stroke-width="0.8"/>
<circle cx="227.30" cy="279.69" r="1.80" fill="#fff" stroke="#333" stroke-width="0.8"/>
<circle cx="236.70" cy="281.05" r="1.80" fill="#8a0c20" stroke="#4a0a10" stroke-width="0.7"/>
<circle cx="240.50" cy="277.43" r="1.80" fill="#8a0c20" stroke="#4a0a10" stroke-width="0.7"/>
<circle cx="244.30" cy="281.05" r="1.80" fill="#8a0c20" stroke="#4a0a10" stroke-width="0.7"/>
<circle cx="253.60" cy="281.05" r="1.80" fill="#123f69" stroke="#0b2540" stroke-width="0.7"/>
<circle cx="257.40" cy="275.62" r="1.80" fill="#123f69" stroke="#0b2540" stroke-width="0.7"/>
<circle cx="261.20" cy="281.05" r="1.80" fill="#123f69" stroke="#0b2540" stroke-width="0.7"/>
<circle cx="270.80" cy="281.96" r="1.80" fill="#9ad89a" stroke="#1f5a22" stroke-width="0.8"/>
<circle cx="274.40" cy="281.50" r="1.80" fill="#9ad89a" stroke="#1f5a22" stroke-width="0.8"/>
<circle cx="278.00" cy="281.50" r="1.80" fill="#9ad89a" stroke="#1f5a22" stroke-width="0.8"/>
<text x="240.80" y="228.20" font-size="8.6" text-anchor="middle" fill="#222">Granzyme B</text>
<text transform="translate(166.00,279.75) rotate(-90)" font-size="8.2" text-anchor="middle" fill="#444" textLength="36" lengthAdjust="spacingAndGlyphs">Fold change</text>
<text transform="translate(174.40,279.75) rotate(-90)" font-size="8.2" text-anchor="middle" fill="#444" textLength="62" lengthAdjust="spacingAndGlyphs">(% granzymeB<tspan font-size="4.5" dy="-3">+</tspan><tspan dy="3"> DOT)</tspan></text>
<text transform="translate(206.60,336.60) rotate(-45)" font-size="6.1" text-anchor="end" fill="#383838">DOTs (IL-15)</text>
<text transform="translate(223.50,336.60) rotate(-45)" font-size="6.1" text-anchor="end" fill="#383838">+ HEL</text>
<text transform="translate(240.50,336.60) rotate(-45)" font-size="6.1" text-anchor="end" fill="#383838">+ HEL PVR<tspan font-size="4.5" dy="-3">KO</tspan><tspan dy="3"></tspan></text>
<text transform="translate(257.40,336.60) rotate(-45)" font-size="6.1" text-anchor="end" fill="#383838">+ HEL B7-H6<tspan font-size="4.5" dy="-3">KO</tspan><tspan dy="3"></tspan></text>
<text transform="translate(274.40,336.60) rotate(-45)" font-size="6.1" text-anchor="end" fill="#383838">+ HEL PVR<tspan font-size="4.5" dy="-3">KO</tspan><tspan dy="3">B7-H6</tspan><tspan font-size="4.5" dy="-3">KO</tspan><tspan dy="3"></tspan></text>
<text x="300.80" y="215.20" font-size="10" text-anchor="start" fill="#111" font-weight="bold" textLength="8.0" lengthAdjust="spacingAndGlyphs">E</text>
<line x1="337.50" y1="229.40" x2="337.50" y2="326.70" stroke="#222" stroke-width="1.0"/>
<line x1="337.70" y1="326.50" x2="436.00" y2="326.50" stroke="#222" stroke-width="1.0"/>
<line x1="334.70" y1="326.50" x2="337.70" y2="326.50" stroke="#222" stroke-width="0.8"/>
<text x="332.70" y="328.90" font-size="6.3" text-anchor="end" fill="#555">0.0</text>
<line x1="334.70" y1="302.50" x2="337.70" y2="302.50" stroke="#222" stroke-width="0.8"/>
<text x="332.70" y="304.77" font-size="6.3" text-anchor="end" fill="#555">0.5</text>
<line x1="334.70" y1="278.50" x2="337.70" y2="278.50" stroke="#222" stroke-width="0.8"/>
<text x="332.70" y="280.65" font-size="6.3" text-anchor="end" fill="#555">1.0</text>
<line x1="334.70" y1="254.50" x2="337.70" y2="254.50" stroke="#222" stroke-width="0.8"/>
<text x="332.70" y="256.52" font-size="6.3" text-anchor="end" fill="#555">1.5</text>
<line x1="334.70" y1="230.50" x2="337.70" y2="230.50" stroke="#222" stroke-width="0.8"/>
<text x="332.70" y="232.40" font-size="6.3" text-anchor="end" fill="#555">2.0</text>
<text transform="translate(318.60,277.00) rotate(-90)" font-size="7.6" text-anchor="middle" fill="#444" textLength="74" lengthAdjust="spacingAndGlyphs">Fold change tumour load</text>
<rect x="346.10" y="278.45" width="14.00" height="48.25" fill="#bfbfc1"/>
<line x1="353.50" y1="326.70" x2="353.50" y2="329.20" stroke="#222" stroke-width="0.8"/>
<rect x="368.20" y="301.61" width="14.00" height="25.09" fill="#c8102e"/>
<line x1="375.50" y1="326.70" x2="375.50" y2="329.20" stroke="#222" stroke-width="0.8"/>
<rect x="390.70" y="270.73" width="14.00" height="55.97" fill="#3fae49"/>
<line x1="397.50" y1="326.70" x2="397.50" y2="329.20" stroke="#222" stroke-width="0.8"/>
<rect x="412.90" y="273.62" width="14.00" height="53.07" fill="#1b5a93"/>
<line x1="419.50" y1="326.70" x2="419.50" y2="329.20" stroke="#222" stroke-width="0.8"/>
<line x1="353.50" y1="253.30" x2="353.50" y2="279.00" stroke="#333" stroke-width="1.0"/>
<line x1="350.70" y1="253.50" x2="355.70" y2="253.50" stroke="#333" stroke-width="1.0"/>
<line x1="375.50" y1="289.00" x2="375.50" y2="311.00" stroke="#333" stroke-width="1.0"/>
<line x1="373.00" y1="289.50" x2="378.00" y2="289.50" stroke="#333" stroke-width="1.0"/>
<line x1="373.00" y1="310.50" x2="378.00" y2="310.50" stroke="#333" stroke-width="1.0"/>
<line x1="397.50" y1="250.60" x2="397.50" y2="290.40" stroke="#333" stroke-width="1.0"/>
<line x1="395.30" y1="250.50" x2="400.30" y2="250.50" stroke="#333" stroke-width="1.0"/>
<line x1="395.30" y1="290.50" x2="400.30" y2="290.50" stroke="#333" stroke-width="1.0"/>
<line x1="420.50" y1="253.30" x2="420.50" y2="290.00" stroke="#333" stroke-width="1.0"/>
<line x1="417.50" y1="253.50" x2="422.50" y2="253.50" stroke="#333" stroke-width="1.0"/>
<circle cx="353.20" cy="236.30" r="1.90" fill="none" stroke="#bdbdc0" stroke-width="0.9"/>
<circle cx="347.70" cy="247.90" r="1.90" fill="none" stroke="#bdbdc0" stroke-width="0.9"/>
<circle cx="358.80" cy="245.70" r="1.90" fill="none" stroke="#bdbdc0" stroke-width="0.9"/>
<circle cx="353.20" cy="257.00" r="1.90" fill="none" stroke="#bdbdc0" stroke-width="0.9"/>
<circle cx="347.70" cy="266.10" r="1.90" fill="none" stroke="#bdbdc0" stroke-width="0.9"/>
<circle cx="358.80" cy="262.50" r="1.90" fill="none" stroke="#bdbdc0" stroke-width="0.9"/>
<circle cx="347.70" cy="278.00" r="1.90" fill="none" stroke="#bdbdc0" stroke-width="0.9"/>
<circle cx="358.80" cy="279.30" r="1.90" fill="none" stroke="#bdbdc0" stroke-width="0.9"/>
<circle cx="353.20" cy="284.40" r="1.60" fill="#fff" stroke="none" stroke-width="0.6"/>
<circle cx="347.70" cy="289.00" r="1.60" fill="#fff" stroke="none" stroke-width="0.6"/>
<circle cx="358.80" cy="289.00" r="1.60" fill="#fff" stroke="none" stroke-width="0.6"/>
<circle cx="353.20" cy="295.40" r="1.60" fill="#fff" stroke="none" stroke-width="0.6"/>
<circle cx="347.70" cy="310.90" r="1.60" fill="#fff" stroke="none" stroke-width="0.6"/>
<circle cx="358.80" cy="313.70" r="1.60" fill="#fff" stroke="none" stroke-width="0.6"/>
<circle cx="353.20" cy="318.20" r="1.60" fill="#fff" stroke="none" stroke-width="0.6"/>
<circle cx="375.50" cy="277.50" r="1.90" fill="none" stroke="#c8102e" stroke-width="0.9"/>
<circle cx="375.50" cy="288.00" r="1.90" fill="none" stroke="#c8102e" stroke-width="0.9"/>
<circle cx="372.60" cy="297.20" r="1.90" fill="none" stroke="#c8102e" stroke-width="0.9"/>
<circle cx="381.20" cy="297.20" r="1.90" fill="none" stroke="#c8102e" stroke-width="0.9"/>
<circle cx="369.60" cy="299.60" r="1.90" fill="none" stroke="#c8102e" stroke-width="0.9"/>
<circle cx="369.80" cy="301.50" r="1.60" fill="#fff" stroke="none" stroke-width="0.6"/>
<circle cx="375.50" cy="301.50" r="1.60" fill="#fff" stroke="none" stroke-width="0.6"/>
<circle cx="381.20" cy="301.50" r="1.60" fill="#fff" stroke="none" stroke-width="0.6"/>
<circle cx="369.80" cy="310.00" r="1.60" fill="#fff" stroke="none" stroke-width="0.6"/>
<circle cx="381.20" cy="310.00" r="1.60" fill="#fff" stroke="none" stroke-width="0.6"/>
<circle cx="373.50" cy="315.50" r="1.60" fill="#fff" stroke="none" stroke-width="0.6"/>
<circle cx="377.70" cy="314.00" r="1.60" fill="#fff" stroke="none" stroke-width="0.6"/>
<circle cx="397.80" cy="237.80" r="1.90" fill="none" stroke="#3fae49" stroke-width="0.9"/>
<circle cx="397.80" cy="246.90" r="1.90" fill="none" stroke="#3fae49" stroke-width="0.9"/>
<circle cx="392.60" cy="257.90" r="1.90" fill="none" stroke="#3fae49" stroke-width="0.9"/>
<circle cx="402.80" cy="256.40" r="1.90" fill="none" stroke="#3fae49" stroke-width="0.9"/>
<circle cx="392.00" cy="263.40" r="1.90" fill="none" stroke="#3fae49" stroke-width="0.9"/>
<circle cx="403.50" cy="263.40" r="1.90" fill="none" stroke="#3fae49" stroke-width="0.9"/>
<circle cx="397.80" cy="266.70" r="1.90" fill="none" stroke="#3fae49" stroke-width="0.9"/>
<circle cx="397.80" cy="274.70" r="1.60" fill="#fff" stroke="none" stroke-width="0.6"/>
<circle cx="397.80" cy="279.30" r="1.60" fill="#fff" stroke="none" stroke-width="0.6"/>
<circle cx="403.30" cy="281.30" r="1.60" fill="#fff" stroke="none" stroke-width="0.6"/>
<circle cx="397.80" cy="283.90" r="1.60" fill="#fff" stroke="none" stroke-width="0.6"/>
<circle cx="397.80" cy="292.60" r="1.60" fill="#fff" stroke="none" stroke-width="0.6"/>
<circle cx="397.80" cy="312.80" r="1.60" fill="#fff" stroke="none" stroke-width="0.6"/>
<circle cx="414.60" cy="250.60" r="1.90" fill="none" stroke="#1b5a93" stroke-width="0.9"/>
<circle cx="425.80" cy="248.20" r="1.90" fill="none" stroke="#1b5a93" stroke-width="0.9"/>
<circle cx="414.60" cy="258.80" r="1.90" fill="none" stroke="#1b5a93" stroke-width="0.9"/>
<circle cx="425.80" cy="257.90" r="1.90" fill="none" stroke="#1b5a93" stroke-width="0.9"/>
<circle cx="425.80" cy="262.80" r="1.90" fill="none" stroke="#1b5a93" stroke-width="0.9"/>
<circle cx="414.60" cy="267.40" r="1.90" fill="none" stroke="#1b5a93" stroke-width="0.9"/>
<circle cx="425.80" cy="267.40" r="1.90" fill="none" stroke="#1b5a93" stroke-width="0.9"/>
<circle cx="414.60" cy="279.30" r="1.60" fill="#fff" stroke="none" stroke-width="0.6"/>
<circle cx="425.80" cy="279.30" r="1.60" fill="#fff" stroke="none" stroke-width="0.6"/>
<circle cx="420.00" cy="293.00" r="1.60" fill="#fff" stroke="none" stroke-width="0.6"/>
<circle cx="420.00" cy="303.20" r="1.60" fill="#fff" stroke="none" stroke-width="0.6"/>
<circle cx="420.00" cy="311.80" r="1.60" fill="#fff" stroke="none" stroke-width="0.6"/>
<path d="M353.2,230.5 V224.8 H375.6 V275.3" fill="none" stroke="#555" stroke-width="0.9"/>
<path d="M397.6,232.3 V224.8 H420.1 V242.4" fill="none" stroke="#555" stroke-width="0.9"/>
<text x="364.70" y="221.00" font-size="6.6" text-anchor="middle" fill="#444">0.0155</text>
<text x="407.80" y="221.00" font-size="6.6" text-anchor="middle" fill="#444">0.9267</text>
<text transform="translate(352.60,336.90) rotate(-45)" font-size="6.1" text-anchor="end" fill="#383838">HEL</text>
<text transform="translate(374.70,336.90) rotate(-45)" font-size="6.1" text-anchor="end" fill="#383838">HEL + DOT</text>
<text transform="translate(397.20,336.90) rotate(-45)" font-size="6.1" text-anchor="end" fill="#383838">HEL PVR<tspan font-size="4.5" dy="-3">KO</tspan><tspan dy="3">B7-H6</tspan><tspan font-size="4.5" dy="-3">KO</tspan><tspan dy="3"></tspan></text>
<text transform="translate(419.40,336.90) rotate(-45)" font-size="6.1" text-anchor="end" fill="#383838">HEL PVR<tspan font-size="4.5" dy="-3">KO</tspan><tspan dy="3">B7-H6</tspan><tspan font-size="4.5" dy="-3">KO</tspan><tspan dy="3"> + DOT</tspan></text>
<text x="6.50" y="415.50" font-size="10" text-anchor="start" fill="#111" font-weight="bold" textLength="8.0" lengthAdjust="spacingAndGlyphs">F</text>
<defs><filter id="bl" x="-50%" y="-50%" width="200%" height="200%"><feGaussianBlur stdDeviation="1.4"/></filter><filter id="bl2" x="-50%" y="-50%" width="200%" height="200%"><feGaussianBlur stdDeviation="0.7"/></filter><filter id="bl3" x="-50%" y="-50%" width="200%" height="200%"><feGaussianBlur stdDeviation="0.45"/></filter></defs>
<rect x="27.00" y="421.40" width="303.00" height="198.20" fill="#040507"/>
<rect x="27.00" y="421.40" width="303.00" height="10.80" fill="#121314"/>
<text x="52.30" y="429.40" font-size="7" text-anchor="middle" fill="#e8e8e8" textLength="30.3" lengthAdjust="spacingAndGlyphs">Brightfield</text>
<text x="100.20" y="429.40" font-size="7" text-anchor="middle" fill="#e8e8e8" textLength="35.2" lengthAdjust="spacingAndGlyphs">CFSE (DOT)</text>
<text x="148.40" y="429.40" font-size="7" text-anchor="middle" fill="#e8e8e8" textLength="28.8" lengthAdjust="spacingAndGlyphs">CTY (HEL)</text>
<text x="204.80" y="429.40" font-size="7" text-anchor="middle" fill="#e8e8e8" textLength="13.8" lengthAdjust="spacingAndGlyphs">DAPI</text>
<text x="253.00" y="429.40" font-size="7" text-anchor="middle" fill="#e8e8e8" textLength="52.7" lengthAdjust="spacingAndGlyphs">Phalloidin (F-actin)</text>
<text x="304.60" y="429.40" font-size="7" text-anchor="middle" fill="#e8e8e8" textLength="18.7" lengthAdjust="spacingAndGlyphs">Merge</text>
<rect x="27.00" y="432.20" width="50.20" height="46.60" fill="#b3b3b3"/>
<rect x="27.00" y="478.80" width="50.20" height="140.80" fill="#5a5a5a"/>
<g filter="url(#bl3)">
<ellipse cx="48.8" cy="446.6" rx="6.7" ry="5.9" fill="none" stroke="#f0f0f0" stroke-width="1.0" opacity="0.8"/>
<ellipse cx="48.8" cy="446.6" rx="5.8" ry="5.0" fill="#cfcfcf" stroke="#3a3a3a" stroke-width="1.1"/>
<circle cx="50.55" cy="446.45" r="0.59" fill="#f4f4f4" stroke="none" stroke-width="0.6"/>
<circle cx="50.36" cy="449.55" r="0.91" fill="#777" stroke="none" stroke-width="0.6"/>
<circle cx="51.56" cy="443.04" r="0.60" fill="#f4f4f4" stroke="none" stroke-width="0.6"/>
<circle cx="48.96" cy="443.62" r="0.92" fill="#f4f4f4" stroke="none" stroke-width="0.6"/>
<circle cx="45.88" cy="445.85" r="0.85" fill="#777" stroke="none" stroke-width="0.6"/>
<circle cx="50.70" cy="442.50" r="0.96" fill="#777" stroke="none" stroke-width="0.6"/>
<circle cx="48.38" cy="446.20" r="0.87" fill="#777" stroke="none" stroke-width="0.6"/>
<circle cx="51.64" cy="446.34" r="0.78" fill="#f4f4f4" stroke="none" stroke-width="0.6"/>
<ellipse cx="52.3" cy="460.4" rx="10.3" ry="10.3" fill="none" stroke="#f2f2f2" stroke-width="1.0" opacity="0.8"/>
<ellipse cx="52.3" cy="460.4" rx="9.4" ry="9.4" fill="#e2e2e2" stroke="#2e2e2e" stroke-width="1.2"/>
<circle cx="59.39" cy="464.57" r="0.53" fill="#fafafa" stroke="none" stroke-width="0.6"/>
<circle cx="57.63" cy="464.76" r="0.65" fill="#6a6a6a" stroke="none" stroke-width="0.6"/>
<circle cx="53.74" cy="457.70" r="0.85" fill="#6a6a6a" stroke="none" stroke-width="0.6"/>
<circle cx="58.27" cy="466.02" r="0.92" fill="#fafafa" stroke="none" stroke-width="0.6"/>
<circle cx="56.09" cy="464.03" r="1.03" fill="#6a6a6a" stroke="none" stroke-width="0.6"/>
<circle cx="55.49" cy="459.36" r="0.79" fill="#6a6a6a" stroke="none" stroke-width="0.6"/>
<circle cx="53.18" cy="459.86" r="1.00" fill="#fafafa" stroke="none" stroke-width="0.6"/>
<circle cx="53.26" cy="455.10" r="0.63" fill="#6a6a6a" stroke="none" stroke-width="0.6"/>
<circle cx="47.11" cy="466.06" r="0.64" fill="#fafafa" stroke="none" stroke-width="0.6"/>
<circle cx="53.26" cy="468.28" r="0.53" fill="#6a6a6a" stroke="none" stroke-width="0.6"/>
<circle cx="44.68" cy="460.40" r="0.76" fill="#6a6a6a" stroke="none" stroke-width="0.6"/>
<circle cx="55.18" cy="455.66" r="0.65" fill="#6a6a6a" stroke="none" stroke-width="0.6"/>
<circle cx="50.87" cy="462.07" r="1.03" fill="#fafafa" stroke="none" stroke-width="0.6"/>
<circle cx="57.98" cy="466.01" r="0.64" fill="#fafafa" stroke="none" stroke-width="0.6"/>
<circle cx="56.40" cy="465.78" r="0.57" fill="#fafafa" stroke="none" stroke-width="0.6"/>
<circle cx="53.41" cy="456.70" r="0.68" fill="#fafafa" stroke="none" stroke-width="0.6"/>
<circle cx="47.93" cy="460.16" r="0.97" fill="#fafafa" stroke="none" stroke-width="0.6"/>
<circle cx="56.10" cy="464.91" r="0.80" fill="#6a6a6a" stroke="none" stroke-width="0.6"/>
<circle cx="50.44" cy="460.29" r="0.77" fill="#fafafa" stroke="none" stroke-width="0.6"/>
<circle cx="53.57" cy="454.55" r="0.78" fill="#6a6a6a" stroke="none" stroke-width="0.6"/>
<circle cx="51.04" cy="461.26" r="0.99" fill="#fafafa" stroke="none" stroke-width="0.6"/>
<circle cx="56.43" cy="467.46" r="0.81" fill="#fafafa" stroke="none" stroke-width="0.6"/>
<circle cx="49.14" cy="461.53" r="0.70" fill="#6a6a6a" stroke="none" stroke-width="0.6"/>
<circle cx="45.53" cy="462.63" r="0.54" fill="#6a6a6a" stroke="none" stroke-width="0.6"/>
<circle cx="58.30" cy="466.00" r="0.61" fill="#6a6a6a" stroke="none" stroke-width="0.6"/>
<circle cx="53.09" cy="463.09" r="0.85" fill="#fafafa" stroke="none" stroke-width="0.6"/>
<ellipse cx="46.0" cy="503.0" rx="10.9" ry="9.4" fill="none" stroke="#6c6c6c" stroke-width="1.0" opacity="0.8"/>
<ellipse cx="46.0" cy="503.0" rx="10.0" ry="8.5" fill="#575757" stroke="#444" stroke-width="1.1"/>
<circle cx="48.13" cy="501.22" r="0.55" fill="#777" stroke="none" stroke-width="0.6"/>
<circle cx="52.52" cy="504.25" r="1.03" fill="#777" stroke="none" stroke-width="0.6"/>
<circle cx="46.72" cy="503.02" r="0.98" fill="#404040" stroke="none" stroke-width="0.6"/>
<circle cx="48.95" cy="504.64" r="0.56" fill="#777" stroke="none" stroke-width="0.6"/>
<circle cx="54.01" cy="505.93" r="0.72" fill="#777" stroke="none" stroke-width="0.6"/>
<circle cx="46.35" cy="510.02" r="0.82" fill="#404040" stroke="none" stroke-width="0.6"/>
<circle cx="49.12" cy="498.79" r="0.95" fill="#777" stroke="none" stroke-width="0.6"/>
<circle cx="43.16" cy="502.81" r="0.67" fill="#404040" stroke="none" stroke-width="0.6"/>
<circle cx="46.09" cy="504.32" r="0.79" fill="#404040" stroke="none" stroke-width="0.6"/>
<circle cx="43.65" cy="500.59" r="0.68" fill="#404040" stroke="none" stroke-width="0.6"/>
<circle cx="44.74" cy="504.98" r="0.87" fill="#777" stroke="none" stroke-width="0.6"/>
<circle cx="47.35" cy="498.80" r="0.87" fill="#404040" stroke="none" stroke-width="0.6"/>
<circle cx="46.11" cy="510.19" r="0.70" fill="#404040" stroke="none" stroke-width="0.6"/>
<circle cx="43.65" cy="505.03" r="1.00" fill="#404040" stroke="none" stroke-width="0.6"/>
<circle cx="47.49" cy="502.40" r="0.83" fill="#777" stroke="none" stroke-width="0.6"/>
<circle cx="45.65" cy="501.29" r="0.71" fill="#777" stroke="none" stroke-width="0.6"/>
<circle cx="48.48" cy="501.40" r="0.55" fill="#404040" stroke="none" stroke-width="0.6"/>
<circle cx="42.51" cy="506.81" r="1.06" fill="#404040" stroke="none" stroke-width="0.6"/>
<circle cx="46.47" cy="505.25" r="0.54" fill="#777" stroke="none" stroke-width="0.6"/>
<circle cx="46.76" cy="507.98" r="0.98" fill="#404040" stroke="none" stroke-width="0.6"/>
<circle cx="53.90" cy="500.07" r="1.00" fill="#404040" stroke="none" stroke-width="0.6"/>
<circle cx="38.03" cy="502.42" r="1.04" fill="#777" stroke="none" stroke-width="0.6"/>
<circle cx="53.44" cy="503.72" r="0.85" fill="#404040" stroke="none" stroke-width="0.6"/>
<circle cx="38.31" cy="501.55" r="0.91" fill="#777" stroke="none" stroke-width="0.6"/>
<circle cx="45.82" cy="503.62" r="0.59" fill="#404040" stroke="none" stroke-width="0.6"/>
<circle cx="42.87" cy="505.36" r="0.71" fill="#404040" stroke="none" stroke-width="0.6"/>
<ellipse cx="60.0" cy="494.5" rx="7.4" ry="6.9" fill="none" stroke="#6c6c6c" stroke-width="1.0" opacity="0.8"/>
<ellipse cx="60.0" cy="494.5" rx="6.5" ry="6.0" fill="#5c5c5c" stroke="#444" stroke-width="1.1"/>
<circle cx="65.71" cy="494.20" r="0.78" fill="#777" stroke="none" stroke-width="0.6"/>
<circle cx="57.70" cy="495.93" r="0.68" fill="#404040" stroke="none" stroke-width="0.6"/>
<circle cx="60.45" cy="491.24" r="0.73" fill="#404040" stroke="none" stroke-width="0.6"/>
<circle cx="64.30" cy="497.17" r="0.86" fill="#404040" stroke="none" stroke-width="0.6"/>
<circle cx="61.02" cy="490.26" r="0.73" fill="#404040" stroke="none" stroke-width="0.6"/>
<circle cx="57.90" cy="499.22" r="1.09" fill="#404040" stroke="none" stroke-width="0.6"/>
<circle cx="63.03" cy="494.06" r="0.86" fill="#777" stroke="none" stroke-width="0.6"/>
<circle cx="61.07" cy="496.12" r="0.90" fill="#404040" stroke="none" stroke-width="0.6"/>
<circle cx="59.38" cy="497.32" r="0.57" fill="#404040" stroke="none" stroke-width="0.6"/>
<circle cx="54.91" cy="494.92" r="0.62" fill="#404040" stroke="none" stroke-width="0.6"/>
<circle cx="65.52" cy="494.54" r="0.54" fill="#777" stroke="none" stroke-width="0.6"/>
<circle cx="63.01" cy="489.96" r="0.63" fill="#777" stroke="none" stroke-width="0.6"/>
<ellipse cx="51.8" cy="545.0" rx="12.1" ry="16.9" fill="none" stroke="#6c6c6c" stroke-width="1.0" opacity="0.8"/>
<ellipse cx="51.8" cy="545.0" rx="11.2" ry="16.0" fill="#575757" stroke="#424242" stroke-width="1.3"/>
<circle cx="54.85" cy="531.65" r="0.58" fill="#3e3e3e" stroke="none" stroke-width="0.6"/>
<circle cx="57.20" cy="543.69" r="1.02" fill="#767676" stroke="none" stroke-width="0.6"/>
<circle cx="56.75" cy="547.41" r="0.96" fill="#3e3e3e" stroke="none" stroke-width="0.6"/>
<circle cx="43.08" cy="545.30" r="0.84" fill="#3e3e3e" stroke="none" stroke-width="0.6"/>
<circle cx="52.31" cy="545.93" r="0.80" fill="#3e3e3e" stroke="none" stroke-width="0.6"/>
<circle cx="52.87" cy="547.30" r="0.66" fill="#767676" stroke="none" stroke-width="0.6"/>
<circle cx="45.15" cy="548.74" r="0.61" fill="#767676" stroke="none" stroke-width="0.6"/>
<circle cx="57.38" cy="535.07" r="1.00" fill="#3e3e3e" stroke="none" stroke-width="0.6"/>
<circle cx="53.70" cy="541.20" r="0.67" fill="#3e3e3e" stroke="none" stroke-width="0.6"/>
<circle cx="50.53" cy="533.74" r="0.64" fill="#3e3e3e" stroke="none" stroke-width="0.6"/>
<circle cx="50.03" cy="545.27" r="1.01" fill="#3e3e3e" stroke="none" stroke-width="0.6"/>
<circle cx="51.84" cy="535.63" r="0.99" fill="#3e3e3e" stroke="none" stroke-width="0.6"/>
<circle cx="52.82" cy="555.08" r="0.91" fill="#3e3e3e" stroke="none" stroke-width="0.6"/>
<circle cx="45.19" cy="534.78" r="1.00" fill="#767676" stroke="none" stroke-width="0.6"/>
<circle cx="59.45" cy="550.30" r="1.08" fill="#3e3e3e" stroke="none" stroke-width="0.6"/>
<circle cx="56.65" cy="546.66" r="0.85" fill="#767676" stroke="none" stroke-width="0.6"/>
<circle cx="54.15" cy="546.38" r="0.68" fill="#3e3e3e" stroke="none" stroke-width="0.6"/>
<circle cx="53.18" cy="545.58" r="0.94" fill="#3e3e3e" stroke="none" stroke-width="0.6"/>
<circle cx="57.43" cy="554.32" r="0.91" fill="#3e3e3e" stroke="none" stroke-width="0.6"/>
<circle cx="61.09" cy="546.32" r="0.61" fill="#767676" stroke="none" stroke-width="0.6"/>
<circle cx="48.54" cy="553.80" r="0.63" fill="#767676" stroke="none" stroke-width="0.6"/>
<circle cx="54.79" cy="548.04" r="0.75" fill="#3e3e3e" stroke="none" stroke-width="0.6"/>
<circle cx="59.70" cy="536.24" r="1.03" fill="#3e3e3e" stroke="none" stroke-width="0.6"/>
<circle cx="51.99" cy="540.77" r="0.53" fill="#3e3e3e" stroke="none" stroke-width="0.6"/>
<circle cx="43.11" cy="546.09" r="0.58" fill="#3e3e3e" stroke="none" stroke-width="0.6"/>
<circle cx="56.87" cy="542.34" r="0.88" fill="#3e3e3e" stroke="none" stroke-width="0.6"/>
<circle cx="56.85" cy="546.99" r="0.63" fill="#767676" stroke="none" stroke-width="0.6"/>
<circle cx="46.08" cy="549.91" r="0.93" fill="#767676" stroke="none" stroke-width="0.6"/>
<circle cx="53.77" cy="539.57" r="0.62" fill="#3e3e3e" stroke="none" stroke-width="0.6"/>
<circle cx="42.54" cy="549.06" r="0.86" fill="#3e3e3e" stroke="none" stroke-width="0.6"/>
<circle cx="50.73" cy="534.65" r="0.79" fill="#3e3e3e" stroke="none" stroke-width="0.6"/>
<circle cx="50.36" cy="542.55" r="1.08" fill="#3e3e3e" stroke="none" stroke-width="0.6"/>
<circle cx="58.71" cy="540.52" r="1.06" fill="#3e3e3e" stroke="none" stroke-width="0.6"/>
<circle cx="58.35" cy="548.88" r="0.68" fill="#767676" stroke="none" stroke-width="0.6"/>
<circle cx="52.48" cy="531.71" r="0.80" fill="#767676" stroke="none" stroke-width="0.6"/>
<circle cx="52.05" cy="550.59" r="1.00" fill="#3e3e3e" stroke="none" stroke-width="0.6"/>
<circle cx="48.33" cy="550.81" r="0.70" fill="#767676" stroke="none" stroke-width="0.6"/>
<circle cx="56.13" cy="554.60" r="0.84" fill="#767676" stroke="none" stroke-width="0.6"/>
<circle cx="42.60" cy="545.84" r="0.69" fill="#767676" stroke="none" stroke-width="0.6"/>
<circle cx="51.85" cy="531.02" r="0.52" fill="#767676" stroke="none" stroke-width="0.6"/>
<circle cx="47.24" cy="543.50" r="0.94" fill="#3e3e3e" stroke="none" stroke-width="0.6"/>
<circle cx="48.73" cy="538.36" r="0.92" fill="#767676" stroke="none" stroke-width="0.6"/>
<circle cx="53.97" cy="547.17" r="1.04" fill="#767676" stroke="none" stroke-width="0.6"/>
<circle cx="49.60" cy="549.75" r="0.67" fill="#767676" stroke="none" stroke-width="0.6"/>
<circle cx="54.83" cy="548.55" r="1.05" fill="#767676" stroke="none" stroke-width="0.6"/>
<circle cx="48.27" cy="558.06" r="0.91" fill="#767676" stroke="none" stroke-width="0.6"/>
<circle cx="48.25" cy="536.46" r="0.76" fill="#3e3e3e" stroke="none" stroke-width="0.6"/>
<circle cx="46.84" cy="554.27" r="1.03" fill="#3e3e3e" stroke="none" stroke-width="0.6"/>
<circle cx="47.75" cy="542.93" r="0.69" fill="#3e3e3e" stroke="none" stroke-width="0.6"/>
<circle cx="54.64" cy="557.45" r="0.77" fill="#767676" stroke="none" stroke-width="0.6"/>
<circle cx="54.50" cy="560.00" r="1.30" fill="#1e1e1e" stroke="none" stroke-width="0.6"/>
<ellipse cx="50.5" cy="597.0" rx="10.4" ry="13.9" fill="none" stroke="#6c6c6c" stroke-width="1.0" opacity="0.8"/>
<ellipse cx="50.5" cy="597.0" rx="9.5" ry="13.0" fill="#585858" stroke="#434343" stroke-width="1.2"/>
<circle cx="51.19" cy="604.15" r="0.57" fill="#3e3e3e" stroke="none" stroke-width="0.6"/>
<circle cx="51.47" cy="585.94" r="0.51" fill="#767676" stroke="none" stroke-width="0.6"/>
<circle cx="44.73" cy="591.83" r="0.57" fill="#767676" stroke="none" stroke-width="0.6"/>
<circle cx="43.55" cy="600.86" r="0.79" fill="#3e3e3e" stroke="none" stroke-width="0.6"/>
<circle cx="50.11" cy="602.31" r="0.56" fill="#767676" stroke="none" stroke-width="0.6"/>
<circle cx="48.61" cy="599.05" r="0.63" fill="#3e3e3e" stroke="none" stroke-width="0.6"/>
<circle cx="47.40" cy="600.27" r="0.93" fill="#3e3e3e" stroke="none" stroke-width="0.6"/>
<circle cx="52.52" cy="591.75" r="1.09" fill="#767676" stroke="none" stroke-width="0.6"/>
<circle cx="57.10" cy="595.13" r="0.99" fill="#3e3e3e" stroke="none" stroke-width="0.6"/>
<circle cx="50.24" cy="597.70" r="0.59" fill="#3e3e3e" stroke="none" stroke-width="0.6"/>
<circle cx="43.66" cy="596.91" r="1.10" fill="#3e3e3e" stroke="none" stroke-width="0.6"/>
<circle cx="52.29" cy="606.93" r="0.88" fill="#3e3e3e" stroke="none" stroke-width="0.6"/>
<circle cx="57.17" cy="598.27" r="1.01" fill="#3e3e3e" stroke="none" stroke-width="0.6"/>
<circle cx="56.45" cy="595.42" r="0.72" fill="#3e3e3e" stroke="none" stroke-width="0.6"/>
<circle cx="47.60" cy="594.27" r="0.81" fill="#767676" stroke="none" stroke-width="0.6"/>
<circle cx="55.11" cy="591.20" r="0.86" fill="#3e3e3e" stroke="none" stroke-width="0.6"/>
<circle cx="46.07" cy="603.02" r="0.76" fill="#767676" stroke="none" stroke-width="0.6"/>
<circle cx="46.87" cy="607.14" r="0.78" fill="#3e3e3e" stroke="none" stroke-width="0.6"/>
<circle cx="54.91" cy="594.06" r="0.61" fill="#3e3e3e" stroke="none" stroke-width="0.6"/>
<circle cx="57.95" cy="594.45" r="0.97" fill="#767676" stroke="none" stroke-width="0.6"/>
<circle cx="51.55" cy="590.72" r="0.70" fill="#3e3e3e" stroke="none" stroke-width="0.6"/>
<circle cx="49.65" cy="605.15" r="0.74" fill="#3e3e3e" stroke="none" stroke-width="0.6"/>
<circle cx="51.80" cy="604.07" r="0.73" fill="#3e3e3e" stroke="none" stroke-width="0.6"/>
<circle cx="44.35" cy="593.16" r="0.71" fill="#3e3e3e" stroke="none" stroke-width="0.6"/>
<circle cx="57.84" cy="598.56" r="0.51" fill="#767676" stroke="none" stroke-width="0.6"/>
<circle cx="50.23" cy="608.10" r="0.68" fill="#3e3e3e" stroke="none" stroke-width="0.6"/>
<circle cx="50.25" cy="591.72" r="1.10" fill="#767676" stroke="none" stroke-width="0.6"/>
<circle cx="42.20" cy="594.72" r="0.96" fill="#3e3e3e" stroke="none" stroke-width="0.6"/>
<circle cx="47.99" cy="588.60" r="0.71" fill="#767676" stroke="none" stroke-width="0.6"/>
<circle cx="56.18" cy="601.29" r="1.00" fill="#767676" stroke="none" stroke-width="0.6"/>
<circle cx="54.08" cy="594.71" r="0.62" fill="#3e3e3e" stroke="none" stroke-width="0.6"/>
<circle cx="48.53" cy="593.06" r="0.58" fill="#767676" stroke="none" stroke-width="0.6"/>
<circle cx="50.14" cy="587.71" r="1.08" fill="#767676" stroke="none" stroke-width="0.6"/>
<circle cx="50.84" cy="596.83" r="0.53" fill="#767676" stroke="none" stroke-width="0.6"/>
<ellipse cx="49" cy="587" rx="5.5" ry="5.5" fill="#767676" opacity="0.8"/>
</g>
<text x="28.70" y="440.20" font-size="6.4" text-anchor="start" fill="#222">1860</text>
<text x="28.70" y="486.90" font-size="6.4" text-anchor="start" fill="#f0f0f0">23119</text>
<text x="28.70" y="528.40" font-size="6.4" text-anchor="start" fill="#f0f0f0">24641</text>
<text x="28.70" y="578.80" font-size="6.4" text-anchor="start" fill="#f0f0f0">7796</text>
<rect x="29.00" y="475.20" width="10.00" height="1.20" fill="#eee" opacity="0.6"/>
<ellipse cx="99.0" cy="447.3" rx="5.6" ry="5.2" fill="#24922c" filter="url(#bl)" opacity="1.0"/>
<ellipse cx="152.4" cy="459.9" rx="8.4" ry="8.4" fill="#80801a" filter="url(#bl)" opacity="1.0"/>
<ellipse cx="203.6" cy="447.3" rx="4.8" ry="4.5" fill="#8442b8" filter="url(#bl)" opacity="1.0"/>
<ellipse cx="206.3" cy="461.0" rx="5.9" ry="5.3" fill="#7e3cb0" filter="url(#bl)" opacity="1.0"/>
<ellipse cx="252.3" cy="447.1" rx="6.0" ry="5.5" fill="#2a0404" filter="url(#bl)" opacity="0.9"/>
<circle cx="252.3" cy="447.1" r="5.5" fill="none" stroke="#5a0808" stroke-width="1.6" filter="url(#bl)" opacity="1.0"/>
<ellipse cx="254.2" cy="459.9" rx="10.0" ry="10.0" fill="#2c0505" filter="url(#bl)" opacity="1.0"/>
<circle cx="254.2" cy="459.9" r="9.4" fill="none" stroke="#c21616" stroke-width="2.8" filter="url(#bl)" opacity="1.0"/>
<path d="M245,455.2 Q252,452 259,452.4" stroke="#ff4a4a" stroke-width="2.4" fill="none" filter="url(#bl2)"/>
<ellipse cx="305.4" cy="460.5" rx="9.8" ry="9.8" fill="#a04a16" filter="url(#bl)" opacity="1.0"/>
<ellipse cx="305.4" cy="461.0" rx="7.0" ry="7.0" fill="#7a6a1c" filter="url(#bl)" opacity="1.0"/>
<ellipse cx="302.2" cy="446.5" rx="6.2" ry="5.4" fill="#3a9c30" filter="url(#bl)" opacity="1.0"/>
<path d="M296,454.6 Q304,451.5 312.4,452.4" stroke="#f04a22" stroke-width="2.6" fill="none" filter="url(#bl2)"/>
<ellipse cx="109.3" cy="493.8" rx="8.4" ry="6.8" fill="#5ad24a" filter="url(#bl)" opacity="1.0"/>
<ellipse cx="108.0" cy="498.5" rx="3.0" ry="2.5" fill="#5ad24a" filter="url(#bl)" opacity="1.0"/>
<ellipse cx="147.5" cy="501.0" rx="9.4" ry="9.2" fill="#d4d020" filter="url(#bl)" opacity="1.0"/>
<ellipse cx="146.5" cy="499.5" rx="5.0" ry="5.0" fill="#f0ec40" filter="url(#bl)" opacity="1.0"/>
<ellipse cx="202.2" cy="502.2" rx="7.0" ry="7.8" fill="#9244cc" filter="url(#bl)" opacity="1.0"/>
<ellipse cx="214.9" cy="494.3" rx="6.0" ry="5.8" fill="#9244cc" filter="url(#bl)" opacity="1.0"/>
<ellipse cx="267.0" cy="492.4" rx="6.0" ry="6.0" fill="#500707" filter="url(#bl)" opacity="0.9"/>
<circle cx="267.0" cy="492.4" r="5.5" fill="none" stroke="#901010" stroke-width="2.0" filter="url(#bl)" opacity="1.0"/>
<ellipse cx="251.7" cy="501.3" rx="11.0" ry="11.0" fill="#2c0505" filter="url(#bl)" opacity="1.0"/>
<circle cx="251.7" cy="501.3" r="10.2" fill="none" stroke="#c81818" stroke-width="2.8" filter="url(#bl)" opacity="1.0"/>
<path d="M258,491.5 Q263,498 259.5,507" stroke="#ff3a3a" stroke-width="2.2" fill="none" filter="url(#bl2)"/>
<ellipse cx="300.3" cy="501.3" rx="10.4" ry="10.0" fill="#e07c1a" filter="url(#bl)" opacity="1.0"/>
<ellipse cx="300.3" cy="501.0" rx="8.0" ry="7.8" fill="#eccf24" filter="url(#bl)" opacity="1.0"/>
<ellipse cx="313.7" cy="493.0" rx="7.4" ry="6.5" fill="#52c440" filter="url(#bl)" opacity="1.0"/>
<ellipse cx="101.3" cy="535.5" rx="9.8" ry="7.0" fill="#5ad04a" filter="url(#bl)" opacity="1.0"/>
<ellipse cx="151.3" cy="550.5" rx="10.6" ry="10.6" fill="#b4ae20" filter="url(#bl)" opacity="1.0"/>
<ellipse cx="151.8" cy="549.5" rx="5.5" ry="5.5" fill="#e4e03a" filter="url(#bl)" opacity="1.0"/>
<ellipse cx="209.4" cy="534.8" rx="4.8" ry="4.6" fill="#7a38ac" filter="url(#bl)" opacity="1.0"/>
<ellipse cx="207.5" cy="552.3" rx="6.8" ry="6.4" fill="#7a38ac" filter="url(#bl)" opacity="1.0"/>
<ellipse cx="255.5" cy="546.0" rx="12.0" ry="15.0" fill="#200303" filter="url(#bl)" opacity="1.0"/>
<ellipse cx="255.7" cy="546" rx="10.8" ry="14.5" fill="none" stroke="#9a1010" stroke-width="3" filter="url(#bl)"/>
<ellipse cx="260.5" cy="541.5" rx="3" ry="2" fill="#d02020" filter="url(#bl)" opacity="0.8"/>
<ellipse cx="305.8" cy="551.0" rx="10.8" ry="10.8" fill="#c87414" filter="url(#bl)" opacity="1.0"/>
<ellipse cx="305.5" cy="550.5" rx="7.5" ry="7.5" fill="#e8b020" filter="url(#bl)" opacity="1.0"/>
<ellipse cx="304.8" cy="549.5" rx="3.5" ry="3.5" fill="#f4e040" filter="url(#bl)" opacity="1.0"/>
<path d="M295.2,541 A10.4,9.5 0 0 1 316.2,541 Z" fill="#4ec43e" filter="url(#bl)"/>
<path d="M297,541.5 Q306,543.5 315,541.5" stroke="#b8d040" stroke-width="1.2" fill="none" filter="url(#bl2)" opacity="0.8"/>
<ellipse cx="98.3" cy="586.3" rx="7.6" ry="8.0" fill="#5acb48" filter="url(#bl)" opacity="1.0"/>
<ellipse cx="152.5" cy="598.8" rx="10.2" ry="10.2" fill="#a6a01e" filter="url(#bl)" opacity="1.0"/>
<ellipse cx="205.0" cy="587.0" rx="7.0" ry="7.0" fill="#9646d2" filter="url(#bl)" opacity="1.0"/>
<ellipse cx="208.0" cy="601.0" rx="10.5" ry="10.5" fill="#9646d2" filter="url(#bl)" opacity="1.0"/>
<ellipse cx="257.6" cy="596.5" rx="11.0" ry="12.5" fill="#400505" filter="url(#bl)" opacity="1.0"/>
<ellipse cx="258.0" cy="590.0" rx="7.5" ry="3.5" fill="#a81010" filter="url(#bl)" opacity="0.9"/>
<ellipse cx="305.6" cy="599.5" rx="10.2" ry="10.4" fill="#9a5c14" filter="url(#bl)" opacity="1.0"/>
<ellipse cx="305.0" cy="598.5" rx="6.5" ry="6.5" fill="#b8901c" filter="url(#bl)" opacity="1.0"/>
<ellipse cx="303.4" cy="586.2" rx="6.2" ry="8.4" transform="rotate(-25 303.4 586.2)" fill="#52c640" filter="url(#bl)"/>
<text transform="translate(24.20,456.60) rotate(-90)" font-size="7.0" text-anchor="middle" fill="#333">WT</text>
<text transform="translate(24.20,499.00) rotate(-90)" font-size="7.0" text-anchor="middle" fill="#333">PVR<tspan font-size="4.5" dy="-3">KO</tspan><tspan dy="3"></tspan></text>
<text transform="translate(24.20,543.40) rotate(-90)" font-size="7.0" text-anchor="middle" fill="#333">B7-H6<tspan font-size="4.5" dy="-3">KO</tspan><tspan dy="3"></tspan></text>
<text transform="translate(15.60,590.20) rotate(-90)" font-size="7.0" text-anchor="middle" fill="#333">PVR<tspan font-size="4.5" dy="-3">KO</tspan><tspan dy="3"></tspan></text>
<text transform="translate(24.20,599.50) rotate(-90)" font-size="7.0" text-anchor="middle" fill="#333">B7-H6<tspan font-size="4.5" dy="-3">KO</tspan><tspan dy="3"></tspan></text>
<text x="343.50" y="415.50" font-size="10" text-anchor="start" fill="#111" font-weight="bold" textLength="8.0" lengthAdjust="spacingAndGlyphs">G</text>
<line x1="392.50" y1="448.20" x2="392.50" y2="574.90" stroke="#222" stroke-width="1.0"/>
<line x1="392.20" y1="574.50" x2="513.50" y2="574.50" stroke="#222" stroke-width="1.0"/>
<line x1="389.20" y1="449.50" x2="392.20" y2="449.50" stroke="#222" stroke-width="0.8"/>
<text x="386.60" y="451.60" font-size="7.9" text-anchor="end" fill="#444" textLength="23" lengthAdjust="spacingAndGlyphs">2×10<tspan font-size="5.2" dy="-3.3">5</tspan></text>
<line x1="389.20" y1="480.50" x2="392.20" y2="480.50" stroke="#222" stroke-width="0.8"/>
<text x="386.60" y="483.08" font-size="7.9" text-anchor="end" fill="#444" textLength="29.3" lengthAdjust="spacingAndGlyphs">1.5×10<tspan font-size="5.2" dy="-3.3">5</tspan></text>
<line x1="389.20" y1="511.50" x2="392.20" y2="511.50" stroke="#222" stroke-width="0.8"/>
<text x="386.60" y="514.55" font-size="7.9" text-anchor="end" fill="#444" textLength="22.5" lengthAdjust="spacingAndGlyphs">1×10<tspan font-size="5.2" dy="-3.3">5</tspan></text>
<line x1="389.20" y1="543.50" x2="392.20" y2="543.50" stroke="#222" stroke-width="0.8"/>
<text x="386.60" y="546.02" font-size="7.9" text-anchor="end" fill="#444" textLength="23" lengthAdjust="spacingAndGlyphs">5×10<tspan font-size="5.2" dy="-3.3">4</tspan></text>
<line x1="389.20" y1="574.50" x2="392.20" y2="574.50" stroke="#222" stroke-width="0.8"/>
<text x="386.60" y="577.50" font-size="7.9" text-anchor="end" fill="#444">0</text>
<text x="451.70" y="434.70" font-size="8.4" text-anchor="middle" fill="#222" textLength="101" lengthAdjust="spacingAndGlyphs">F-actin intensity in synapse</text>
<text transform="translate(351.20,510.50) rotate(-90)" font-size="7.2" text-anchor="middle" fill="#444" textLength="79" lengthAdjust="spacingAndGlyphs">F-actin intensity in synapse</text>
<path d="M410.5 500.4h.1M411.7 500.1h.1M410.3 501.7h.1M411.4 501.1h.1M410.4 502.8h.1M411.4 502.9h.1M410.0 503.8h.1M410.7 504.2h.1M412.3 503.9h.1M409.8 505.0h.1M410.9 505.3h.1M411.8 505.0h.1M409.2 506.8h.1M411.2 506.4h.1M411.9 506.2h.1M408.7 507.7h.1M409.7 507.9h.1M411.1 508.2h.1M412.3 508.1h.1M409.1 508.8h.1M410.2 508.8h.1M411.3 508.9h.1M412.6 509.4h.1M409.0 510.3h.1M409.8 510.2h.1M411.4 510.5h.1M413.2 510.0h.1M408.2 511.8h.1M409.5 511.7h.1M411.1 511.9h.1M412.0 511.4h.1M413.2 511.6h.1M407.9 513.2h.1M409.2 513.1h.1M411.2 512.7h.1M412.1 512.9h.1M413.6 512.9h.1M407.6 514.0h.1M408.6 514.1h.1M410.3 514.5h.1M411.4 514.6h.1M413.1 514.6h.1M414.0 514.5h.1M407.3 515.5h.1M408.5 515.4h.1M410.4 515.3h.1M411.6 515.9h.1M413.0 515.8h.1M414.2 515.3h.1M407.3 517.3h.1M408.8 517.2h.1M410.3 516.9h.1M411.9 517.1h.1M412.8 516.6h.1M414.1 516.7h.1M407.1 518.4h.1M407.9 518.4h.1M409.5 518.0h.1M411.0 518.6h.1M411.7 518.3h.1M413.2 517.9h.1M414.8 518.3h.1M406.6 519.2h.1M408.2 519.5h.1M409.6 519.8h.1M411.2 519.3h.1M412.6 519.5h.1M413.3 519.3h.1M415.3 519.8h.1M406.3 520.8h.1M407.7 521.0h.1M408.9 521.1h.1M410.5 520.9h.1M411.1 520.8h.1M412.4 521.1h.1M414.3 520.6h.1M415.2 520.7h.1M405.7 522.0h.1M406.8 522.2h.1M407.9 521.9h.1M409.9 521.9h.1M411.1 522.5h.1M411.6 522.1h.1M413.0 522.3h.1M414.4 522.1h.1M416.1 522.1h.1M405.4 523.7h.1M406.6 523.5h.1M408.1 523.0h.1M409.8 523.6h.1M410.4 523.1h.1M412.1 523.2h.1M413.3 523.5h.1M415.1 523.4h.1M415.9 523.1h.1M404.9 525.0h.1M406.3 525.1h.1M407.7 524.4h.1M408.7 524.5h.1M409.8 524.9h.1M411.8 524.4h.1M412.8 525.0h.1M414.3 524.7h.1M415.4 524.5h.1M416.8 524.6h.1M404.1 525.9h.1M405.9 526.4h.1M406.8 525.9h.1M408.3 526.2h.1M409.3 525.9h.1M410.5 525.8h.1M412.4 526.0h.1M413.5 526.3h.1M414.9 525.8h.1M415.9 525.9h.1M417.0 526.0h.1M404.2 527.2h.1M405.1 527.1h.1M406.9 526.9h.1M408.0 527.6h.1M409.5 527.0h.1M410.7 527.6h.1M412.1 527.2h.1M414.0 527.0h.1M414.6 527.1h.1M416.4 527.3h.1M417.6 527.7h.1M403.3 528.8h.1M404.8 528.5h.1M405.9 528.6h.1M407.0 528.5h.1M408.4 529.0h.1M410.0 528.8h.1M411.4 528.4h.1M412.9 528.7h.1M414.1 528.5h.1M415.8 528.4h.1M417.1 528.8h.1M418.7 528.6h.1M402.9 530.3h.1M404.7 530.2h.1M406.2 530.0h.1M407.3 529.7h.1M409.0 530.3h.1M409.7 530.1h.1M411.2 530.3h.1M412.7 529.9h.1M414.6 529.6h.1M415.6 529.8h.1M417.1 529.8h.1M418.3 530.1h.1M402.8 531.0h.1M404.2 531.3h.1M405.8 531.4h.1M406.7 531.5h.1M407.8 531.3h.1M409.8 531.4h.1M411.0 530.9h.1M411.7 531.5h.1M413.1 531.3h.1M415.2 531.2h.1M416.4 531.4h.1M416.9 531.1h.1M418.4 531.4h.1M402.6 532.2h.1M404.1 532.6h.1M405.9 532.2h.1M407.3 532.2h.1M408.5 532.3h.1M409.6 532.1h.1M410.6 532.3h.1M412.4 532.7h.1M413.8 532.5h.1M414.5 532.9h.1M416.1 532.3h.1M417.6 532.6h.1M419.1 532.5h.1M403.2 534.1h.1M404.2 533.6h.1M405.4 533.7h.1M407.2 534.1h.1M407.9 533.5h.1M409.3 533.7h.1M410.7 533.7h.1M411.7 533.6h.1M413.0 534.0h.1M414.5 533.6h.1M416.2 533.5h.1M417.5 533.6h.1M418.5 533.8h.1M402.3 535.4h.1M404.3 535.2h.1M405.2 534.7h.1M406.5 534.9h.1M408.3 535.4h.1M409.6 535.3h.1M410.6 535.4h.1M412.4 534.7h.1M413.6 535.2h.1M415.1 535.3h.1M416.0 534.8h.1M417.9 535.4h.1M418.7 535.4h.1M402.9 536.4h.1M403.5 536.6h.1M405.4 536.0h.1M406.9 536.7h.1M407.8 536.1h.1M409.2 536.0h.1M410.5 536.3h.1M412.4 536.1h.1M413.9 536.1h.1M415.1 536.7h.1M415.9 536.5h.1M417.4 536.4h.1M418.7 536.4h.1M402.5 537.5h.1M403.6 537.7h.1M405.3 538.1h.1M406.5 537.4h.1M408.0 537.6h.1M409.5 538.1h.1M411.1 537.6h.1M411.9 537.8h.1M413.3 537.9h.1M414.9 537.4h.1M416.4 537.8h.1M417.6 538.0h.1M418.8 537.3h.1M402.4 539.1h.1M404.3 539.1h.1M405.1 539.3h.1M406.5 538.9h.1M408.2 539.3h.1M409.5 539.0h.1M410.9 538.8h.1M412.0 539.2h.1M413.2 538.9h.1M415.2 539.1h.1M415.9 539.1h.1M417.4 539.3h.1M418.6 539.1h.1M402.9 540.1h.1M403.9 540.5h.1M405.2 540.0h.1M406.8 540.3h.1M408.5 540.4h.1M409.1 540.4h.1M411.1 540.0h.1M411.7 539.9h.1M413.2 540.1h.1M414.5 540.0h.1M415.9 540.1h.1M417.7 540.5h.1M418.9 540.7h.1M403.1 541.3h.1M404.3 542.0h.1M405.6 541.6h.1M406.8 541.3h.1M407.8 541.2h.1M409.8 541.8h.1M410.8 541.7h.1M412.5 541.7h.1M413.3 541.8h.1M414.7 541.4h.1M416.4 541.9h.1M417.3 541.5h.1M419.2 541.5h.1M402.8 543.0h.1M403.9 542.8h.1M405.3 542.7h.1M407.0 542.7h.1M408.0 542.7h.1M409.5 542.8h.1M411.1 543.0h.1M412.2 543.0h.1M413.0 542.9h.1M414.7 542.9h.1M415.7 543.1h.1M417.4 543.2h.1M418.3 543.0h.1M403.3 544.3h.1M404.5 543.8h.1M406.1 544.3h.1M407.4 544.1h.1M409.0 543.9h.1M410.4 544.3h.1M411.7 544.3h.1M412.6 544.3h.1M414.4 543.9h.1M416.1 544.1h.1M417.1 544.2h.1M418.1 544.4h.1M403.4 545.7h.1M404.7 545.6h.1M406.0 545.1h.1M407.1 545.4h.1M408.9 545.5h.1M410.0 545.7h.1M411.1 545.3h.1M412.7 545.1h.1M414.1 545.4h.1M415.4 545.9h.1M417.4 545.9h.1M418.5 545.1h.1M403.7 546.6h.1M405.1 546.8h.1M405.7 546.5h.1M407.2 546.6h.1M408.5 546.8h.1M410.3 546.6h.1M411.3 546.9h.1M412.4 547.0h.1M414.6 546.7h.1M415.6 546.6h.1M416.7 546.5h.1M418.4 546.5h.1M403.7 548.0h.1M405.2 548.3h.1M406.1 548.2h.1M407.5 548.3h.1M408.4 547.7h.1M410.1 548.1h.1M411.7 548.2h.1M412.7 548.3h.1M413.8 547.8h.1M415.2 548.2h.1M416.8 547.8h.1M418.1 548.1h.1M403.9 549.0h.1M405.4 549.0h.1M407.0 549.6h.1M407.6 549.8h.1M409.6 549.3h.1M410.7 549.3h.1M412.5 549.0h.1M413.2 549.8h.1M415.4 549.6h.1M416.3 549.3h.1M417.8 549.4h.1M404.1 551.0h.1M405.5 550.4h.1M406.5 550.9h.1M407.9 550.8h.1M409.6 551.0h.1M410.5 551.0h.1M412.0 550.4h.1M413.8 550.6h.1M414.8 550.7h.1M415.9 550.9h.1M417.9 550.9h.1M404.5 551.8h.1M405.5 551.9h.1M407.2 552.0h.1M408.0 552.2h.1M409.6 552.1h.1M410.4 551.7h.1M412.5 551.7h.1M413.4 552.0h.1M415.0 552.2h.1M415.8 551.8h.1M417.5 552.3h.1M404.7 553.2h.1M405.6 553.2h.1M407.0 553.4h.1M409.0 553.6h.1M409.8 553.3h.1M411.8 553.2h.1M413.0 553.0h.1M414.0 553.4h.1M415.2 553.1h.1M416.7 553.3h.1M404.5 554.7h.1M406.0 554.9h.1M407.1 554.7h.1M409.0 554.9h.1M409.8 554.5h.1M411.2 554.2h.1M412.5 555.0h.1M413.9 554.4h.1M415.6 554.4h.1M417.0 554.6h.1M404.9 556.2h.1M407.0 556.0h.1M408.1 556.2h.1M409.6 556.2h.1M410.7 556.1h.1M412.1 555.5h.1M413.2 556.1h.1M415.1 556.0h.1M416.6 556.0h.1M405.8 556.8h.1M406.7 557.1h.1M407.9 557.3h.1M409.8 556.9h.1M411.2 556.8h.1M412.0 556.9h.1M413.9 557.5h.1M414.8 556.9h.1M415.8 557.3h.1M405.9 558.6h.1M406.9 558.7h.1M408.5 558.6h.1M409.7 558.9h.1M410.9 558.6h.1M412.5 558.4h.1M413.8 558.2h.1M414.8 558.3h.1M416.1 558.2h.1M406.2 559.8h.1M407.6 559.7h.1M408.4 559.9h.1M409.9 559.5h.1M411.8 559.6h.1M413.0 560.0h.1M414.4 559.6h.1M415.6 559.7h.1M405.8 561.1h.1M407.7 561.5h.1M408.6 561.3h.1M410.0 560.9h.1M411.8 560.7h.1M413.2 561.3h.1M414.4 561.2h.1M416.0 561.3h.1M406.1 562.0h.1M407.4 562.4h.1M408.5 562.7h.1M410.1 562.1h.1M411.4 562.1h.1M412.9 562.4h.1M414.3 562.6h.1M415.7 562.2h.1M406.2 564.0h.1M407.6 563.6h.1M408.4 563.9h.1M410.2 564.0h.1M411.3 563.8h.1M413.1 563.8h.1M414.3 563.7h.1M415.7 564.0h.1M406.2 564.7h.1M407.8 565.1h.1M409.1 565.0h.1M410.3 565.2h.1M411.5 565.0h.1M412.6 565.3h.1M414.1 565.1h.1M415.1 565.3h.1M406.8 566.7h.1M407.9 566.6h.1M409.1 566.0h.1M410.6 566.0h.1M412.6 565.9h.1M413.5 566.2h.1M415.1 566.0h.1M407.1 567.7h.1M408.2 567.4h.1M409.9 567.3h.1M411.1 568.0h.1M412.4 567.4h.1M413.8 567.9h.1M414.7 567.4h.1M406.6 569.0h.1M408.4 568.6h.1M409.9 568.6h.1M410.7 568.7h.1M411.7 569.2h.1M413.8 568.8h.1M415.0 569.3h.1M407.0 570.4h.1M408.5 570.6h.1M409.8 570.2h.1M411.5 570.4h.1M413.3 570.3h.1M414.2 570.4h.1M407.2 571.2h.1M408.5 571.7h.1M409.9 571.6h.1M411.5 571.2h.1M412.5 571.7h.1M413.8 571.4h.1M407.9 572.7h.1M408.7 572.6h.1M410.2 573.0h.1M411.8 573.1h.1M412.8 572.9h.1M414.0 572.6h.1M410.8 473.0h.1M411.1 476.0h.1M410.5 479.0h.1M410.8 482.0h.1M411.4 485.0h.1M410.2 488.0h.1M411.1 491.0h.1M410.0 494.0h.1M411.6 496.0h.1M410.8 498.0h.1" stroke="#7878bd" stroke-width="1.75" stroke-linecap="round" fill="none"/>
<path d="M438.7 514.1h.1M438.5 515.6h.1M439.4 515.2h.1M437.6 516.9h.1M439.4 516.9h.1M437.9 517.5h.1M439.1 517.8h.1M437.6 518.8h.1M439.0 519.1h.1M439.7 519.2h.1M437.4 520.9h.1M439.1 520.5h.1M440.3 520.2h.1M437.0 521.8h.1M438.4 521.6h.1M439.1 522.1h.1M440.2 521.7h.1M436.2 522.7h.1M437.1 522.8h.1M438.7 523.3h.1M440.0 523.1h.1M441.3 523.3h.1M435.5 524.1h.1M437.6 524.5h.1M438.9 524.5h.1M439.8 524.5h.1M441.4 524.8h.1M435.4 526.0h.1M436.8 525.7h.1M437.6 525.9h.1M439.3 525.4h.1M440.4 526.0h.1M442.3 526.0h.1M435.0 527.2h.1M435.8 526.9h.1M437.8 527.3h.1M438.6 527.3h.1M439.7 527.2h.1M441.5 526.7h.1M442.5 526.8h.1M433.9 528.5h.1M435.4 528.4h.1M436.8 528.2h.1M438.2 528.1h.1M439.4 528.5h.1M441.0 527.9h.1M441.9 528.3h.1M443.3 528.2h.1M433.7 529.3h.1M435.0 529.2h.1M436.4 529.5h.1M438.0 529.5h.1M439.0 529.2h.1M441.2 529.4h.1M442.1 529.5h.1M443.8 529.4h.1M433.4 531.3h.1M434.8 531.1h.1M436.4 531.0h.1M437.4 530.9h.1M438.3 531.3h.1M439.7 530.8h.1M441.8 530.9h.1M442.7 530.5h.1M444.5 530.5h.1M432.5 532.5h.1M434.4 532.1h.1M434.9 531.9h.1M437.0 531.8h.1M438.4 532.5h.1M439.1 532.4h.1M440.7 532.3h.1M441.8 532.4h.1M443.3 532.4h.1M445.2 532.0h.1M432.0 533.2h.1M433.5 533.8h.1M434.6 533.6h.1M435.8 533.2h.1M437.1 533.4h.1M438.9 533.4h.1M439.9 533.8h.1M441.0 533.7h.1M442.3 533.7h.1M444.3 533.1h.1M445.3 533.2h.1M431.5 534.8h.1M432.5 535.1h.1M433.9 534.6h.1M435.8 535.2h.1M436.5 534.6h.1M437.8 534.6h.1M439.7 534.8h.1M440.5 534.9h.1M441.7 534.5h.1M443.3 534.5h.1M444.9 534.5h.1M446.0 535.0h.1M430.9 536.2h.1M432.4 536.2h.1M433.6 536.2h.1M435.1 536.1h.1M436.4 536.2h.1M438.1 535.8h.1M438.9 536.4h.1M440.6 535.9h.1M442.3 536.0h.1M443.3 536.3h.1M444.6 536.1h.1M446.5 535.9h.1M430.8 537.4h.1M432.8 537.1h.1M433.5 537.7h.1M435.3 537.1h.1M437.0 537.6h.1M438.3 537.0h.1M439.6 537.1h.1M440.7 537.2h.1M442.6 537.1h.1M444.0 537.7h.1M444.6 537.2h.1M446.3 537.5h.1M431.2 538.9h.1M431.9 539.1h.1M433.4 539.0h.1M434.5 539.0h.1M436.5 538.4h.1M437.7 538.4h.1M438.4 538.7h.1M440.1 538.4h.1M441.1 538.7h.1M442.3 539.0h.1M443.8 538.7h.1M445.4 538.7h.1M446.2 538.7h.1M430.5 539.8h.1M431.7 540.1h.1M433.2 540.4h.1M434.6 539.9h.1M435.6 540.3h.1M436.9 539.9h.1M438.8 539.6h.1M439.9 540.2h.1M441.7 539.8h.1M442.4 539.7h.1M444.4 539.9h.1M445.4 540.4h.1M446.6 540.1h.1M430.3 541.2h.1M432.2 541.3h.1M433.1 541.3h.1M434.9 541.3h.1M435.9 541.6h.1M437.7 541.0h.1M438.4 541.0h.1M440.0 541.6h.1M441.2 541.1h.1M442.5 541.0h.1M443.7 541.3h.1M445.5 541.0h.1M447.1 541.4h.1M430.0 542.4h.1M431.8 542.7h.1M433.0 542.9h.1M434.7 542.4h.1M436.3 542.4h.1M437.5 542.9h.1M438.8 542.5h.1M440.2 542.6h.1M441.1 542.8h.1M443.3 542.8h.1M444.4 542.5h.1M445.2 543.0h.1M447.3 542.3h.1M430.2 544.1h.1M431.8 544.2h.1M433.6 544.0h.1M434.5 544.2h.1M435.7 543.7h.1M437.1 543.8h.1M438.3 543.6h.1M440.2 544.1h.1M441.1 543.9h.1M443.1 543.8h.1M444.3 544.1h.1M445.6 543.8h.1M446.8 543.8h.1M430.6 545.1h.1M431.4 545.6h.1M433.3 545.5h.1M434.3 545.3h.1M436.0 545.4h.1M437.5 545.2h.1M439.0 545.5h.1M439.7 544.9h.1M441.6 544.9h.1M443.2 545.1h.1M444.3 545.0h.1M445.3 545.0h.1M446.9 545.1h.1M430.2 546.6h.1M431.9 546.3h.1M432.7 546.3h.1M435.0 546.3h.1M436.4 546.7h.1M436.9 546.2h.1M438.8 546.3h.1M440.0 546.1h.1M441.1 546.6h.1M442.9 546.2h.1M444.4 546.6h.1M446.1 546.4h.1M447.4 546.1h.1M430.7 547.4h.1M432.1 548.1h.1M432.9 547.7h.1M434.6 547.6h.1M436.3 547.6h.1M437.7 547.7h.1M438.7 548.1h.1M440.0 547.8h.1M441.6 547.6h.1M443.3 547.4h.1M444.3 547.5h.1M445.4 547.6h.1M447.2 547.8h.1M430.8 549.1h.1M431.5 549.4h.1M432.7 548.9h.1M434.6 549.3h.1M435.6 549.4h.1M437.1 549.0h.1M438.6 549.1h.1M440.4 548.8h.1M441.9 549.5h.1M443.3 549.4h.1M444.6 549.3h.1M445.7 548.7h.1M446.6 549.0h.1M430.1 550.7h.1M432.1 550.3h.1M433.0 550.6h.1M435.0 550.2h.1M435.7 550.2h.1M437.0 550.0h.1M438.7 550.2h.1M439.6 550.3h.1M441.1 550.4h.1M442.6 550.2h.1M444.6 550.7h.1M445.8 550.0h.1M446.8 550.1h.1M430.9 552.1h.1M432.2 551.5h.1M433.1 551.9h.1M435.2 551.4h.1M436.5 552.0h.1M437.6 551.4h.1M439.0 551.6h.1M440.4 551.5h.1M441.4 551.7h.1M442.6 551.4h.1M444.3 552.0h.1M445.3 551.5h.1M446.6 552.0h.1M430.8 553.3h.1M432.8 552.9h.1M434.0 553.2h.1M435.6 552.9h.1M436.3 553.3h.1M438.3 552.8h.1M439.6 553.0h.1M440.8 553.3h.1M442.3 552.9h.1M443.4 553.2h.1M444.8 553.3h.1M446.1 552.7h.1M431.5 554.6h.1M433.0 554.5h.1M433.8 553.9h.1M435.2 554.3h.1M437.0 554.1h.1M437.9 554.5h.1M439.7 554.0h.1M440.9 554.6h.1M442.3 554.1h.1M443.3 554.5h.1M444.9 554.5h.1M445.9 553.9h.1M431.4 555.5h.1M433.5 555.8h.1M435.0 555.4h.1M435.8 555.3h.1M437.1 555.9h.1M439.1 555.9h.1M440.0 555.9h.1M441.7 555.7h.1M442.6 555.6h.1M444.1 555.7h.1M445.7 555.3h.1M432.0 557.3h.1M433.2 556.5h.1M434.8 556.9h.1M435.9 557.0h.1M437.8 556.6h.1M438.5 557.2h.1M440.1 556.6h.1M441.8 557.3h.1M442.8 556.6h.1M443.6 556.9h.1M445.4 556.6h.1M432.0 558.4h.1M433.6 558.1h.1M435.5 557.9h.1M436.6 558.3h.1M437.6 558.1h.1M439.0 558.4h.1M440.5 558.5h.1M441.8 558.6h.1M443.5 558.1h.1M445.2 558.0h.1M433.1 559.4h.1M433.9 559.8h.1M435.2 559.8h.1M436.4 559.6h.1M437.8 559.1h.1M439.8 559.6h.1M440.3 559.4h.1M441.9 559.6h.1M443.7 559.3h.1M444.8 559.8h.1M432.6 560.5h.1M434.1 560.9h.1M435.8 560.4h.1M437.1 560.7h.1M438.5 560.9h.1M439.5 560.6h.1M440.8 560.8h.1M442.1 560.7h.1M443.1 560.8h.1M444.6 560.7h.1M432.6 562.3h.1M434.2 562.5h.1M435.2 562.0h.1M436.3 561.8h.1M438.4 562.4h.1M439.5 561.7h.1M440.4 562.0h.1M442.0 561.8h.1M443.6 562.2h.1M444.6 562.4h.1M432.8 563.5h.1M434.1 563.5h.1M435.4 563.4h.1M436.8 563.6h.1M437.9 563.3h.1M439.6 563.7h.1M441.1 563.1h.1M442.0 563.6h.1M443.1 563.5h.1M444.7 563.3h.1M432.8 564.5h.1M434.1 564.9h.1M435.1 564.9h.1M437.0 565.0h.1M438.3 564.4h.1M439.1 564.6h.1M440.5 565.0h.1M442.4 564.7h.1M443.2 565.1h.1M444.8 564.8h.1M432.4 565.8h.1M434.1 566.0h.1M434.8 565.9h.1M436.7 566.2h.1M438.0 565.8h.1M439.3 566.3h.1M441.1 565.9h.1M441.7 565.9h.1M443.2 565.7h.1M444.5 566.1h.1M432.8 567.3h.1M434.1 567.2h.1M435.5 567.0h.1M436.9 567.7h.1M438.4 567.4h.1M439.0 566.9h.1M441.2 567.2h.1M442.3 567.2h.1M443.1 567.2h.1M445.1 567.4h.1M432.1 568.5h.1M434.1 568.6h.1M435.1 568.6h.1M436.7 568.2h.1M437.6 568.6h.1M439.6 568.9h.1M441.2 568.3h.1M441.8 568.5h.1M443.3 568.2h.1M445.2 568.5h.1M432.7 569.6h.1M434.1 570.1h.1M435.7 569.5h.1M436.6 570.2h.1M438.3 570.2h.1M439.2 569.7h.1M441.2 570.3h.1M441.8 570.2h.1M443.6 569.6h.1M444.7 569.5h.1M432.6 571.0h.1M433.9 571.1h.1M435.7 570.9h.1M436.5 571.3h.1M437.8 570.9h.1M439.5 571.1h.1M440.3 571.5h.1M442.1 570.9h.1M443.3 571.3h.1M444.5 571.1h.1M432.8 572.1h.1M434.1 572.4h.1M435.8 572.2h.1M437.3 572.7h.1M438.9 572.3h.1M440.1 572.1h.1M441.6 572.7h.1M442.7 572.9h.1M444.3 572.1h.1M433.7 574.1h.1M434.7 573.5h.1M435.8 573.5h.1M437.7 573.8h.1M438.6 574.2h.1M439.8 574.0h.1M441.5 573.6h.1M442.4 573.9h.1M443.8 574.0h.1M438.7 502.0h.1M439.1 505.0h.1M438.4 508.0h.1M439.2 511.0h.1M438.7 512.7h.1" stroke="#7878bd" stroke-width="1.75" stroke-linecap="round" fill="none"/>
<path d="M466.1 522.8h.1M466.9 523.3h.1M465.0 524.4h.1M466.1 524.7h.1M467.7 524.2h.1M465.2 525.3h.1M466.4 525.5h.1M467.4 525.9h.1M465.0 526.9h.1M466.8 526.6h.1M467.9 526.5h.1M464.1 528.1h.1M465.8 528.6h.1M467.3 527.8h.1M468.5 528.4h.1M464.0 529.3h.1M465.0 529.8h.1M466.9 529.3h.1M467.8 529.8h.1M469.2 529.7h.1M463.2 531.1h.1M465.0 530.6h.1M466.4 530.7h.1M467.5 530.5h.1M469.1 531.0h.1M463.5 531.9h.1M464.9 531.9h.1M466.2 532.1h.1M466.8 532.1h.1M468.3 532.1h.1M470.1 532.3h.1M462.5 533.4h.1M463.4 533.1h.1M465.3 533.4h.1M466.8 533.6h.1M467.7 533.7h.1M469.3 533.1h.1M470.4 533.0h.1M461.4 534.4h.1M463.5 534.9h.1M464.4 535.0h.1M465.9 534.4h.1M467.5 534.5h.1M468.3 534.4h.1M469.8 534.5h.1M471.6 534.6h.1M460.9 536.3h.1M462.9 536.0h.1M464.0 536.2h.1M464.9 536.3h.1M466.8 536.2h.1M467.8 535.9h.1M469.3 536.2h.1M470.8 536.3h.1M472.1 536.4h.1M460.7 537.1h.1M461.7 537.2h.1M463.5 537.4h.1M464.6 537.6h.1M465.4 537.3h.1M466.9 537.2h.1M468.5 537.2h.1M469.5 537.6h.1M471.3 537.0h.1M472.1 537.4h.1M459.9 538.6h.1M461.2 538.8h.1M462.7 538.2h.1M464.1 538.8h.1M465.3 538.7h.1M466.8 538.5h.1M468.2 538.6h.1M469.3 538.7h.1M470.1 538.9h.1M471.7 538.9h.1M473.4 538.8h.1M459.4 539.9h.1M460.8 540.1h.1M462.4 539.8h.1M463.6 539.8h.1M465.2 539.8h.1M466.3 540.1h.1M467.8 540.1h.1M469.3 539.8h.1M470.8 539.8h.1M472.0 540.3h.1M473.5 540.3h.1M459.2 541.3h.1M460.8 540.8h.1M462.1 541.1h.1M463.0 541.4h.1M464.4 540.9h.1M465.7 541.1h.1M466.9 541.1h.1M468.6 540.9h.1M469.9 541.5h.1M470.8 541.3h.1M472.5 541.5h.1M473.6 540.8h.1M458.6 542.2h.1M460.7 542.7h.1M461.4 542.3h.1M463.3 542.7h.1M464.2 542.3h.1M465.9 542.6h.1M467.2 542.7h.1M468.5 542.9h.1M469.9 542.8h.1M471.1 542.8h.1M473.0 542.9h.1M474.3 542.3h.1M458.4 543.7h.1M459.9 543.4h.1M461.4 543.6h.1M462.8 543.5h.1M464.3 544.0h.1M465.3 543.5h.1M466.6 543.8h.1M468.0 543.5h.1M469.2 543.6h.1M470.8 543.6h.1M472.1 543.6h.1M472.7 543.9h.1M474.2 543.6h.1M458.5 544.9h.1M460.2 545.4h.1M461.5 545.5h.1M462.4 545.1h.1M464.0 544.8h.1M465.1 544.8h.1M466.1 544.9h.1M468.2 544.9h.1M468.7 545.0h.1M470.8 545.0h.1M471.9 545.2h.1M473.0 545.4h.1M474.7 545.3h.1M458.4 546.3h.1M459.9 546.7h.1M461.3 546.7h.1M462.6 546.2h.1M464.0 546.5h.1M465.0 546.5h.1M466.8 546.7h.1M468.2 546.4h.1M469.3 546.4h.1M470.1 546.0h.1M472.2 546.1h.1M473.1 546.6h.1M474.9 546.0h.1M458.7 547.8h.1M459.4 547.8h.1M461.2 547.6h.1M462.4 547.7h.1M463.9 547.7h.1M465.2 547.7h.1M466.2 547.5h.1M468.0 547.5h.1M469.5 547.5h.1M471.0 547.4h.1M471.7 547.7h.1M473.4 547.9h.1M474.7 547.6h.1M458.4 548.8h.1M459.9 548.7h.1M460.7 548.9h.1M462.2 549.0h.1M463.7 549.3h.1M465.0 549.2h.1M466.6 548.8h.1M467.7 549.3h.1M469.4 548.9h.1M470.8 548.8h.1M472.2 549.1h.1M473.1 548.7h.1M474.5 549.3h.1M458.8 550.6h.1M459.5 550.4h.1M461.5 550.6h.1M462.6 550.2h.1M464.1 550.7h.1M464.7 550.2h.1M466.5 550.0h.1M468.1 550.1h.1M469.0 550.4h.1M471.0 550.3h.1M472.3 550.4h.1M472.9 550.5h.1M474.2 550.4h.1M458.9 551.8h.1M460.0 551.4h.1M461.7 551.5h.1M462.2 551.5h.1M464.2 551.7h.1M465.6 551.5h.1M466.3 551.5h.1M468.1 551.4h.1M468.8 551.7h.1M470.0 551.2h.1M471.5 551.9h.1M473.2 551.6h.1M474.5 551.3h.1M459.3 552.6h.1M460.4 553.0h.1M461.6 553.2h.1M463.0 552.7h.1M464.7 552.8h.1M465.8 552.9h.1M467.1 552.7h.1M468.1 552.8h.1M470.1 552.7h.1M471.5 553.1h.1M472.8 553.3h.1M473.9 552.7h.1M459.1 554.5h.1M461.0 554.3h.1M461.6 554.3h.1M462.8 554.6h.1M464.9 554.3h.1M465.5 554.4h.1M466.9 554.0h.1M468.6 554.1h.1M470.2 553.9h.1M471.5 553.9h.1M472.2 554.4h.1M473.5 554.3h.1M459.5 555.2h.1M461.3 555.6h.1M462.1 555.4h.1M463.7 555.3h.1M465.1 555.4h.1M466.3 555.2h.1M467.6 555.8h.1M469.0 555.9h.1M470.9 555.3h.1M471.9 555.6h.1M473.3 555.8h.1M459.6 557.1h.1M461.2 556.5h.1M462.7 557.0h.1M463.8 556.7h.1M465.3 556.4h.1M466.7 556.7h.1M467.4 557.2h.1M469.2 557.1h.1M470.0 556.5h.1M471.7 556.4h.1M472.8 556.7h.1M460.8 558.3h.1M461.9 558.1h.1M462.8 558.5h.1M464.9 558.4h.1M465.7 558.3h.1M466.9 558.3h.1M468.7 557.9h.1M469.8 558.4h.1M471.4 558.2h.1M472.8 558.4h.1M460.5 559.1h.1M462.3 559.4h.1M463.9 559.7h.1M465.3 559.1h.1M466.5 559.8h.1M468.2 559.4h.1M468.9 559.4h.1M470.6 559.4h.1M471.9 559.5h.1M461.5 560.7h.1M462.3 560.5h.1M463.6 560.9h.1M465.1 560.3h.1M466.6 560.5h.1M468.1 560.5h.1M469.3 561.0h.1M470.1 560.5h.1M471.6 560.8h.1M462.1 561.9h.1M463.4 561.9h.1M464.2 562.3h.1M465.9 561.7h.1M466.8 562.3h.1M468.4 562.3h.1M469.7 562.2h.1M471.6 562.2h.1M462.8 563.1h.1M463.5 563.1h.1M464.7 563.0h.1M466.2 563.3h.1M467.8 563.1h.1M469.4 563.2h.1M470.4 563.6h.1M463.2 564.4h.1M464.6 564.9h.1M466.0 564.6h.1M467.3 564.9h.1M468.4 564.2h.1M469.8 564.9h.1M463.0 566.2h.1M464.9 565.8h.1M465.8 565.6h.1M467.5 566.0h.1M468.4 566.0h.1M469.7 565.8h.1M463.4 567.2h.1M465.0 567.5h.1M466.1 566.9h.1M467.6 567.4h.1M468.9 567.6h.1M464.4 568.5h.1M465.6 568.6h.1M467.1 568.9h.1M469.1 568.5h.1M464.5 569.8h.1M465.3 569.7h.1M467.6 570.0h.1M468.6 569.6h.1M464.4 570.9h.1M465.7 571.0h.1M467.3 571.0h.1M468.4 571.0h.1M464.5 572.6h.1M465.9 572.4h.1M467.1 572.3h.1M468.7 572.0h.1M464.6 573.5h.1M466.2 573.4h.1M466.8 573.7h.1M468.4 573.5h.1M466.5 508.0h.1M466.5 511.0h.1M466.9 514.0h.1M466.1 517.0h.1M466.5 520.0h.1" stroke="#7878bd" stroke-width="1.75" stroke-linecap="round" fill="none"/>
<path d="M494.3 548.7h.1M493.9 550.6h.1M495.0 550.4h.1M492.8 551.3h.1M494.2 552.0h.1M495.1 551.8h.1M492.5 552.8h.1M493.8 552.7h.1M495.1 553.1h.1M495.8 552.7h.1M491.9 554.5h.1M493.0 554.1h.1M494.3 554.5h.1M495.4 554.2h.1M496.6 554.5h.1M491.2 555.6h.1M492.0 555.6h.1M494.0 555.5h.1M494.7 555.6h.1M496.0 555.7h.1M497.7 555.4h.1M490.1 557.1h.1M491.4 557.0h.1M492.9 556.8h.1M494.1 556.7h.1M496.0 556.6h.1M497.4 556.9h.1M498.7 557.1h.1M489.0 557.8h.1M490.0 558.5h.1M491.6 558.1h.1M492.7 558.0h.1M494.4 557.8h.1M495.6 557.8h.1M497.0 557.7h.1M497.9 557.8h.1M499.6 558.3h.1M487.2 559.2h.1M488.7 559.3h.1M490.5 559.4h.1M491.7 559.4h.1M492.5 559.3h.1M493.9 559.8h.1M495.5 559.2h.1M497.3 559.4h.1M498.5 559.8h.1M499.6 559.5h.1M500.7 559.8h.1M486.2 560.8h.1M487.5 560.6h.1M489.0 560.8h.1M491.1 560.4h.1M491.8 560.7h.1M493.2 560.6h.1M495.0 560.7h.1M496.1 560.7h.1M497.9 561.0h.1M499.5 560.5h.1M500.1 560.7h.1M502.2 560.5h.1M486.2 562.0h.1M487.7 562.1h.1M488.8 562.4h.1M490.1 562.3h.1M491.3 561.8h.1M493.0 561.7h.1M494.0 562.2h.1M495.9 562.1h.1M496.8 562.3h.1M498.7 562.1h.1M500.0 562.1h.1M501.0 561.9h.1M502.7 562.3h.1M485.2 563.6h.1M486.7 563.6h.1M488.0 563.0h.1M489.7 562.9h.1M490.6 562.9h.1M492.5 563.4h.1M493.1 563.0h.1M494.6 563.6h.1M496.4 562.9h.1M497.9 562.9h.1M498.9 563.6h.1M500.1 562.9h.1M501.9 563.4h.1M503.0 563.1h.1M486.8 564.5h.1M487.8 564.5h.1M489.1 565.0h.1M490.0 564.3h.1M491.7 564.8h.1M492.7 564.8h.1M493.9 564.3h.1M495.4 564.3h.1M496.8 564.8h.1M497.7 564.4h.1M499.7 564.9h.1M500.9 564.5h.1M501.8 565.0h.1M486.8 566.1h.1M488.5 565.5h.1M490.2 566.2h.1M491.8 565.9h.1M493.0 566.2h.1M494.3 565.9h.1M495.6 565.9h.1M496.9 566.0h.1M498.0 565.9h.1M499.8 566.0h.1M501.0 566.2h.1M488.3 567.1h.1M489.7 567.4h.1M490.8 566.9h.1M492.0 567.3h.1M493.2 567.6h.1M494.5 567.1h.1M496.6 567.0h.1M497.6 567.5h.1M499.4 567.5h.1M500.0 567.5h.1M488.7 568.3h.1M489.6 568.2h.1M491.8 568.6h.1M492.6 568.4h.1M494.2 568.2h.1M495.7 568.6h.1M497.0 568.8h.1M498.4 568.5h.1M499.4 568.2h.1M489.5 570.1h.1M490.5 569.8h.1M491.7 569.4h.1M493.5 569.8h.1M495.2 570.1h.1M495.9 569.9h.1M497.7 569.9h.1M499.2 569.8h.1M489.8 571.5h.1M491.8 570.9h.1M492.6 571.1h.1M494.0 571.4h.1M496.0 571.4h.1M497.1 571.3h.1M498.2 570.9h.1M490.6 572.6h.1M492.3 572.7h.1M493.1 572.7h.1M495.0 572.1h.1M496.0 572.5h.1M497.7 572.2h.1M491.5 573.5h.1M492.6 574.1h.1M494.2 573.4h.1M495.6 573.8h.1M497.3 574.1h.1M494.2 540.0h.1M494.2 542.0h.1M494.5 544.0h.1M494.2 546.0h.1M494.2 548.0h.1" stroke="#7878bd" stroke-width="1.75" stroke-linecap="round" fill="none"/>
<line x1="401.60" y1="540.20" x2="420.00" y2="540.20" stroke="#1a1a38" stroke-width="1.3"/>
<line x1="429.50" y1="549.80" x2="447.90" y2="549.80" stroke="#1a1a38" stroke-width="1.3"/>
<line x1="457.30" y1="549.20" x2="475.70" y2="549.20" stroke="#1a1a38" stroke-width="1.3"/>
<line x1="485.00" y1="562.80" x2="503.40" y2="562.80" stroke="#1a1a38" stroke-width="1.3"/>
<line x1="410.50" y1="574.90" x2="410.50" y2="577.40" stroke="#222" stroke-width="0.8"/>
<line x1="438.50" y1="574.90" x2="438.50" y2="577.40" stroke="#222" stroke-width="0.8"/>
<line x1="466.50" y1="574.90" x2="466.50" y2="577.40" stroke="#222" stroke-width="0.8"/>
<line x1="494.50" y1="574.90" x2="494.50" y2="577.40" stroke="#222" stroke-width="0.8"/>
<text transform="translate(410.00,585.20) rotate(-45)" font-size="6.1" text-anchor="end" fill="#383838">WT</text>
<text transform="translate(437.90,585.20) rotate(-45)" font-size="6.1" text-anchor="end" fill="#383838">PVR KO</text>
<text transform="translate(465.70,585.20) rotate(-45)" font-size="6.1" text-anchor="end" fill="#383838">B7H6 KO</text>
<text transform="translate(493.40,585.20) rotate(-45)" font-size="6.1" text-anchor="end" fill="#383838">PVR B7H6 KO</text>
<path d="M410.1,454 V451.9 H494.1 V480.5" fill="none" stroke="#444" stroke-width="0.8"/>
<path d="M410.1,464 V462.1 H467.2 V478.3" fill="none" stroke="#444" stroke-width="0.8"/>
<path d="M410.1,474 V472.0 H437.6 V487.9" fill="none" stroke="#444" stroke-width="0.8"/>
<path d="M440.2,498.4 V487.4 H494.1 V492" fill="none" stroke="#444" stroke-width="0.8"/>
<path d="M467.2,509 V499.1 H494.1 V515" fill="none" stroke="#444" stroke-width="0.8"/>
<text x="452.40" y="448.10" font-size="6.4" text-anchor="middle" fill="#333">&lt;0.0001</text>
<text x="439.10" y="458.30" font-size="6.4" text-anchor="middle" fill="#333">&lt;0.0001</text>
<text x="423.70" y="468.20" font-size="6.4" text-anchor="middle" fill="#333">&lt;0.0001</text>
<text x="467.20" y="483.60" font-size="6.4" text-anchor="middle" fill="#333">&lt;0.0001</text>
<text x="480.80" y="495.30" font-size="6.4" text-anchor="middle" fill="#333">&lt;0.0001</text>
<rect x="0.5" y="0.5" width="519" height="626" fill="none" stroke="#4a4a4a" stroke-width="1"/>
</svg></body></html>
